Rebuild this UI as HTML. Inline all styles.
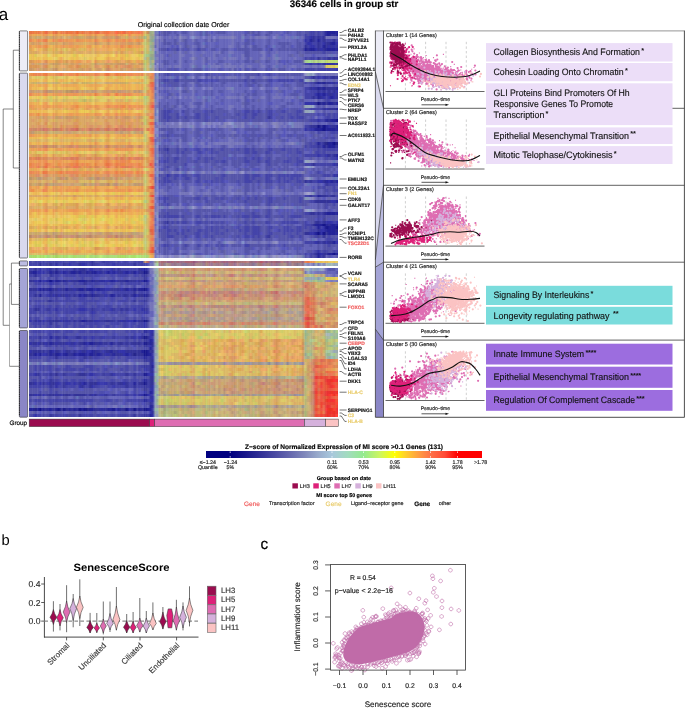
<!DOCTYPE html>
<html><head><meta charset="utf-8"><style>
html,body{margin:0;padding:0;background:#fff;}
body{width:685px;height:708px;overflow:hidden;position:relative;font-family:"Liberation Sans",sans-serif;}
.h{position:absolute;}
svg{position:absolute;left:0;top:0;will-change:transform;}
svg text{text-rendering:geometricPrecision;}
svg text{font-family:"Liberation Sans",sans-serif;}
.tx{background:linear-gradient(90deg,rgba(60,40,90,0.02) 0.0px 1.0px,rgba(60,40,90,0.02) 1.0px 2.0px,rgba(60,40,90,0.03) 2.0px 3.3px,rgba(255,255,255,0.04) 3.3px 4.1px,rgba(60,40,90,0.01) 4.1px 5.1px,rgba(255,255,255,0.01) 5.1px 6.4px,rgba(60,40,90,0.02) 6.4px 7.2px,rgba(60,40,90,0.03) 7.2px 8.2px,rgba(255,255,255,0.06) 8.2px 9.2px,rgba(60,40,90,0.01) 9.2px 10.0px,rgba(60,40,90,0.01) 10.0px 11.0px,rgba(60,40,90,0.01) 11.0px 12.3px,rgba(255,255,255,0.08) 12.3px 13.6px,rgba(60,40,90,0.01) 13.6px 14.6px,rgba(255,255,255,0.02) 14.6px 15.6px,rgba(255,255,255,0.02) 15.6px 16.6px,rgba(255,255,255,0.00) 16.6px 17.4px,rgba(60,40,90,0.02) 17.4px 18.4px,rgba(60,40,90,0.03) 18.4px 19.4px,rgba(255,255,255,0.04) 19.4px 20.4px,rgba(255,255,255,0.00) 20.4px 21.7px,rgba(255,255,255,0.02) 21.7px 22.7px,rgba(255,255,255,0.03) 22.7px 23.7px,rgba(60,40,90,0.03) 23.7px 24.7px,rgba(60,40,90,0.07) 24.7px 25.5px,rgba(255,255,255,0.06) 25.5px 26.5px,rgba(60,40,90,0.05) 26.5px 27.3px,rgba(60,40,90,0.08) 27.3px 28.1px,rgba(60,40,90,0.05) 28.1px 28.9px,rgba(255,255,255,0.01) 28.9px 30.2px,rgba(255,255,255,0.02) 30.2px 31.2px,rgba(255,255,255,0.01) 31.2px 32.0px,rgba(255,255,255,0.03) 32.0px 32.8px,rgba(255,255,255,0.07) 32.8px 33.8px,rgba(60,40,90,0.04) 33.8px 34.6px,rgba(255,255,255,0.04) 34.6px 35.9px,rgba(255,255,255,0.01) 35.9px 36.9px,rgba(60,40,90,0.04) 36.9px 37.7px,rgba(60,40,90,0.03) 37.7px 38.5px,rgba(60,40,90,0.04) 38.5px 39.5px,rgba(255,255,255,0.03) 39.5px 40.5px,rgba(255,255,255,0.01) 40.5px 41.3px,rgba(255,255,255,0.01) 41.3px 42.3px,rgba(60,40,90,0.00) 42.3px 43.3px,rgba(255,255,255,0.01) 43.3px 44.1px,rgba(60,40,90,0.03) 44.1px 45.1px,rgba(60,40,90,0.01) 45.1px 46.1px,rgba(60,40,90,0.01) 46.1px 46.9px,rgba(60,40,90,0.01) 46.9px 48.2px,rgba(60,40,90,0.00) 48.2px 49.0px,rgba(60,40,90,0.01) 49.0px 50.3px,rgba(60,40,90,0.01) 50.3px 51.1px,rgba(60,40,90,0.02) 51.1px 52.1px,rgba(255,255,255,0.01) 52.1px 53.1px,rgba(60,40,90,0.01) 53.1px 54.1px,rgba(255,255,255,0.00) 54.1px 55.1px,rgba(60,40,90,0.05) 55.1px 56.4px,rgba(255,255,255,0.03) 56.4px 57.4px,rgba(60,40,90,0.02) 57.4px 58.4px,rgba(255,255,255,0.02) 58.4px 59.2px,rgba(255,255,255,0.03) 59.2px 60.5px,rgba(60,40,90,0.02) 60.5px 61.3px,rgba(60,40,90,0.03) 61.3px 62.6px,rgba(60,40,90,0.01) 62.6px 63.6px,rgba(255,255,255,0.04) 63.6px 64.6px,rgba(255,255,255,0.00) 64.6px 65.9px,rgba(60,40,90,0.06) 65.9px 66.7px,rgba(60,40,90,0.03) 66.7px 67.7px,rgba(60,40,90,0.01) 67.7px 68.7px,rgba(255,255,255,0.01) 68.7px 69.7px,rgba(255,255,255,0.03) 69.7px 70.5px,rgba(255,255,255,0.02) 70.5px 71.5px,rgba(255,255,255,0.05) 71.5px 72.5px,rgba(255,255,255,0.05) 72.5px 73.8px,rgba(255,255,255,0.06) 73.8px 74.8px,rgba(255,255,255,0.02) 74.8px 76.1px,rgba(255,255,255,0.03) 76.1px 76.9px,rgba(60,40,90,0.02) 76.9px 77.9px,rgba(60,40,90,0.03) 77.9px 78.9px,rgba(60,40,90,0.03) 78.9px 79.9px,rgba(255,255,255,0.01) 79.9px 81.2px,rgba(255,255,255,0.02) 81.2px 82.5px,rgba(60,40,90,0.01) 82.5px 83.5px,rgba(255,255,255,0.01) 83.5px 84.5px,rgba(255,255,255,0.04) 84.5px 85.5px,rgba(255,255,255,0.01) 85.5px 86.3px,rgba(255,255,255,0.03) 86.3px 87.3px,rgba(255,255,255,0.03) 87.3px 88.3px,rgba(60,40,90,0.01) 88.3px 89.6px,rgba(255,255,255,0.02) 89.6px 90.9px,rgba(60,40,90,0.03) 90.9px 91.9px,rgba(255,255,255,0.01) 91.9px 92.7px,rgba(60,40,90,0.03) 92.7px 93.5px,rgba(60,40,90,0.02) 93.5px 94.5px,rgba(255,255,255,0.00) 94.5px 95.8px,rgba(60,40,90,0.05) 95.8px 97.1px,rgba(255,255,255,0.01) 97.1px 98.1px,rgba(60,40,90,0.03) 98.1px 98.9px,rgba(60,40,90,0.02) 98.9px 99.9px,rgba(255,255,255,0.02) 99.9px 101.2px,rgba(255,255,255,0.02) 101.2px 102.0px,rgba(255,255,255,0.00) 102.0px 103.0px,rgba(255,255,255,0.03) 103.0px 103.8px,rgba(255,255,255,0.01) 103.8px 105.1px,rgba(255,255,255,0.01) 105.1px 106.1px,rgba(255,255,255,0.00) 106.1px 106.9px,rgba(255,255,255,0.04) 106.9px 107.9px,rgba(255,255,255,0.05) 107.9px 108.9px,rgba(60,40,90,0.02) 108.9px 109.9px,rgba(60,40,90,0.04) 109.9px 110.9px,rgba(255,255,255,0.02) 110.9px 111.7px,rgba(60,40,90,0.04) 111.7px 112.7px,rgba(60,40,90,0.02) 112.7px 113.7px,rgba(255,255,255,0.04) 113.7px 115.0px,rgba(60,40,90,0.00) 115.0px 116.0px,rgba(255,255,255,0.08) 116.0px 117.3px,rgba(60,40,90,0.03) 117.3px 118.3px,rgba(60,40,90,0.02) 118.3px 119.3px,rgba(60,40,90,0.01) 119.3px 120.3px,rgba(255,255,255,0.01) 120.3px 121.6px,rgba(60,40,90,0.02) 121.6px 122.6px,rgba(60,40,90,0.02) 122.6px 123.6px,rgba(255,255,255,0.03) 123.6px 124.9px,rgba(255,255,255,0.05) 124.9px 125.7px,rgba(60,40,90,0.02) 125.7px 126.5px,rgba(60,40,90,0.02) 126.5px 127.8px,rgba(60,40,90,0.00) 127.8px 128.6px,rgba(255,255,255,0.04) 128.6px 129.9px,rgba(60,40,90,0.01) 129.9px 130.9px,rgba(255,255,255,0.09) 130.9px 131.9px,rgba(60,40,90,0.01) 131.9px 132.9px,rgba(255,255,255,0.01) 132.9px 133.9px,rgba(60,40,90,0.06) 133.9px 134.9px,rgba(60,40,90,0.05) 134.9px 135.9px,rgba(60,40,90,0.03) 135.9px 136.9px,rgba(255,255,255,0.07) 136.9px 137.9px,rgba(60,40,90,0.00) 137.9px 138.7px,rgba(60,40,90,0.02) 138.7px 139.7px,rgba(60,40,90,0.02) 139.7px 141.0px,rgba(255,255,255,0.01) 141.0px 141.8px,rgba(60,40,90,0.04) 141.8px 142.8px,rgba(255,255,255,0.00) 142.8px 143.6px,rgba(255,255,255,0.04) 143.6px 144.4px,rgba(255,255,255,0.01) 144.4px 145.4px,rgba(60,40,90,0.04) 145.4px 146.2px,rgba(60,40,90,0.01) 146.2px 147.5px,rgba(60,40,90,0.02) 147.5px 148.5px,rgba(60,40,90,0.01) 148.5px 149.8px,rgba(255,255,255,0.05) 149.8px 150.8px,rgba(255,255,255,0.05) 150.8px 151.8px,rgba(60,40,90,0.01) 151.8px 152.8px,rgba(255,255,255,0.00) 152.8px 153.8px,rgba(60,40,90,0.02) 153.8px 154.8px,rgba(255,255,255,0.01) 154.8px 155.6px,rgba(60,40,90,0.02) 155.6px 156.4px,rgba(60,40,90,0.03) 156.4px 157.4px,rgba(60,40,90,0.03) 157.4px 158.7px,rgba(60,40,90,0.02) 158.7px 160.0px,rgba(255,255,255,0.00) 160.0px 161.0px,rgba(255,255,255,0.00) 161.0px 161.8px,rgba(60,40,90,0.02) 161.8px 162.6px,rgba(255,255,255,0.01) 162.6px 163.4px,rgba(255,255,255,0.04) 163.4px 164.2px,rgba(255,255,255,0.00) 164.2px 165.2px,rgba(60,40,90,0.03) 165.2px 166.2px,rgba(255,255,255,0.02) 166.2px 167.5px,rgba(60,40,90,0.01) 167.5px 168.5px,rgba(60,40,90,0.00) 168.5px 169.3px,rgba(60,40,90,0.00) 169.3px 170.6px,rgba(60,40,90,0.00) 170.6px 171.9px,rgba(255,255,255,0.04) 171.9px 173.2px,rgba(255,255,255,0.02) 173.2px 174.2px,rgba(255,255,255,0.02) 174.2px 175.2px,rgba(60,40,90,0.00) 175.2px 176.0px,rgba(60,40,90,0.03) 176.0px 176.8px,rgba(255,255,255,0.04) 176.8px 177.8px,rgba(60,40,90,0.00) 177.8px 178.6px,rgba(255,255,255,0.04) 178.6px 179.9px,rgba(60,40,90,0.02) 179.9px 180.9px,rgba(255,255,255,0.07) 180.9px 181.9px,rgba(255,255,255,0.00) 181.9px 182.7px,rgba(60,40,90,0.00) 182.7px 183.7px,rgba(255,255,255,0.01) 183.7px 184.7px,rgba(60,40,90,0.02) 184.7px 185.7px,rgba(255,255,255,0.01) 185.7px 186.7px,rgba(255,255,255,0.03) 186.7px 187.7px,rgba(255,255,255,0.04) 187.7px 189.0px,rgba(60,40,90,0.02) 189.0px 190.3px,rgba(255,255,255,0.02) 190.3px 191.6px,rgba(60,40,90,0.04) 191.6px 192.4px,rgba(255,255,255,0.02) 192.4px 193.7px,rgba(60,40,90,0.01) 193.7px 194.7px,rgba(60,40,90,0.03) 194.7px 195.7px,rgba(255,255,255,0.03) 195.7px 196.7px,rgba(255,255,255,0.01) 196.7px 197.7px,rgba(255,255,255,0.00) 197.7px 198.7px,rgba(255,255,255,0.05) 198.7px 199.7px,rgba(60,40,90,0.01) 199.7px 200.5px,rgba(255,255,255,0.03) 200.5px 201.3px,rgba(255,255,255,0.03) 201.3px 202.1px,rgba(60,40,90,0.00) 202.1px 202.9px,rgba(60,40,90,0.01) 202.9px 203.9px,rgba(255,255,255,0.02) 203.9px 204.9px,rgba(60,40,90,0.05) 204.9px 205.7px,rgba(255,255,255,0.02) 205.7px 207.0px,rgba(255,255,255,0.01) 207.0px 207.8px,rgba(255,255,255,0.06) 207.8px 208.6px,rgba(255,255,255,0.01) 208.6px 209.4px,rgba(60,40,90,0.02) 209.4px 210.4px,rgba(255,255,255,0.00) 210.4px 211.4px,rgba(60,40,90,0.01) 211.4px 212.4px,rgba(255,255,255,0.03) 212.4px 213.2px,rgba(60,40,90,0.00) 213.2px 214.2px,rgba(255,255,255,0.02) 214.2px 215.2px,rgba(255,255,255,0.00) 215.2px 216.2px,rgba(60,40,90,0.04) 216.2px 217.5px,rgba(60,40,90,0.01) 217.5px 218.5px,rgba(60,40,90,0.01) 218.5px 219.8px,rgba(60,40,90,0.05) 219.8px 220.6px,rgba(255,255,255,0.02) 220.6px 221.6px,rgba(60,40,90,0.01) 221.6px 222.9px,rgba(60,40,90,0.04) 222.9px 223.9px,rgba(60,40,90,0.02) 223.9px 224.7px,rgba(60,40,90,0.01) 224.7px 226.0px,rgba(60,40,90,0.02) 226.0px 226.8px,rgba(60,40,90,0.00) 226.8px 227.6px,rgba(60,40,90,0.01) 227.6px 228.4px,rgba(255,255,255,0.01) 228.4px 229.4px,rgba(60,40,90,0.06) 229.4px 230.7px,rgba(60,40,90,0.04) 230.7px 231.7px,rgba(60,40,90,0.00) 231.7px 232.7px,rgba(255,255,255,0.02) 232.7px 233.7px,rgba(255,255,255,0.04) 233.7px 235.0px,rgba(255,255,255,0.06) 235.0px 235.8px,rgba(255,255,255,0.01) 235.8px 237.1px,rgba(60,40,90,0.05) 237.1px 237.9px,rgba(60,40,90,0.02) 237.9px 238.9px,rgba(255,255,255,0.02) 238.9px 240.2px,rgba(60,40,90,0.04) 240.2px 241.0px,rgba(255,255,255,0.02) 241.0px 242.0px,rgba(60,40,90,0.01) 242.0px 243.0px,rgba(255,255,255,0.03) 243.0px 244.0px,rgba(255,255,255,0.04) 244.0px 245.3px,rgba(60,40,90,0.00) 245.3px 246.6px,rgba(60,40,90,0.05) 246.6px 247.6px,rgba(60,40,90,0.01) 247.6px 248.4px,rgba(60,40,90,0.03) 248.4px 249.4px,rgba(60,40,90,0.02) 249.4px 250.7px,rgba(255,255,255,0.02) 250.7px 251.7px,rgba(255,255,255,0.03) 251.7px 252.7px,rgba(255,255,255,0.02) 252.7px 253.7px,rgba(255,255,255,0.02) 253.7px 254.7px,rgba(60,40,90,0.01) 254.7px 255.7px,rgba(255,255,255,0.05) 255.7px 256.7px,rgba(255,255,255,0.05) 256.7px 257.7px,rgba(60,40,90,0.01) 257.7px 258.7px,rgba(255,255,255,0.01) 258.7px 259.7px,rgba(255,255,255,0.07) 259.7px 260.7px,rgba(255,255,255,0.02) 260.7px 261.5px,rgba(255,255,255,0.04) 261.5px 262.5px,rgba(255,255,255,0.01) 262.5px 263.8px,rgba(255,255,255,0.01) 263.8px 264.8px,rgba(60,40,90,0.02) 264.8px 265.8px,rgba(255,255,255,0.01) 265.8px 266.6px,rgba(255,255,255,0.01) 266.6px 267.6px,rgba(255,255,255,0.03) 267.6px 268.4px,rgba(60,40,90,0.04) 268.4px 269.2px,rgba(255,255,255,0.03) 269.2px 270.2px,rgba(60,40,90,0.02) 270.2px 271.2px,rgba(255,255,255,0.00) 271.2px 272.5px,rgba(60,40,90,0.00) 272.5px 273.3px,rgba(60,40,90,0.07) 273.3px 274.6px,rgba(255,255,255,0.03) 274.6px 275.9px,rgba(60,40,90,0.04) 275.9px 276.9px,rgba(60,40,90,0.02) 276.9px 277.9px,rgba(60,40,90,0.03) 277.9px 278.9px,rgba(60,40,90,0.01) 278.9px 279.9px,rgba(60,40,90,0.01) 279.9px 281.2px,rgba(255,255,255,0.01) 281.2px 282.2px,rgba(60,40,90,0.05) 282.2px 283.2px,rgba(255,255,255,0.02) 283.2px 284.2px,rgba(60,40,90,0.03) 284.2px 285.0px,rgba(60,40,90,0.04) 285.0px 286.3px,rgba(60,40,90,0.01) 286.3px 287.3px,rgba(255,255,255,0.01) 287.3px 288.3px,rgba(60,40,90,0.03) 288.3px 289.6px,rgba(255,255,255,0.04) 289.6px 290.4px,rgba(255,255,255,0.01) 290.4px 291.4px,rgba(60,40,90,0.01) 291.4px 292.4px,rgba(60,40,90,0.00) 292.4px 293.7px,rgba(60,40,90,0.01) 293.7px 294.7px,rgba(60,40,90,0.04) 294.7px 295.7px,rgba(60,40,90,0.06) 295.7px 296.7px,rgba(255,255,255,0.04) 296.7px 297.7px,rgba(60,40,90,0.04) 297.7px 298.7px,rgba(255,255,255,0.03) 298.7px 299.5px,rgba(60,40,90,0.01) 299.5px 300.5px,rgba(60,40,90,0.02) 300.5px 301.8px,rgba(255,255,255,0.01) 301.8px 303.1px,rgba(255,255,255,0.00) 303.1px 304.4px,rgba(60,40,90,0.01) 304.4px 305.4px,rgba(60,40,90,0.01) 305.4px 306.4px,rgba(255,255,255,0.03) 306.4px 307.7px,rgba(60,40,90,0.01) 307.7px 308.7px,rgba(60,40,90,0.02) 308.7px 310.0px)}
</style></head><body>
<div class="h" style="left:29.2px;top:30.60px;width:309.1px;height:2.95px;background:linear-gradient(90deg,#e74 1.3px,#e74 3.9px,#e84 6.5px,#e74 9.1px,#e85 11.7px,#e84 14.3px,#e64 17.0px,#e85 19.6px,#e95 22.2px,#e74 24.8px,#e74 27.4px,#e95 30.0px,#e74 32.6px,#e85 35.2px,#e74 37.8px,#e74 40.4px,#e74 43.0px,#e85 45.7px,#e63 48.3px,#e85 50.9px,#e74 53.5px,#e85 56.1px,#e85 58.7px,#e74 61.3px,#e85 63.9px,#e74 66.5px,#e64 69.1px,#e85 71.8px,#e74 74.4px,#e74 77.0px,#f74 79.6px,#e85 82.2px,#e85 84.8px,#f64 87.4px,#e74 90.0px,#f74 92.6px,#e64 95.2px,#e85 97.8px,#f74 100.5px,#e74 103.1px,#e85 105.7px,#e74 108.3px,#f75 110.9px,#e85 113.5px,#db6 116.2px,#c85 119.0px,#9a8 121.6px,#ab8 124.1px,#77b 126.4px,#78b 128.3px,#55b 130.6px,#66a 133.2px,#55a 135.8px,#55a 138.4px,#55a 141.0px,#66b 143.6px,#55a 146.2px,#66b 148.8px,#66b 151.4px,#55a 154.1px,#55a 156.7px,#66b 159.3px,#77b 161.9px,#77b 164.5px,#66b 167.1px,#66b 169.7px,#55a 172.3px,#67b 174.9px,#55a 177.5px,#66b 180.1px,#55b 182.7px,#66b 185.3px,#55a 187.9px,#55a 190.5px,#55a 193.1px,#55a 195.7px,#66b 198.3px,#66b 200.9px,#77b 203.6px,#66b 206.2px,#66b 208.8px,#66b 211.4px,#66b 214.0px,#55b 216.6px,#55a 219.2px,#66a 221.8px,#55a 224.4px,#66b 227.0px,#55a 229.6px,#66b 232.2px,#66b 234.8px,#66b 237.4px,#55a 240.0px,#55a 242.6px,#66b 245.2px,#66b 247.8px,#66b 250.4px,#66b 253.1px,#55b 255.7px,#55a 258.3px,#55a 260.9px,#66b 263.5px,#66b 266.1px,#55a 268.7px,#55a 271.3px,#66b 273.9px,#55a 276.5px,#55a 279.2px,#44a 281.8px,#44a 284.5px,#55a 287.1px,#44a 289.7px,#55a 292.4px,#44a 295.0px,#229 297.6px,#229 300.1px,#229 302.7px,#229 305.3px,#229 307.8px)"></div>
<div class="h" style="left:29.2px;top:33.50px;width:309.1px;height:2.95px;background:linear-gradient(90deg,#e95 1.3px,#ea5 3.9px,#ea5 6.5px,#ea5 9.1px,#ea5 11.7px,#e95 14.3px,#e95 17.0px,#ea5 19.6px,#eb5 22.2px,#e95 24.8px,#ea5 27.4px,#ea5 30.0px,#ea5 32.6px,#ea5 35.2px,#ea5 37.8px,#ea5 40.4px,#e95 43.0px,#e95 45.7px,#e95 48.3px,#eb5 50.9px,#ea5 53.5px,#ea5 56.1px,#e95 58.7px,#e95 61.3px,#ea5 63.9px,#e95 66.5px,#ea5 69.1px,#ea5 71.8px,#ea5 74.4px,#e85 77.0px,#e95 79.6px,#e95 82.2px,#e95 84.8px,#e85 87.4px,#ea5 90.0px,#e95 92.6px,#ea5 95.2px,#eb5 97.8px,#e85 100.5px,#ea5 103.1px,#ea5 105.7px,#e95 108.3px,#ea5 110.9px,#e95 113.5px,#cc6 116.2px,#cb6 119.0px,#9a8 121.6px,#aa8 124.1px,#77b 126.4px,#77b 128.3px,#55a 130.6px,#66b 133.2px,#55a 135.8px,#55a 138.4px,#66b 141.0px,#66b 143.6px,#66b 146.2px,#55a 148.8px,#77b 151.4px,#66b 154.1px,#66b 156.7px,#66b 159.3px,#77b 161.9px,#77b 164.5px,#66b 167.1px,#66b 169.7px,#55a 172.3px,#67b 174.9px,#55a 177.5px,#66a 180.1px,#66b 182.7px,#66b 185.3px,#66b 187.9px,#66b 190.5px,#66b 193.1px,#66b 195.7px,#66b 198.3px,#66b 200.9px,#77b 203.6px,#66b 206.2px,#66b 208.8px,#66b 211.4px,#77b 214.0px,#55a 216.6px,#66b 219.2px,#66b 221.8px,#55b 224.4px,#55a 227.0px,#55a 229.6px,#66b 232.2px,#66b 234.8px,#55a 237.4px,#55a 240.0px,#66b 242.6px,#66b 245.2px,#77b 247.8px,#66b 250.4px,#55b 253.1px,#66b 255.7px,#66b 258.3px,#55b 260.9px,#66b 263.5px,#66b 266.1px,#55a 268.7px,#55a 271.3px,#66b 273.9px,#44a 276.5px,#55a 279.2px,#44a 281.8px,#44a 284.5px,#55a 287.1px,#44a 289.7px,#55a 292.4px,#44a 295.0px,#229 297.6px,#229 300.1px,#339 302.7px,#339 305.3px,#229 307.8px)"></div>
<div class="h" style="left:29.2px;top:36.40px;width:309.1px;height:2.95px;background:linear-gradient(90deg,#c96 1.3px,#da6 3.9px,#ca6 6.5px,#ca7 9.1px,#ca6 11.7px,#da6 14.3px,#c96 17.0px,#ca7 19.6px,#ca6 22.2px,#c96 24.8px,#da6 27.4px,#da6 30.0px,#c96 32.6px,#db7 35.2px,#da6 37.8px,#ca7 40.4px,#d96 43.0px,#ca6 45.7px,#c96 48.3px,#ca6 50.9px,#ca6 53.5px,#da6 56.1px,#c96 58.7px,#c96 61.3px,#ca6 63.9px,#c96 66.5px,#da6 69.1px,#da6 71.8px,#c96 74.4px,#c96 77.0px,#d96 79.6px,#c96 82.2px,#ca6 84.8px,#c86 87.4px,#c96 90.0px,#da6 92.6px,#da6 95.2px,#cb6 97.8px,#d96 100.5px,#da6 103.1px,#ca7 105.7px,#d96 108.3px,#ca6 110.9px,#ca6 113.5px,#9b8 116.2px,#db6 119.0px,#9a9 121.6px,#9a8 124.1px,#78b 126.4px,#99c 128.3px,#77b 130.6px,#77b 133.2px,#66b 135.8px,#66b 138.4px,#77b 141.0px,#66b 143.6px,#77b 146.2px,#66b 148.8px,#88b 151.4px,#77b 154.1px,#77b 156.7px,#66b 159.3px,#88c 161.9px,#89c 164.5px,#77b 167.1px,#77b 169.7px,#66b 172.3px,#88c 174.9px,#66b 177.5px,#77b 180.1px,#66b 182.7px,#88c 185.3px,#66b 187.9px,#77b 190.5px,#77b 193.1px,#77b 195.7px,#77b 198.3px,#77b 200.9px,#88b 203.6px,#77b 206.2px,#66b 208.8px,#66b 211.4px,#78b 214.0px,#66b 216.6px,#66b 219.2px,#77b 221.8px,#66b 224.4px,#77b 227.0px,#77b 229.6px,#77b 232.2px,#77b 234.8px,#77b 237.4px,#66b 240.0px,#66b 242.6px,#88c 245.2px,#77b 247.8px,#67b 250.4px,#66b 253.1px,#66b 255.7px,#77b 258.3px,#66b 260.9px,#67b 263.5px,#77b 266.1px,#67b 268.7px,#66b 271.3px,#77b 273.9px,#44a 276.5px,#44a 279.2px,#33a 281.8px,#339 284.5px,#44a 287.1px,#339 289.7px,#44a 292.4px,#339 295.0px,#77b 297.6px,#77b 300.1px,#77b 302.7px,#77b 305.3px,#66b 307.8px)"></div>
<div class="h" style="left:29.2px;top:39.30px;width:309.1px;height:2.95px;background:linear-gradient(90deg,#e85 1.3px,#e95 3.9px,#ea5 6.5px,#e85 9.1px,#e95 11.7px,#e85 14.3px,#e74 17.0px,#ea5 19.6px,#ea5 22.2px,#e85 24.8px,#ea5 27.4px,#e85 30.0px,#e85 32.6px,#e95 35.2px,#e95 37.8px,#e95 40.4px,#e95 43.0px,#ea5 45.7px,#e85 48.3px,#e95 50.9px,#e95 53.5px,#ea5 56.1px,#e95 58.7px,#e95 61.3px,#ea5 63.9px,#e85 66.5px,#e95 69.1px,#ea5 71.8px,#e95 74.4px,#e95 77.0px,#e85 79.6px,#e95 82.2px,#ea5 84.8px,#e85 87.4px,#e95 90.0px,#e95 92.6px,#e85 95.2px,#ea5 97.8px,#e85 100.5px,#e95 103.1px,#ea5 105.7px,#e84 108.3px,#e95 110.9px,#e95 113.5px,#cc7 116.2px,#ca6 119.0px,#9a8 121.6px,#8a9 124.1px,#77b 126.4px,#88b 128.3px,#66b 130.6px,#77b 133.2px,#55a 135.8px,#66b 138.4px,#66b 141.0px,#66b 143.6px,#55a 146.2px,#66b 148.8px,#77b 151.4px,#66a 154.1px,#55a 156.7px,#66b 159.3px,#66b 161.9px,#77b 164.5px,#55a 167.1px,#66b 169.7px,#66b 172.3px,#66b 174.9px,#55a 177.5px,#77b 180.1px,#55a 182.7px,#77b 185.3px,#55a 187.9px,#66b 190.5px,#66b 193.1px,#66b 195.7px,#66b 198.3px,#66b 200.9px,#77b 203.6px,#66b 206.2px,#66b 208.8px,#66b 211.4px,#77b 214.0px,#55b 216.6px,#55a 219.2px,#66b 221.8px,#55a 224.4px,#66b 227.0px,#66b 229.6px,#66b 232.2px,#66b 234.8px,#66b 237.4px,#55a 240.0px,#66b 242.6px,#66b 245.2px,#66b 247.8px,#66b 250.4px,#66b 253.1px,#66b 255.7px,#66b 258.3px,#66b 260.9px,#66b 263.5px,#66b 266.1px,#55a 268.7px,#66b 271.3px,#66b 273.9px,#33a 276.5px,#44a 279.2px,#229 281.8px,#339 284.5px,#44a 287.1px,#229 289.7px,#44a 292.4px,#339 295.0px,#44a 297.6px,#44a 300.1px,#44a 302.7px,#339 305.3px,#44a 307.8px)"></div>
<div class="h" style="left:29.2px;top:42.20px;width:309.1px;height:2.95px;background:linear-gradient(90deg,#da6 1.3px,#c96 3.9px,#da6 6.5px,#d96 9.1px,#ca6 11.7px,#da6 14.3px,#d96 17.0px,#da6 19.6px,#ca6 22.2px,#ca6 24.8px,#da6 27.4px,#da6 30.0px,#da6 32.6px,#c96 35.2px,#da6 37.8px,#d96 40.4px,#d96 43.0px,#da6 45.7px,#da6 48.3px,#da6 50.9px,#da6 53.5px,#db6 56.1px,#da6 58.7px,#da6 61.3px,#da6 63.9px,#c96 66.5px,#d96 69.1px,#ca6 71.8px,#da6 74.4px,#da6 77.0px,#c96 79.6px,#da6 82.2px,#da6 84.8px,#d96 87.4px,#da6 90.0px,#d96 92.6px,#d96 95.2px,#da6 97.8px,#c96 100.5px,#c96 103.1px,#da6 105.7px,#c96 108.3px,#c96 110.9px,#db6 113.5px,#bc7 116.2px,#cb6 119.0px,#9b8 121.6px,#aa8 124.1px,#77b 126.4px,#88b 128.3px,#66b 130.6px,#66b 133.2px,#55a 135.8px,#55a 138.4px,#55a 141.0px,#66b 143.6px,#55a 146.2px,#66a 148.8px,#66b 151.4px,#66b 154.1px,#55a 156.7px,#66b 159.3px,#66b 161.9px,#66b 164.5px,#55a 167.1px,#55a 169.7px,#66b 172.3px,#67b 174.9px,#55b 177.5px,#66b 180.1px,#66b 182.7px,#66b 185.3px,#55b 187.9px,#66b 190.5px,#66b 193.1px,#66b 195.7px,#66b 198.3px,#66b 200.9px,#77b 203.6px,#66b 206.2px,#55a 208.8px,#66b 211.4px,#66b 214.0px,#55a 216.6px,#55a 219.2px,#66b 221.8px,#55b 224.4px,#66b 227.0px,#66b 229.6px,#66b 232.2px,#66b 234.8px,#66b 237.4px,#55a 240.0px,#66b 242.6px,#66b 245.2px,#66b 247.8px,#55a 250.4px,#55a 253.1px,#55a 255.7px,#55a 258.3px,#55a 260.9px,#66b 263.5px,#66b 266.1px,#55a 268.7px,#55a 271.3px,#66b 273.9px,#44a 276.5px,#33a 279.2px,#33a 281.8px,#44a 284.5px,#44a 287.1px,#339 289.7px,#44a 292.4px,#33a 295.0px,#339 297.6px,#339 300.1px,#229 302.7px,#229 305.3px,#33a 307.8px)"></div>
<div class="h" style="left:29.2px;top:45.10px;width:309.1px;height:2.95px;background:linear-gradient(90deg,#e95 1.3px,#ea5 3.9px,#ea5 6.5px,#e95 9.1px,#e95 11.7px,#e95 14.3px,#e84 17.0px,#ea5 19.6px,#eb5 22.2px,#ea5 24.8px,#ea5 27.4px,#ea5 30.0px,#e95 32.6px,#e95 35.2px,#ea5 37.8px,#e95 40.4px,#e95 43.0px,#ea5 45.7px,#e95 48.3px,#ea5 50.9px,#ea5 53.5px,#eb5 56.1px,#e95 58.7px,#e95 61.3px,#eb5 63.9px,#ea5 66.5px,#ea5 69.1px,#eb5 71.8px,#e95 74.4px,#ea5 77.0px,#e95 79.6px,#ea5 82.2px,#ea5 84.8px,#e95 87.4px,#ea5 90.0px,#e85 92.6px,#e95 95.2px,#ea5 97.8px,#e84 100.5px,#e95 103.1px,#ea5 105.7px,#e95 108.3px,#ea5 110.9px,#ea5 113.5px,#cc7 116.2px,#db6 119.0px,#9a9 121.6px,#9a8 124.1px,#66b 126.4px,#88b 128.3px,#66b 130.6px,#66b 133.2px,#66b 135.8px,#66b 138.4px,#66b 141.0px,#55b 143.6px,#66b 146.2px,#55b 148.8px,#77b 151.4px,#66b 154.1px,#55a 156.7px,#66a 159.3px,#66b 161.9px,#77b 164.5px,#66b 167.1px,#55a 169.7px,#66b 172.3px,#77b 174.9px,#55a 177.5px,#66b 180.1px,#66b 182.7px,#66b 185.3px,#55a 187.9px,#66b 190.5px,#66b 193.1px,#66b 195.7px,#66b 198.3px,#77b 200.9px,#77b 203.6px,#66b 206.2px,#55a 208.8px,#66b 211.4px,#77b 214.0px,#55a 216.6px,#66b 219.2px,#77b 221.8px,#55a 224.4px,#55a 227.0px,#66b 229.6px,#66b 232.2px,#66b 234.8px,#55a 237.4px,#55b 240.0px,#66b 242.6px,#67b 245.2px,#66b 247.8px,#66b 250.4px,#55a 253.1px,#55a 255.7px,#66b 258.3px,#55a 260.9px,#55b 263.5px,#66b 266.1px,#55a 268.7px,#55a 271.3px,#66b 273.9px,#339 276.5px,#44a 279.2px,#33a 281.8px,#33a 284.5px,#44a 287.1px,#339 289.7px,#44a 292.4px,#229 295.0px,#339 297.6px,#33a 300.1px,#339 302.7px,#33a 305.3px,#339 307.8px)"></div>
<div class="h" style="left:29.2px;top:48.00px;width:309.1px;height:2.95px;background:linear-gradient(90deg,#da5 1.3px,#ea5 3.9px,#ec6 6.5px,#ea6 9.1px,#eb5 11.7px,#da5 14.3px,#d95 17.0px,#db5 19.6px,#db5 22.2px,#ea5 24.8px,#db5 27.4px,#eb6 30.0px,#da5 32.6px,#dc6 35.2px,#db5 37.8px,#eb6 40.4px,#da5 43.0px,#da5 45.7px,#ea6 48.3px,#db5 50.9px,#db6 53.5px,#db5 56.1px,#ea6 58.7px,#ea5 61.3px,#db6 63.9px,#ea6 66.5px,#ea5 69.1px,#ea6 71.8px,#ea5 74.4px,#ea6 77.0px,#ea5 79.6px,#ea5 82.2px,#eb6 84.8px,#ea5 87.4px,#da5 90.0px,#ea5 92.6px,#ea5 95.2px,#db5 97.8px,#da5 100.5px,#da5 103.1px,#db5 105.7px,#ea5 108.3px,#db5 110.9px,#eb5 113.5px,#bc7 116.2px,#db6 119.0px,#9ba 121.6px,#aa8 124.1px,#88c 126.4px,#88c 128.3px,#55a 130.6px,#55a 133.2px,#55a 135.8px,#44a 138.4px,#55b 141.0px,#55a 143.6px,#55a 146.2px,#44a 148.8px,#66b 151.4px,#55a 154.1px,#55b 156.7px,#55a 159.3px,#66b 161.9px,#66b 164.5px,#55a 167.1px,#44a 169.7px,#55a 172.3px,#55a 174.9px,#55b 177.5px,#66b 180.1px,#55a 182.7px,#55a 185.3px,#55b 187.9px,#66b 190.5px,#55a 193.1px,#55a 195.7px,#55a 198.3px,#66b 200.9px,#66b 203.6px,#55b 206.2px,#55a 208.8px,#55a 211.4px,#55a 214.0px,#55a 216.6px,#55a 219.2px,#66b 221.8px,#55a 224.4px,#55a 227.0px,#55a 229.6px,#55a 232.2px,#66b 234.8px,#55b 237.4px,#55a 240.0px,#44a 242.6px,#66b 245.2px,#66b 247.8px,#55a 250.4px,#55a 253.1px,#55a 255.7px,#55a 258.3px,#55a 260.9px,#55a 263.5px,#55a 266.1px,#55a 268.7px,#55a 271.3px,#55a 273.9px,#229 276.5px,#339 279.2px,#229 281.8px,#229 284.5px,#33a 287.1px,#339 289.7px,#33a 292.4px,#339 295.0px,#229 297.6px,#229 300.1px,#229 302.7px,#229 305.3px,#229 307.8px)"></div>
<div class="h" style="left:29.2px;top:50.90px;width:309.1px;height:2.95px;background:linear-gradient(90deg,#da6 1.3px,#da5 3.9px,#da6 6.5px,#da6 9.1px,#eb6 11.7px,#da6 14.3px,#da6 17.0px,#db6 19.6px,#db6 22.2px,#da5 24.8px,#db6 27.4px,#da6 30.0px,#d95 32.6px,#db6 35.2px,#db6 37.8px,#da6 40.4px,#da5 43.0px,#db6 45.7px,#da6 48.3px,#da6 50.9px,#da6 53.5px,#eb6 56.1px,#da6 58.7px,#da6 61.3px,#db6 63.9px,#da6 66.5px,#da5 69.1px,#da6 71.8px,#da5 74.4px,#da6 77.0px,#da6 79.6px,#da5 82.2px,#db6 84.8px,#d96 87.4px,#db6 90.0px,#d95 92.6px,#da6 95.2px,#db6 97.8px,#ea6 100.5px,#da6 103.1px,#db5 105.7px,#da5 108.3px,#da5 110.9px,#d96 113.5px,#bc7 116.2px,#cb6 119.0px,#9b8 121.6px,#ab8 124.1px,#67b 126.4px,#88b 128.3px,#66b 130.6px,#66b 133.2px,#66b 135.8px,#66b 138.4px,#66b 141.0px,#66b 143.6px,#66a 146.2px,#66b 148.8px,#77b 151.4px,#66b 154.1px,#66a 156.7px,#66b 159.3px,#77b 161.9px,#77b 164.5px,#66b 167.1px,#66b 169.7px,#66b 172.3px,#77b 174.9px,#66b 177.5px,#66b 180.1px,#66b 182.7px,#77b 185.3px,#66b 187.9px,#77b 190.5px,#55a 193.1px,#66b 195.7px,#66b 198.3px,#77b 200.9px,#77b 203.6px,#66b 206.2px,#66b 208.8px,#66b 211.4px,#66b 214.0px,#55a 216.6px,#55a 219.2px,#66b 221.8px,#66b 224.4px,#66b 227.0px,#66b 229.6px,#77b 232.2px,#77b 234.8px,#66b 237.4px,#55a 240.0px,#66b 242.6px,#66b 245.2px,#77b 247.8px,#66b 250.4px,#66b 253.1px,#66b 255.7px,#66b 258.3px,#66b 260.9px,#66b 263.5px,#66b 266.1px,#55a 268.7px,#66a 271.3px,#66b 273.9px,#55a 276.5px,#55a 279.2px,#55a 281.8px,#55a 284.5px,#55a 287.1px,#55a 289.7px,#55a 292.4px,#44a 295.0px,#55a 297.6px,#55a 300.1px,#55a 302.7px,#55b 305.3px,#55a 307.8px)"></div>
<div class="h" style="left:29.2px;top:53.80px;width:309.1px;height:2.95px;background:linear-gradient(90deg,#ec5 1.3px,#eb5 3.9px,#dc5 6.5px,#ec6 9.1px,#ec6 11.7px,#ec5 14.3px,#eb5 17.0px,#dd6 19.6px,#ec6 22.2px,#eb5 24.8px,#ec5 27.4px,#ec5 30.0px,#ec5 32.6px,#ec5 35.2px,#ec6 37.8px,#ec6 40.4px,#ec5 43.0px,#dc5 45.7px,#eb5 48.3px,#ed6 50.9px,#ec5 53.5px,#ec6 56.1px,#ec6 58.7px,#ec6 61.3px,#ec6 63.9px,#ec6 66.5px,#eb5 69.1px,#ec5 71.8px,#ec6 74.4px,#ec5 77.0px,#eb5 79.6px,#ec5 82.2px,#ed6 84.8px,#ea5 87.4px,#ec5 90.0px,#eb5 92.6px,#eb5 95.2px,#dc5 97.8px,#eb5 100.5px,#ec6 103.1px,#ec6 105.7px,#ec5 108.3px,#dc5 110.9px,#ec5 113.5px,#ac8 116.2px,#ac8 119.0px,#9a8 121.6px,#9a8 124.1px,#77b 126.4px,#77b 128.3px,#66b 130.6px,#77b 133.2px,#66b 135.8px,#55b 138.4px,#66a 141.0px,#66b 143.6px,#66b 146.2px,#66b 148.8px,#77b 151.4px,#77b 154.1px,#66b 156.7px,#66b 159.3px,#66b 161.9px,#77b 164.5px,#66b 167.1px,#66b 169.7px,#66a 172.3px,#66b 174.9px,#66b 177.5px,#66b 180.1px,#66b 182.7px,#77b 185.3px,#55a 187.9px,#66b 190.5px,#66b 193.1px,#66b 195.7px,#66b 198.3px,#67b 200.9px,#66b 203.6px,#66b 206.2px,#66b 208.8px,#66b 211.4px,#77b 214.0px,#55a 216.6px,#55a 219.2px,#66b 221.8px,#66b 224.4px,#66b 227.0px,#66b 229.6px,#66b 232.2px,#77b 234.8px,#66b 237.4px,#55b 240.0px,#66b 242.6px,#77b 245.2px,#67b 247.8px,#66b 250.4px,#66b 253.1px,#66b 255.7px,#66b 258.3px,#55a 260.9px,#66a 263.5px,#66b 266.1px,#66b 268.7px,#66a 271.3px,#66a 273.9px,#66b 276.5px,#66b 279.2px,#66b 281.8px,#55b 284.5px,#66b 287.1px,#66b 289.7px,#66b 292.4px,#66b 295.0px,#66b 297.6px,#77b 300.1px,#67b 302.7px,#77b 305.3px,#66b 307.8px)"></div>
<div class="h" style="left:29.2px;top:56.70px;width:309.1px;height:2.95px;background:linear-gradient(90deg,#ec5 1.3px,#eb5 3.9px,#ec5 6.5px,#eb5 9.1px,#ec5 11.7px,#eb5 14.3px,#eb5 17.0px,#ec5 19.6px,#ec5 22.2px,#ec6 24.8px,#ed6 27.4px,#eb5 30.0px,#ea5 32.6px,#ec6 35.2px,#ec6 37.8px,#ec5 40.4px,#eb5 43.0px,#ec5 45.7px,#eb5 48.3px,#ec6 50.9px,#ec6 53.5px,#dc6 56.1px,#ec6 58.7px,#ec5 61.3px,#ec6 63.9px,#eb5 66.5px,#ec5 69.1px,#ec5 71.8px,#ec5 74.4px,#eb5 77.0px,#ea5 79.6px,#eb5 82.2px,#eb5 84.8px,#eb5 87.4px,#ec5 90.0px,#ea5 92.6px,#eb5 95.2px,#ec5 97.8px,#eb5 100.5px,#ec5 103.1px,#ec6 105.7px,#eb5 108.3px,#ec5 110.9px,#ec6 113.5px,#ab9 116.2px,#cb6 119.0px,#8a9 121.6px,#9a8 124.1px,#78b 126.4px,#88b 128.3px,#66b 130.6px,#77b 133.2px,#66b 135.8px,#66b 138.4px,#66b 141.0px,#66b 143.6px,#66b 146.2px,#66b 148.8px,#77b 151.4px,#66b 154.1px,#66b 156.7px,#66b 159.3px,#77b 161.9px,#88b 164.5px,#66a 167.1px,#66b 169.7px,#66b 172.3px,#77b 174.9px,#55a 177.5px,#77b 180.1px,#66b 182.7px,#77b 185.3px,#66b 187.9px,#66b 190.5px,#66b 193.1px,#77b 195.7px,#66b 198.3px,#77b 200.9px,#77b 203.6px,#77b 206.2px,#66b 208.8px,#66b 211.4px,#77b 214.0px,#66b 216.6px,#55a 219.2px,#77b 221.8px,#66b 224.4px,#66b 227.0px,#66b 229.6px,#77b 232.2px,#77b 234.8px,#66b 237.4px,#66a 240.0px,#66b 242.6px,#77b 245.2px,#78b 247.8px,#77b 250.4px,#66b 253.1px,#66b 255.7px,#66b 258.3px,#66b 260.9px,#66b 263.5px,#77b 266.1px,#66b 268.7px,#66b 271.3px,#66b 273.9px,#44a 276.5px,#55a 279.2px,#44a 281.8px,#44a 284.5px,#55b 287.1px,#339 289.7px,#55a 292.4px,#44a 295.0px,#44a 297.6px,#339 300.1px,#44a 302.7px,#339 305.3px,#339 307.8px)"></div>
<div class="h" style="left:29.2px;top:59.60px;width:309.1px;height:2.95px;background:linear-gradient(90deg,#d95 1.3px,#d95 3.9px,#ea5 6.5px,#e95 9.1px,#ea5 11.7px,#ea6 14.3px,#d85 17.0px,#ea5 19.6px,#ea5 22.2px,#ea5 24.8px,#da5 27.4px,#d95 30.0px,#e95 32.6px,#da5 35.2px,#d95 37.8px,#ea6 40.4px,#d95 43.0px,#ea5 45.7px,#e95 48.3px,#e95 50.9px,#ea6 53.5px,#eb6 56.1px,#e95 58.7px,#ea6 61.3px,#ec6 63.9px,#e95 66.5px,#da5 69.1px,#ea5 71.8px,#da5 74.4px,#ea6 77.0px,#e96 79.6px,#ea6 82.2px,#ea5 84.8px,#d95 87.4px,#da5 90.0px,#ea6 92.6px,#ea6 95.2px,#da5 97.8px,#d95 100.5px,#ea5 103.1px,#db5 105.7px,#e95 108.3px,#ea5 110.9px,#da5 113.5px,#bc6 116.2px,#cb6 119.0px,#9a9 121.6px,#bb7 124.1px,#77b 126.4px,#77b 128.3px,#66b 130.6px,#66b 133.2px,#55a 135.8px,#55a 138.4px,#66b 141.0px,#66b 143.6px,#55a 146.2px,#66b 148.8px,#77b 151.4px,#66b 154.1px,#55a 156.7px,#66b 159.3px,#66b 161.9px,#77b 164.5px,#66b 167.1px,#66b 169.7px,#66b 172.3px,#77b 174.9px,#55a 177.5px,#66b 180.1px,#66b 182.7px,#66b 185.3px,#66b 187.9px,#55a 190.5px,#55a 193.1px,#66b 195.7px,#66b 198.3px,#66b 200.9px,#66b 203.6px,#66b 206.2px,#55a 208.8px,#66b 211.4px,#66b 214.0px,#55a 216.6px,#55a 219.2px,#66b 221.8px,#55a 224.4px,#66a 227.0px,#66a 229.6px,#66b 232.2px,#66b 234.8px,#55a 237.4px,#55a 240.0px,#66b 242.6px,#66b 245.2px,#77b 247.8px,#55a 250.4px,#55b 253.1px,#55b 255.7px,#55a 258.3px,#55b 260.9px,#66b 263.5px,#55a 266.1px,#55a 268.7px,#55a 271.3px,#66a 273.9px,#ac9 276.5px,#ad8 279.2px,#ad9 281.8px,#ac8 284.5px,#bd8 287.1px,#ac8 289.7px,#bd8 292.4px,#bd9 295.0px,#bd6 297.6px,#cd7 300.1px,#bd7 302.7px,#bd7 305.3px,#bd7 307.8px)"></div>
<div class="h" style="left:29.2px;top:62.50px;width:309.1px;height:2.95px;background:linear-gradient(90deg,#da6 1.3px,#c97 3.9px,#da6 6.5px,#ca6 9.1px,#ca7 11.7px,#c97 14.3px,#c97 17.0px,#da6 19.6px,#ca6 22.2px,#c96 24.8px,#ca6 27.4px,#c96 30.0px,#da6 32.6px,#ca6 35.2px,#ca6 37.8px,#da6 40.4px,#c96 43.0px,#da6 45.7px,#d96 48.3px,#ca7 50.9px,#da6 53.5px,#da6 56.1px,#da6 58.7px,#da6 61.3px,#cb6 63.9px,#c96 66.5px,#ca7 69.1px,#ca6 71.8px,#ca6 74.4px,#c96 77.0px,#ca6 79.6px,#c96 82.2px,#ca6 84.8px,#c96 87.4px,#c96 90.0px,#c96 92.6px,#c96 95.2px,#cb7 97.8px,#d96 100.5px,#c96 103.1px,#ca6 105.7px,#da6 108.3px,#c96 110.9px,#c96 113.5px,#ac7 116.2px,#db6 119.0px,#9a9 121.6px,#9b8 124.1px,#66b 126.4px,#99c 128.3px,#66b 130.6px,#77b 133.2px,#55a 135.8px,#55a 138.4px,#66b 141.0px,#66b 143.6px,#66b 146.2px,#66b 148.8px,#77b 151.4px,#66b 154.1px,#66b 156.7px,#66b 159.3px,#77b 161.9px,#77b 164.5px,#66b 167.1px,#66b 169.7px,#66b 172.3px,#77b 174.9px,#55b 177.5px,#77b 180.1px,#66b 182.7px,#77b 185.3px,#55a 187.9px,#66b 190.5px,#66b 193.1px,#77b 195.7px,#66a 198.3px,#77b 200.9px,#66b 203.6px,#66b 206.2px,#66b 208.8px,#66b 211.4px,#77b 214.0px,#66b 216.6px,#66b 219.2px,#66b 221.8px,#66b 224.4px,#66b 227.0px,#66b 229.6px,#77b 232.2px,#66b 234.8px,#66b 237.4px,#66b 240.0px,#66b 242.6px,#66b 245.2px,#77b 247.8px,#66b 250.4px,#66b 253.1px,#55b 255.7px,#66b 258.3px,#55a 260.9px,#66b 263.5px,#66b 266.1px,#66b 268.7px,#66b 271.3px,#66b 273.9px,#44a 276.5px,#44a 279.2px,#33a 281.8px,#44a 284.5px,#44a 287.1px,#33a 289.7px,#44a 292.4px,#339 295.0px,#33a 297.6px,#33a 300.1px,#339 302.7px,#33a 305.3px,#339 307.8px)"></div>
<div class="h" style="left:29.2px;top:65.40px;width:309.1px;height:2.95px;background:linear-gradient(90deg,#d95 1.3px,#d95 3.9px,#d95 6.5px,#d95 9.1px,#da6 11.7px,#d96 14.3px,#d85 17.0px,#da5 19.6px,#db6 22.2px,#da6 24.8px,#da5 27.4px,#da6 30.0px,#ea6 32.6px,#ea6 35.2px,#da6 37.8px,#d95 40.4px,#d95 43.0px,#ea6 45.7px,#d85 48.3px,#d95 50.9px,#da5 53.5px,#da5 56.1px,#d95 58.7px,#da6 61.3px,#db6 63.9px,#d96 66.5px,#d96 69.1px,#ea6 71.8px,#da5 74.4px,#d95 77.0px,#d85 79.6px,#da5 82.2px,#da6 84.8px,#d85 87.4px,#da6 90.0px,#e96 92.6px,#d96 95.2px,#d96 97.8px,#d85 100.5px,#d96 103.1px,#da5 105.7px,#d95 108.3px,#ea6 110.9px,#da6 113.5px,#bc7 116.2px,#db7 119.0px,#9ba 121.6px,#aa8 124.1px,#88c 126.4px,#88b 128.3px,#66b 130.6px,#77b 133.2px,#66b 135.8px,#66b 138.4px,#77b 141.0px,#66b 143.6px,#77b 146.2px,#77b 148.8px,#77b 151.4px,#66b 154.1px,#66b 156.7px,#66b 159.3px,#77b 161.9px,#78b 164.5px,#66a 167.1px,#66b 169.7px,#66b 172.3px,#78b 174.9px,#66b 177.5px,#67b 180.1px,#77b 182.7px,#77b 185.3px,#77b 187.9px,#77b 190.5px,#66b 193.1px,#77b 195.7px,#77b 198.3px,#77b 200.9px,#77b 203.6px,#77b 206.2px,#66b 208.8px,#77b 211.4px,#77b 214.0px,#66b 216.6px,#77b 219.2px,#77b 221.8px,#66b 224.4px,#66b 227.0px,#66b 229.6px,#77b 232.2px,#77b 234.8px,#66b 237.4px,#55a 240.0px,#66b 242.6px,#77b 245.2px,#67b 247.8px,#66b 250.4px,#66b 253.1px,#66a 255.7px,#66b 258.3px,#66b 260.9px,#77b 263.5px,#77b 266.1px,#66b 268.7px,#66b 271.3px,#77b 273.9px,#77b 276.5px,#77b 279.2px,#66b 281.8px,#77b 284.5px,#77b 287.1px,#66b 289.7px,#77b 292.4px,#77b 295.0px,#dc5 297.6px,#dc6 300.1px,#dc6 302.7px,#dc5 305.3px,#dd6 307.8px)"></div>
<div class="h" style="left:29.2px;top:68.30px;width:309.1px;height:2.95px;background:linear-gradient(90deg,#c96 1.3px,#c96 3.9px,#da6 6.5px,#d97 9.1px,#ca6 11.7px,#c96 14.3px,#c96 17.0px,#da6 19.6px,#ca7 22.2px,#c96 24.8px,#c96 27.4px,#da6 30.0px,#da6 32.6px,#ca7 35.2px,#da6 37.8px,#da6 40.4px,#d96 43.0px,#da6 45.7px,#d96 48.3px,#ca6 50.9px,#c96 53.5px,#da6 56.1px,#d96 58.7px,#c96 61.3px,#db6 63.9px,#da6 66.5px,#c96 69.1px,#c96 71.8px,#db6 74.4px,#c96 77.0px,#c86 79.6px,#d96 82.2px,#da6 84.8px,#d96 87.4px,#da6 90.0px,#c96 92.6px,#ca7 95.2px,#da6 97.8px,#d96 100.5px,#c96 103.1px,#ca6 105.7px,#c96 108.3px,#c96 110.9px,#c96 113.5px,#ac8 116.2px,#db6 119.0px,#9a8 121.6px,#aa8 124.1px,#77b 126.4px,#88b 128.3px,#55a 130.6px,#66b 133.2px,#66b 135.8px,#55a 138.4px,#55a 141.0px,#55b 143.6px,#55a 146.2px,#55b 148.8px,#66b 151.4px,#66b 154.1px,#55a 156.7px,#66b 159.3px,#66b 161.9px,#66a 164.5px,#55a 167.1px,#55a 169.7px,#55a 172.3px,#67b 174.9px,#55b 177.5px,#66b 180.1px,#66b 182.7px,#66b 185.3px,#66b 187.9px,#55a 190.5px,#55b 193.1px,#66b 195.7px,#66b 198.3px,#55a 200.9px,#77b 203.6px,#55a 206.2px,#66b 208.8px,#55b 211.4px,#77b 214.0px,#55a 216.6px,#55b 219.2px,#66b 221.8px,#55a 224.4px,#55a 227.0px,#66b 229.6px,#66b 232.2px,#66b 234.8px,#55a 237.4px,#55b 240.0px,#55a 242.6px,#66a 245.2px,#77b 247.8px,#55a 250.4px,#55a 253.1px,#55a 255.7px,#66b 258.3px,#66b 260.9px,#55b 263.5px,#66b 266.1px,#55a 268.7px,#55a 271.3px,#66b 273.9px,#44a 276.5px,#44a 279.2px,#44a 281.8px,#44a 284.5px,#55a 287.1px,#44a 289.7px,#44a 292.4px,#44a 295.0px,#44a 297.6px,#44a 300.1px,#44a 302.7px,#44a 305.3px,#33a 307.8px)"></div>
<div class="h" style="left:29.2px;top:72.80px;width:309.1px;height:2.95px;background:linear-gradient(90deg,#e95 1.3px,#e84 3.9px,#e85 6.5px,#e85 9.1px,#e85 11.7px,#e84 14.3px,#e74 17.0px,#e95 19.6px,#e95 22.2px,#e95 24.8px,#e95 27.4px,#e85 30.0px,#e74 32.6px,#e95 35.2px,#e95 37.8px,#e85 40.4px,#e85 43.0px,#e95 45.7px,#e74 48.3px,#e95 50.9px,#e85 53.5px,#e95 56.1px,#e85 58.7px,#e95 61.3px,#e95 63.9px,#e85 66.5px,#e85 69.1px,#e95 71.8px,#e95 74.4px,#e74 77.0px,#e74 79.6px,#e95 82.2px,#e95 84.8px,#e74 87.4px,#e84 90.0px,#e85 92.6px,#e84 95.2px,#e95 97.8px,#e85 100.5px,#e85 103.1px,#e95 105.7px,#e85 108.3px,#e95 110.9px,#e85 113.5px,#db6 116.2px,#d96 119.0px,#e95 121.6px,#e85 124.1px,#77b 126.4px,#89c 128.3px,#55a 130.6px,#66b 133.2px,#55a 135.8px,#44a 138.4px,#55a 141.0px,#55b 143.6px,#55a 146.2px,#55a 148.8px,#55a 151.4px,#55a 154.1px,#55a 156.7px,#55b 159.3px,#66b 161.9px,#66b 164.5px,#55a 167.1px,#55a 169.7px,#55a 172.3px,#66b 174.9px,#44a 177.5px,#55a 180.1px,#55a 182.7px,#55b 185.3px,#55a 187.9px,#55b 190.5px,#55a 193.1px,#55a 195.7px,#55b 198.3px,#55a 200.9px,#66b 203.6px,#55a 206.2px,#55b 208.8px,#55a 211.4px,#66b 214.0px,#55a 216.6px,#55a 219.2px,#55a 221.8px,#55a 224.4px,#55a 227.0px,#44a 229.6px,#66b 232.2px,#55a 234.8px,#55b 237.4px,#44a 240.0px,#55a 242.6px,#55b 245.2px,#66b 247.8px,#55a 250.4px,#55a 253.1px,#55a 255.7px,#55a 258.3px,#55a 260.9px,#55a 263.5px,#55a 266.1px,#55a 268.7px,#55a 271.3px,#66b 273.9px,#99c 276.5px,#9ab 279.2px,#89b 281.8px,#9ac 284.5px,#77b 287.1px,#66b 289.7px,#77b 292.4px,#77b 295.0px,#77b 297.6px,#77b 300.1px,#77b 302.7px,#77b 305.3px,#77b 307.8px)"></div>
<div class="h" style="left:29.2px;top:75.70px;width:309.1px;height:2.95px;background:linear-gradient(90deg,#db6 1.3px,#ec6 3.9px,#dc6 6.5px,#dc6 9.1px,#dc6 11.7px,#dc6 14.3px,#da5 17.0px,#ec6 19.6px,#dc5 22.2px,#db5 24.8px,#dc6 27.4px,#dc6 30.0px,#dc6 32.6px,#dc6 35.2px,#db5 37.8px,#ec6 40.4px,#ec6 43.0px,#ec6 45.7px,#eb6 48.3px,#dc6 50.9px,#dc6 53.5px,#dc6 56.1px,#db6 58.7px,#db5 61.3px,#dc6 63.9px,#eb6 66.5px,#db6 69.1px,#dc6 71.8px,#dc6 74.4px,#eb6 77.0px,#db6 79.6px,#db5 82.2px,#dc6 84.8px,#db6 87.4px,#db5 90.0px,#db5 92.6px,#eb6 95.2px,#dc6 97.8px,#db6 100.5px,#ec6 103.1px,#dc6 105.7px,#db6 108.3px,#dc6 110.9px,#ec6 113.5px,#bc7 116.2px,#db6 119.0px,#d85 121.6px,#e85 124.1px,#78b 126.4px,#89b 128.3px,#66b 130.6px,#66b 133.2px,#66b 135.8px,#66b 138.4px,#77b 141.0px,#67b 143.6px,#66b 146.2px,#55b 148.8px,#77b 151.4px,#66b 154.1px,#55a 156.7px,#67b 159.3px,#77b 161.9px,#88c 164.5px,#55a 167.1px,#66b 169.7px,#77b 172.3px,#88c 174.9px,#55a 177.5px,#77b 180.1px,#55a 182.7px,#77b 185.3px,#55a 187.9px,#77b 190.5px,#66b 193.1px,#66b 195.7px,#77b 198.3px,#77b 200.9px,#77b 203.6px,#77b 206.2px,#66b 208.8px,#66b 211.4px,#77b 214.0px,#66b 216.6px,#55a 219.2px,#77b 221.8px,#77b 224.4px,#66b 227.0px,#66b 229.6px,#66b 232.2px,#77b 234.8px,#77b 237.4px,#66b 240.0px,#66b 242.6px,#77b 245.2px,#77b 247.8px,#66b 250.4px,#66b 253.1px,#66b 255.7px,#66a 258.3px,#66b 260.9px,#77b 263.5px,#66b 266.1px,#66b 268.7px,#66b 271.3px,#77b 273.9px,#55a 276.5px,#55a 279.2px,#44a 281.8px,#339 284.5px,#44a 287.1px,#33a 289.7px,#44a 292.4px,#33a 295.0px,#339 297.6px,#44a 300.1px,#339 302.7px,#339 305.3px,#339 307.8px)"></div>
<div class="h" style="left:29.2px;top:78.60px;width:309.1px;height:2.95px;background:linear-gradient(90deg,#eb5 1.3px,#eb5 3.9px,#eb5 6.5px,#eb5 9.1px,#ec6 11.7px,#eb5 14.3px,#ea5 17.0px,#ec5 19.6px,#ec6 22.2px,#eb5 24.8px,#dc5 27.4px,#eb5 30.0px,#ea5 32.6px,#eb5 35.2px,#eb5 37.8px,#ec5 40.4px,#ea5 43.0px,#ec6 45.7px,#ea5 48.3px,#eb5 50.9px,#eb5 53.5px,#ec5 56.1px,#eb5 58.7px,#eb5 61.3px,#ec5 63.9px,#eb5 66.5px,#eb5 69.1px,#eb5 71.8px,#ec6 74.4px,#eb5 77.0px,#eb5 79.6px,#eb5 82.2px,#eb5 84.8px,#ea5 87.4px,#eb5 90.0px,#eb5 92.6px,#eb5 95.2px,#ec5 97.8px,#eb5 100.5px,#eb5 103.1px,#eb5 105.7px,#eb5 108.3px,#eb5 110.9px,#ea5 113.5px,#cc7 116.2px,#dc6 119.0px,#d95 121.6px,#d95 124.1px,#77b 126.4px,#88c 128.3px,#55a 130.6px,#55a 133.2px,#44a 135.8px,#44a 138.4px,#55a 141.0px,#55a 143.6px,#44a 146.2px,#44a 148.8px,#55a 151.4px,#55a 154.1px,#55a 156.7px,#55a 159.3px,#55a 161.9px,#55a 164.5px,#55a 167.1px,#44a 169.7px,#44a 172.3px,#55b 174.9px,#44a 177.5px,#55b 180.1px,#44a 182.7px,#55b 185.3px,#44a 187.9px,#55a 190.5px,#55a 193.1px,#55a 195.7px,#55a 198.3px,#55a 200.9px,#55a 203.6px,#55a 206.2px,#55a 208.8px,#55a 211.4px,#55a 214.0px,#44a 216.6px,#55a 219.2px,#55a 221.8px,#44a 224.4px,#55a 227.0px,#55a 229.6px,#55a 232.2px,#55a 234.8px,#55a 237.4px,#44a 240.0px,#44a 242.6px,#55b 245.2px,#55b 247.8px,#44a 250.4px,#44a 253.1px,#44a 255.7px,#44a 258.3px,#44a 260.9px,#44a 263.5px,#55a 266.1px,#55a 268.7px,#44a 271.3px,#44a 273.9px,#9ac 276.5px,#9ab 279.2px,#88b 281.8px,#89b 284.5px,#66a 287.1px,#66b 289.7px,#77b 292.4px,#66a 295.0px,#66b 297.6px,#66b 300.1px,#66b 302.7px,#66a 305.3px,#66b 307.8px)"></div>
<div class="h" style="left:29.2px;top:81.50px;width:309.1px;height:2.95px;background:linear-gradient(90deg,#db6 1.3px,#ca6 3.9px,#cb6 6.5px,#ca7 9.1px,#cb7 11.7px,#ca7 14.3px,#ca7 17.0px,#cb6 19.6px,#cb7 22.2px,#ca7 24.8px,#cb7 27.4px,#ca6 30.0px,#db6 32.6px,#cb6 35.2px,#cb6 37.8px,#cb7 40.4px,#ca7 43.0px,#ca6 45.7px,#ca6 48.3px,#dc7 50.9px,#ca6 53.5px,#cb6 56.1px,#ca6 58.7px,#cb6 61.3px,#cb7 63.9px,#da6 66.5px,#cb7 69.1px,#cb7 71.8px,#db7 74.4px,#ca7 77.0px,#ca7 79.6px,#ca7 82.2px,#ca6 84.8px,#ca6 87.4px,#ca7 90.0px,#ca6 92.6px,#ca6 95.2px,#cb6 97.8px,#da6 100.5px,#db7 103.1px,#cb7 105.7px,#ca6 108.3px,#cb7 110.9px,#db6 113.5px,#bc7 116.2px,#dc6 119.0px,#d74 121.6px,#e64 124.1px,#77b 126.4px,#89c 128.3px,#55a 130.6px,#67b 133.2px,#55a 135.8px,#55a 138.4px,#55a 141.0px,#55a 143.6px,#55a 146.2px,#55a 148.8px,#66b 151.4px,#66b 154.1px,#55a 156.7px,#66b 159.3px,#77b 161.9px,#77b 164.5px,#55a 167.1px,#55a 169.7px,#66b 172.3px,#66b 174.9px,#55b 177.5px,#66b 180.1px,#55a 182.7px,#66b 185.3px,#66b 187.9px,#66b 190.5px,#55a 193.1px,#55a 195.7px,#66b 198.3px,#66b 200.9px,#66b 203.6px,#66b 206.2px,#66b 208.8px,#66b 211.4px,#66b 214.0px,#55b 216.6px,#55a 219.2px,#66b 221.8px,#55a 224.4px,#55a 227.0px,#66b 229.6px,#66b 232.2px,#66b 234.8px,#66b 237.4px,#55a 240.0px,#55b 242.6px,#66b 245.2px,#66b 247.8px,#66b 250.4px,#66b 253.1px,#55a 255.7px,#66b 258.3px,#55b 260.9px,#66b 263.5px,#66b 266.1px,#55a 268.7px,#55a 271.3px,#55a 273.9px,#44a 276.5px,#55a 279.2px,#44a 281.8px,#44a 284.5px,#339 287.1px,#229 289.7px,#339 292.4px,#229 295.0px,#339 297.6px,#339 300.1px,#33a 302.7px,#339 305.3px,#33a 307.8px)"></div>
<div class="h" style="left:29.2px;top:84.39px;width:309.1px;height:2.95px;background:linear-gradient(90deg,#ea5 1.3px,#ea5 3.9px,#eb5 6.5px,#ea5 9.1px,#ea5 11.7px,#ea5 14.3px,#e95 17.0px,#eb5 19.6px,#ec5 22.2px,#ea5 24.8px,#eb5 27.4px,#eb5 30.0px,#ea5 32.6px,#ea5 35.2px,#ea5 37.8px,#ea5 40.4px,#ea5 43.0px,#ea5 45.7px,#ea5 48.3px,#eb5 50.9px,#eb5 53.5px,#eb5 56.1px,#ea5 58.7px,#ea5 61.3px,#ea5 63.9px,#ea5 66.5px,#ea5 69.1px,#ea5 71.8px,#eb5 74.4px,#eb5 77.0px,#ea5 79.6px,#ea5 82.2px,#eb5 84.8px,#ea5 87.4px,#eb5 90.0px,#ea5 92.6px,#ea5 95.2px,#eb5 97.8px,#ea5 100.5px,#eb5 103.1px,#eb5 105.7px,#ea5 108.3px,#eb5 110.9px,#ea5 113.5px,#dc6 116.2px,#da6 119.0px,#e75 121.6px,#e64 124.1px,#77b 126.4px,#99c 128.3px,#55a 130.6px,#66b 133.2px,#55b 135.8px,#55a 138.4px,#55b 141.0px,#55a 143.6px,#55a 146.2px,#55a 148.8px,#66b 151.4px,#55a 154.1px,#55a 156.7px,#66b 159.3px,#66b 161.9px,#77b 164.5px,#55b 167.1px,#55a 169.7px,#55a 172.3px,#66b 174.9px,#55a 177.5px,#66b 180.1px,#55a 182.7px,#66b 185.3px,#55a 187.9px,#66b 190.5px,#55a 193.1px,#66b 195.7px,#66b 198.3px,#66b 200.9px,#66b 203.6px,#66b 206.2px,#66b 208.8px,#55a 211.4px,#66b 214.0px,#55b 216.6px,#55a 219.2px,#55a 221.8px,#55b 224.4px,#66b 227.0px,#55a 229.6px,#66a 232.2px,#66b 234.8px,#55a 237.4px,#55a 240.0px,#55b 242.6px,#66b 245.2px,#66b 247.8px,#66b 250.4px,#55b 253.1px,#55a 255.7px,#55a 258.3px,#55a 260.9px,#66b 263.5px,#66b 266.1px,#55a 268.7px,#55a 271.3px,#55a 273.9px,#66b 276.5px,#66b 279.2px,#55b 281.8px,#55a 284.5px,#55b 287.1px,#55b 289.7px,#66b 292.4px,#55a 295.0px,#55a 297.6px,#66b 300.1px,#66b 302.7px,#55a 305.3px,#55a 307.8px)"></div>
<div class="h" style="left:29.2px;top:87.29px;width:309.1px;height:2.95px;background:linear-gradient(90deg,#ea5 1.3px,#eb5 3.9px,#eb5 6.5px,#eb5 9.1px,#ec5 11.7px,#eb5 14.3px,#e95 17.0px,#ec6 19.6px,#ec6 22.2px,#eb5 24.8px,#eb5 27.4px,#ec5 30.0px,#eb5 32.6px,#eb5 35.2px,#eb5 37.8px,#eb5 40.4px,#eb5 43.0px,#eb5 45.7px,#ea5 48.3px,#eb5 50.9px,#ec5 53.5px,#ec6 56.1px,#eb5 58.7px,#eb5 61.3px,#eb5 63.9px,#ea5 66.5px,#eb5 69.1px,#ec6 71.8px,#ec5 74.4px,#ea5 77.0px,#ea5 79.6px,#eb5 82.2px,#eb5 84.8px,#ea5 87.4px,#eb5 90.0px,#eb5 92.6px,#ea5 95.2px,#eb5 97.8px,#ea5 100.5px,#eb5 103.1px,#eb5 105.7px,#ea5 108.3px,#eb5 110.9px,#ea5 113.5px,#cc6 116.2px,#db6 119.0px,#e85 121.6px,#e75 124.1px,#66b 126.4px,#88b 128.3px,#66b 130.6px,#77b 133.2px,#66b 135.8px,#66b 138.4px,#77b 141.0px,#66b 143.6px,#77b 146.2px,#67b 148.8px,#88c 151.4px,#66b 154.1px,#66a 156.7px,#66b 159.3px,#88c 161.9px,#77b 164.5px,#66b 167.1px,#66b 169.7px,#66b 172.3px,#88c 174.9px,#66b 177.5px,#77b 180.1px,#77b 182.7px,#66b 185.3px,#66b 187.9px,#66b 190.5px,#66b 193.1px,#66b 195.7px,#77b 198.3px,#77b 200.9px,#78b 203.6px,#66b 206.2px,#66b 208.8px,#66b 211.4px,#66b 214.0px,#66b 216.6px,#66b 219.2px,#88c 221.8px,#66b 224.4px,#66b 227.0px,#66b 229.6px,#88c 232.2px,#77b 234.8px,#66b 237.4px,#66b 240.0px,#66b 242.6px,#77b 245.2px,#88b 247.8px,#66b 250.4px,#66b 253.1px,#66b 255.7px,#66b 258.3px,#55a 260.9px,#66b 263.5px,#77b 266.1px,#66b 268.7px,#66b 271.3px,#66b 273.9px,#44a 276.5px,#44a 279.2px,#339 281.8px,#33a 284.5px,#339 287.1px,#229 289.7px,#339 292.4px,#229 295.0px,#339 297.6px,#339 300.1px,#339 302.7px,#339 305.3px,#229 307.8px)"></div>
<div class="h" style="left:29.2px;top:90.19px;width:309.1px;height:2.95px;background:linear-gradient(90deg,#c97 1.3px,#c96 3.9px,#ca7 6.5px,#c97 9.1px,#ca7 11.7px,#c96 14.3px,#c86 17.0px,#b97 19.6px,#b97 22.2px,#c96 24.8px,#ca6 27.4px,#c97 30.0px,#c96 32.6px,#ca6 35.2px,#b96 37.8px,#b96 40.4px,#b86 43.0px,#c97 45.7px,#b87 48.3px,#ca7 50.9px,#c96 53.5px,#ca7 56.1px,#b97 58.7px,#ca7 61.3px,#b97 63.9px,#c97 66.5px,#ca7 69.1px,#ca6 71.8px,#c96 74.4px,#c96 77.0px,#c97 79.6px,#c96 82.2px,#b96 84.8px,#c96 87.4px,#b97 90.0px,#c97 92.6px,#c97 95.2px,#ca7 97.8px,#c96 100.5px,#da6 103.1px,#b97 105.7px,#c96 108.3px,#b97 110.9px,#ca7 113.5px,#cc7 116.2px,#d95 119.0px,#e95 121.6px,#d75 124.1px,#88b 126.4px,#88c 128.3px,#55a 130.6px,#66b 133.2px,#55b 135.8px,#55a 138.4px,#66b 141.0px,#66b 143.6px,#66b 146.2px,#66b 148.8px,#77b 151.4px,#55a 154.1px,#55a 156.7px,#66a 159.3px,#66b 161.9px,#77b 164.5px,#55a 167.1px,#66b 169.7px,#66b 172.3px,#66b 174.9px,#55a 177.5px,#66b 180.1px,#55a 182.7px,#66b 185.3px,#66b 187.9px,#55a 190.5px,#55a 193.1px,#66b 195.7px,#66b 198.3px,#66b 200.9px,#77b 203.6px,#66b 206.2px,#66b 208.8px,#66b 211.4px,#66b 214.0px,#55a 216.6px,#66b 219.2px,#66b 221.8px,#55b 224.4px,#55a 227.0px,#66b 229.6px,#66b 232.2px,#66b 234.8px,#55a 237.4px,#55a 240.0px,#55b 242.6px,#66b 245.2px,#66b 247.8px,#66a 250.4px,#55a 253.1px,#55b 255.7px,#66b 258.3px,#55b 260.9px,#66b 263.5px,#55a 266.1px,#55b 268.7px,#55a 271.3px,#66b 273.9px,#44a 276.5px,#55b 279.2px,#44a 281.8px,#44a 284.5px,#44a 287.1px,#339 289.7px,#44a 292.4px,#339 295.0px,#44a 297.6px,#339 300.1px,#44a 302.7px,#339 305.3px,#33a 307.8px)"></div>
<div class="h" style="left:29.2px;top:93.09px;width:309.1px;height:2.95px;background:linear-gradient(90deg,#e85 1.3px,#e95 3.9px,#ea5 6.5px,#e95 9.1px,#ea5 11.7px,#e95 14.3px,#e85 17.0px,#ea5 19.6px,#ea5 22.2px,#e95 24.8px,#ea5 27.4px,#e95 30.0px,#e95 32.6px,#ea5 35.2px,#e95 37.8px,#e95 40.4px,#e95 43.0px,#e95 45.7px,#e95 48.3px,#ea5 50.9px,#e95 53.5px,#ea5 56.1px,#e95 58.7px,#e95 61.3px,#ea5 63.9px,#e84 66.5px,#e95 69.1px,#ea5 71.8px,#e95 74.4px,#e95 77.0px,#e85 79.6px,#ea5 82.2px,#ea5 84.8px,#e74 87.4px,#e95 90.0px,#e95 92.6px,#e85 95.2px,#e95 97.8px,#e85 100.5px,#e95 103.1px,#ea5 105.7px,#e95 108.3px,#ea5 110.9px,#e95 113.5px,#eb6 116.2px,#d96 119.0px,#e95 121.6px,#e85 124.1px,#67b 126.4px,#88b 128.3px,#66b 130.6px,#66b 133.2px,#66b 135.8px,#55b 138.4px,#55a 141.0px,#66a 143.6px,#66b 146.2px,#55b 148.8px,#77b 151.4px,#66b 154.1px,#66b 156.7px,#66b 159.3px,#66b 161.9px,#77b 164.5px,#55b 167.1px,#66b 169.7px,#66b 172.3px,#66b 174.9px,#55a 177.5px,#66b 180.1px,#55a 182.7px,#66b 185.3px,#66b 187.9px,#66b 190.5px,#55b 193.1px,#66b 195.7px,#66b 198.3px,#66b 200.9px,#66b 203.6px,#66b 206.2px,#55a 208.8px,#66b 211.4px,#66a 214.0px,#66b 216.6px,#55a 219.2px,#66b 221.8px,#55a 224.4px,#55a 227.0px,#66b 229.6px,#66b 232.2px,#66b 234.8px,#66b 237.4px,#55a 240.0px,#66b 242.6px,#66b 245.2px,#77b 247.8px,#66b 250.4px,#66b 253.1px,#55b 255.7px,#66b 258.3px,#55a 260.9px,#55a 263.5px,#55a 266.1px,#55a 268.7px,#66b 271.3px,#66b 273.9px,#44a 276.5px,#44a 279.2px,#44a 281.8px,#44a 284.5px,#33a 287.1px,#229 289.7px,#33a 292.4px,#229 295.0px,#33a 297.6px,#339 300.1px,#339 302.7px,#33a 305.3px,#339 307.8px)"></div>
<div class="h" style="left:29.2px;top:95.99px;width:309.1px;height:2.95px;background:linear-gradient(90deg,#ec5 1.3px,#ec6 3.9px,#ec6 6.5px,#ec5 9.1px,#dc6 11.7px,#ec5 14.3px,#eb5 17.0px,#dc6 19.6px,#cc6 22.2px,#ec5 24.8px,#dc6 27.4px,#ec6 30.0px,#ec5 32.6px,#dc6 35.2px,#dc5 37.8px,#ec6 40.4px,#ec6 43.0px,#dd6 45.7px,#ec6 48.3px,#dc6 50.9px,#dc6 53.5px,#dd6 56.1px,#ec5 58.7px,#dc5 61.3px,#dd6 63.9px,#ec6 66.5px,#dc5 69.1px,#dc5 71.8px,#dc6 74.4px,#ec6 77.0px,#ec6 79.6px,#dc5 82.2px,#dc6 84.8px,#ec5 87.4px,#ec6 90.0px,#ec5 92.6px,#eb5 95.2px,#dd6 97.8px,#ec5 100.5px,#dc5 103.1px,#dd6 105.7px,#ec6 108.3px,#dc5 110.9px,#dc5 113.5px,#ac8 116.2px,#cc6 119.0px,#e95 121.6px,#d85 124.1px,#77b 126.4px,#88c 128.3px,#77b 130.6px,#77b 133.2px,#66b 135.8px,#55a 138.4px,#77b 141.0px,#66b 143.6px,#77b 146.2px,#66b 148.8px,#88c 151.4px,#66b 154.1px,#77b 156.7px,#66b 159.3px,#77b 161.9px,#77b 164.5px,#66b 167.1px,#67b 169.7px,#66b 172.3px,#78b 174.9px,#66b 177.5px,#67b 180.1px,#66b 182.7px,#77b 185.3px,#55b 187.9px,#66b 190.5px,#66b 193.1px,#66b 195.7px,#77b 198.3px,#77b 200.9px,#77b 203.6px,#77b 206.2px,#66b 208.8px,#77b 211.4px,#77b 214.0px,#55a 216.6px,#66b 219.2px,#77b 221.8px,#66b 224.4px,#66b 227.0px,#66b 229.6px,#77b 232.2px,#77b 234.8px,#66b 237.4px,#55a 240.0px,#66b 242.6px,#77b 245.2px,#77b 247.8px,#77b 250.4px,#66b 253.1px,#66b 255.7px,#77b 258.3px,#66b 260.9px,#77b 263.5px,#66b 266.1px,#66a 268.7px,#67b 271.3px,#77b 273.9px,#44a 276.5px,#44a 279.2px,#44a 281.8px,#339 284.5px,#44a 287.1px,#229 289.7px,#339 292.4px,#33a 295.0px,#44a 297.6px,#33a 300.1px,#229 302.7px,#33a 305.3px,#339 307.8px)"></div>
<div class="h" style="left:29.2px;top:98.89px;width:309.1px;height:2.95px;background:linear-gradient(90deg,#db6 1.3px,#db6 3.9px,#cc6 6.5px,#da6 9.1px,#dc6 11.7px,#db6 14.3px,#db6 17.0px,#db6 19.6px,#cc6 22.2px,#db6 24.8px,#db6 27.4px,#dc6 30.0px,#db6 32.6px,#cb6 35.2px,#db6 37.8px,#db6 40.4px,#db6 43.0px,#db6 45.7px,#db6 48.3px,#cc6 50.9px,#cb6 53.5px,#bb6 56.1px,#db6 58.7px,#cb6 61.3px,#dc6 63.9px,#db6 66.5px,#db6 69.1px,#dc6 71.8px,#dc6 74.4px,#dc6 77.0px,#da6 79.6px,#db6 82.2px,#dc6 84.8px,#da6 87.4px,#db6 90.0px,#da6 92.6px,#db6 95.2px,#cc6 97.8px,#da6 100.5px,#db6 103.1px,#cc7 105.7px,#db6 108.3px,#db6 110.9px,#db6 113.5px,#bc7 116.2px,#cc7 119.0px,#d95 121.6px,#e95 124.1px,#78b 126.4px,#88c 128.3px,#66b 130.6px,#66b 133.2px,#66b 135.8px,#66b 138.4px,#66b 141.0px,#66b 143.6px,#66b 146.2px,#55a 148.8px,#66b 151.4px,#66b 154.1px,#66b 156.7px,#66b 159.3px,#66b 161.9px,#77b 164.5px,#66b 167.1px,#66b 169.7px,#66b 172.3px,#77b 174.9px,#55a 177.5px,#67b 180.1px,#66b 182.7px,#66b 185.3px,#66b 187.9px,#66b 190.5px,#55a 193.1px,#66b 195.7px,#66b 198.3px,#66b 200.9px,#66b 203.6px,#66b 206.2px,#55a 208.8px,#66b 211.4px,#77b 214.0px,#55a 216.6px,#55b 219.2px,#66b 221.8px,#55a 224.4px,#66b 227.0px,#66a 229.6px,#66b 232.2px,#66b 234.8px,#66b 237.4px,#55a 240.0px,#66b 242.6px,#66b 245.2px,#66b 247.8px,#66b 250.4px,#55a 253.1px,#66b 255.7px,#66b 258.3px,#66b 260.9px,#55b 263.5px,#66b 266.1px,#66b 268.7px,#55a 271.3px,#55a 273.9px,#66b 276.5px,#66b 279.2px,#66b 281.8px,#66b 284.5px,#77b 287.1px,#55a 289.7px,#66b 292.4px,#55a 295.0px,#44a 297.6px,#44a 300.1px,#55a 302.7px,#55a 305.3px,#55a 307.8px)"></div>
<div class="h" style="left:29.2px;top:101.78px;width:309.1px;height:2.95px;background:linear-gradient(90deg,#ea5 1.3px,#ea5 3.9px,#eb5 6.5px,#ea5 9.1px,#ec5 11.7px,#ea5 14.3px,#e95 17.0px,#eb6 19.6px,#ec5 22.2px,#ea5 24.8px,#eb5 27.4px,#ea5 30.0px,#ea5 32.6px,#eb5 35.2px,#eb5 37.8px,#ea5 40.4px,#eb5 43.0px,#ea5 45.7px,#ea5 48.3px,#eb5 50.9px,#eb5 53.5px,#eb5 56.1px,#ea5 58.7px,#eb5 61.3px,#ec6 63.9px,#eb5 66.5px,#eb5 69.1px,#eb5 71.8px,#eb5 74.4px,#ea5 77.0px,#ea5 79.6px,#ea5 82.2px,#eb5 84.8px,#ea5 87.4px,#ea5 90.0px,#ea5 92.6px,#ea5 95.2px,#ea5 97.8px,#ea5 100.5px,#eb5 103.1px,#eb5 105.7px,#ea5 108.3px,#eb5 110.9px,#eb5 113.5px,#bc7 116.2px,#db6 119.0px,#d85 121.6px,#e75 124.1px,#88b 126.4px,#88b 128.3px,#55a 130.6px,#66b 133.2px,#66b 135.8px,#55a 138.4px,#66b 141.0px,#66b 143.6px,#66b 146.2px,#55a 148.8px,#66b 151.4px,#55a 154.1px,#66b 156.7px,#66b 159.3px,#77b 161.9px,#66b 164.5px,#55a 167.1px,#55a 169.7px,#55a 172.3px,#77b 174.9px,#55b 177.5px,#66b 180.1px,#66b 182.7px,#66b 185.3px,#55a 187.9px,#66b 190.5px,#55b 193.1px,#66b 195.7px,#66b 198.3px,#66b 200.9px,#66b 203.6px,#66b 206.2px,#66b 208.8px,#66b 211.4px,#66a 214.0px,#55a 216.6px,#55a 219.2px,#66b 221.8px,#66b 224.4px,#66b 227.0px,#66b 229.6px,#66b 232.2px,#66b 234.8px,#66b 237.4px,#55b 240.0px,#55b 242.6px,#66b 245.2px,#66b 247.8px,#66b 250.4px,#66b 253.1px,#66b 255.7px,#55a 258.3px,#55a 260.9px,#55a 263.5px,#66b 266.1px,#66b 268.7px,#55b 271.3px,#66b 273.9px,#33a 276.5px,#33a 279.2px,#33a 281.8px,#33a 284.5px,#339 287.1px,#118 289.7px,#339 292.4px,#229 295.0px,#339 297.6px,#229 300.1px,#229 302.7px,#339 305.3px,#229 307.8px)"></div>
<div class="h" style="left:29.2px;top:104.68px;width:309.1px;height:2.95px;background:linear-gradient(90deg,#e95 1.3px,#e95 3.9px,#ea5 6.5px,#ea5 9.1px,#ea5 11.7px,#e95 14.3px,#e95 17.0px,#e95 19.6px,#ea5 22.2px,#e95 24.8px,#ea5 27.4px,#e95 30.0px,#e95 32.6px,#ea5 35.2px,#ea5 37.8px,#ea5 40.4px,#e95 43.0px,#e95 45.7px,#e84 48.3px,#ea5 50.9px,#ea5 53.5px,#ea5 56.1px,#e95 58.7px,#e95 61.3px,#ea5 63.9px,#e95 66.5px,#e95 69.1px,#ea5 71.8px,#ea5 74.4px,#e95 77.0px,#e85 79.6px,#e95 82.2px,#e95 84.8px,#e85 87.4px,#e95 90.0px,#e85 92.6px,#e84 95.2px,#ea5 97.8px,#e85 100.5px,#e95 103.1px,#e95 105.7px,#e95 108.3px,#e95 110.9px,#e95 113.5px,#db6 116.2px,#da5 119.0px,#e75 121.6px,#e54 124.1px,#77b 126.4px,#77b 128.3px,#55a 130.6px,#66b 133.2px,#55a 135.8px,#55a 138.4px,#66b 141.0px,#66a 143.6px,#55a 146.2px,#66b 148.8px,#77b 151.4px,#66b 154.1px,#55a 156.7px,#66b 159.3px,#77b 161.9px,#77b 164.5px,#66b 167.1px,#55a 169.7px,#66b 172.3px,#77b 174.9px,#55b 177.5px,#66b 180.1px,#55a 182.7px,#66b 185.3px,#66b 187.9px,#66b 190.5px,#66b 193.1px,#66b 195.7px,#66b 198.3px,#77b 200.9px,#77b 203.6px,#66b 206.2px,#66b 208.8px,#66b 211.4px,#77b 214.0px,#55a 216.6px,#66b 219.2px,#66b 221.8px,#55a 224.4px,#66b 227.0px,#66b 229.6px,#66b 232.2px,#66b 234.8px,#66b 237.4px,#55a 240.0px,#66b 242.6px,#66b 245.2px,#77b 247.8px,#66b 250.4px,#55a 253.1px,#55a 255.7px,#66b 258.3px,#66b 260.9px,#66b 263.5px,#66b 266.1px,#66b 268.7px,#66b 271.3px,#66a 273.9px,#9ab 276.5px,#9ab 279.2px,#9ab 281.8px,#9ac 284.5px,#66b 287.1px,#55a 289.7px,#66b 292.4px,#55a 295.0px,#77b 297.6px,#66b 300.1px,#66b 302.7px,#66b 305.3px,#66b 307.8px)"></div>
<div class="h" style="left:29.2px;top:107.58px;width:309.1px;height:2.95px;background:linear-gradient(90deg,#da5 1.3px,#e95 3.9px,#da5 6.5px,#ea6 9.1px,#ea5 11.7px,#ea6 14.3px,#d95 17.0px,#eb6 19.6px,#eb6 22.2px,#da5 24.8px,#eb6 27.4px,#da5 30.0px,#ea6 32.6px,#db5 35.2px,#da5 37.8px,#ea6 40.4px,#d95 43.0px,#ea5 45.7px,#e95 48.3px,#eb6 50.9px,#db5 53.5px,#ea5 56.1px,#d95 58.7px,#ea6 61.3px,#eb6 63.9px,#ea5 66.5px,#d95 69.1px,#ea5 71.8px,#ea6 74.4px,#ea6 77.0px,#da5 79.6px,#da6 82.2px,#da5 84.8px,#d95 87.4px,#da5 90.0px,#e95 92.6px,#ea5 95.2px,#da5 97.8px,#e96 100.5px,#d95 103.1px,#eb6 105.7px,#e96 108.3px,#ea6 110.9px,#ea6 113.5px,#dc6 116.2px,#da5 119.0px,#e85 121.6px,#e85 124.1px,#77b 126.4px,#89c 128.3px,#55a 130.6px,#66a 133.2px,#55b 135.8px,#55a 138.4px,#55a 141.0px,#55a 143.6px,#66b 146.2px,#66b 148.8px,#66b 151.4px,#66b 154.1px,#66b 156.7px,#55a 159.3px,#66b 161.9px,#66b 164.5px,#55a 167.1px,#55a 169.7px,#66b 172.3px,#66b 174.9px,#55a 177.5px,#66b 180.1px,#55a 182.7px,#66b 185.3px,#55a 187.9px,#55a 190.5px,#55a 193.1px,#66b 195.7px,#66b 198.3px,#77b 200.9px,#66b 203.6px,#55a 206.2px,#66b 208.8px,#66b 211.4px,#66b 214.0px,#55a 216.6px,#55a 219.2px,#66b 221.8px,#55a 224.4px,#66b 227.0px,#55a 229.6px,#66b 232.2px,#66b 234.8px,#55a 237.4px,#55a 240.0px,#55a 242.6px,#66b 245.2px,#66b 247.8px,#55a 250.4px,#55a 253.1px,#55b 255.7px,#55b 258.3px,#55a 260.9px,#55a 263.5px,#55a 266.1px,#55a 268.7px,#55b 271.3px,#66b 273.9px,#55a 276.5px,#55a 279.2px,#44a 281.8px,#44a 284.5px,#44a 287.1px,#44a 289.7px,#44a 292.4px,#339 295.0px,#33a 297.6px,#339 300.1px,#339 302.7px,#339 305.3px,#229 307.8px)"></div>
<div class="h" style="left:29.2px;top:110.48px;width:309.1px;height:2.95px;background:linear-gradient(90deg,#eb5 1.3px,#eb5 3.9px,#eb5 6.5px,#eb5 9.1px,#eb5 11.7px,#eb5 14.3px,#eb5 17.0px,#ec6 19.6px,#ec6 22.2px,#eb5 24.8px,#eb5 27.4px,#eb5 30.0px,#eb5 32.6px,#ec5 35.2px,#ec5 37.8px,#eb5 40.4px,#eb5 43.0px,#eb5 45.7px,#ea5 48.3px,#ec5 50.9px,#ec5 53.5px,#ec5 56.1px,#ec5 58.7px,#eb5 61.3px,#dc5 63.9px,#eb5 66.5px,#eb5 69.1px,#ec6 71.8px,#ec5 74.4px,#eb5 77.0px,#ea5 79.6px,#ec6 82.2px,#eb5 84.8px,#ea5 87.4px,#ec5 90.0px,#ea5 92.6px,#eb5 95.2px,#ec5 97.8px,#ea5 100.5px,#eb5 103.1px,#ec6 105.7px,#ec6 108.3px,#ec5 110.9px,#eb5 113.5px,#cc7 116.2px,#db6 119.0px,#d95 121.6px,#e95 124.1px,#77b 126.4px,#9ac 128.3px,#55a 130.6px,#55a 133.2px,#44a 135.8px,#44a 138.4px,#44a 141.0px,#55b 143.6px,#55a 146.2px,#55a 148.8px,#66b 151.4px,#44a 154.1px,#55a 156.7px,#55a 159.3px,#66b 161.9px,#55a 164.5px,#55a 167.1px,#55a 169.7px,#55a 172.3px,#55b 174.9px,#44a 177.5px,#55a 180.1px,#44a 182.7px,#55a 185.3px,#55a 187.9px,#55a 190.5px,#55a 193.1px,#55a 195.7px,#55a 198.3px,#66b 200.9px,#66b 203.6px,#55a 206.2px,#55a 208.8px,#55a 211.4px,#55b 214.0px,#44a 216.6px,#44a 219.2px,#55a 221.8px,#44a 224.4px,#55b 227.0px,#44a 229.6px,#55a 232.2px,#55b 234.8px,#55a 237.4px,#44a 240.0px,#44a 242.6px,#55b 245.2px,#55a 247.8px,#55a 250.4px,#44a 253.1px,#44a 255.7px,#55a 258.3px,#55a 260.9px,#55a 263.5px,#55a 266.1px,#44a 268.7px,#44a 271.3px,#55a 273.9px,#9ab 276.5px,#9ab 279.2px,#9ac 281.8px,#9ab 284.5px,#66b 287.1px,#66b 289.7px,#77b 292.4px,#55a 295.0px,#66b 297.6px,#66b 300.1px,#66a 302.7px,#66b 305.3px,#55a 307.8px)"></div>
<div class="h" style="left:29.2px;top:113.38px;width:309.1px;height:2.95px;background:linear-gradient(90deg,#e95 1.3px,#e95 3.9px,#ea5 6.5px,#e84 9.1px,#ea5 11.7px,#e95 14.3px,#e95 17.0px,#ea5 19.6px,#eb5 22.2px,#e95 24.8px,#ea5 27.4px,#ea5 30.0px,#ea5 32.6px,#ea5 35.2px,#ea5 37.8px,#e95 40.4px,#e95 43.0px,#ea5 45.7px,#e95 48.3px,#ea5 50.9px,#ea5 53.5px,#ea5 56.1px,#e95 58.7px,#ea5 61.3px,#ea5 63.9px,#e95 66.5px,#e95 69.1px,#e95 71.8px,#eb5 74.4px,#e95 77.0px,#e95 79.6px,#ea5 82.2px,#ea5 84.8px,#e85 87.4px,#ea5 90.0px,#e95 92.6px,#e95 95.2px,#ea5 97.8px,#e95 100.5px,#ea5 103.1px,#ea5 105.7px,#e95 108.3px,#e95 110.9px,#ea5 113.5px,#db6 116.2px,#d96 119.0px,#e96 121.6px,#e85 124.1px,#67b 126.4px,#89c 128.3px,#55a 130.6px,#55a 133.2px,#44a 135.8px,#44a 138.4px,#55a 141.0px,#55a 143.6px,#55a 146.2px,#44a 148.8px,#66b 151.4px,#55b 154.1px,#55a 156.7px,#55a 159.3px,#66b 161.9px,#66b 164.5px,#44a 167.1px,#44a 169.7px,#55a 172.3px,#55a 174.9px,#44a 177.5px,#55a 180.1px,#55a 182.7px,#55a 185.3px,#55a 187.9px,#55a 190.5px,#55a 193.1px,#55b 195.7px,#55a 198.3px,#55a 200.9px,#66b 203.6px,#55a 206.2px,#44a 208.8px,#55a 211.4px,#55a 214.0px,#44a 216.6px,#55a 219.2px,#55a 221.8px,#44a 224.4px,#44a 227.0px,#55a 229.6px,#55a 232.2px,#55a 234.8px,#55a 237.4px,#44a 240.0px,#44a 242.6px,#55a 245.2px,#55b 247.8px,#55a 250.4px,#55a 253.1px,#55a 255.7px,#55a 258.3px,#44a 260.9px,#55a 263.5px,#55a 266.1px,#44a 268.7px,#55a 271.3px,#55a 273.9px,#55a 276.5px,#55a 279.2px,#55a 281.8px,#55a 284.5px,#55b 287.1px,#44a 289.7px,#55b 292.4px,#44a 295.0px,#55a 297.6px,#44a 300.1px,#55a 302.7px,#44a 305.3px,#44a 307.8px)"></div>
<div class="h" style="left:29.2px;top:116.28px;width:309.1px;height:2.95px;background:linear-gradient(90deg,#da6 1.3px,#da6 3.9px,#da6 6.5px,#d96 9.1px,#ca6 11.7px,#c96 14.3px,#d96 17.0px,#ca6 19.6px,#da7 22.2px,#d96 24.8px,#ca6 27.4px,#c96 30.0px,#c97 32.6px,#ca6 35.2px,#c96 37.8px,#c96 40.4px,#c96 43.0px,#ca6 45.7px,#c96 48.3px,#da6 50.9px,#da6 53.5px,#da6 56.1px,#d96 58.7px,#da6 61.3px,#ca6 63.9px,#da6 66.5px,#c96 69.1px,#da6 71.8px,#c96 74.4px,#da7 77.0px,#d96 79.6px,#c96 82.2px,#da6 84.8px,#c86 87.4px,#da7 90.0px,#d96 92.6px,#c96 95.2px,#c96 97.8px,#c96 100.5px,#da6 103.1px,#ca7 105.7px,#d96 108.3px,#c96 110.9px,#ca6 113.5px,#cc6 116.2px,#db6 119.0px,#e74 121.6px,#d74 124.1px,#88b 126.4px,#99c 128.3px,#55a 130.6px,#55a 133.2px,#44a 135.8px,#44a 138.4px,#44a 141.0px,#55a 143.6px,#55a 146.2px,#44a 148.8px,#55a 151.4px,#55a 154.1px,#44a 156.7px,#55a 159.3px,#55a 161.9px,#55a 164.5px,#44a 167.1px,#44a 169.7px,#55a 172.3px,#55a 174.9px,#44a 177.5px,#55b 180.1px,#55a 182.7px,#55a 185.3px,#44a 187.9px,#55a 190.5px,#55a 193.1px,#55a 195.7px,#55a 198.3px,#55a 200.9px,#55a 203.6px,#55a 206.2px,#55a 208.8px,#55a 211.4px,#55b 214.0px,#44a 216.6px,#55a 219.2px,#55a 221.8px,#44a 224.4px,#55a 227.0px,#55a 229.6px,#55a 232.2px,#55a 234.8px,#55a 237.4px,#339 240.0px,#44a 242.6px,#55b 245.2px,#55a 247.8px,#55a 250.4px,#44a 253.1px,#55a 255.7px,#55a 258.3px,#44a 260.9px,#44a 263.5px,#55a 266.1px,#44a 268.7px,#44a 271.3px,#44a 273.9px,#55a 276.5px,#66b 279.2px,#55a 281.8px,#55b 284.5px,#77b 287.1px,#55b 289.7px,#66b 292.4px,#55b 295.0px,#44a 297.6px,#44a 300.1px,#55a 302.7px,#44a 305.3px,#44a 307.8px)"></div>
<div class="h" style="left:29.2px;top:119.17px;width:309.1px;height:2.95px;background:linear-gradient(90deg,#da6 1.3px,#d96 3.9px,#da6 6.5px,#da6 9.1px,#da5 11.7px,#da6 14.3px,#d96 17.0px,#da6 19.6px,#db6 22.2px,#da5 24.8px,#db6 27.4px,#da6 30.0px,#da6 32.6px,#da6 35.2px,#da6 37.8px,#d96 40.4px,#da6 43.0px,#da5 45.7px,#d95 48.3px,#da6 50.9px,#da6 53.5px,#da6 56.1px,#da6 58.7px,#da6 61.3px,#db6 63.9px,#ea6 66.5px,#da6 69.1px,#da6 71.8px,#da6 74.4px,#d95 77.0px,#da6 79.6px,#da6 82.2px,#da6 84.8px,#d96 87.4px,#da5 90.0px,#d96 92.6px,#d96 95.2px,#da6 97.8px,#d96 100.5px,#ea6 103.1px,#da5 105.7px,#d96 108.3px,#da5 110.9px,#db6 113.5px,#bc6 116.2px,#da6 119.0px,#da5 121.6px,#e95 124.1px,#78b 126.4px,#89b 128.3px,#55a 130.6px,#55a 133.2px,#55a 135.8px,#44a 138.4px,#55a 141.0px,#55a 143.6px,#55a 146.2px,#55a 148.8px,#66b 151.4px,#55a 154.1px,#55a 156.7px,#55a 159.3px,#66b 161.9px,#66b 164.5px,#55a 167.1px,#55a 169.7px,#55a 172.3px,#55a 174.9px,#44a 177.5px,#55a 180.1px,#55a 182.7px,#55a 185.3px,#55b 187.9px,#55a 190.5px,#55a 193.1px,#55b 195.7px,#66b 198.3px,#66b 200.9px,#66b 203.6px,#55b 206.2px,#55a 208.8px,#55a 211.4px,#55a 214.0px,#55a 216.6px,#55a 219.2px,#55b 221.8px,#55a 224.4px,#55a 227.0px,#55a 229.6px,#55a 232.2px,#55a 234.8px,#55b 237.4px,#55a 240.0px,#55a 242.6px,#55b 245.2px,#66b 247.8px,#55a 250.4px,#55a 253.1px,#55a 255.7px,#55a 258.3px,#55a 260.9px,#55a 263.5px,#55b 266.1px,#55a 268.7px,#55a 271.3px,#55a 273.9px,#55a 276.5px,#55a 279.2px,#44a 281.8px,#44a 284.5px,#44a 287.1px,#33a 289.7px,#44a 292.4px,#44a 295.0px,#229 297.6px,#339 300.1px,#229 302.7px,#229 305.3px,#118 307.8px)"></div>
<div class="h" style="left:29.2px;top:122.07px;width:309.1px;height:2.95px;background:linear-gradient(90deg,#da6 1.3px,#da6 3.9px,#da6 6.5px,#d95 9.1px,#da6 11.7px,#da6 14.3px,#d85 17.0px,#db6 19.6px,#da6 22.2px,#d96 24.8px,#da6 27.4px,#da6 30.0px,#d96 32.6px,#da6 35.2px,#da6 37.8px,#da6 40.4px,#da6 43.0px,#d96 45.7px,#d96 48.3px,#da5 50.9px,#da6 53.5px,#da6 56.1px,#d96 58.7px,#da6 61.3px,#da6 63.9px,#da6 66.5px,#da6 69.1px,#da5 71.8px,#da6 74.4px,#d96 77.0px,#d96 79.6px,#da6 82.2px,#da6 84.8px,#d96 87.4px,#da6 90.0px,#d95 92.6px,#d96 95.2px,#da5 97.8px,#d95 100.5px,#d96 103.1px,#da6 105.7px,#d96 108.3px,#da6 110.9px,#d96 113.5px,#bc7 116.2px,#da5 119.0px,#e64 121.6px,#e64 124.1px,#66b 126.4px,#88c 128.3px,#67b 130.6px,#77b 133.2px,#66b 135.8px,#77b 138.4px,#77b 141.0px,#88c 143.6px,#77b 146.2px,#77b 148.8px,#99c 151.4px,#77b 154.1px,#77b 156.7px,#88c 159.3px,#77b 161.9px,#88c 164.5px,#66b 167.1px,#66b 169.7px,#77b 172.3px,#89c 174.9px,#77b 177.5px,#88b 180.1px,#77b 182.7px,#88c 185.3px,#77b 187.9px,#88c 190.5px,#66b 193.1px,#88b 195.7px,#88b 198.3px,#99c 200.9px,#89c 203.6px,#77b 206.2px,#77b 208.8px,#77b 211.4px,#88b 214.0px,#66b 216.6px,#77b 219.2px,#78c 221.8px,#77b 224.4px,#77b 227.0px,#77b 229.6px,#88c 232.2px,#77b 234.8px,#77b 237.4px,#66b 240.0px,#77b 242.6px,#88b 245.2px,#88b 247.8px,#77b 250.4px,#77b 253.1px,#66b 255.7px,#77b 258.3px,#78c 260.9px,#78b 263.5px,#77b 266.1px,#77b 268.7px,#77b 271.3px,#77b 273.9px,#66b 276.5px,#66b 279.2px,#66a 281.8px,#66b 284.5px,#66b 287.1px,#55a 289.7px,#66b 292.4px,#66b 295.0px,#66b 297.6px,#55a 300.1px,#55a 302.7px,#55b 305.3px,#66b 307.8px)"></div>
<div class="h" style="left:29.2px;top:124.97px;width:309.1px;height:2.95px;background:linear-gradient(90deg,#da6 1.3px,#d96 3.9px,#da6 6.5px,#d96 9.1px,#d96 11.7px,#d96 14.3px,#d96 17.0px,#da5 19.6px,#da5 22.2px,#d96 24.8px,#da6 27.4px,#da6 30.0px,#d85 32.6px,#da5 35.2px,#d96 37.8px,#d96 40.4px,#d96 43.0px,#d95 45.7px,#d85 48.3px,#da6 50.9px,#da6 53.5px,#da5 56.1px,#d96 58.7px,#d96 61.3px,#d96 63.9px,#da6 66.5px,#d96 69.1px,#d96 71.8px,#da6 74.4px,#d96 77.0px,#d85 79.6px,#d96 82.2px,#da6 84.8px,#e96 87.4px,#d96 90.0px,#d86 92.6px,#d96 95.2px,#da6 97.8px,#d85 100.5px,#d96 103.1px,#da5 105.7px,#d96 108.3px,#da5 110.9px,#da6 113.5px,#db6 116.2px,#db6 119.0px,#e85 121.6px,#e85 124.1px,#77b 126.4px,#77b 128.3px,#77b 130.6px,#77b 133.2px,#77b 135.8px,#66b 138.4px,#77b 141.0px,#77b 143.6px,#77b 146.2px,#77b 148.8px,#88b 151.4px,#77b 154.1px,#77b 156.7px,#88c 159.3px,#78b 161.9px,#88b 164.5px,#66b 167.1px,#66b 169.7px,#77b 172.3px,#88c 174.9px,#66b 177.5px,#88c 180.1px,#66b 182.7px,#88c 185.3px,#66b 187.9px,#77b 190.5px,#77b 193.1px,#88b 195.7px,#77b 198.3px,#77b 200.9px,#88c 203.6px,#78b 206.2px,#77b 208.8px,#77b 211.4px,#88b 214.0px,#66b 216.6px,#66b 219.2px,#77b 221.8px,#66b 224.4px,#67b 227.0px,#66b 229.6px,#77b 232.2px,#77b 234.8px,#77b 237.4px,#66b 240.0px,#66b 242.6px,#88c 245.2px,#88b 247.8px,#77b 250.4px,#66b 253.1px,#77b 255.7px,#66b 258.3px,#66b 260.9px,#78b 263.5px,#77b 266.1px,#77b 268.7px,#77b 271.3px,#77b 273.9px,#44a 276.5px,#44a 279.2px,#339 281.8px,#339 284.5px,#339 287.1px,#118 289.7px,#339 292.4px,#118 295.0px,#229 297.6px,#33a 300.1px,#339 302.7px,#339 305.3px,#229 307.8px)"></div>
<div class="h" style="left:29.2px;top:127.87px;width:309.1px;height:2.95px;background:linear-gradient(90deg,#d86 1.3px,#c86 3.9px,#c86 6.5px,#d86 9.1px,#c86 11.7px,#c76 14.3px,#d76 17.0px,#c86 19.6px,#d96 22.2px,#c76 24.8px,#c86 27.4px,#c86 30.0px,#d75 32.6px,#d96 35.2px,#c86 37.8px,#d86 40.4px,#c76 43.0px,#d76 45.7px,#c65 48.3px,#c96 50.9px,#d86 53.5px,#d96 56.1px,#d86 58.7px,#c76 61.3px,#c86 63.9px,#d86 66.5px,#d75 69.1px,#c86 71.8px,#c86 74.4px,#d75 77.0px,#c76 79.6px,#d86 82.2px,#d86 84.8px,#c65 87.4px,#d86 90.0px,#c86 92.6px,#c76 95.2px,#d86 97.8px,#d76 100.5px,#d86 103.1px,#c86 105.7px,#c76 108.3px,#d86 110.9px,#d86 113.5px,#db6 116.2px,#d75 119.0px,#e85 121.6px,#e64 124.1px,#88c 126.4px,#89c 128.3px,#55a 130.6px,#55a 133.2px,#55a 135.8px,#55a 138.4px,#55a 141.0px,#55a 143.6px,#66b 146.2px,#55a 148.8px,#66b 151.4px,#55b 154.1px,#55a 156.7px,#66b 159.3px,#66b 161.9px,#77b 164.5px,#55a 167.1px,#55a 169.7px,#55b 172.3px,#66b 174.9px,#55a 177.5px,#55a 180.1px,#55a 182.7px,#55a 185.3px,#55b 187.9px,#55a 190.5px,#55a 193.1px,#66b 195.7px,#66b 198.3px,#66a 200.9px,#66b 203.6px,#55a 206.2px,#55b 208.8px,#66b 211.4px,#66b 214.0px,#55a 216.6px,#55a 219.2px,#55a 221.8px,#55a 224.4px,#55a 227.0px,#55a 229.6px,#66b 232.2px,#66b 234.8px,#66b 237.4px,#55a 240.0px,#55a 242.6px,#55a 245.2px,#66a 247.8px,#66b 250.4px,#55a 253.1px,#55b 255.7px,#55a 258.3px,#55a 260.9px,#55a 263.5px,#55a 266.1px,#55a 268.7px,#55a 271.3px,#66b 273.9px,#33a 276.5px,#44a 279.2px,#33a 281.8px,#33a 284.5px,#229 287.1px,#229 289.7px,#229 292.4px,#118 295.0px,#229 297.6px,#229 300.1px,#229 302.7px,#229 305.3px,#229 307.8px)"></div>
<div class="h" style="left:29.2px;top:130.77px;width:309.1px;height:2.95px;background:linear-gradient(90deg,#c96 1.3px,#b97 3.9px,#ca6 6.5px,#ca6 9.1px,#ca6 11.7px,#ca6 14.3px,#c96 17.0px,#ca7 19.6px,#cb7 22.2px,#ca6 24.8px,#cb7 27.4px,#ca7 30.0px,#ca6 32.6px,#ca7 35.2px,#ca7 37.8px,#c97 40.4px,#ca7 43.0px,#ca6 45.7px,#ca7 48.3px,#db7 50.9px,#ca7 53.5px,#cb6 56.1px,#da7 58.7px,#ca7 61.3px,#ca6 63.9px,#ca7 66.5px,#ca7 69.1px,#ca6 71.8px,#ca7 74.4px,#ca6 77.0px,#ca6 79.6px,#ca6 82.2px,#ca6 84.8px,#c97 87.4px,#ca7 90.0px,#b97 92.6px,#ca7 95.2px,#ca7 97.8px,#c96 100.5px,#cb7 103.1px,#ba7 105.7px,#c96 108.3px,#ca7 110.9px,#b97 113.5px,#dc6 116.2px,#dc6 119.0px,#e85 121.6px,#e75 124.1px,#88c 126.4px,#88c 128.3px,#66b 130.6px,#77b 133.2px,#66b 135.8px,#55b 138.4px,#55a 141.0px,#55a 143.6px,#66b 146.2px,#66b 148.8px,#66b 151.4px,#66b 154.1px,#55a 156.7px,#66b 159.3px,#66a 161.9px,#66b 164.5px,#55a 167.1px,#55a 169.7px,#66a 172.3px,#66b 174.9px,#55a 177.5px,#66b 180.1px,#66b 182.7px,#66b 185.3px,#55a 187.9px,#66b 190.5px,#55a 193.1px,#66b 195.7px,#66b 198.3px,#66b 200.9px,#77b 203.6px,#77b 206.2px,#55b 208.8px,#66b 211.4px,#66b 214.0px,#55b 216.6px,#66b 219.2px,#66b 221.8px,#55a 224.4px,#66b 227.0px,#66b 229.6px,#66b 232.2px,#66b 234.8px,#66b 237.4px,#55a 240.0px,#55a 242.6px,#77b 245.2px,#66b 247.8px,#66b 250.4px,#66b 253.1px,#55b 255.7px,#66b 258.3px,#66b 260.9px,#66b 263.5px,#55a 266.1px,#66b 268.7px,#66b 271.3px,#66b 273.9px,#66b 276.5px,#66b 279.2px,#55a 281.8px,#55a 284.5px,#66b 287.1px,#44a 289.7px,#55a 292.4px,#55a 295.0px,#55b 297.6px,#55a 300.1px,#44a 302.7px,#44a 305.3px,#44a 307.8px)"></div>
<div class="h" style="left:29.2px;top:133.67px;width:309.1px;height:2.95px;background:linear-gradient(90deg,#e95 1.3px,#e95 3.9px,#ea5 6.5px,#ea5 9.1px,#ea5 11.7px,#ea5 14.3px,#e95 17.0px,#ea5 19.6px,#eb5 22.2px,#ea5 24.8px,#ea5 27.4px,#eb5 30.0px,#ea5 32.6px,#ea5 35.2px,#ea5 37.8px,#ea5 40.4px,#ea5 43.0px,#ea5 45.7px,#e95 48.3px,#ea5 50.9px,#ea5 53.5px,#ea5 56.1px,#ea5 58.7px,#e95 61.3px,#eb5 63.9px,#ea5 66.5px,#ea5 69.1px,#eb5 71.8px,#eb5 74.4px,#ea5 77.0px,#e95 79.6px,#eb5 82.2px,#eb5 84.8px,#ea5 87.4px,#ea5 90.0px,#ea5 92.6px,#e95 95.2px,#eb5 97.8px,#e95 100.5px,#ea5 103.1px,#eb5 105.7px,#ea5 108.3px,#ea5 110.9px,#ea5 113.5px,#bc7 116.2px,#eb6 119.0px,#ea5 121.6px,#e95 124.1px,#77b 126.4px,#89b 128.3px,#55b 130.6px,#55a 133.2px,#55a 135.8px,#44a 138.4px,#55a 141.0px,#55b 143.6px,#55a 146.2px,#55a 148.8px,#55a 151.4px,#55a 154.1px,#55a 156.7px,#66b 159.3px,#66b 161.9px,#66b 164.5px,#55a 167.1px,#55a 169.7px,#55b 172.3px,#66b 174.9px,#55a 177.5px,#66b 180.1px,#55b 182.7px,#66b 185.3px,#55a 187.9px,#55a 190.5px,#55a 193.1px,#55a 195.7px,#66b 198.3px,#55a 200.9px,#66a 203.6px,#55a 206.2px,#55a 208.8px,#66b 211.4px,#55a 214.0px,#55a 216.6px,#55b 219.2px,#55a 221.8px,#55a 224.4px,#55a 227.0px,#55b 229.6px,#55a 232.2px,#55a 234.8px,#55a 237.4px,#55a 240.0px,#55a 242.6px,#66b 245.2px,#66a 247.8px,#55a 250.4px,#55b 253.1px,#55b 255.7px,#55a 258.3px,#44a 260.9px,#55a 263.5px,#55b 266.1px,#55a 268.7px,#55a 271.3px,#55a 273.9px,#55b 276.5px,#66b 279.2px,#55b 281.8px,#55a 284.5px,#66a 287.1px,#55a 289.7px,#66b 292.4px,#55a 295.0px,#55b 297.6px,#55a 300.1px,#55b 302.7px,#55a 305.3px,#55a 307.8px)"></div>
<div class="h" style="left:29.2px;top:136.57px;width:309.1px;height:2.95px;background:linear-gradient(90deg,#eb5 1.3px,#eb5 3.9px,#eb5 6.5px,#eb5 9.1px,#ec5 11.7px,#eb5 14.3px,#ea5 17.0px,#ec5 19.6px,#ec6 22.2px,#eb5 24.8px,#ec5 27.4px,#eb5 30.0px,#ea5 32.6px,#eb5 35.2px,#eb5 37.8px,#eb5 40.4px,#eb5 43.0px,#eb5 45.7px,#eb5 48.3px,#eb5 50.9px,#ec5 53.5px,#ec5 56.1px,#eb5 58.7px,#eb5 61.3px,#ec6 63.9px,#eb5 66.5px,#eb5 69.1px,#ec5 71.8px,#ec5 74.4px,#eb5 77.0px,#ea5 79.6px,#ec5 82.2px,#ec6 84.8px,#ea5 87.4px,#eb5 90.0px,#eb5 92.6px,#eb5 95.2px,#eb5 97.8px,#eb5 100.5px,#ec5 103.1px,#ec6 105.7px,#eb5 108.3px,#eb5 110.9px,#ec5 113.5px,#cc7 116.2px,#db6 119.0px,#e64 121.6px,#e64 124.1px,#88c 126.4px,#77b 128.3px,#66b 130.6px,#66a 133.2px,#66a 135.8px,#55a 138.4px,#66b 141.0px,#66b 143.6px,#66b 146.2px,#66b 148.8px,#66b 151.4px,#55a 154.1px,#55a 156.7px,#66b 159.3px,#66b 161.9px,#77b 164.5px,#55a 167.1px,#66b 169.7px,#55b 172.3px,#67b 174.9px,#55a 177.5px,#77b 180.1px,#55a 182.7px,#66b 185.3px,#55a 187.9px,#66b 190.5px,#55a 193.1px,#66a 195.7px,#66b 198.3px,#77b 200.9px,#66b 203.6px,#66a 206.2px,#66b 208.8px,#66b 211.4px,#66b 214.0px,#55a 216.6px,#55a 219.2px,#66b 221.8px,#55a 224.4px,#66b 227.0px,#55a 229.6px,#66a 232.2px,#55a 234.8px,#66b 237.4px,#55a 240.0px,#55a 242.6px,#66b 245.2px,#66b 247.8px,#55a 250.4px,#66b 253.1px,#66b 255.7px,#66b 258.3px,#55a 260.9px,#66b 263.5px,#66b 266.1px,#55a 268.7px,#55a 271.3px,#66b 273.9px,#55a 276.5px,#66b 279.2px,#66b 281.8px,#55a 284.5px,#66b 287.1px,#55a 289.7px,#55a 292.4px,#55b 295.0px,#44a 297.6px,#55a 300.1px,#44a 302.7px,#44a 305.3px,#55a 307.8px)"></div>
<div class="h" style="left:29.2px;top:139.46px;width:309.1px;height:2.95px;background:linear-gradient(90deg,#db6 1.3px,#db6 3.9px,#db6 6.5px,#da6 9.1px,#db6 11.7px,#db6 14.3px,#da6 17.0px,#db6 19.6px,#dc6 22.2px,#db6 24.8px,#dc6 27.4px,#db6 30.0px,#da6 32.6px,#db6 35.2px,#db6 37.8px,#db6 40.4px,#da6 43.0px,#db6 45.7px,#da6 48.3px,#db6 50.9px,#db6 53.5px,#dc6 56.1px,#da6 58.7px,#da6 61.3px,#cb6 63.9px,#da6 66.5px,#db6 69.1px,#cb6 71.8px,#dc6 74.4px,#da5 77.0px,#da5 79.6px,#db6 82.2px,#db6 84.8px,#da6 87.4px,#db6 90.0px,#da6 92.6px,#da6 95.2px,#dc6 97.8px,#da6 100.5px,#db6 103.1px,#dc6 105.7px,#db6 108.3px,#db6 110.9px,#db6 113.5px,#bc7 116.2px,#db6 119.0px,#d74 121.6px,#e54 124.1px,#66b 126.4px,#77b 128.3px,#66a 130.6px,#66b 133.2px,#55b 135.8px,#55b 138.4px,#55a 141.0px,#66b 143.6px,#66b 146.2px,#55a 148.8px,#77b 151.4px,#55a 154.1px,#55a 156.7px,#66b 159.3px,#66b 161.9px,#77b 164.5px,#66b 167.1px,#55a 169.7px,#66b 172.3px,#66b 174.9px,#66b 177.5px,#66b 180.1px,#55a 182.7px,#66b 185.3px,#55b 187.9px,#66b 190.5px,#66b 193.1px,#66b 195.7px,#66b 198.3px,#77b 200.9px,#77b 203.6px,#66b 206.2px,#66b 208.8px,#66a 211.4px,#66b 214.0px,#55b 216.6px,#55a 219.2px,#55a 221.8px,#55a 224.4px,#66b 227.0px,#55a 229.6px,#66b 232.2px,#66b 234.8px,#66b 237.4px,#55a 240.0px,#66b 242.6px,#66b 245.2px,#77b 247.8px,#66a 250.4px,#55a 253.1px,#55a 255.7px,#55b 258.3px,#66b 260.9px,#66b 263.5px,#66b 266.1px,#66b 268.7px,#55a 271.3px,#66a 273.9px,#55a 276.5px,#66b 279.2px,#55a 281.8px,#55b 284.5px,#55a 287.1px,#55a 289.7px,#55a 292.4px,#55a 295.0px,#55a 297.6px,#66b 300.1px,#55a 302.7px,#55b 305.3px,#66b 307.8px)"></div>
<div class="h" style="left:29.2px;top:142.36px;width:309.1px;height:2.95px;background:linear-gradient(90deg,#ea5 1.3px,#eb5 3.9px,#eb5 6.5px,#ea5 9.1px,#eb5 11.7px,#ea5 14.3px,#ea5 17.0px,#eb5 19.6px,#ec6 22.2px,#ea5 24.8px,#eb5 27.4px,#eb5 30.0px,#ea5 32.6px,#eb5 35.2px,#eb5 37.8px,#eb5 40.4px,#e95 43.0px,#eb5 45.7px,#ea5 48.3px,#eb5 50.9px,#eb5 53.5px,#eb5 56.1px,#eb5 58.7px,#ea5 61.3px,#eb5 63.9px,#e95 66.5px,#ea5 69.1px,#eb5 71.8px,#eb5 74.4px,#ea5 77.0px,#ea5 79.6px,#eb5 82.2px,#eb5 84.8px,#ea5 87.4px,#ea5 90.0px,#ea5 92.6px,#ea5 95.2px,#eb5 97.8px,#e95 100.5px,#eb5 103.1px,#eb5 105.7px,#eb5 108.3px,#eb5 110.9px,#ea5 113.5px,#dc6 116.2px,#da5 119.0px,#e85 121.6px,#e75 124.1px,#77b 126.4px,#89c 128.3px,#67b 130.6px,#66b 133.2px,#66b 135.8px,#66b 138.4px,#66b 141.0px,#67b 143.6px,#77b 146.2px,#66b 148.8px,#77b 151.4px,#66b 154.1px,#66b 156.7px,#77b 159.3px,#78b 161.9px,#77b 164.5px,#66b 167.1px,#66b 169.7px,#77b 172.3px,#77b 174.9px,#55b 177.5px,#77b 180.1px,#66b 182.7px,#77b 185.3px,#77b 187.9px,#77b 190.5px,#77b 193.1px,#77b 195.7px,#77b 198.3px,#77b 200.9px,#77b 203.6px,#77b 206.2px,#77b 208.8px,#77b 211.4px,#77b 214.0px,#66b 216.6px,#66a 219.2px,#66b 221.8px,#66b 224.4px,#77b 227.0px,#66b 229.6px,#77b 232.2px,#77b 234.8px,#66b 237.4px,#66b 240.0px,#66b 242.6px,#77b 245.2px,#77b 247.8px,#77b 250.4px,#66b 253.1px,#66b 255.7px,#77b 258.3px,#77b 260.9px,#88b 263.5px,#77b 266.1px,#67b 268.7px,#66b 271.3px,#77b 273.9px,#55a 276.5px,#55a 279.2px,#44a 281.8px,#55a 284.5px,#44a 287.1px,#229 289.7px,#44a 292.4px,#339 295.0px,#228 297.6px,#229 300.1px,#229 302.7px,#118 305.3px,#228 307.8px)"></div>
<div class="h" style="left:29.2px;top:145.26px;width:309.1px;height:2.95px;background:linear-gradient(90deg,#c96 1.3px,#c86 3.9px,#c96 6.5px,#d96 9.1px,#c96 11.7px,#c86 14.3px,#c76 17.0px,#c96 19.6px,#c96 22.2px,#c86 24.8px,#c96 27.4px,#da7 30.0px,#c96 32.6px,#c96 35.2px,#d96 37.8px,#c86 40.4px,#c86 43.0px,#d97 45.7px,#d86 48.3px,#c96 50.9px,#c96 53.5px,#c96 56.1px,#c96 58.7px,#c86 61.3px,#c96 63.9px,#c96 66.5px,#d96 69.1px,#c96 71.8px,#da6 74.4px,#c87 77.0px,#c85 79.6px,#d96 82.2px,#c96 84.8px,#c86 87.4px,#d96 90.0px,#c96 92.6px,#c97 95.2px,#d96 97.8px,#c86 100.5px,#c86 103.1px,#da6 105.7px,#d96 108.3px,#c86 110.9px,#d96 113.5px,#db6 116.2px,#d96 119.0px,#e95 121.6px,#d85 124.1px,#78b 126.4px,#99c 128.3px,#55a 130.6px,#66b 133.2px,#55a 135.8px,#55a 138.4px,#66b 141.0px,#66b 143.6px,#66b 146.2px,#55a 148.8px,#77b 151.4px,#66b 154.1px,#66b 156.7px,#66b 159.3px,#67b 161.9px,#77b 164.5px,#55b 167.1px,#66b 169.7px,#66b 172.3px,#77b 174.9px,#66b 177.5px,#77b 180.1px,#66b 182.7px,#66b 185.3px,#66b 187.9px,#66b 190.5px,#55a 193.1px,#55a 195.7px,#66b 198.3px,#77b 200.9px,#77b 203.6px,#66b 206.2px,#66b 208.8px,#66b 211.4px,#66b 214.0px,#55a 216.6px,#66b 219.2px,#66b 221.8px,#55a 224.4px,#66b 227.0px,#66b 229.6px,#77b 232.2px,#66b 234.8px,#66b 237.4px,#55b 240.0px,#66b 242.6px,#66b 245.2px,#77b 247.8px,#66b 250.4px,#66b 253.1px,#55a 255.7px,#66b 258.3px,#55a 260.9px,#66b 263.5px,#66b 266.1px,#66b 268.7px,#66b 271.3px,#66a 273.9px,#44a 276.5px,#55a 279.2px,#44a 281.8px,#44a 284.5px,#44a 287.1px,#339 289.7px,#44a 292.4px,#229 295.0px,#339 297.6px,#229 300.1px,#229 302.7px,#229 305.3px,#339 307.8px)"></div>
<div class="h" style="left:29.2px;top:148.16px;width:309.1px;height:2.95px;background:linear-gradient(90deg,#ea5 1.3px,#e95 3.9px,#ea5 6.5px,#e95 9.1px,#e95 11.7px,#e95 14.3px,#e85 17.0px,#ea5 19.6px,#eb5 22.2px,#ea5 24.8px,#ea5 27.4px,#e95 30.0px,#e95 32.6px,#ea5 35.2px,#ea5 37.8px,#e95 40.4px,#ea5 43.0px,#ea5 45.7px,#e95 48.3px,#ea5 50.9px,#ea5 53.5px,#ea5 56.1px,#ea5 58.7px,#e95 61.3px,#ea5 63.9px,#e95 66.5px,#e95 69.1px,#ea5 71.8px,#ea5 74.4px,#e95 77.0px,#e95 79.6px,#ea5 82.2px,#ea5 84.8px,#e85 87.4px,#e95 90.0px,#e95 92.6px,#e95 95.2px,#e95 97.8px,#e95 100.5px,#e95 103.1px,#eb5 105.7px,#ea5 108.3px,#ea5 110.9px,#ea5 113.5px,#db6 116.2px,#da6 119.0px,#e74 121.6px,#e64 124.1px,#77b 126.4px,#88b 128.3px,#44a 130.6px,#55a 133.2px,#44a 135.8px,#339 138.4px,#55a 141.0px,#55a 143.6px,#55a 146.2px,#44a 148.8px,#55a 151.4px,#55a 154.1px,#44a 156.7px,#55a 159.3px,#55b 161.9px,#55b 164.5px,#44a 167.1px,#44a 169.7px,#55a 172.3px,#55b 174.9px,#44a 177.5px,#55a 180.1px,#44a 182.7px,#55a 185.3px,#55a 187.9px,#55a 190.5px,#44a 193.1px,#55a 195.7px,#55a 198.3px,#55a 200.9px,#55b 203.6px,#55a 206.2px,#44a 208.8px,#55a 211.4px,#55a 214.0px,#44a 216.6px,#44a 219.2px,#55a 221.8px,#44a 224.4px,#55a 227.0px,#55a 229.6px,#55a 232.2px,#55a 234.8px,#55a 237.4px,#44a 240.0px,#44a 242.6px,#55a 245.2px,#55a 247.8px,#55a 250.4px,#44a 253.1px,#44a 255.7px,#55a 258.3px,#44a 260.9px,#55a 263.5px,#55a 266.1px,#44a 268.7px,#55a 271.3px,#55a 273.9px,#55b 276.5px,#55a 279.2px,#55b 281.8px,#55a 284.5px,#55a 287.1px,#44a 289.7px,#55a 292.4px,#44a 295.0px,#44a 297.6px,#44a 300.1px,#44a 302.7px,#44a 305.3px,#44a 307.8px)"></div>
<div class="h" style="left:29.2px;top:151.06px;width:309.1px;height:2.95px;background:linear-gradient(90deg,#db5 1.3px,#eb6 3.9px,#db5 6.5px,#dc6 9.1px,#dc6 11.7px,#db5 14.3px,#eb6 17.0px,#dc6 19.6px,#dc6 22.2px,#db5 24.8px,#dc6 27.4px,#dc6 30.0px,#db5 32.6px,#dc6 35.2px,#db5 37.8px,#db6 40.4px,#eb6 43.0px,#db5 45.7px,#eb5 48.3px,#dc6 50.9px,#ec6 53.5px,#dc6 56.1px,#ec6 58.7px,#ec6 61.3px,#dc6 63.9px,#db6 66.5px,#db5 69.1px,#dc6 71.8px,#dc6 74.4px,#eb6 77.0px,#db5 79.6px,#db5 82.2px,#db6 84.8px,#db5 87.4px,#ec6 90.0px,#eb6 92.6px,#eb6 95.2px,#dc6 97.8px,#da5 100.5px,#db5 103.1px,#dc6 105.7px,#eb6 108.3px,#dc6 110.9px,#ec6 113.5px,#cc7 116.2px,#cb6 119.0px,#e85 121.6px,#e64 124.1px,#77b 126.4px,#88b 128.3px,#55a 130.6px,#55a 133.2px,#55a 135.8px,#44a 138.4px,#55a 141.0px,#55a 143.6px,#55a 146.2px,#44a 148.8px,#55a 151.4px,#44a 154.1px,#55a 156.7px,#55a 159.3px,#55a 161.9px,#66b 164.5px,#55a 167.1px,#44a 169.7px,#44a 172.3px,#55b 174.9px,#55a 177.5px,#55b 180.1px,#44a 182.7px,#55a 185.3px,#44a 187.9px,#55a 190.5px,#55a 193.1px,#55a 195.7px,#55a 198.3px,#55a 200.9px,#55a 203.6px,#55a 206.2px,#55a 208.8px,#55a 211.4px,#55a 214.0px,#44a 216.6px,#44a 219.2px,#55a 221.8px,#44a 224.4px,#44a 227.0px,#55a 229.6px,#55a 232.2px,#55a 234.8px,#44a 237.4px,#44a 240.0px,#55a 242.6px,#55b 245.2px,#55a 247.8px,#55a 250.4px,#55a 253.1px,#55a 255.7px,#55a 258.3px,#44a 260.9px,#55a 263.5px,#55a 266.1px,#44a 268.7px,#44a 271.3px,#55a 273.9px,#66b 276.5px,#66b 279.2px,#55b 281.8px,#66a 284.5px,#44a 287.1px,#44a 289.7px,#55a 292.4px,#44a 295.0px,#55a 297.6px,#55a 300.1px,#55a 302.7px,#55a 305.3px,#55a 307.8px)"></div>
<div class="h" style="left:29.2px;top:153.96px;width:309.1px;height:2.95px;background:linear-gradient(90deg,#ea6 1.3px,#da5 3.9px,#da5 6.5px,#d95 9.1px,#da5 11.7px,#ea5 14.3px,#e95 17.0px,#eb6 19.6px,#eb5 22.2px,#d95 24.8px,#eb6 27.4px,#da5 30.0px,#da5 32.6px,#eb6 35.2px,#eb5 37.8px,#da5 40.4px,#ea6 43.0px,#ea5 45.7px,#e95 48.3px,#d95 50.9px,#da5 53.5px,#da5 56.1px,#ea6 58.7px,#ea6 61.3px,#da5 63.9px,#d95 66.5px,#da5 69.1px,#da5 71.8px,#eb5 74.4px,#ea5 77.0px,#ea6 79.6px,#ea6 82.2px,#eb5 84.8px,#e96 87.4px,#da5 90.0px,#ea6 92.6px,#d95 95.2px,#db5 97.8px,#ea6 100.5px,#da5 103.1px,#eb6 105.7px,#ea6 108.3px,#ea5 110.9px,#da5 113.5px,#dc6 116.2px,#db6 119.0px,#e85 121.6px,#e75 124.1px,#77b 126.4px,#89b 128.3px,#66b 130.6px,#66b 133.2px,#55a 135.8px,#55a 138.4px,#55a 141.0px,#66b 143.6px,#66b 146.2px,#55a 148.8px,#66b 151.4px,#55a 154.1px,#55a 156.7px,#66b 159.3px,#66b 161.9px,#66b 164.5px,#55a 167.1px,#55b 169.7px,#55a 172.3px,#66b 174.9px,#55a 177.5px,#66b 180.1px,#55a 182.7px,#66b 185.3px,#55a 187.9px,#55a 190.5px,#55a 193.1px,#55a 195.7px,#55a 198.3px,#67b 200.9px,#66b 203.6px,#55a 206.2px,#66b 208.8px,#66b 211.4px,#66b 214.0px,#55a 216.6px,#55a 219.2px,#55a 221.8px,#55b 224.4px,#55a 227.0px,#55a 229.6px,#66b 232.2px,#66b 234.8px,#55a 237.4px,#55a 240.0px,#55a 242.6px,#66b 245.2px,#66b 247.8px,#66b 250.4px,#55a 253.1px,#55a 255.7px,#55b 258.3px,#55a 260.9px,#55a 263.5px,#55a 266.1px,#55a 268.7px,#55b 271.3px,#55a 273.9px,#44a 276.5px,#44a 279.2px,#44a 281.8px,#44a 284.5px,#44a 287.1px,#33a 289.7px,#44a 292.4px,#44a 295.0px,#33a 297.6px,#339 300.1px,#44a 302.7px,#339 305.3px,#229 307.8px)"></div>
<div class="h" style="left:29.2px;top:156.85px;width:309.1px;height:2.95px;background:linear-gradient(90deg,#d85 1.3px,#e85 3.9px,#d85 6.5px,#d75 9.1px,#d85 11.7px,#d85 14.3px,#d85 17.0px,#d96 19.6px,#d96 22.2px,#d85 24.8px,#e96 27.4px,#d96 30.0px,#d85 32.6px,#d85 35.2px,#d86 37.8px,#d86 40.4px,#d75 43.0px,#d86 45.7px,#d75 48.3px,#d96 50.9px,#d96 53.5px,#d96 56.1px,#d85 58.7px,#d85 61.3px,#d96 63.9px,#d85 66.5px,#d86 69.1px,#d85 71.8px,#d95 74.4px,#d85 77.0px,#d85 79.6px,#d96 82.2px,#d96 84.8px,#d75 87.4px,#d96 90.0px,#d75 92.6px,#d85 95.2px,#d96 97.8px,#d75 100.5px,#e85 103.1px,#d86 105.7px,#d75 108.3px,#d86 110.9px,#d85 113.5px,#da5 116.2px,#d95 119.0px,#e95 121.6px,#e85 124.1px,#77b 126.4px,#88b 128.3px,#55a 130.6px,#55b 133.2px,#55a 135.8px,#44a 138.4px,#55a 141.0px,#55a 143.6px,#44a 146.2px,#44a 148.8px,#55a 151.4px,#55a 154.1px,#55a 156.7px,#55b 159.3px,#55a 161.9px,#66b 164.5px,#55b 167.1px,#44a 169.7px,#55a 172.3px,#55a 174.9px,#44a 177.5px,#55a 180.1px,#44a 182.7px,#55a 185.3px,#55a 187.9px,#55a 190.5px,#55a 193.1px,#55b 195.7px,#55a 198.3px,#55b 200.9px,#55a 203.6px,#55b 206.2px,#55a 208.8px,#55a 211.4px,#55a 214.0px,#44a 216.6px,#55a 219.2px,#55b 221.8px,#44a 224.4px,#55a 227.0px,#44a 229.6px,#55b 232.2px,#55a 234.8px,#55a 237.4px,#44a 240.0px,#55a 242.6px,#66b 245.2px,#55a 247.8px,#55a 250.4px,#55a 253.1px,#55a 255.7px,#55a 258.3px,#44a 260.9px,#55a 263.5px,#55a 266.1px,#44a 268.7px,#55a 271.3px,#55a 273.9px,#66b 276.5px,#66b 279.2px,#55a 281.8px,#66a 284.5px,#66b 287.1px,#55a 289.7px,#66b 292.4px,#55a 295.0px,#44a 297.6px,#55a 300.1px,#44a 302.7px,#44a 305.3px,#33a 307.8px)"></div>
<div class="h" style="left:29.2px;top:159.75px;width:309.1px;height:2.95px;background:linear-gradient(90deg,#e95 1.3px,#e95 3.9px,#ea5 6.5px,#e95 9.1px,#e95 11.7px,#e95 14.3px,#e85 17.0px,#ea5 19.6px,#ea5 22.2px,#e95 24.8px,#ea5 27.4px,#e95 30.0px,#e95 32.6px,#ea5 35.2px,#ea5 37.8px,#ea5 40.4px,#e95 43.0px,#e95 45.7px,#e84 48.3px,#ea5 50.9px,#ea5 53.5px,#ea5 56.1px,#ea5 58.7px,#ea5 61.3px,#ea5 63.9px,#e95 66.5px,#e95 69.1px,#ea5 71.8px,#e95 74.4px,#e84 77.0px,#e85 79.6px,#e95 82.2px,#ea5 84.8px,#e84 87.4px,#e95 90.0px,#e85 92.6px,#e85 95.2px,#e95 97.8px,#e84 100.5px,#ea5 103.1px,#ea5 105.7px,#e95 108.3px,#ea5 110.9px,#e95 113.5px,#db6 116.2px,#d95 119.0px,#e85 121.6px,#e75 124.1px,#78b 126.4px,#99c 128.3px,#44a 130.6px,#55b 133.2px,#44a 135.8px,#44a 138.4px,#55a 141.0px,#55a 143.6px,#44a 146.2px,#55a 148.8px,#55a 151.4px,#55a 154.1px,#55a 156.7px,#55b 159.3px,#55a 161.9px,#55a 164.5px,#44a 167.1px,#55a 169.7px,#55a 172.3px,#55a 174.9px,#44a 177.5px,#55a 180.1px,#55a 182.7px,#55a 185.3px,#44a 187.9px,#55a 190.5px,#44a 193.1px,#44a 195.7px,#55a 198.3px,#66b 200.9px,#55a 203.6px,#55a 206.2px,#55a 208.8px,#55a 211.4px,#55a 214.0px,#44a 216.6px,#44a 219.2px,#55a 221.8px,#55a 224.4px,#55a 227.0px,#44a 229.6px,#55a 232.2px,#55a 234.8px,#44a 237.4px,#44a 240.0px,#55a 242.6px,#55a 245.2px,#55a 247.8px,#55a 250.4px,#55a 253.1px,#44a 255.7px,#44a 258.3px,#44a 260.9px,#55a 263.5px,#55a 266.1px,#44a 268.7px,#44a 271.3px,#44a 273.9px,#9ac 276.5px,#9ab 279.2px,#99c 281.8px,#99c 284.5px,#77b 287.1px,#66b 289.7px,#77b 292.4px,#66b 295.0px,#66b 297.6px,#77b 300.1px,#77b 302.7px,#67b 305.3px,#77b 307.8px)"></div>
<div class="h" style="left:29.2px;top:162.65px;width:309.1px;height:2.95px;background:linear-gradient(90deg,#e84 1.3px,#e85 3.9px,#e95 6.5px,#e85 9.1px,#e95 11.7px,#e95 14.3px,#e74 17.0px,#e85 19.6px,#e95 22.2px,#e95 24.8px,#ea5 27.4px,#e84 30.0px,#e95 32.6px,#e95 35.2px,#e95 37.8px,#e85 40.4px,#e84 43.0px,#e85 45.7px,#e74 48.3px,#e95 50.9px,#e85 53.5px,#e95 56.1px,#e84 58.7px,#e95 61.3px,#ea5 63.9px,#e84 66.5px,#e95 69.1px,#e95 71.8px,#e95 74.4px,#e74 77.0px,#e74 79.6px,#e85 82.2px,#e95 84.8px,#e74 87.4px,#e85 90.0px,#e84 92.6px,#e84 95.2px,#e95 97.8px,#e85 100.5px,#e85 103.1px,#e95 105.7px,#e85 108.3px,#e84 110.9px,#e95 113.5px,#db6 116.2px,#da6 119.0px,#e54 121.6px,#e75 124.1px,#66b 126.4px,#88b 128.3px,#55a 130.6px,#66b 133.2px,#55a 135.8px,#55a 138.4px,#55a 141.0px,#55a 143.6px,#55a 146.2px,#55a 148.8px,#55a 151.4px,#55a 154.1px,#44a 156.7px,#66b 159.3px,#66b 161.9px,#66b 164.5px,#55a 167.1px,#55a 169.7px,#66b 172.3px,#66b 174.9px,#55a 177.5px,#66b 180.1px,#55a 182.7px,#55a 185.3px,#55a 187.9px,#66b 190.5px,#55a 193.1px,#55a 195.7px,#55a 198.3px,#66b 200.9px,#55a 203.6px,#55a 206.2px,#55a 208.8px,#55a 211.4px,#66b 214.0px,#55a 216.6px,#55b 219.2px,#55a 221.8px,#55a 224.4px,#55a 227.0px,#55a 229.6px,#66b 232.2px,#66b 234.8px,#55a 237.4px,#44a 240.0px,#55a 242.6px,#55a 245.2px,#55a 247.8px,#66b 250.4px,#55a 253.1px,#55a 255.7px,#55a 258.3px,#55a 260.9px,#55a 263.5px,#55b 266.1px,#44a 268.7px,#55a 271.3px,#55a 273.9px,#44a 276.5px,#44a 279.2px,#44a 281.8px,#339 284.5px,#44a 287.1px,#44a 289.7px,#44a 292.4px,#44a 295.0px,#44a 297.6px,#44a 300.1px,#44a 302.7px,#33a 305.3px,#339 307.8px)"></div>
<div class="h" style="left:29.2px;top:165.55px;width:309.1px;height:2.95px;background:linear-gradient(90deg,#e85 1.3px,#e85 3.9px,#e95 6.5px,#e75 9.1px,#d95 11.7px,#d85 14.3px,#e64 17.0px,#e95 19.6px,#e95 22.2px,#e85 24.8px,#d95 27.4px,#d85 30.0px,#e85 32.6px,#e96 35.2px,#d85 37.8px,#d85 40.4px,#e85 43.0px,#e75 45.7px,#e75 48.3px,#d85 50.9px,#e95 53.5px,#d95 56.1px,#e85 58.7px,#d85 61.3px,#e95 63.9px,#d85 66.5px,#d85 69.1px,#e96 71.8px,#d95 74.4px,#e85 77.0px,#e75 79.6px,#e96 82.2px,#e96 84.8px,#d74 87.4px,#e95 90.0px,#e75 92.6px,#e75 95.2px,#d85 97.8px,#e75 100.5px,#d85 103.1px,#e96 105.7px,#e85 108.3px,#e85 110.9px,#e85 113.5px,#da5 116.2px,#e96 119.0px,#d85 121.6px,#e64 124.1px,#88c 126.4px,#88c 128.3px,#66b 130.6px,#66b 133.2px,#55a 135.8px,#44a 138.4px,#55a 141.0px,#66b 143.6px,#55a 146.2px,#55a 148.8px,#67b 151.4px,#55a 154.1px,#55b 156.7px,#66b 159.3px,#66b 161.9px,#67b 164.5px,#55a 167.1px,#55a 169.7px,#55b 172.3px,#66b 174.9px,#55a 177.5px,#66b 180.1px,#55b 182.7px,#66a 185.3px,#55a 187.9px,#55a 190.5px,#55a 193.1px,#66b 195.7px,#66b 198.3px,#66b 200.9px,#66b 203.6px,#55a 206.2px,#55a 208.8px,#66b 211.4px,#66b 214.0px,#55b 216.6px,#66b 219.2px,#55a 221.8px,#55a 224.4px,#66b 227.0px,#66b 229.6px,#66b 232.2px,#66b 234.8px,#55a 237.4px,#55a 240.0px,#55a 242.6px,#66b 245.2px,#66b 247.8px,#55a 250.4px,#66b 253.1px,#55a 255.7px,#55a 258.3px,#66b 260.9px,#66b 263.5px,#66b 266.1px,#55a 268.7px,#66b 271.3px,#66b 273.9px,#99c 276.5px,#9ac 279.2px,#89c 281.8px,#99c 284.5px,#66b 287.1px,#66b 289.7px,#66b 292.4px,#55a 295.0px,#66b 297.6px,#55a 300.1px,#55a 302.7px,#66b 305.3px,#55a 307.8px)"></div>
<div class="h" style="left:29.2px;top:168.45px;width:309.1px;height:2.95px;background:linear-gradient(90deg,#ea5 1.3px,#da5 3.9px,#ea5 6.5px,#ea5 9.1px,#eb6 11.7px,#da5 14.3px,#e95 17.0px,#eb6 19.6px,#da5 22.2px,#da5 24.8px,#eb5 27.4px,#da5 30.0px,#d95 32.6px,#eb6 35.2px,#da5 37.8px,#ea5 40.4px,#ea6 43.0px,#da5 45.7px,#e96 48.3px,#da5 50.9px,#da5 53.5px,#eb5 56.1px,#da6 58.7px,#da5 61.3px,#db5 63.9px,#ea6 66.5px,#da6 69.1px,#da5 71.8px,#eb6 74.4px,#da5 77.0px,#ea5 79.6px,#ea6 82.2px,#ea5 84.8px,#d95 87.4px,#ea5 90.0px,#ea5 92.6px,#da6 95.2px,#eb6 97.8px,#ea6 100.5px,#da5 103.1px,#db5 105.7px,#d95 108.3px,#ea5 110.9px,#ea6 113.5px,#cd7 116.2px,#dc6 119.0px,#e95 121.6px,#e95 124.1px,#77b 126.4px,#99c 128.3px,#55a 130.6px,#55b 133.2px,#55a 135.8px,#55a 138.4px,#66b 141.0px,#66b 143.6px,#55a 146.2px,#44a 148.8px,#66b 151.4px,#55a 154.1px,#55b 156.7px,#55a 159.3px,#66b 161.9px,#66b 164.5px,#55a 167.1px,#55a 169.7px,#55a 172.3px,#66b 174.9px,#55a 177.5px,#66b 180.1px,#55a 182.7px,#66b 185.3px,#55a 187.9px,#66b 190.5px,#55a 193.1px,#55b 195.7px,#66b 198.3px,#66b 200.9px,#66b 203.6px,#66b 206.2px,#55b 208.8px,#55a 211.4px,#66a 214.0px,#55a 216.6px,#55a 219.2px,#66b 221.8px,#55b 224.4px,#55b 227.0px,#55b 229.6px,#66b 232.2px,#66b 234.8px,#55a 237.4px,#55a 240.0px,#55b 242.6px,#55a 245.2px,#66b 247.8px,#55b 250.4px,#55a 253.1px,#55a 255.7px,#55a 258.3px,#55a 260.9px,#55a 263.5px,#66b 266.1px,#55b 268.7px,#55a 271.3px,#55b 273.9px,#66a 276.5px,#66b 279.2px,#66b 281.8px,#55a 284.5px,#66b 287.1px,#55a 289.7px,#66b 292.4px,#55a 295.0px,#55a 297.6px,#55a 300.1px,#66b 302.7px,#55a 305.3px,#66b 307.8px)"></div>
<div class="h" style="left:29.2px;top:171.35px;width:309.1px;height:2.95px;background:linear-gradient(90deg,#e85 1.3px,#e85 3.9px,#e95 6.5px,#e85 9.1px,#ea5 11.7px,#e74 14.3px,#e74 17.0px,#e95 19.6px,#e95 22.2px,#e95 24.8px,#e95 27.4px,#e84 30.0px,#e74 32.6px,#e95 35.2px,#e85 37.8px,#e85 40.4px,#e85 43.0px,#e85 45.7px,#e85 48.3px,#e95 50.9px,#e95 53.5px,#e95 56.1px,#e85 58.7px,#e95 61.3px,#e95 63.9px,#e95 66.5px,#e84 69.1px,#ea5 71.8px,#e95 74.4px,#e85 77.0px,#e85 79.6px,#e95 82.2px,#e95 84.8px,#e74 87.4px,#e95 90.0px,#e84 92.6px,#e85 95.2px,#e95 97.8px,#e85 100.5px,#e85 103.1px,#ea5 105.7px,#e74 108.3px,#e95 110.9px,#e85 113.5px,#eb6 116.2px,#d96 119.0px,#e95 121.6px,#e85 124.1px,#88c 126.4px,#89b 128.3px,#77b 130.6px,#88b 133.2px,#66b 135.8px,#66a 138.4px,#66b 141.0px,#88b 143.6px,#77b 146.2px,#77b 148.8px,#88b 151.4px,#67b 154.1px,#66b 156.7px,#88b 159.3px,#88c 161.9px,#89c 164.5px,#66b 167.1px,#66b 169.7px,#77b 172.3px,#88b 174.9px,#66b 177.5px,#77b 180.1px,#66b 182.7px,#78b 185.3px,#77b 187.9px,#77b 190.5px,#66b 193.1px,#77b 195.7px,#78b 198.3px,#88b 200.9px,#88b 203.6px,#88c 206.2px,#66b 208.8px,#88b 211.4px,#99c 214.0px,#66b 216.6px,#77b 219.2px,#77b 221.8px,#67b 224.4px,#77b 227.0px,#77b 229.6px,#77b 232.2px,#77b 234.8px,#77b 237.4px,#66b 240.0px,#77b 242.6px,#88b 245.2px,#77b 247.8px,#77b 250.4px,#77b 253.1px,#78b 255.7px,#77b 258.3px,#77b 260.9px,#88c 263.5px,#66b 266.1px,#77b 268.7px,#77b 271.3px,#88b 273.9px,#66a 276.5px,#66b 279.2px,#55b 281.8px,#66b 284.5px,#55a 287.1px,#44a 289.7px,#55b 292.4px,#55a 295.0px,#66b 297.6px,#66b 300.1px,#55a 302.7px,#66b 305.3px,#55b 307.8px)"></div>
<div class="h" style="left:29.2px;top:174.25px;width:309.1px;height:2.95px;background:linear-gradient(90deg,#d96 1.3px,#d95 3.9px,#d96 6.5px,#d86 9.1px,#da6 11.7px,#d96 14.3px,#d86 17.0px,#d96 19.6px,#da6 22.2px,#d96 24.8px,#da6 27.4px,#d95 30.0px,#d96 32.6px,#d95 35.2px,#da6 37.8px,#d96 40.4px,#d86 43.0px,#d96 45.7px,#d85 48.3px,#da6 50.9px,#d95 53.5px,#d95 56.1px,#d96 58.7px,#d95 61.3px,#da6 63.9px,#d96 66.5px,#d96 69.1px,#d95 71.8px,#d96 74.4px,#d96 77.0px,#d86 79.6px,#da6 82.2px,#d96 84.8px,#d85 87.4px,#d96 90.0px,#d95 92.6px,#d95 95.2px,#d96 97.8px,#d86 100.5px,#d96 103.1px,#da6 105.7px,#d85 108.3px,#d96 110.9px,#d95 113.5px,#cc6 116.2px,#da6 119.0px,#e64 121.6px,#e64 124.1px,#77b 126.4px,#89c 128.3px,#44a 130.6px,#55a 133.2px,#55a 135.8px,#33a 138.4px,#44a 141.0px,#55a 143.6px,#44a 146.2px,#44a 148.8px,#55b 151.4px,#44a 154.1px,#44a 156.7px,#55a 159.3px,#55a 161.9px,#55b 164.5px,#44a 167.1px,#44a 169.7px,#55a 172.3px,#55a 174.9px,#55a 177.5px,#55a 180.1px,#55a 182.7px,#55a 185.3px,#55a 187.9px,#55a 190.5px,#44a 193.1px,#44a 195.7px,#55a 198.3px,#55a 200.9px,#55a 203.6px,#55a 206.2px,#55a 208.8px,#55a 211.4px,#55a 214.0px,#44a 216.6px,#44a 219.2px,#55a 221.8px,#44a 224.4px,#44a 227.0px,#44a 229.6px,#55b 232.2px,#55a 234.8px,#44a 237.4px,#44a 240.0px,#44a 242.6px,#55a 245.2px,#55a 247.8px,#44a 250.4px,#44a 253.1px,#44a 255.7px,#44a 258.3px,#44a 260.9px,#44a 263.5px,#44a 266.1px,#44a 268.7px,#44a 271.3px,#55a 273.9px,#66b 276.5px,#66b 279.2px,#55a 281.8px,#55a 284.5px,#55a 287.1px,#55a 289.7px,#55a 292.4px,#44a 295.0px,#44a 297.6px,#44a 300.1px,#55a 302.7px,#33a 305.3px,#339 307.8px)"></div>
<div class="h" style="left:29.2px;top:177.14px;width:309.1px;height:2.95px;background:linear-gradient(90deg,#b96 1.3px,#c96 3.9px,#ca6 6.5px,#b97 9.1px,#b97 11.7px,#c96 14.3px,#c96 17.0px,#ca7 19.6px,#ca7 22.2px,#da6 24.8px,#ca7 27.4px,#b96 30.0px,#c86 32.6px,#c97 35.2px,#b96 37.8px,#da6 40.4px,#c96 43.0px,#c97 45.7px,#c97 48.3px,#ca6 50.9px,#ca6 53.5px,#da7 56.1px,#c96 58.7px,#b97 61.3px,#ba7 63.9px,#c96 66.5px,#b87 69.1px,#c96 71.8px,#b97 74.4px,#c96 77.0px,#c96 79.6px,#b96 82.2px,#ca7 84.8px,#c86 87.4px,#ca6 90.0px,#c97 92.6px,#da7 95.2px,#ca7 97.8px,#c96 100.5px,#ca7 103.1px,#ca6 105.7px,#c96 108.3px,#da7 110.9px,#ca6 113.5px,#cc7 116.2px,#db6 119.0px,#e96 121.6px,#e75 124.1px,#66b 126.4px,#88b 128.3px,#55a 130.6px,#55a 133.2px,#44a 135.8px,#44a 138.4px,#55a 141.0px,#55a 143.6px,#44a 146.2px,#55a 148.8px,#55b 151.4px,#55a 154.1px,#44a 156.7px,#44a 159.3px,#55a 161.9px,#66b 164.5px,#55a 167.1px,#44a 169.7px,#55a 172.3px,#55a 174.9px,#55a 177.5px,#55a 180.1px,#55a 182.7px,#55a 185.3px,#44a 187.9px,#55a 190.5px,#44a 193.1px,#55a 195.7px,#55a 198.3px,#55a 200.9px,#55a 203.6px,#55a 206.2px,#55a 208.8px,#55a 211.4px,#55a 214.0px,#44a 216.6px,#44a 219.2px,#55a 221.8px,#44a 224.4px,#55a 227.0px,#55a 229.6px,#55a 232.2px,#55a 234.8px,#44a 237.4px,#44a 240.0px,#55a 242.6px,#66b 245.2px,#55a 247.8px,#44a 250.4px,#55a 253.1px,#44a 255.7px,#55a 258.3px,#44a 260.9px,#44a 263.5px,#55a 266.1px,#44a 268.7px,#55a 271.3px,#55a 273.9px,#88b 276.5px,#99c 279.2px,#78b 281.8px,#77b 284.5px,#66b 287.1px,#55a 289.7px,#66b 292.4px,#66b 295.0px,#77b 297.6px,#77b 300.1px,#77b 302.7px,#67b 305.3px,#67b 307.8px)"></div>
<div class="h" style="left:29.2px;top:180.04px;width:309.1px;height:2.95px;background:linear-gradient(90deg,#da6 1.3px,#da6 3.9px,#db6 6.5px,#da6 9.1px,#da6 11.7px,#db6 14.3px,#da6 17.0px,#da6 19.6px,#db6 22.2px,#d96 24.8px,#da6 27.4px,#db6 30.0px,#da6 32.6px,#da5 35.2px,#da6 37.8px,#da6 40.4px,#da6 43.0px,#da6 45.7px,#d96 48.3px,#db6 50.9px,#db6 53.5px,#db6 56.1px,#db6 58.7px,#da5 61.3px,#dc6 63.9px,#da6 66.5px,#da6 69.1px,#db6 71.8px,#db6 74.4px,#db6 77.0px,#da5 79.6px,#da5 82.2px,#db6 84.8px,#d96 87.4px,#db6 90.0px,#db6 92.6px,#da6 95.2px,#db6 97.8px,#d95 100.5px,#da5 103.1px,#db6 105.7px,#da6 108.3px,#db6 110.9px,#da6 113.5px,#bc7 116.2px,#db6 119.0px,#e85 121.6px,#e95 124.1px,#66b 126.4px,#88c 128.3px,#44a 130.6px,#55a 133.2px,#44a 135.8px,#44a 138.4px,#44a 141.0px,#55a 143.6px,#55a 146.2px,#55a 148.8px,#66b 151.4px,#55a 154.1px,#55a 156.7px,#55a 159.3px,#55a 161.9px,#66b 164.5px,#44a 167.1px,#44a 169.7px,#55a 172.3px,#55b 174.9px,#44a 177.5px,#55b 180.1px,#44a 182.7px,#55a 185.3px,#44a 187.9px,#55a 190.5px,#44a 193.1px,#55b 195.7px,#55b 198.3px,#55a 200.9px,#55a 203.6px,#55a 206.2px,#44a 208.8px,#55a 211.4px,#55a 214.0px,#44a 216.6px,#44a 219.2px,#44a 221.8px,#55a 224.4px,#55a 227.0px,#44a 229.6px,#55a 232.2px,#55a 234.8px,#44a 237.4px,#44a 240.0px,#44a 242.6px,#55a 245.2px,#55b 247.8px,#44a 250.4px,#55a 253.1px,#44a 255.7px,#44a 258.3px,#44a 260.9px,#55a 263.5px,#55a 266.1px,#44a 268.7px,#44a 271.3px,#55a 273.9px,#339 276.5px,#44a 279.2px,#339 281.8px,#44a 284.5px,#44a 287.1px,#33a 289.7px,#33a 292.4px,#339 295.0px,#229 297.6px,#33a 300.1px,#229 302.7px,#339 305.3px,#229 307.8px)"></div>
<div class="h" style="left:29.2px;top:182.94px;width:309.1px;height:2.95px;background:linear-gradient(90deg,#c96 1.3px,#ca6 3.9px,#ca7 6.5px,#c96 9.1px,#b96 11.7px,#ca6 14.3px,#c86 17.0px,#c97 19.6px,#ba7 22.2px,#b97 24.8px,#ca7 27.4px,#c97 30.0px,#c97 32.6px,#ca7 35.2px,#ca7 37.8px,#ca7 40.4px,#c97 43.0px,#ca7 45.7px,#ca7 48.3px,#ca7 50.9px,#ba6 53.5px,#b97 56.1px,#ca7 58.7px,#c97 61.3px,#ba7 63.9px,#c97 66.5px,#d97 69.1px,#b96 71.8px,#b96 74.4px,#c97 77.0px,#b86 79.6px,#ca6 82.2px,#b97 84.8px,#b87 87.4px,#ca7 90.0px,#c96 92.6px,#ca7 95.2px,#cb7 97.8px,#c96 100.5px,#ca7 103.1px,#b97 105.7px,#b96 108.3px,#c97 110.9px,#c96 113.5px,#cc7 116.2px,#db6 119.0px,#ea6 121.6px,#e85 124.1px,#77b 126.4px,#88c 128.3px,#55b 130.6px,#55a 133.2px,#55b 135.8px,#55a 138.4px,#66b 141.0px,#55b 143.6px,#66b 146.2px,#55a 148.8px,#77b 151.4px,#55b 154.1px,#55a 156.7px,#66b 159.3px,#66b 161.9px,#66b 164.5px,#55b 167.1px,#55a 169.7px,#55b 172.3px,#66a 174.9px,#55a 177.5px,#55a 180.1px,#55b 182.7px,#66b 185.3px,#55b 187.9px,#66b 190.5px,#55a 193.1px,#55a 195.7px,#66b 198.3px,#66b 200.9px,#66b 203.6px,#66b 206.2px,#55b 208.8px,#55a 211.4px,#66b 214.0px,#55a 216.6px,#55a 219.2px,#66b 221.8px,#55a 224.4px,#66b 227.0px,#55b 229.6px,#66a 232.2px,#66b 234.8px,#55a 237.4px,#55a 240.0px,#55a 242.6px,#66b 245.2px,#66b 247.8px,#55a 250.4px,#55a 253.1px,#55a 255.7px,#66b 258.3px,#55a 260.9px,#55b 263.5px,#55a 266.1px,#55a 268.7px,#55a 271.3px,#55b 273.9px,#77b 276.5px,#67b 279.2px,#66b 281.8px,#66b 284.5px,#66b 287.1px,#55a 289.7px,#66b 292.4px,#55b 295.0px,#339 297.6px,#44a 300.1px,#44a 302.7px,#44a 305.3px,#44a 307.8px)"></div>
<div class="h" style="left:29.2px;top:185.84px;width:309.1px;height:2.95px;background:linear-gradient(90deg,#e95 1.3px,#ea5 3.9px,#ea5 6.5px,#e95 9.1px,#eb5 11.7px,#ea5 14.3px,#e85 17.0px,#ea5 19.6px,#eb5 22.2px,#e95 24.8px,#ea5 27.4px,#ea5 30.0px,#e95 32.6px,#ea5 35.2px,#ea5 37.8px,#e95 40.4px,#ea5 43.0px,#ea5 45.7px,#e95 48.3px,#ea5 50.9px,#eb5 53.5px,#eb5 56.1px,#ea5 58.7px,#ea5 61.3px,#eb5 63.9px,#e95 66.5px,#ea5 69.1px,#ea5 71.8px,#ea5 74.4px,#ea5 77.0px,#ea5 79.6px,#eb5 82.2px,#ea5 84.8px,#e85 87.4px,#ea5 90.0px,#ea5 92.6px,#ea5 95.2px,#ea5 97.8px,#e95 100.5px,#ea5 103.1px,#ea5 105.7px,#ea5 108.3px,#ea5 110.9px,#e95 113.5px,#dc6 116.2px,#d95 119.0px,#e64 121.6px,#e43 124.1px,#77b 126.4px,#89c 128.3px,#55b 130.6px,#66b 133.2px,#66b 135.8px,#55a 138.4px,#55a 141.0px,#66b 143.6px,#66b 146.2px,#66b 148.8px,#77b 151.4px,#66b 154.1px,#55a 156.7px,#66b 159.3px,#77b 161.9px,#77b 164.5px,#66b 167.1px,#66b 169.7px,#66b 172.3px,#77b 174.9px,#55b 177.5px,#66b 180.1px,#66b 182.7px,#66b 185.3px,#55a 187.9px,#66b 190.5px,#55a 193.1px,#66b 195.7px,#66b 198.3px,#77b 200.9px,#77b 203.6px,#66b 206.2px,#66b 208.8px,#66b 211.4px,#66a 214.0px,#55a 216.6px,#55a 219.2px,#66b 221.8px,#55a 224.4px,#66b 227.0px,#55a 229.6px,#66b 232.2px,#66a 234.8px,#55a 237.4px,#55a 240.0px,#55b 242.6px,#66b 245.2px,#77b 247.8px,#55a 250.4px,#55b 253.1px,#55a 255.7px,#66b 258.3px,#55a 260.9px,#55a 263.5px,#66b 266.1px,#55a 268.7px,#55b 271.3px,#66b 273.9px,#66b 276.5px,#66b 279.2px,#66b 281.8px,#55b 284.5px,#66b 287.1px,#44a 289.7px,#55a 292.4px,#44a 295.0px,#55a 297.6px,#55a 300.1px,#55a 302.7px,#44a 305.3px,#55a 307.8px)"></div>
<div class="h" style="left:29.2px;top:188.74px;width:309.1px;height:2.95px;background:linear-gradient(90deg,#e95 1.3px,#e84 3.9px,#ea5 6.5px,#ea5 9.1px,#ea5 11.7px,#e85 14.3px,#e85 17.0px,#ea5 19.6px,#ea5 22.2px,#e95 24.8px,#ea5 27.4px,#e95 30.0px,#e95 32.6px,#ea5 35.2px,#e95 37.8px,#e95 40.4px,#e95 43.0px,#e95 45.7px,#e85 48.3px,#ea5 50.9px,#ea5 53.5px,#ea5 56.1px,#e95 58.7px,#ea5 61.3px,#e95 63.9px,#e95 66.5px,#e95 69.1px,#ea5 71.8px,#ea5 74.4px,#e95 77.0px,#e95 79.6px,#e95 82.2px,#e95 84.8px,#e95 87.4px,#e95 90.0px,#e95 92.6px,#e95 95.2px,#ea5 97.8px,#e85 100.5px,#e95 103.1px,#ea5 105.7px,#e95 108.3px,#e95 110.9px,#e95 113.5px,#db6 116.2px,#d95 119.0px,#e95 121.6px,#e85 124.1px,#77b 126.4px,#88c 128.3px,#66b 130.6px,#77b 133.2px,#66b 135.8px,#55a 138.4px,#66b 141.0px,#66b 143.6px,#66b 146.2px,#66b 148.8px,#66b 151.4px,#66a 154.1px,#55a 156.7px,#66b 159.3px,#77b 161.9px,#77b 164.5px,#66b 167.1px,#66b 169.7px,#55a 172.3px,#66b 174.9px,#66b 177.5px,#77b 180.1px,#55a 182.7px,#66b 185.3px,#66b 187.9px,#66b 190.5px,#55a 193.1px,#66b 195.7px,#66b 198.3px,#77b 200.9px,#66b 203.6px,#66b 206.2px,#66a 208.8px,#66a 211.4px,#66b 214.0px,#55a 216.6px,#55a 219.2px,#66b 221.8px,#55a 224.4px,#66b 227.0px,#66b 229.6px,#66b 232.2px,#66b 234.8px,#66b 237.4px,#66b 240.0px,#66b 242.6px,#77b 245.2px,#77b 247.8px,#66a 250.4px,#66b 253.1px,#55a 255.7px,#66a 258.3px,#55a 260.9px,#55a 263.5px,#66b 266.1px,#66b 268.7px,#66b 271.3px,#66b 273.9px,#66b 276.5px,#66b 279.2px,#66b 281.8px,#55a 284.5px,#66b 287.1px,#55a 289.7px,#66b 292.4px,#55a 295.0px,#44a 297.6px,#55a 300.1px,#55a 302.7px,#44a 305.3px,#44a 307.8px)"></div>
<div class="h" style="left:29.2px;top:191.64px;width:309.1px;height:2.95px;background:linear-gradient(90deg,#ec6 1.3px,#eb5 3.9px,#eb5 6.5px,#eb5 9.1px,#ec6 11.7px,#eb5 14.3px,#eb5 17.0px,#eb5 19.6px,#ec5 22.2px,#ec5 24.8px,#ec6 27.4px,#ec6 30.0px,#ea5 32.6px,#ec6 35.2px,#ec6 37.8px,#ec5 40.4px,#eb5 43.0px,#ec5 45.7px,#eb5 48.3px,#ec5 50.9px,#ec5 53.5px,#ec6 56.1px,#eb5 58.7px,#ec5 61.3px,#ec5 63.9px,#eb5 66.5px,#ec5 69.1px,#ec5 71.8px,#ec6 74.4px,#ec5 77.0px,#eb5 79.6px,#ec5 82.2px,#dc5 84.8px,#eb5 87.4px,#ec5 90.0px,#eb5 92.6px,#eb5 95.2px,#dc5 97.8px,#eb5 100.5px,#ec6 103.1px,#ec5 105.7px,#ec5 108.3px,#ec6 110.9px,#ec6 113.5px,#bc7 116.2px,#dc6 119.0px,#d85 121.6px,#d85 124.1px,#88b 126.4px,#99c 128.3px,#66b 130.6px,#77b 133.2px,#77b 135.8px,#66b 138.4px,#66b 141.0px,#66b 143.6px,#66b 146.2px,#66b 148.8px,#77b 151.4px,#77b 154.1px,#77b 156.7px,#77b 159.3px,#88c 161.9px,#77b 164.5px,#66b 167.1px,#77b 169.7px,#66b 172.3px,#77b 174.9px,#77b 177.5px,#77b 180.1px,#66b 182.7px,#66b 185.3px,#77b 187.9px,#77b 190.5px,#66b 193.1px,#77b 195.7px,#66b 198.3px,#77b 200.9px,#88c 203.6px,#77b 206.2px,#77b 208.8px,#77b 211.4px,#77b 214.0px,#55a 216.6px,#77b 219.2px,#77b 221.8px,#66b 224.4px,#77b 227.0px,#66b 229.6px,#77b 232.2px,#88c 234.8px,#66b 237.4px,#66b 240.0px,#66b 242.6px,#77b 245.2px,#77b 247.8px,#77b 250.4px,#66b 253.1px,#66b 255.7px,#77b 258.3px,#66b 260.9px,#77b 263.5px,#66b 266.1px,#66b 268.7px,#77b 271.3px,#77b 273.9px,#99c 276.5px,#aac 279.2px,#99c 281.8px,#89b 284.5px,#66b 287.1px,#55a 289.7px,#66b 292.4px,#55a 295.0px,#55b 297.6px,#55a 300.1px,#66b 302.7px,#55a 305.3px,#55a 307.8px)"></div>
<div class="h" style="left:29.2px;top:194.53px;width:309.1px;height:2.95px;background:linear-gradient(90deg,#da6 1.3px,#da6 3.9px,#da6 6.5px,#da6 9.1px,#da6 11.7px,#da6 14.3px,#d96 17.0px,#da6 19.6px,#db6 22.2px,#da6 24.8px,#db6 27.4px,#da5 30.0px,#da6 32.6px,#da6 35.2px,#da6 37.8px,#da6 40.4px,#da6 43.0px,#c96 45.7px,#da6 48.3px,#da6 50.9px,#da5 53.5px,#db6 56.1px,#da5 58.7px,#da6 61.3px,#db6 63.9px,#da6 66.5px,#da5 69.1px,#db6 71.8px,#da6 74.4px,#da6 77.0px,#da6 79.6px,#da6 82.2px,#da6 84.8px,#d96 87.4px,#da6 90.0px,#d96 92.6px,#da6 95.2px,#db6 97.8px,#da6 100.5px,#d96 103.1px,#db6 105.7px,#da6 108.3px,#da6 110.9px,#da6 113.5px,#cb6 116.2px,#db6 119.0px,#e64 121.6px,#e43 124.1px,#88c 126.4px,#88c 128.3px,#55b 130.6px,#66b 133.2px,#55a 135.8px,#55a 138.4px,#55a 141.0px,#55a 143.6px,#55b 146.2px,#55b 148.8px,#66b 151.4px,#55a 154.1px,#66b 156.7px,#66b 159.3px,#66b 161.9px,#77b 164.5px,#55a 167.1px,#55a 169.7px,#55b 172.3px,#66a 174.9px,#55a 177.5px,#66a 180.1px,#55a 182.7px,#55a 185.3px,#55a 187.9px,#66b 190.5px,#55a 193.1px,#55a 195.7px,#66b 198.3px,#66b 200.9px,#66b 203.6px,#55a 206.2px,#55a 208.8px,#55a 211.4px,#66b 214.0px,#55a 216.6px,#55b 219.2px,#66b 221.8px,#55a 224.4px,#55b 227.0px,#55a 229.6px,#66b 232.2px,#55a 234.8px,#55b 237.4px,#55a 240.0px,#55a 242.6px,#66b 245.2px,#66b 247.8px,#66b 250.4px,#55a 253.1px,#55a 255.7px,#55b 258.3px,#55a 260.9px,#55a 263.5px,#55a 266.1px,#55a 268.7px,#55a 271.3px,#66b 273.9px,#44a 276.5px,#44a 279.2px,#339 281.8px,#44a 284.5px,#44a 287.1px,#229 289.7px,#339 292.4px,#339 295.0px,#339 297.6px,#44a 300.1px,#339 302.7px,#339 305.3px,#44a 307.8px)"></div>
<div class="h" style="left:29.2px;top:197.43px;width:309.1px;height:2.95px;background:linear-gradient(90deg,#eb5 1.3px,#eb5 3.9px,#ec6 6.5px,#eb5 9.1px,#eb5 11.7px,#eb5 14.3px,#eb5 17.0px,#eb5 19.6px,#ec5 22.2px,#eb5 24.8px,#ec5 27.4px,#eb5 30.0px,#eb5 32.6px,#eb5 35.2px,#eb5 37.8px,#ec5 40.4px,#eb5 43.0px,#ea5 45.7px,#eb5 48.3px,#ec6 50.9px,#eb5 53.5px,#ec5 56.1px,#eb5 58.7px,#eb5 61.3px,#ec6 63.9px,#eb5 66.5px,#eb5 69.1px,#eb5 71.8px,#ec5 74.4px,#ea5 77.0px,#ea5 79.6px,#eb5 82.2px,#eb5 84.8px,#ea5 87.4px,#eb5 90.0px,#ea5 92.6px,#eb5 95.2px,#ec5 97.8px,#ea5 100.5px,#eb5 103.1px,#eb5 105.7px,#eb5 108.3px,#eb5 110.9px,#eb5 113.5px,#cc6 116.2px,#db6 119.0px,#d95 121.6px,#e85 124.1px,#77b 126.4px,#77b 128.3px,#44a 130.6px,#55b 133.2px,#44a 135.8px,#44a 138.4px,#55a 141.0px,#55a 143.6px,#55a 146.2px,#55a 148.8px,#66b 151.4px,#55a 154.1px,#55a 156.7px,#55a 159.3px,#55a 161.9px,#55a 164.5px,#44a 167.1px,#44a 169.7px,#55a 172.3px,#55a 174.9px,#44a 177.5px,#66b 180.1px,#55a 182.7px,#55a 185.3px,#44a 187.9px,#55a 190.5px,#44a 193.1px,#55a 195.7px,#55a 198.3px,#55b 200.9px,#55a 203.6px,#55a 206.2px,#44a 208.8px,#55a 211.4px,#55b 214.0px,#55a 216.6px,#44a 219.2px,#55a 221.8px,#55a 224.4px,#44a 227.0px,#55a 229.6px,#55a 232.2px,#55a 234.8px,#55a 237.4px,#44a 240.0px,#44a 242.6px,#55b 245.2px,#55a 247.8px,#55a 250.4px,#55a 253.1px,#44a 255.7px,#55a 258.3px,#55a 260.9px,#55a 263.5px,#55a 266.1px,#55a 268.7px,#44a 271.3px,#55a 273.9px,#89b 276.5px,#89b 279.2px,#88c 281.8px,#88b 284.5px,#66b 287.1px,#55a 289.7px,#66b 292.4px,#55b 295.0px,#66b 297.6px,#66a 300.1px,#66b 302.7px,#66b 305.3px,#55a 307.8px)"></div>
<div class="h" style="left:29.2px;top:200.33px;width:309.1px;height:2.95px;background:linear-gradient(90deg,#ec5 1.3px,#ec6 3.9px,#dc6 6.5px,#ec5 9.1px,#dd6 11.7px,#ec5 14.3px,#eb5 17.0px,#dc5 19.6px,#ec6 22.2px,#ec5 24.8px,#dd6 27.4px,#ec6 30.0px,#ec5 32.6px,#dc5 35.2px,#ec6 37.8px,#ec5 40.4px,#ec5 43.0px,#ec6 45.7px,#ec5 48.3px,#ec6 50.9px,#ec5 53.5px,#dd6 56.1px,#ec6 58.7px,#dc5 61.3px,#dc5 63.9px,#ec5 66.5px,#ec6 69.1px,#dc6 71.8px,#dd6 74.4px,#ec6 77.0px,#eb5 79.6px,#ec5 82.2px,#dc5 84.8px,#eb5 87.4px,#dc5 90.0px,#ec5 92.6px,#ec5 95.2px,#dc6 97.8px,#eb5 100.5px,#ec5 103.1px,#dd6 105.7px,#ec5 108.3px,#ed6 110.9px,#dc5 113.5px,#ac8 116.2px,#cc6 119.0px,#e85 121.6px,#e64 124.1px,#88c 126.4px,#77b 128.3px,#55b 130.6px,#66b 133.2px,#44a 135.8px,#55a 138.4px,#55a 141.0px,#55a 143.6px,#55a 146.2px,#55a 148.8px,#66b 151.4px,#55a 154.1px,#55a 156.7px,#66b 159.3px,#55a 161.9px,#66b 164.5px,#55a 167.1px,#55a 169.7px,#55a 172.3px,#66b 174.9px,#44a 177.5px,#55a 180.1px,#55a 182.7px,#55a 185.3px,#55a 187.9px,#55a 190.5px,#55a 193.1px,#66b 195.7px,#55b 198.3px,#55a 200.9px,#55a 203.6px,#55b 206.2px,#55a 208.8px,#55a 211.4px,#55a 214.0px,#44a 216.6px,#55a 219.2px,#55a 221.8px,#55a 224.4px,#55a 227.0px,#55a 229.6px,#55a 232.2px,#55b 234.8px,#55a 237.4px,#44a 240.0px,#44a 242.6px,#55a 245.2px,#55a 247.8px,#55a 250.4px,#55a 253.1px,#55a 255.7px,#55a 258.3px,#55a 260.9px,#55a 263.5px,#55a 266.1px,#55a 268.7px,#44a 271.3px,#55a 273.9px,#55a 276.5px,#55a 279.2px,#44a 281.8px,#44a 284.5px,#339 287.1px,#339 289.7px,#339 292.4px,#339 295.0px,#339 297.6px,#339 300.1px,#33a 302.7px,#33a 305.3px,#229 307.8px)"></div>
<div class="h" style="left:29.2px;top:203.23px;width:309.1px;height:2.95px;background:linear-gradient(90deg,#eb6 1.3px,#ea6 3.9px,#eb6 6.5px,#da5 9.1px,#db5 11.7px,#ea5 14.3px,#d95 17.0px,#eb6 19.6px,#eb6 22.2px,#da5 24.8px,#db5 27.4px,#eb6 30.0px,#d95 32.6px,#db5 35.2px,#ea5 37.8px,#da5 40.4px,#da5 43.0px,#da5 45.7px,#d95 48.3px,#eb6 50.9px,#eb6 53.5px,#db6 56.1px,#da5 58.7px,#da5 61.3px,#db5 63.9px,#ea5 66.5px,#ea6 69.1px,#ea5 71.8px,#eb6 74.4px,#da5 77.0px,#d95 79.6px,#eb6 82.2px,#eb5 84.8px,#ea6 87.4px,#da5 90.0px,#ea6 92.6px,#ea6 95.2px,#eb6 97.8px,#d95 100.5px,#ea5 103.1px,#eb6 105.7px,#da5 108.3px,#ea5 110.9px,#da5 113.5px,#cc6 116.2px,#da6 119.0px,#e95 121.6px,#e85 124.1px,#77b 126.4px,#88c 128.3px,#55a 130.6px,#55a 133.2px,#55b 135.8px,#44a 138.4px,#55a 141.0px,#66b 143.6px,#66b 146.2px,#55a 148.8px,#77b 151.4px,#55b 154.1px,#55b 156.7px,#55a 159.3px,#66b 161.9px,#66b 164.5px,#55b 167.1px,#55b 169.7px,#55b 172.3px,#66b 174.9px,#55a 177.5px,#55a 180.1px,#55a 182.7px,#66b 185.3px,#55b 187.9px,#66b 190.5px,#55a 193.1px,#55a 195.7px,#66b 198.3px,#66b 200.9px,#66b 203.6px,#66b 206.2px,#55b 208.8px,#66b 211.4px,#66b 214.0px,#55a 216.6px,#55b 219.2px,#55a 221.8px,#55a 224.4px,#55a 227.0px,#55a 229.6px,#66b 232.2px,#66b 234.8px,#55a 237.4px,#44a 240.0px,#55a 242.6px,#55a 245.2px,#66b 247.8px,#55a 250.4px,#55a 253.1px,#55b 255.7px,#55a 258.3px,#55a 260.9px,#55b 263.5px,#55a 266.1px,#55a 268.7px,#55a 271.3px,#55a 273.9px,#55a 276.5px,#66a 279.2px,#66b 281.8px,#66b 284.5px,#66b 287.1px,#55a 289.7px,#66b 292.4px,#55a 295.0px,#44a 297.6px,#55a 300.1px,#55a 302.7px,#44a 305.3px,#55a 307.8px)"></div>
<div class="h" style="left:29.2px;top:206.13px;width:309.1px;height:2.95px;background:linear-gradient(90deg,#da6 1.3px,#da6 3.9px,#db6 6.5px,#da6 9.1px,#db6 11.7px,#da6 14.3px,#d95 17.0px,#da6 19.6px,#da6 22.2px,#da6 24.8px,#da6 27.4px,#da5 30.0px,#da5 32.6px,#db5 35.2px,#da6 37.8px,#da6 40.4px,#da6 43.0px,#da6 45.7px,#d95 48.3px,#db6 50.9px,#da6 53.5px,#db6 56.1px,#da6 58.7px,#da5 61.3px,#db6 63.9px,#da6 66.5px,#da6 69.1px,#da6 71.8px,#da6 74.4px,#da6 77.0px,#da5 79.6px,#da6 82.2px,#da6 84.8px,#d96 87.4px,#da6 90.0px,#da6 92.6px,#d96 95.2px,#da6 97.8px,#d95 100.5px,#da6 103.1px,#db6 105.7px,#da6 108.3px,#da6 110.9px,#da6 113.5px,#cc6 116.2px,#da6 119.0px,#e64 121.6px,#e53 124.1px,#77b 126.4px,#88b 128.3px,#77b 130.6px,#78b 133.2px,#77b 135.8px,#66b 138.4px,#88b 141.0px,#78b 143.6px,#77b 146.2px,#77b 148.8px,#77b 151.4px,#77b 154.1px,#66b 156.7px,#77b 159.3px,#78b 161.9px,#99c 164.5px,#77b 167.1px,#66b 169.7px,#66b 172.3px,#88b 174.9px,#77b 177.5px,#88c 180.1px,#77b 182.7px,#77b 185.3px,#66b 187.9px,#78b 190.5px,#77b 193.1px,#77b 195.7px,#77b 198.3px,#78b 200.9px,#77b 203.6px,#88b 206.2px,#77b 208.8px,#77b 211.4px,#88b 214.0px,#66b 216.6px,#66b 219.2px,#88c 221.8px,#77b 224.4px,#78b 227.0px,#77b 229.6px,#77b 232.2px,#77b 234.8px,#77b 237.4px,#66b 240.0px,#77b 242.6px,#88b 245.2px,#89b 247.8px,#77b 250.4px,#67b 253.1px,#77b 255.7px,#77b 258.3px,#77b 260.9px,#77b 263.5px,#67b 266.1px,#66b 268.7px,#67b 271.3px,#77b 273.9px,#66b 276.5px,#66b 279.2px,#66b 281.8px,#66b 284.5px,#66b 287.1px,#55a 289.7px,#66b 292.4px,#55a 295.0px,#44a 297.6px,#66b 300.1px,#55a 302.7px,#55a 305.3px,#55a 307.8px)"></div>
<div class="h" style="left:29.2px;top:209.03px;width:309.1px;height:2.95px;background:linear-gradient(90deg,#ea5 1.3px,#e95 3.9px,#ea5 6.5px,#e95 9.1px,#ea5 11.7px,#ea5 14.3px,#e85 17.0px,#ea5 19.6px,#eb5 22.2px,#e95 24.8px,#ea5 27.4px,#ea5 30.0px,#ea5 32.6px,#ea5 35.2px,#ea5 37.8px,#e95 40.4px,#e95 43.0px,#e95 45.7px,#e95 48.3px,#ea5 50.9px,#ea5 53.5px,#ea5 56.1px,#e95 58.7px,#ea5 61.3px,#eb5 63.9px,#e95 66.5px,#e95 69.1px,#ea5 71.8px,#ea5 74.4px,#e95 77.0px,#e85 79.6px,#ea5 82.2px,#e95 84.8px,#e84 87.4px,#ea5 90.0px,#e84 92.6px,#e95 95.2px,#ea5 97.8px,#e95 100.5px,#ea5 103.1px,#ea5 105.7px,#e95 108.3px,#ea5 110.9px,#ea5 113.5px,#da5 116.2px,#d96 119.0px,#d85 121.6px,#e85 124.1px,#77b 126.4px,#88b 128.3px,#66b 130.6px,#55a 133.2px,#55b 135.8px,#55a 138.4px,#55a 141.0px,#55a 143.6px,#55a 146.2px,#55a 148.8px,#55a 151.4px,#55a 154.1px,#55b 156.7px,#55a 159.3px,#66a 161.9px,#66b 164.5px,#55a 167.1px,#55a 169.7px,#55a 172.3px,#55a 174.9px,#55a 177.5px,#55a 180.1px,#55a 182.7px,#55b 185.3px,#55b 187.9px,#55a 190.5px,#55a 193.1px,#66b 195.7px,#55a 198.3px,#66b 200.9px,#66b 203.6px,#55b 206.2px,#55b 208.8px,#55a 211.4px,#66a 214.0px,#55a 216.6px,#55a 219.2px,#66b 221.8px,#55a 224.4px,#55b 227.0px,#55b 229.6px,#66b 232.2px,#55a 234.8px,#55a 237.4px,#44a 240.0px,#55a 242.6px,#66b 245.2px,#55a 247.8px,#55b 250.4px,#55b 253.1px,#55a 255.7px,#55b 258.3px,#55a 260.9px,#55b 263.5px,#66b 266.1px,#55a 268.7px,#55b 271.3px,#55a 273.9px,#99c 276.5px,#9ac 279.2px,#89c 281.8px,#99c 284.5px,#77b 287.1px,#66b 289.7px,#77b 292.4px,#66b 295.0px,#66b 297.6px,#55a 300.1px,#55b 302.7px,#66b 305.3px,#55a 307.8px)"></div>
<div class="h" style="left:29.2px;top:211.93px;width:309.1px;height:2.95px;background:linear-gradient(90deg,#ea5 1.3px,#eb5 3.9px,#ec5 6.5px,#ea5 9.1px,#eb5 11.7px,#eb5 14.3px,#ea5 17.0px,#eb5 19.6px,#eb5 22.2px,#ea5 24.8px,#ec6 27.4px,#eb5 30.0px,#ea5 32.6px,#eb5 35.2px,#eb5 37.8px,#eb5 40.4px,#eb5 43.0px,#ea5 45.7px,#ea5 48.3px,#eb5 50.9px,#eb5 53.5px,#ec6 56.1px,#ea5 58.7px,#ea5 61.3px,#eb5 63.9px,#ea5 66.5px,#ea5 69.1px,#eb5 71.8px,#eb5 74.4px,#ea5 77.0px,#ea5 79.6px,#eb5 82.2px,#eb5 84.8px,#ea5 87.4px,#eb5 90.0px,#ea5 92.6px,#eb5 95.2px,#eb5 97.8px,#ea5 100.5px,#ea5 103.1px,#eb5 105.7px,#ea5 108.3px,#eb5 110.9px,#ea5 113.5px,#dc6 116.2px,#db6 119.0px,#e75 121.6px,#e64 124.1px,#88c 126.4px,#89b 128.3px,#55a 130.6px,#55a 133.2px,#55a 135.8px,#44a 138.4px,#55a 141.0px,#55a 143.6px,#55a 146.2px,#55a 148.8px,#66b 151.4px,#55a 154.1px,#55a 156.7px,#55b 159.3px,#55a 161.9px,#66b 164.5px,#55a 167.1px,#55a 169.7px,#55a 172.3px,#66b 174.9px,#55a 177.5px,#66b 180.1px,#55a 182.7px,#55a 185.3px,#55a 187.9px,#55a 190.5px,#55a 193.1px,#55a 195.7px,#55a 198.3px,#55a 200.9px,#66b 203.6px,#55a 206.2px,#55a 208.8px,#55a 211.4px,#55b 214.0px,#55a 216.6px,#55a 219.2px,#55a 221.8px,#44a 224.4px,#55a 227.0px,#55a 229.6px,#66b 232.2px,#55a 234.8px,#55a 237.4px,#44a 240.0px,#55a 242.6px,#66b 245.2px,#66b 247.8px,#55b 250.4px,#55a 253.1px,#55a 255.7px,#55a 258.3px,#55a 260.9px,#55b 263.5px,#55a 266.1px,#55a 268.7px,#55a 271.3px,#55a 273.9px,#44a 276.5px,#44a 279.2px,#339 281.8px,#339 284.5px,#44a 287.1px,#339 289.7px,#44a 292.4px,#339 295.0px,#229 297.6px,#229 300.1px,#229 302.7px,#229 305.3px,#229 307.8px)"></div>
<div class="h" style="left:29.2px;top:214.82px;width:309.1px;height:2.95px;background:linear-gradient(90deg,#eb5 1.3px,#eb5 3.9px,#ec5 6.5px,#eb5 9.1px,#ec6 11.7px,#ec5 14.3px,#eb5 17.0px,#ec6 19.6px,#ec6 22.2px,#eb5 24.8px,#ec6 27.4px,#ec6 30.0px,#eb5 32.6px,#ec5 35.2px,#ec6 37.8px,#ec6 40.4px,#ec5 43.0px,#ec5 45.7px,#eb5 48.3px,#dc5 50.9px,#dc5 53.5px,#dc5 56.1px,#eb5 58.7px,#ec5 61.3px,#dc5 63.9px,#eb5 66.5px,#ec5 69.1px,#ec5 71.8px,#dc5 74.4px,#ec5 77.0px,#eb5 79.6px,#ec5 82.2px,#ec5 84.8px,#ea5 87.4px,#ec5 90.0px,#eb5 92.6px,#eb5 95.2px,#ec6 97.8px,#eb5 100.5px,#eb5 103.1px,#ec5 105.7px,#eb5 108.3px,#dc5 110.9px,#ec5 113.5px,#ac8 116.2px,#dc6 119.0px,#e85 121.6px,#d74 124.1px,#77b 126.4px,#99c 128.3px,#44a 130.6px,#55a 133.2px,#44a 135.8px,#44a 138.4px,#44a 141.0px,#44a 143.6px,#44a 146.2px,#44a 148.8px,#55a 151.4px,#44a 154.1px,#55a 156.7px,#55a 159.3px,#55a 161.9px,#66b 164.5px,#44a 167.1px,#44a 169.7px,#55a 172.3px,#55a 174.9px,#44a 177.5px,#55a 180.1px,#44a 182.7px,#44a 185.3px,#44a 187.9px,#44a 190.5px,#55a 193.1px,#44a 195.7px,#55a 198.3px,#55b 200.9px,#55a 203.6px,#55a 206.2px,#44a 208.8px,#55a 211.4px,#44a 214.0px,#44a 216.6px,#44a 219.2px,#55a 221.8px,#44a 224.4px,#44a 227.0px,#44a 229.6px,#55a 232.2px,#55a 234.8px,#44a 237.4px,#44a 240.0px,#55a 242.6px,#55a 245.2px,#55a 247.8px,#55a 250.4px,#44a 253.1px,#55a 255.7px,#55a 258.3px,#44a 260.9px,#44a 263.5px,#44a 266.1px,#44a 268.7px,#44a 271.3px,#55a 273.9px,#55a 276.5px,#55a 279.2px,#55a 281.8px,#55a 284.5px,#55a 287.1px,#44a 289.7px,#55a 292.4px,#44a 295.0px,#55a 297.6px,#55a 300.1px,#55a 302.7px,#55a 305.3px,#55a 307.8px)"></div>
<div class="h" style="left:29.2px;top:217.72px;width:309.1px;height:2.95px;background:linear-gradient(90deg,#ec6 1.3px,#ec6 3.9px,#dc6 6.5px,#ec6 9.1px,#ec6 11.7px,#eb5 14.3px,#eb5 17.0px,#ec6 19.6px,#dc5 22.2px,#ec6 24.8px,#dc5 27.4px,#ec5 30.0px,#ec5 32.6px,#dc5 35.2px,#ec5 37.8px,#ec5 40.4px,#ec6 43.0px,#ec5 45.7px,#ec5 48.3px,#dd6 50.9px,#dc6 53.5px,#dc6 56.1px,#ec6 58.7px,#ec5 61.3px,#dd6 63.9px,#ec5 66.5px,#ec5 69.1px,#dc5 71.8px,#dd6 74.4px,#ec5 77.0px,#ec5 79.6px,#dc5 82.2px,#ec5 84.8px,#eb5 87.4px,#ec5 90.0px,#ec5 92.6px,#ec5 95.2px,#dc6 97.8px,#eb5 100.5px,#dc5 103.1px,#ec5 105.7px,#ec5 108.3px,#dc5 110.9px,#dc6 113.5px,#bc8 116.2px,#db6 119.0px,#e95 121.6px,#e75 124.1px,#66b 126.4px,#89c 128.3px,#66b 130.6px,#66b 133.2px,#66b 135.8px,#55a 138.4px,#66b 141.0px,#66b 143.6px,#66a 146.2px,#66b 148.8px,#77b 151.4px,#55a 154.1px,#55a 156.7px,#66b 159.3px,#66b 161.9px,#77b 164.5px,#55a 167.1px,#66b 169.7px,#55a 172.3px,#77b 174.9px,#55a 177.5px,#66b 180.1px,#66b 182.7px,#66b 185.3px,#66b 187.9px,#66b 190.5px,#66b 193.1px,#66b 195.7px,#66b 198.3px,#66b 200.9px,#66b 203.6px,#66b 206.2px,#55a 208.8px,#66a 211.4px,#66b 214.0px,#55a 216.6px,#55a 219.2px,#66a 221.8px,#55b 224.4px,#66a 227.0px,#66b 229.6px,#66b 232.2px,#66b 234.8px,#66b 237.4px,#55a 240.0px,#55a 242.6px,#66b 245.2px,#77b 247.8px,#66b 250.4px,#66b 253.1px,#55a 255.7px,#55a 258.3px,#55a 260.9px,#55a 263.5px,#66b 266.1px,#66b 268.7px,#66a 271.3px,#66b 273.9px,#66b 276.5px,#55a 279.2px,#55a 281.8px,#55a 284.5px,#55b 287.1px,#44a 289.7px,#55b 292.4px,#449 295.0px,#55a 297.6px,#55b 300.1px,#55a 302.7px,#55a 305.3px,#55a 307.8px)"></div>
<div class="h" style="left:29.2px;top:220.62px;width:309.1px;height:2.95px;background:linear-gradient(90deg,#ec6 1.3px,#eb5 3.9px,#ec5 6.5px,#ec5 9.1px,#ec5 11.7px,#ec5 14.3px,#eb5 17.0px,#ec6 19.6px,#dc6 22.2px,#ec6 24.8px,#ec6 27.4px,#ec6 30.0px,#ec5 32.6px,#dc5 35.2px,#dc6 37.8px,#dd6 40.4px,#ec5 43.0px,#dc5 45.7px,#ec5 48.3px,#ec6 50.9px,#dc5 53.5px,#dd6 56.1px,#ec5 58.7px,#ec5 61.3px,#dd6 63.9px,#ec5 66.5px,#ec5 69.1px,#ec6 71.8px,#ec6 74.4px,#eb5 77.0px,#ec5 79.6px,#dc5 82.2px,#ec5 84.8px,#eb5 87.4px,#ec6 90.0px,#ec5 92.6px,#eb5 95.2px,#ec6 97.8px,#eb5 100.5px,#dc5 103.1px,#dc6 105.7px,#eb5 108.3px,#ec5 110.9px,#ec5 113.5px,#bc7 116.2px,#db6 119.0px,#e85 121.6px,#e85 124.1px,#77b 126.4px,#88c 128.3px,#55a 130.6px,#55a 133.2px,#44a 135.8px,#339 138.4px,#55a 141.0px,#44a 143.6px,#55a 146.2px,#44a 148.8px,#55a 151.4px,#44a 154.1px,#44a 156.7px,#55a 159.3px,#55b 161.9px,#66b 164.5px,#44a 167.1px,#44a 169.7px,#44a 172.3px,#55a 174.9px,#44a 177.5px,#55a 180.1px,#44a 182.7px,#55a 185.3px,#44a 187.9px,#55a 190.5px,#44a 193.1px,#55a 195.7px,#55b 198.3px,#55a 200.9px,#66b 203.6px,#55b 206.2px,#55a 208.8px,#55a 211.4px,#55a 214.0px,#44a 216.6px,#55a 219.2px,#55a 221.8px,#44a 224.4px,#55a 227.0px,#55a 229.6px,#55a 232.2px,#55a 234.8px,#44a 237.4px,#44a 240.0px,#55a 242.6px,#55a 245.2px,#55b 247.8px,#55a 250.4px,#44a 253.1px,#44a 255.7px,#44a 258.3px,#44a 260.9px,#44a 263.5px,#44a 266.1px,#44a 268.7px,#55a 271.3px,#55a 273.9px,#44a 276.5px,#55b 279.2px,#55a 281.8px,#55a 284.5px,#339 287.1px,#339 289.7px,#44a 292.4px,#339 295.0px,#33a 297.6px,#33a 300.1px,#33a 302.7px,#44a 305.3px,#33a 307.8px)"></div>
<div class="h" style="left:29.2px;top:223.52px;width:309.1px;height:2.95px;background:linear-gradient(90deg,#eb5 1.3px,#eb5 3.9px,#ec5 6.5px,#eb5 9.1px,#eb5 11.7px,#eb5 14.3px,#ea5 17.0px,#eb5 19.6px,#ec6 22.2px,#eb5 24.8px,#ec5 27.4px,#eb5 30.0px,#ea5 32.6px,#eb5 35.2px,#eb5 37.8px,#eb5 40.4px,#eb5 43.0px,#eb5 45.7px,#ea5 48.3px,#eb5 50.9px,#ec6 53.5px,#eb5 56.1px,#eb5 58.7px,#eb5 61.3px,#ec6 63.9px,#eb5 66.5px,#eb5 69.1px,#eb5 71.8px,#eb5 74.4px,#ea5 77.0px,#ea5 79.6px,#ec5 82.2px,#eb5 84.8px,#eb5 87.4px,#eb5 90.0px,#ea5 92.6px,#eb5 95.2px,#eb5 97.8px,#ea5 100.5px,#eb5 103.1px,#ec5 105.7px,#eb5 108.3px,#eb5 110.9px,#eb5 113.5px,#cc6 116.2px,#db6 119.0px,#e85 121.6px,#e75 124.1px,#66b 126.4px,#88c 128.3px,#66b 130.6px,#66b 133.2px,#55a 135.8px,#55b 138.4px,#55a 141.0px,#66b 143.6px,#66a 146.2px,#66b 148.8px,#66b 151.4px,#66b 154.1px,#66b 156.7px,#66b 159.3px,#66b 161.9px,#77b 164.5px,#55b 167.1px,#55a 169.7px,#66b 172.3px,#66b 174.9px,#55a 177.5px,#66b 180.1px,#66b 182.7px,#66b 185.3px,#55a 187.9px,#66b 190.5px,#55a 193.1px,#66b 195.7px,#55a 198.3px,#66b 200.9px,#67b 203.6px,#66b 206.2px,#55a 208.8px,#55b 211.4px,#66b 214.0px,#55a 216.6px,#55a 219.2px,#66b 221.8px,#55a 224.4px,#66b 227.0px,#66a 229.6px,#66b 232.2px,#55a 234.8px,#66b 237.4px,#55b 240.0px,#66b 242.6px,#66b 245.2px,#77b 247.8px,#55a 250.4px,#55b 253.1px,#66b 255.7px,#55a 258.3px,#55a 260.9px,#55a 263.5px,#66b 266.1px,#66b 268.7px,#66b 271.3px,#55a 273.9px,#44a 276.5px,#44a 279.2px,#44a 281.8px,#339 284.5px,#229 287.1px,#229 289.7px,#229 292.4px,#118 295.0px,#229 297.6px,#339 300.1px,#229 302.7px,#229 305.3px,#229 307.8px)"></div>
<div class="h" style="left:29.2px;top:226.42px;width:309.1px;height:2.95px;background:linear-gradient(90deg,#da5 1.3px,#da5 3.9px,#db6 6.5px,#ea5 9.1px,#db5 11.7px,#ea5 14.3px,#d95 17.0px,#db5 19.6px,#da5 22.2px,#ea6 24.8px,#da5 27.4px,#eb6 30.0px,#da5 32.6px,#da5 35.2px,#da5 37.8px,#ea5 40.4px,#eb6 43.0px,#da5 45.7px,#ea5 48.3px,#eb6 50.9px,#db6 53.5px,#db5 56.1px,#ea5 58.7px,#ea6 61.3px,#db6 63.9px,#da5 66.5px,#ea6 69.1px,#eb6 71.8px,#eb5 74.4px,#ea5 77.0px,#da6 79.6px,#eb6 82.2px,#eb6 84.8px,#d95 87.4px,#eb6 90.0px,#da5 92.6px,#ea6 95.2px,#eb5 97.8px,#d95 100.5px,#ea5 103.1px,#db5 105.7px,#da5 108.3px,#db5 110.9px,#ea5 113.5px,#cc7 116.2px,#db6 119.0px,#e75 121.6px,#e74 124.1px,#77b 126.4px,#89c 128.3px,#55a 130.6px,#55b 133.2px,#44a 135.8px,#44a 138.4px,#55a 141.0px,#55a 143.6px,#55a 146.2px,#55a 148.8px,#55b 151.4px,#55a 154.1px,#55a 156.7px,#55b 159.3px,#55a 161.9px,#55a 164.5px,#55a 167.1px,#55a 169.7px,#55a 172.3px,#66b 174.9px,#44a 177.5px,#55a 180.1px,#44a 182.7px,#55a 185.3px,#44a 187.9px,#55a 190.5px,#44a 193.1px,#55a 195.7px,#55a 198.3px,#55a 200.9px,#55a 203.6px,#55b 206.2px,#44a 208.8px,#55a 211.4px,#55a 214.0px,#44a 216.6px,#44a 219.2px,#55a 221.8px,#44a 224.4px,#44a 227.0px,#44a 229.6px,#55a 232.2px,#55a 234.8px,#55a 237.4px,#44a 240.0px,#44a 242.6px,#55a 245.2px,#55b 247.8px,#55a 250.4px,#55a 253.1px,#44a 255.7px,#44a 258.3px,#44a 260.9px,#55a 263.5px,#55a 266.1px,#44a 268.7px,#44a 271.3px,#55a 273.9px,#44a 276.5px,#55a 279.2px,#44a 281.8px,#55a 284.5px,#44a 287.1px,#229 289.7px,#44a 292.4px,#33a 295.0px,#118 297.6px,#229 300.1px,#229 302.7px,#229 305.3px,#118 307.8px)"></div>
<div class="h" style="left:29.2px;top:229.32px;width:309.1px;height:2.95px;background:linear-gradient(90deg,#eb5 1.3px,#eb5 3.9px,#dc5 6.5px,#eb5 9.1px,#eb5 11.7px,#ec6 14.3px,#ea5 17.0px,#ec6 19.6px,#ec5 22.2px,#eb5 24.8px,#dc5 27.4px,#ec5 30.0px,#ea5 32.6px,#ec6 35.2px,#ec5 37.8px,#ec5 40.4px,#eb5 43.0px,#ec6 45.7px,#eb5 48.3px,#ec5 50.9px,#ec5 53.5px,#ec6 56.1px,#eb5 58.7px,#ec5 61.3px,#ec6 63.9px,#ec5 66.5px,#eb5 69.1px,#ec5 71.8px,#ec5 74.4px,#eb5 77.0px,#eb5 79.6px,#ec5 82.2px,#eb5 84.8px,#eb5 87.4px,#ec5 90.0px,#eb5 92.6px,#eb5 95.2px,#ec5 97.8px,#eb5 100.5px,#ec5 103.1px,#dc6 105.7px,#eb5 108.3px,#eb5 110.9px,#eb5 113.5px,#bc7 116.2px,#cc6 119.0px,#d64 121.6px,#e64 124.1px,#77b 126.4px,#88b 128.3px,#44a 130.6px,#55a 133.2px,#55a 135.8px,#44a 138.4px,#44a 141.0px,#55a 143.6px,#44a 146.2px,#55a 148.8px,#55b 151.4px,#44a 154.1px,#55a 156.7px,#44a 159.3px,#55a 161.9px,#55a 164.5px,#55a 167.1px,#44a 169.7px,#44a 172.3px,#55a 174.9px,#44a 177.5px,#55a 180.1px,#44a 182.7px,#55a 185.3px,#44a 187.9px,#55a 190.5px,#55a 193.1px,#55a 195.7px,#44a 198.3px,#55a 200.9px,#55a 203.6px,#55a 206.2px,#55a 208.8px,#44a 211.4px,#55a 214.0px,#44a 216.6px,#44a 219.2px,#55a 221.8px,#44a 224.4px,#44a 227.0px,#44a 229.6px,#55a 232.2px,#55a 234.8px,#55a 237.4px,#44a 240.0px,#55a 242.6px,#55b 245.2px,#55b 247.8px,#44a 250.4px,#55a 253.1px,#44a 255.7px,#44a 258.3px,#44a 260.9px,#44a 263.5px,#55a 266.1px,#44a 268.7px,#44a 271.3px,#55a 273.9px,#55a 276.5px,#55a 279.2px,#44a 281.8px,#44a 284.5px,#44a 287.1px,#339 289.7px,#33a 292.4px,#33a 295.0px,#229 297.6px,#229 300.1px,#229 302.7px,#229 305.3px,#228 307.8px)"></div>
<div class="h" style="left:29.2px;top:232.21px;width:309.1px;height:2.95px;background:linear-gradient(90deg,#ca6 1.3px,#ca7 3.9px,#ca6 6.5px,#ca6 9.1px,#ca7 11.7px,#ca7 14.3px,#b96 17.0px,#ca7 19.6px,#ca6 22.2px,#b97 24.8px,#ca7 27.4px,#ca6 30.0px,#c97 32.6px,#ca6 35.2px,#ca6 37.8px,#ca6 40.4px,#ca6 43.0px,#ca6 45.7px,#c97 48.3px,#cb7 50.9px,#ca7 53.5px,#ca7 56.1px,#ca7 58.7px,#c97 61.3px,#ca7 63.9px,#ca7 66.5px,#c97 69.1px,#b97 71.8px,#ca6 74.4px,#c96 77.0px,#c96 79.6px,#b97 82.2px,#ca7 84.8px,#c97 87.4px,#ca7 90.0px,#b97 92.6px,#ca6 95.2px,#ca7 97.8px,#c96 100.5px,#b97 103.1px,#ba7 105.7px,#b97 108.3px,#ca7 110.9px,#ca7 113.5px,#bc7 116.2px,#dc6 119.0px,#d75 121.6px,#e64 124.1px,#88b 126.4px,#88b 128.3px,#55a 130.6px,#55a 133.2px,#55a 135.8px,#44a 138.4px,#55a 141.0px,#55a 143.6px,#55a 146.2px,#44a 148.8px,#55a 151.4px,#44a 154.1px,#55a 156.7px,#55a 159.3px,#55a 161.9px,#55a 164.5px,#44a 167.1px,#44a 169.7px,#55a 172.3px,#55a 174.9px,#44a 177.5px,#55a 180.1px,#55a 182.7px,#55a 185.3px,#44a 187.9px,#55a 190.5px,#44a 193.1px,#55a 195.7px,#55a 198.3px,#55a 200.9px,#66b 203.6px,#55a 206.2px,#55a 208.8px,#55a 211.4px,#55a 214.0px,#44a 216.6px,#55a 219.2px,#55a 221.8px,#44a 224.4px,#44a 227.0px,#44a 229.6px,#55b 232.2px,#55a 234.8px,#55a 237.4px,#44a 240.0px,#44a 242.6px,#55a 245.2px,#55a 247.8px,#55a 250.4px,#55a 253.1px,#44a 255.7px,#55a 258.3px,#44a 260.9px,#55a 263.5px,#55a 266.1px,#44a 268.7px,#55a 271.3px,#55a 273.9px,#339 276.5px,#339 279.2px,#33a 281.8px,#33a 284.5px,#229 287.1px,#118 289.7px,#33a 292.4px,#118 295.0px,#339 297.6px,#229 300.1px,#229 302.7px,#229 305.3px,#229 307.8px)"></div>
<div class="h" style="left:29.2px;top:235.11px;width:309.1px;height:2.95px;background:linear-gradient(90deg,#b86 1.3px,#c97 3.9px,#c96 6.5px,#c97 9.1px,#b97 11.7px,#c97 14.3px,#c86 17.0px,#b87 19.6px,#c96 22.2px,#c97 24.8px,#b96 27.4px,#c86 30.0px,#c86 32.6px,#c97 35.2px,#c97 37.8px,#c97 40.4px,#c87 43.0px,#c97 45.7px,#b86 48.3px,#b97 50.9px,#c97 53.5px,#c97 56.1px,#c86 58.7px,#b86 61.3px,#c97 63.9px,#c96 66.5px,#c96 69.1px,#c96 71.8px,#c97 74.4px,#c96 77.0px,#c87 79.6px,#c86 82.2px,#c96 84.8px,#b76 87.4px,#c97 90.0px,#b86 92.6px,#c97 95.2px,#c96 97.8px,#b87 100.5px,#c86 103.1px,#ca7 105.7px,#c97 108.3px,#c97 110.9px,#c97 113.5px,#cc6 116.2px,#da6 119.0px,#d95 121.6px,#e85 124.1px,#88c 126.4px,#88b 128.3px,#55a 130.6px,#55a 133.2px,#55a 135.8px,#44a 138.4px,#44a 141.0px,#44a 143.6px,#55a 146.2px,#55a 148.8px,#55a 151.4px,#55a 154.1px,#44a 156.7px,#55a 159.3px,#55b 161.9px,#66b 164.5px,#44a 167.1px,#44a 169.7px,#55a 172.3px,#55b 174.9px,#44a 177.5px,#55a 180.1px,#44a 182.7px,#55a 185.3px,#55a 187.9px,#55a 190.5px,#55a 193.1px,#55a 195.7px,#55a 198.3px,#55b 200.9px,#55a 203.6px,#55a 206.2px,#44a 208.8px,#55a 211.4px,#55b 214.0px,#44a 216.6px,#44a 219.2px,#55b 221.8px,#44a 224.4px,#55a 227.0px,#44a 229.6px,#55a 232.2px,#55a 234.8px,#44a 237.4px,#339 240.0px,#55a 242.6px,#55a 245.2px,#55b 247.8px,#55a 250.4px,#55a 253.1px,#55a 255.7px,#55a 258.3px,#44a 260.9px,#44a 263.5px,#55a 266.1px,#55a 268.7px,#44a 271.3px,#55a 273.9px,#66b 276.5px,#66b 279.2px,#55a 281.8px,#55a 284.5px,#44a 287.1px,#449 289.7px,#55a 292.4px,#339 295.0px,#55a 297.6px,#44a 300.1px,#55a 302.7px,#55a 305.3px,#55a 307.8px)"></div>
<div class="h" style="left:29.2px;top:238.01px;width:309.1px;height:2.95px;background:linear-gradient(90deg,#da5 1.3px,#eb6 3.9px,#db6 6.5px,#db6 9.1px,#db5 11.7px,#db5 14.3px,#ea5 17.0px,#dc5 19.6px,#db5 22.2px,#eb6 24.8px,#dc6 27.4px,#db5 30.0px,#eb5 32.6px,#dc6 35.2px,#db5 37.8px,#ec6 40.4px,#eb5 43.0px,#dc6 45.7px,#da5 48.3px,#ec6 50.9px,#db5 53.5px,#db6 56.1px,#eb6 58.7px,#eb6 61.3px,#db6 63.9px,#eb6 66.5px,#eb6 69.1px,#dc6 71.8px,#dc6 74.4px,#ea5 77.0px,#eb6 79.6px,#db5 82.2px,#db5 84.8px,#ea5 87.4px,#db6 90.0px,#da5 92.6px,#db6 95.2px,#db5 97.8px,#da5 100.5px,#db6 103.1px,#dc6 105.7px,#db6 108.3px,#eb6 110.9px,#db6 113.5px,#bc7 116.2px,#db6 119.0px,#e85 121.6px,#e75 124.1px,#77b 126.4px,#78b 128.3px,#66b 130.6px,#55a 133.2px,#55a 135.8px,#55a 138.4px,#66b 141.0px,#66b 143.6px,#55a 146.2px,#55a 148.8px,#66b 151.4px,#55a 154.1px,#55b 156.7px,#66b 159.3px,#66a 161.9px,#66b 164.5px,#55a 167.1px,#55b 169.7px,#55a 172.3px,#66a 174.9px,#55a 177.5px,#66b 180.1px,#55a 182.7px,#55a 185.3px,#66b 187.9px,#66b 190.5px,#55b 193.1px,#66b 195.7px,#66b 198.3px,#66b 200.9px,#66b 203.6px,#55a 206.2px,#66b 208.8px,#55a 211.4px,#66b 214.0px,#55a 216.6px,#55a 219.2px,#66b 221.8px,#55a 224.4px,#55a 227.0px,#55a 229.6px,#55a 232.2px,#66b 234.8px,#55a 237.4px,#55a 240.0px,#55a 242.6px,#66b 245.2px,#66b 247.8px,#55a 250.4px,#55a 253.1px,#55a 255.7px,#55a 258.3px,#55a 260.9px,#55a 263.5px,#66b 266.1px,#66b 268.7px,#55b 271.3px,#55a 273.9px,#66b 276.5px,#77b 279.2px,#66b 281.8px,#67b 284.5px,#77b 287.1px,#55b 289.7px,#66b 292.4px,#66b 295.0px,#44a 297.6px,#44a 300.1px,#44a 302.7px,#55a 305.3px,#44a 307.8px)"></div>
<div class="h" style="left:29.2px;top:240.91px;width:309.1px;height:2.95px;background:linear-gradient(90deg,#eb5 1.3px,#ec5 3.9px,#dc5 6.5px,#ec5 9.1px,#dc5 11.7px,#eb5 14.3px,#eb5 17.0px,#dc5 19.6px,#dc6 22.2px,#ec6 24.8px,#dc5 27.4px,#ec6 30.0px,#ec5 32.6px,#ed6 35.2px,#ec6 37.8px,#ec5 40.4px,#ec5 43.0px,#ec6 45.7px,#eb5 48.3px,#dc6 50.9px,#ec5 53.5px,#dc6 56.1px,#ec6 58.7px,#dc5 61.3px,#dc6 63.9px,#eb5 66.5px,#eb5 69.1px,#ec6 71.8px,#dc5 74.4px,#eb5 77.0px,#eb5 79.6px,#ec6 82.2px,#ec6 84.8px,#eb5 87.4px,#ec6 90.0px,#ec6 92.6px,#ec5 95.2px,#dc5 97.8px,#eb5 100.5px,#ec5 103.1px,#dc5 105.7px,#ec6 108.3px,#ec5 110.9px,#dc5 113.5px,#bc8 116.2px,#dc6 119.0px,#d95 121.6px,#e95 124.1px,#77b 126.4px,#78b 128.3px,#66b 130.6px,#77b 133.2px,#66b 135.8px,#55a 138.4px,#66b 141.0px,#77b 143.6px,#66b 146.2px,#66b 148.8px,#89c 151.4px,#66b 154.1px,#77b 156.7px,#77b 159.3px,#77b 161.9px,#88c 164.5px,#66b 167.1px,#66b 169.7px,#66b 172.3px,#77b 174.9px,#77b 177.5px,#66b 180.1px,#66b 182.7px,#77b 185.3px,#66b 187.9px,#55a 190.5px,#66b 193.1px,#78b 195.7px,#88c 198.3px,#88b 200.9px,#88b 203.6px,#77b 206.2px,#66b 208.8px,#66b 211.4px,#89c 214.0px,#66b 216.6px,#77b 219.2px,#77b 221.8px,#77b 224.4px,#77b 227.0px,#66b 229.6px,#77b 232.2px,#77b 234.8px,#77b 237.4px,#66b 240.0px,#77b 242.6px,#88b 245.2px,#99c 247.8px,#66b 250.4px,#66b 253.1px,#66b 255.7px,#66b 258.3px,#77b 260.9px,#66b 263.5px,#77b 266.1px,#66b 268.7px,#77b 271.3px,#66b 273.9px,#44a 276.5px,#44a 279.2px,#44a 281.8px,#44a 284.5px,#33a 287.1px,#339 289.7px,#44a 292.4px,#339 295.0px,#33a 297.6px,#339 300.1px,#339 302.7px,#229 305.3px,#33a 307.8px)"></div>
<div class="h" style="left:29.2px;top:243.81px;width:309.1px;height:2.95px;background:linear-gradient(90deg,#ec5 1.3px,#ec6 3.9px,#dc5 6.5px,#dc5 9.1px,#dc5 11.7px,#ec6 14.3px,#ea5 17.0px,#dc6 19.6px,#dc5 22.2px,#ec5 24.8px,#ec6 27.4px,#dc6 30.0px,#ec5 32.6px,#dd6 35.2px,#ec6 37.8px,#ec6 40.4px,#dc5 43.0px,#ec6 45.7px,#ec5 48.3px,#dc6 50.9px,#dc5 53.5px,#dc5 56.1px,#ec6 58.7px,#dc5 61.3px,#dc6 63.9px,#ec5 66.5px,#ec5 69.1px,#dd6 71.8px,#dc5 74.4px,#ec6 77.0px,#ec5 79.6px,#ec5 82.2px,#dc5 84.8px,#eb5 87.4px,#ec5 90.0px,#eb5 92.6px,#ec5 95.2px,#ec6 97.8px,#eb5 100.5px,#ec5 103.1px,#dd6 105.7px,#ec6 108.3px,#dc6 110.9px,#ec5 113.5px,#bc7 116.2px,#dc6 119.0px,#d85 121.6px,#e85 124.1px,#77b 126.4px,#88b 128.3px,#55a 130.6px,#55b 133.2px,#44a 135.8px,#44a 138.4px,#55a 141.0px,#55b 143.6px,#55a 146.2px,#55a 148.8px,#66b 151.4px,#55a 154.1px,#44a 156.7px,#55a 159.3px,#66b 161.9px,#66b 164.5px,#55a 167.1px,#44a 169.7px,#55a 172.3px,#66b 174.9px,#44a 177.5px,#55b 180.1px,#55a 182.7px,#66b 185.3px,#44a 187.9px,#55a 190.5px,#44a 193.1px,#55a 195.7px,#55b 198.3px,#66b 200.9px,#55a 203.6px,#55a 206.2px,#55a 208.8px,#55a 211.4px,#66b 214.0px,#44a 216.6px,#44a 219.2px,#55a 221.8px,#55a 224.4px,#55a 227.0px,#55a 229.6px,#55a 232.2px,#55a 234.8px,#55a 237.4px,#44a 240.0px,#55a 242.6px,#55a 245.2px,#66b 247.8px,#55b 250.4px,#55a 253.1px,#44a 255.7px,#55a 258.3px,#55a 260.9px,#55a 263.5px,#55a 266.1px,#55a 268.7px,#55a 271.3px,#55a 273.9px,#66b 276.5px,#66b 279.2px,#55a 281.8px,#66b 284.5px,#66b 287.1px,#55a 289.7px,#66b 292.4px,#55a 295.0px,#55a 297.6px,#44a 300.1px,#55a 302.7px,#55a 305.3px,#55a 307.8px)"></div>
<div class="h" style="left:29.2px;top:246.71px;width:309.1px;height:2.95px;background:linear-gradient(90deg,#da5 1.3px,#ea6 3.9px,#eb6 6.5px,#ea6 9.1px,#eb6 11.7px,#da5 14.3px,#e96 17.0px,#eb6 19.6px,#db5 22.2px,#ea6 24.8px,#eb5 27.4px,#da5 30.0px,#da5 32.6px,#db5 35.2px,#da5 37.8px,#eb6 40.4px,#ea6 43.0px,#eb6 45.7px,#ea5 48.3px,#db6 50.9px,#ea5 53.5px,#eb6 56.1px,#eb6 58.7px,#eb6 61.3px,#db5 63.9px,#d95 66.5px,#d95 69.1px,#da5 71.8px,#da5 74.4px,#ea6 77.0px,#ea5 79.6px,#eb6 82.2px,#eb6 84.8px,#e96 87.4px,#d95 90.0px,#ea6 92.6px,#da5 95.2px,#db6 97.8px,#ea6 100.5px,#da5 103.1px,#eb6 105.7px,#ea6 108.3px,#da5 110.9px,#da5 113.5px,#bc6 116.2px,#db6 119.0px,#e75 121.6px,#e53 124.1px,#88c 126.4px,#77b 128.3px,#55a 130.6px,#66b 133.2px,#55a 135.8px,#55a 138.4px,#55b 141.0px,#66b 143.6px,#55a 146.2px,#55b 148.8px,#66b 151.4px,#55a 154.1px,#55a 156.7px,#66b 159.3px,#66b 161.9px,#66b 164.5px,#55a 167.1px,#55a 169.7px,#66b 172.3px,#66b 174.9px,#55a 177.5px,#66b 180.1px,#55a 182.7px,#66a 185.3px,#66b 187.9px,#55a 190.5px,#55b 193.1px,#66b 195.7px,#66b 198.3px,#66b 200.9px,#66b 203.6px,#66b 206.2px,#66b 208.8px,#66b 211.4px,#66b 214.0px,#55a 216.6px,#55a 219.2px,#55a 221.8px,#55b 224.4px,#66b 227.0px,#66b 229.6px,#55a 232.2px,#66b 234.8px,#55a 237.4px,#55a 240.0px,#66b 242.6px,#66b 245.2px,#77b 247.8px,#66b 250.4px,#55b 253.1px,#55b 255.7px,#55b 258.3px,#55a 260.9px,#66b 263.5px,#55b 266.1px,#55a 268.7px,#55b 271.3px,#66b 273.9px,#66b 276.5px,#66b 279.2px,#66b 281.8px,#66b 284.5px,#66b 287.1px,#55a 289.7px,#66b 292.4px,#55a 295.0px,#55a 297.6px,#55a 300.1px,#55a 302.7px,#66b 305.3px,#55a 307.8px)"></div>
<div class="h" style="left:29.2px;top:249.60px;width:309.1px;height:2.95px;background:linear-gradient(90deg,#ea5 1.3px,#e95 3.9px,#ea5 6.5px,#ea5 9.1px,#ea5 11.7px,#eb5 14.3px,#e95 17.0px,#eb5 19.6px,#eb5 22.2px,#eb5 24.8px,#ea5 27.4px,#ea5 30.0px,#e95 32.6px,#eb5 35.2px,#ea5 37.8px,#ea5 40.4px,#ea5 43.0px,#ea5 45.7px,#e95 48.3px,#ea5 50.9px,#eb5 53.5px,#eb5 56.1px,#ea5 58.7px,#ea5 61.3px,#eb5 63.9px,#ea5 66.5px,#ea5 69.1px,#eb5 71.8px,#ea5 74.4px,#ea5 77.0px,#e95 79.6px,#eb5 82.2px,#eb5 84.8px,#e95 87.4px,#ea5 90.0px,#ea5 92.6px,#ea5 95.2px,#ea5 97.8px,#e95 100.5px,#ea5 103.1px,#eb5 105.7px,#ea5 108.3px,#ea5 110.9px,#ea5 113.5px,#db6 116.2px,#da5 119.0px,#e64 121.6px,#e53 124.1px,#66b 126.4px,#88c 128.3px,#55a 130.6px,#66b 133.2px,#55a 135.8px,#55a 138.4px,#66b 141.0px,#66b 143.6px,#55a 146.2px,#55a 148.8px,#77b 151.4px,#66b 154.1px,#66b 156.7px,#66b 159.3px,#77b 161.9px,#77b 164.5px,#66b 167.1px,#66b 169.7px,#66b 172.3px,#66b 174.9px,#55a 177.5px,#66b 180.1px,#66b 182.7px,#66b 185.3px,#66b 187.9px,#66a 190.5px,#55a 193.1px,#66a 195.7px,#66b 198.3px,#66b 200.9px,#77b 203.6px,#66a 206.2px,#66b 208.8px,#66b 211.4px,#66b 214.0px,#55a 216.6px,#55a 219.2px,#66b 221.8px,#66b 224.4px,#66b 227.0px,#55a 229.6px,#66b 232.2px,#66b 234.8px,#66b 237.4px,#66b 240.0px,#66b 242.6px,#66b 245.2px,#66b 247.8px,#66b 250.4px,#55a 253.1px,#55a 255.7px,#66b 258.3px,#66b 260.9px,#66b 263.5px,#66b 266.1px,#55a 268.7px,#66b 271.3px,#66b 273.9px,#66b 276.5px,#55a 279.2px,#55a 281.8px,#55b 284.5px,#44a 287.1px,#33a 289.7px,#55a 292.4px,#44a 295.0px,#44a 297.6px,#55a 300.1px,#55a 302.7px,#44a 305.3px,#44a 307.8px)"></div>
<div class="h" style="left:29.2px;top:252.50px;width:309.1px;height:2.95px;background:linear-gradient(90deg,#db6 1.3px,#db6 3.9px,#dc6 6.5px,#db6 9.1px,#db6 11.7px,#db6 14.3px,#da6 17.0px,#db6 19.6px,#cb6 22.2px,#ca6 24.8px,#cb6 27.4px,#db6 30.0px,#db6 32.6px,#db6 35.2px,#db6 37.8px,#db6 40.4px,#db6 43.0px,#da6 45.7px,#da6 48.3px,#db6 50.9px,#db6 53.5px,#db6 56.1px,#db6 58.7px,#dc6 61.3px,#cb6 63.9px,#da5 66.5px,#db6 69.1px,#db6 71.8px,#db6 74.4px,#da6 77.0px,#da6 79.6px,#db6 82.2px,#da6 84.8px,#da6 87.4px,#db6 90.0px,#da6 92.6px,#da6 95.2px,#db6 97.8px,#da6 100.5px,#db6 103.1px,#cb6 105.7px,#db6 108.3px,#cb6 110.9px,#db6 113.5px,#bc6 116.2px,#db6 119.0px,#e95 121.6px,#d95 124.1px,#77b 126.4px,#77b 128.3px,#66b 130.6px,#66b 133.2px,#55a 135.8px,#55a 138.4px,#66b 141.0px,#55a 143.6px,#55a 146.2px,#55a 148.8px,#66b 151.4px,#55a 154.1px,#55a 156.7px,#66b 159.3px,#77b 161.9px,#67b 164.5px,#55a 167.1px,#55a 169.7px,#55b 172.3px,#66b 174.9px,#55a 177.5px,#66b 180.1px,#55b 182.7px,#66b 185.3px,#66b 187.9px,#66b 190.5px,#66b 193.1px,#66a 195.7px,#66b 198.3px,#66b 200.9px,#67b 203.6px,#55a 206.2px,#55a 208.8px,#66b 211.4px,#66b 214.0px,#55b 216.6px,#55a 219.2px,#66b 221.8px,#55a 224.4px,#66b 227.0px,#55b 229.6px,#66b 232.2px,#66b 234.8px,#66b 237.4px,#55a 240.0px,#66b 242.6px,#66b 245.2px,#66b 247.8px,#55a 250.4px,#66b 253.1px,#55a 255.7px,#55b 258.3px,#55a 260.9px,#66b 263.5px,#66b 266.1px,#55a 268.7px,#55a 271.3px,#66b 273.9px,#44a 276.5px,#55b 279.2px,#44a 281.8px,#44a 284.5px,#339 287.1px,#229 289.7px,#33a 292.4px,#339 295.0px,#339 297.6px,#229 300.1px,#229 302.7px,#118 305.3px,#229 307.8px)"></div>
<div class="h" style="left:29.2px;top:255.40px;width:309.1px;height:2.95px;background:linear-gradient(90deg,#ad7 1.3px,#ad6 3.9px,#ad6 6.5px,#ae7 9.1px,#ad6 11.7px,#ad6 14.3px,#ae7 17.0px,#9d7 19.6px,#bd7 22.2px,#ad6 24.8px,#ad6 27.4px,#ad6 30.0px,#ad7 32.6px,#ad6 35.2px,#ad7 37.8px,#ae7 40.4px,#ad7 43.0px,#ad6 45.7px,#ad7 48.3px,#ad7 50.9px,#ad7 53.5px,#ad7 56.1px,#be6 58.7px,#ad7 61.3px,#ad7 63.9px,#ad7 66.5px,#ad7 69.1px,#be7 71.8px,#ad7 74.4px,#ad7 77.0px,#ad7 79.6px,#ad7 82.2px,#ad7 84.8px,#ad7 87.4px,#ad6 90.0px,#ad6 92.6px,#ad6 95.2px,#ad7 97.8px,#ae7 100.5px,#ad6 103.1px,#ad6 105.7px,#ae7 108.3px,#ae7 110.9px,#bd7 113.5px,#ad7 116.2px,#ad7 119.0px,#eb5 121.6px,#ea5 124.1px,#77c 126.4px,#89c 128.3px,#88c 130.6px,#99c 133.2px,#88c 135.8px,#77b 138.4px,#99c 141.0px,#88c 143.6px,#88b 146.2px,#88b 148.8px,#99c 151.4px,#89c 154.1px,#99c 156.7px,#88b 159.3px,#aac 161.9px,#9ab 164.5px,#88b 167.1px,#88b 169.7px,#88b 172.3px,#99c 174.9px,#89c 177.5px,#89c 180.1px,#88c 182.7px,#99c 185.3px,#78b 187.9px,#88b 190.5px,#88c 193.1px,#88b 195.7px,#89b 198.3px,#99c 200.9px,#aac 203.6px,#89b 206.2px,#89b 208.8px,#99c 211.4px,#89b 214.0px,#77b 216.6px,#88b 219.2px,#99c 221.8px,#78c 224.4px,#89b 227.0px,#88b 229.6px,#99c 232.2px,#99c 234.8px,#89b 237.4px,#77b 240.0px,#88b 242.6px,#99c 245.2px,#99b 247.8px,#99c 250.4px,#88c 253.1px,#99c 255.7px,#88c 258.3px,#89c 260.9px,#88c 263.5px,#89b 266.1px,#88b 268.7px,#88b 271.3px,#78b 273.9px,#55a 276.5px,#66b 279.2px,#44a 281.8px,#55a 284.5px,#44a 287.1px,#229 289.7px,#44a 292.4px,#339 295.0px,#66b 297.6px,#55a 300.1px,#55b 302.7px,#66b 305.3px,#55a 307.8px)"></div>
<div class="h" style="left:29.2px;top:260.60px;width:309.1px;height:2.85px;background:linear-gradient(90deg,#44a 1.3px,#55a 3.9px,#44a 6.5px,#44a 9.1px,#44a 11.7px,#44a 14.3px,#55a 17.0px,#44a 19.6px,#44a 22.2px,#44a 24.8px,#44a 27.4px,#44a 30.0px,#44a 32.6px,#44a 35.2px,#55a 37.8px,#44a 40.4px,#44a 43.0px,#44a 45.7px,#55a 48.3px,#44a 50.9px,#44a 53.5px,#44a 56.1px,#44a 58.7px,#44a 61.3px,#339 63.9px,#55a 66.5px,#55a 69.1px,#44a 71.8px,#339 74.4px,#44a 77.0px,#44a 79.6px,#44a 82.2px,#44a 84.8px,#55a 87.4px,#44a 90.0px,#55b 92.6px,#44a 95.2px,#44a 97.8px,#55b 100.5px,#55a 103.1px,#44a 105.7px,#44a 108.3px,#44a 110.9px,#44a 113.5px,#c96 116.2px,#b66 119.0px,#66b 121.6px,#77b 124.1px,#998 126.4px,#ab8 128.3px,#a77 130.6px,#a67 133.2px,#a77 135.8px,#968 138.4px,#968 141.0px,#a67 143.6px,#978 146.2px,#a67 148.8px,#968 151.4px,#978 154.1px,#a67 156.7px,#a67 159.3px,#a67 161.9px,#957 164.5px,#968 167.1px,#a78 169.7px,#978 172.3px,#968 174.9px,#a77 177.5px,#a67 180.1px,#a78 182.7px,#b66 185.3px,#a67 187.9px,#a77 190.5px,#968 193.1px,#a67 195.7px,#968 198.3px,#a67 200.9px,#a67 203.6px,#967 206.2px,#a77 208.8px,#a77 211.4px,#a77 214.0px,#b77 216.6px,#b88 219.2px,#967 221.8px,#978 224.4px,#a68 227.0px,#a77 229.6px,#b56 232.2px,#a67 234.8px,#968 237.4px,#a78 240.0px,#967 242.6px,#a67 245.2px,#967 247.8px,#968 250.4px,#b77 253.1px,#978 255.7px,#968 258.3px,#979 260.9px,#a77 263.5px,#a77 266.1px,#a77 268.7px,#a77 271.3px,#968 273.9px,#e85 276.5px,#e74 279.2px,#e95 281.8px,#e95 284.5px,#eb5 287.1px,#dc5 289.7px,#eb5 292.4px,#ec6 295.0px,#eb5 297.6px,#ec6 300.1px,#ec6 302.7px,#ec5 305.3px,#ec6 307.8px)"></div>
<div class="h" style="left:29.2px;top:263.40px;width:309.1px;height:2.85px;background:linear-gradient(90deg,#44a 1.3px,#44a 3.9px,#44a 6.5px,#44a 9.1px,#339 11.7px,#44a 14.3px,#44a 17.0px,#449 19.6px,#339 22.2px,#44a 24.8px,#33a 27.4px,#44a 30.0px,#44a 32.6px,#339 35.2px,#44a 37.8px,#33a 40.4px,#44a 43.0px,#44a 45.7px,#44a 48.3px,#339 50.9px,#33a 53.5px,#33a 56.1px,#44a 58.7px,#44a 61.3px,#339 63.9px,#44a 66.5px,#44a 69.1px,#44a 71.8px,#44a 74.4px,#44a 77.0px,#44a 79.6px,#44a 82.2px,#33a 84.8px,#44a 87.4px,#44a 90.0px,#44a 92.6px,#44a 95.2px,#44a 97.8px,#44a 100.5px,#44a 103.1px,#339 105.7px,#44a 108.3px,#44a 110.9px,#44a 113.5px,#44a 116.2px,#55b 119.0px,#77b 121.6px,#77b 124.1px,#abb 126.4px,#ad9 128.3px,#979 130.6px,#a77 133.2px,#989 135.8px,#a98 138.4px,#a88 141.0px,#979 143.6px,#978 146.2px,#989 148.8px,#978 151.4px,#879 154.1px,#879 156.7px,#978 159.3px,#978 161.9px,#968 164.5px,#a88 167.1px,#a88 169.7px,#988 172.3px,#979 174.9px,#a87 177.5px,#a78 180.1px,#979 182.7px,#a88 185.3px,#978 187.9px,#a78 190.5px,#988 193.1px,#979 195.7px,#879 198.3px,#a77 200.9px,#a78 203.6px,#979 206.2px,#b88 208.8px,#989 211.4px,#979 214.0px,#988 216.6px,#989 219.2px,#978 221.8px,#879 224.4px,#989 227.0px,#a87 229.6px,#a77 232.2px,#979 234.8px,#a88 237.4px,#a87 240.0px,#979 242.6px,#a78 245.2px,#979 247.8px,#988 250.4px,#a88 253.1px,#a98 255.7px,#978 258.3px,#879 260.9px,#a88 263.5px,#978 266.1px,#878 268.7px,#989 271.3px,#978 273.9px,#9ac 276.5px,#88b 279.2px,#99c 281.8px,#77b 284.5px,#9ab 287.1px,#77b 289.7px,#9ac 292.4px,#88b 295.0px,#abb 297.6px,#9bb 300.1px,#abb 302.7px,#9ab 305.3px,#9ab 307.8px)"></div>
<div class="h" style="left:29.2px;top:268.20px;width:309.1px;height:2.91px;background:linear-gradient(90deg,#44a 1.3px,#44a 3.9px,#339 6.5px,#44a 9.1px,#33a 11.7px,#44a 14.3px,#44a 17.0px,#33a 19.6px,#339 22.2px,#44a 24.8px,#339 27.4px,#44a 30.0px,#44a 32.6px,#44a 35.2px,#44a 37.8px,#44a 40.4px,#44a 43.0px,#339 45.7px,#44a 48.3px,#339 50.9px,#339 53.5px,#339 56.1px,#44a 58.7px,#33a 61.3px,#33a 63.9px,#44a 66.5px,#44a 69.1px,#339 71.8px,#44a 74.4px,#44a 77.0px,#44a 79.6px,#33a 82.2px,#339 84.8px,#44a 87.4px,#339 90.0px,#44a 92.6px,#44a 95.2px,#44a 97.8px,#44a 100.5px,#44a 103.1px,#44a 105.7px,#44a 108.3px,#339 110.9px,#33a 113.5px,#229 116.2px,#44a 119.0px,#77b 121.6px,#88b 124.1px,#9ab 126.4px,#9ba 128.3px,#c97 130.6px,#d97 133.2px,#ca7 135.8px,#ca7 138.4px,#da7 141.0px,#c96 143.6px,#c87 146.2px,#c97 148.8px,#d87 151.4px,#ca7 154.1px,#c96 156.7px,#c97 159.3px,#c97 161.9px,#c86 164.5px,#c97 167.1px,#ca7 169.7px,#c97 172.3px,#c97 174.9px,#c96 177.5px,#c86 180.1px,#ca7 182.7px,#c97 185.3px,#d96 187.9px,#c97 190.5px,#ca7 193.1px,#c97 195.7px,#c97 198.3px,#c86 200.9px,#c96 203.6px,#c97 206.2px,#c97 208.8px,#c97 211.4px,#c86 214.0px,#c97 216.6px,#da7 219.2px,#d97 221.8px,#c98 224.4px,#c97 227.0px,#c97 229.6px,#c87 232.2px,#c87 234.8px,#c97 237.4px,#cb7 240.0px,#da7 242.6px,#c96 245.2px,#c87 247.8px,#c97 250.4px,#ca7 253.1px,#da7 255.7px,#c97 258.3px,#c97 260.9px,#c97 263.5px,#c96 266.1px,#ca6 268.7px,#b97 271.3px,#c87 273.9px,#9ab 276.5px,#aba 279.2px,#89c 281.8px,#9ab 284.5px,#89b 287.1px,#89c 289.7px,#9ab 292.4px,#99c 295.0px,#66b 297.6px,#55a 300.1px,#55a 302.7px,#55a 305.3px,#66b 307.8px)"></div>
<div class="h" style="left:29.2px;top:271.06px;width:309.1px;height:2.91px;background:linear-gradient(90deg,#339 1.3px,#229 3.9px,#229 6.5px,#33a 9.1px,#33a 11.7px,#33a 14.3px,#44a 17.0px,#339 19.6px,#229 22.2px,#339 24.8px,#229 27.4px,#339 30.0px,#33a 32.6px,#229 35.2px,#33a 37.8px,#339 40.4px,#229 43.0px,#229 45.7px,#339 48.3px,#229 50.9px,#339 53.5px,#339 56.1px,#229 58.7px,#339 61.3px,#229 63.9px,#229 66.5px,#33a 69.1px,#229 71.8px,#339 74.4px,#33a 77.0px,#229 79.6px,#33a 82.2px,#229 84.8px,#33a 87.4px,#339 90.0px,#339 92.6px,#33a 95.2px,#229 97.8px,#33a 100.5px,#339 103.1px,#229 105.7px,#33a 108.3px,#339 110.9px,#339 113.5px,#118 116.2px,#339 119.0px,#77b 121.6px,#77b 124.1px,#9aa 126.4px,#9aa 128.3px,#ba7 130.6px,#ca7 133.2px,#ca7 135.8px,#cc7 138.4px,#ca7 141.0px,#bb7 143.6px,#ca6 146.2px,#cb8 148.8px,#c96 151.4px,#cb6 154.1px,#ca7 156.7px,#ca7 159.3px,#ca7 161.9px,#c97 164.5px,#db7 167.1px,#bb8 169.7px,#cb7 172.3px,#ca7 174.9px,#cb7 177.5px,#ca8 180.1px,#cb8 182.7px,#ca7 185.3px,#cb6 187.9px,#ca7 190.5px,#ba7 193.1px,#ca7 195.7px,#db7 198.3px,#ca7 200.9px,#da7 203.6px,#db7 206.2px,#cb7 208.8px,#cb7 211.4px,#c97 214.0px,#cb7 216.6px,#cb7 219.2px,#cb7 221.8px,#cb7 224.4px,#ca6 227.0px,#cb8 229.6px,#ca7 232.2px,#ca6 234.8px,#cb7 237.4px,#cb7 240.0px,#cb7 242.6px,#ca7 245.2px,#ca7 247.8px,#cb7 250.4px,#db7 253.1px,#ca7 255.7px,#ba7 258.3px,#cb7 260.9px,#cb7 263.5px,#ca7 266.1px,#cb7 268.7px,#cb7 271.3px,#ca6 273.9px,#77b 276.5px,#9ac 279.2px,#78b 281.8px,#88c 284.5px,#77b 287.1px,#77b 289.7px,#77b 292.4px,#77b 295.0px,#66b 297.6px,#66b 300.1px,#66b 302.7px,#66b 305.3px,#55a 307.8px)"></div>
<div class="h" style="left:29.2px;top:273.91px;width:309.1px;height:2.91px;background:linear-gradient(90deg,#44a 1.3px,#44a 3.9px,#339 6.5px,#44a 9.1px,#44a 11.7px,#55a 14.3px,#55a 17.0px,#55a 19.6px,#339 22.2px,#44a 24.8px,#44a 27.4px,#44a 30.0px,#55a 32.6px,#44a 35.2px,#44a 37.8px,#44a 40.4px,#44a 43.0px,#44a 45.7px,#55a 48.3px,#44a 50.9px,#44a 53.5px,#44a 56.1px,#44a 58.7px,#44a 61.3px,#44a 63.9px,#44a 66.5px,#44a 69.1px,#44a 71.8px,#44a 74.4px,#55a 77.0px,#55a 79.6px,#44a 82.2px,#44a 84.8px,#55a 87.4px,#44a 90.0px,#44a 92.6px,#44a 95.2px,#44a 97.8px,#55a 100.5px,#55a 103.1px,#44a 105.7px,#44a 108.3px,#55a 110.9px,#44a 113.5px,#339 116.2px,#55a 119.0px,#66b 121.6px,#88c 124.1px,#89b 126.4px,#9ba 128.3px,#b98 130.6px,#b87 133.2px,#b98 135.8px,#b98 138.4px,#b98 141.0px,#b98 143.6px,#b98 146.2px,#b97 148.8px,#b87 151.4px,#b88 154.1px,#c98 156.7px,#b88 159.3px,#c97 161.9px,#c76 164.5px,#b98 167.1px,#c97 169.7px,#b98 172.3px,#c87 174.9px,#ba8 177.5px,#b98 180.1px,#b99 182.7px,#b87 185.3px,#c97 187.9px,#ca7 190.5px,#b98 193.1px,#c97 195.7px,#c97 198.3px,#b77 200.9px,#c77 203.6px,#b98 206.2px,#ca8 208.8px,#c97 211.4px,#b88 214.0px,#ba8 216.6px,#c98 219.2px,#b88 221.8px,#b97 224.4px,#b97 227.0px,#c98 229.6px,#c87 232.2px,#c98 234.8px,#b87 237.4px,#ca8 240.0px,#c98 242.6px,#b98 245.2px,#b87 247.8px,#c98 250.4px,#ca8 253.1px,#b98 255.7px,#b99 258.3px,#b98 260.9px,#c97 263.5px,#b98 266.1px,#b97 268.7px,#b98 271.3px,#c98 273.9px,#cb7 276.5px,#bb7 279.2px,#bc8 281.8px,#ab8 284.5px,#da7 287.1px,#bb8 289.7px,#b97 292.4px,#cb7 295.0px,#77b 297.6px,#88c 300.1px,#77b 302.7px,#66b 305.3px,#77b 307.8px)"></div>
<div class="h" style="left:29.2px;top:276.77px;width:309.1px;height:2.91px;background:linear-gradient(90deg,#55a 1.3px,#55a 3.9px,#55a 6.5px,#66b 9.1px,#44a 11.7px,#55a 14.3px,#66b 17.0px,#44a 19.6px,#55a 22.2px,#55a 24.8px,#44a 27.4px,#55a 30.0px,#55b 32.6px,#55a 35.2px,#55a 37.8px,#55a 40.4px,#55a 43.0px,#55b 45.7px,#55a 48.3px,#55a 50.9px,#44a 53.5px,#55a 56.1px,#55a 58.7px,#55a 61.3px,#44a 63.9px,#55b 66.5px,#55b 69.1px,#55a 71.8px,#55a 74.4px,#66b 77.0px,#55a 79.6px,#55a 82.2px,#44a 84.8px,#66b 87.4px,#55a 90.0px,#55b 92.6px,#55a 95.2px,#55a 97.8px,#66b 100.5px,#55a 103.1px,#55a 105.7px,#55a 108.3px,#55a 110.9px,#55a 113.5px,#339 116.2px,#55b 119.0px,#77b 121.6px,#66b 124.1px,#9bb 126.4px,#9aa 128.3px,#cb7 130.6px,#ca6 133.2px,#db7 135.8px,#cc7 138.4px,#db7 141.0px,#db7 143.6px,#cb7 146.2px,#cb7 148.8px,#db7 151.4px,#db7 154.1px,#cb7 156.7px,#cb7 159.3px,#ca6 161.9px,#c97 164.5px,#cb6 167.1px,#cb7 169.7px,#cb7 172.3px,#da7 174.9px,#cb7 177.5px,#db7 180.1px,#cb6 182.7px,#da7 185.3px,#cb6 187.9px,#da6 190.5px,#cb7 193.1px,#ca6 195.7px,#ca7 198.3px,#da6 200.9px,#ca7 203.6px,#db7 206.2px,#db7 208.8px,#da7 211.4px,#ca6 214.0px,#cb7 216.6px,#cb7 219.2px,#da6 221.8px,#cb7 224.4px,#db7 227.0px,#db6 229.6px,#ca7 232.2px,#ca6 234.8px,#cb7 237.4px,#cb7 240.0px,#dc7 242.6px,#c96 245.2px,#ca7 247.8px,#cb7 250.4px,#cb7 253.1px,#cb7 255.7px,#db7 258.3px,#cb7 260.9px,#db7 263.5px,#ca6 266.1px,#cb7 268.7px,#cb6 271.3px,#cb7 273.9px,#9ab 276.5px,#9aa 279.2px,#9ab 281.8px,#9ab 284.5px,#9b9 287.1px,#89b 289.7px,#9ba 292.4px,#9b9 295.0px,#ec5 297.6px,#dc5 300.1px,#dc5 302.7px,#dc5 305.3px,#ec5 307.8px)"></div>
<div class="h" style="left:29.2px;top:279.63px;width:309.1px;height:2.91px;background:linear-gradient(90deg,#339 1.3px,#339 3.9px,#33a 6.5px,#33a 9.1px,#229 11.7px,#33a 14.3px,#33a 17.0px,#229 19.6px,#118 22.2px,#33a 24.8px,#229 27.4px,#229 30.0px,#339 32.6px,#229 35.2px,#339 37.8px,#33a 40.4px,#339 43.0px,#339 45.7px,#339 48.3px,#229 50.9px,#229 53.5px,#229 56.1px,#339 58.7px,#339 61.3px,#229 63.9px,#339 66.5px,#339 69.1px,#229 71.8px,#229 74.4px,#33a 77.0px,#33a 79.6px,#229 82.2px,#229 84.8px,#33a 87.4px,#339 90.0px,#339 92.6px,#339 95.2px,#229 97.8px,#339 100.5px,#339 103.1px,#339 105.7px,#33a 108.3px,#339 110.9px,#33a 113.5px,#118 116.2px,#33a 119.0px,#66b 121.6px,#77b 124.1px,#89b 126.4px,#9a9 128.3px,#c97 130.6px,#c97 133.2px,#b97 135.8px,#ba7 138.4px,#b97 141.0px,#ba8 143.6px,#c97 146.2px,#c97 148.8px,#c97 151.4px,#b98 154.1px,#b98 156.7px,#c97 159.3px,#b87 161.9px,#b88 164.5px,#c98 167.1px,#c97 169.7px,#b98 172.3px,#b88 174.9px,#ba8 177.5px,#c97 180.1px,#ca7 182.7px,#c97 185.3px,#b98 187.9px,#b98 190.5px,#b98 193.1px,#ca7 195.7px,#b97 198.3px,#c87 200.9px,#c97 203.6px,#b97 206.2px,#b97 208.8px,#b97 211.4px,#c98 214.0px,#ca8 216.6px,#ba7 219.2px,#b98 221.8px,#b98 224.4px,#b98 227.0px,#ca8 229.6px,#c97 232.2px,#b98 234.8px,#b97 237.4px,#ca7 240.0px,#ca7 242.6px,#b87 245.2px,#c97 247.8px,#c97 250.4px,#c98 253.1px,#b97 255.7px,#b97 258.3px,#b98 260.9px,#c97 263.5px,#c97 266.1px,#ba8 268.7px,#ba7 271.3px,#c98 273.9px,#9ba 276.5px,#bb7 279.2px,#9ba 281.8px,#ab8 284.5px,#ac8 287.1px,#9b9 289.7px,#9b8 292.4px,#ab9 295.0px,#88c 297.6px,#88c 300.1px,#77b 302.7px,#88b 305.3px,#77b 307.8px)"></div>
<div class="h" style="left:29.2px;top:282.49px;width:309.1px;height:2.91px;background:linear-gradient(90deg,#55a 1.3px,#55a 3.9px,#44a 6.5px,#44a 9.1px,#44a 11.7px,#44a 14.3px,#55a 17.0px,#44a 19.6px,#33a 22.2px,#44a 24.8px,#44a 27.4px,#44a 30.0px,#55a 32.6px,#44a 35.2px,#44a 37.8px,#55a 40.4px,#55a 43.0px,#44a 45.7px,#55a 48.3px,#44a 50.9px,#44a 53.5px,#339 56.1px,#44a 58.7px,#44a 61.3px,#44a 63.9px,#44a 66.5px,#44a 69.1px,#44a 71.8px,#44a 74.4px,#44a 77.0px,#55a 79.6px,#44a 82.2px,#44a 84.8px,#55a 87.4px,#55a 90.0px,#44a 92.6px,#55a 95.2px,#44a 97.8px,#44a 100.5px,#44a 103.1px,#44a 105.7px,#44a 108.3px,#44a 110.9px,#55a 113.5px,#44a 116.2px,#44a 119.0px,#77b 121.6px,#77b 124.1px,#89b 126.4px,#89b 128.3px,#ca7 130.6px,#ca7 133.2px,#da7 135.8px,#ca7 138.4px,#da7 141.0px,#ca7 143.6px,#ca7 146.2px,#db7 148.8px,#d97 151.4px,#da7 154.1px,#db7 156.7px,#ca7 159.3px,#c97 161.9px,#c86 164.5px,#ca7 167.1px,#db7 169.7px,#da7 172.3px,#c97 174.9px,#ca7 177.5px,#c96 180.1px,#ca7 182.7px,#d97 185.3px,#ca7 187.9px,#ca7 190.5px,#da7 193.1px,#c97 195.7px,#da7 198.3px,#c97 200.9px,#c97 203.6px,#c97 206.2px,#da7 208.8px,#ca7 211.4px,#c96 214.0px,#cb6 216.6px,#ca7 219.2px,#ca7 221.8px,#ca7 224.4px,#ca7 227.0px,#ca8 229.6px,#ca7 232.2px,#c97 234.8px,#ca7 237.4px,#db7 240.0px,#ca6 242.6px,#c97 245.2px,#d96 247.8px,#da7 250.4px,#cb7 253.1px,#ca7 255.7px,#da7 258.3px,#db7 260.9px,#db7 263.5px,#ca7 266.1px,#da7 268.7px,#ca7 271.3px,#c97 273.9px,#d86 276.5px,#c86 279.2px,#c97 281.8px,#c96 284.5px,#da6 287.1px,#cb7 289.7px,#ca7 292.4px,#cb7 295.0px,#da7 297.6px,#db7 300.1px,#c96 302.7px,#ca6 305.3px,#cb7 307.8px)"></div>
<div class="h" style="left:29.2px;top:285.34px;width:309.1px;height:2.91px;background:linear-gradient(90deg,#66b 1.3px,#55a 3.9px,#55a 6.5px,#55b 9.1px,#55b 11.7px,#55a 14.3px,#66b 17.0px,#55a 19.6px,#44a 22.2px,#66b 24.8px,#55a 27.4px,#55a 30.0px,#55a 32.6px,#55a 35.2px,#55b 37.8px,#55a 40.4px,#55b 43.0px,#55a 45.7px,#55a 48.3px,#55a 50.9px,#55a 53.5px,#55a 56.1px,#55b 58.7px,#55b 61.3px,#44a 63.9px,#55a 66.5px,#55a 69.1px,#55a 71.8px,#55a 74.4px,#55b 77.0px,#55b 79.6px,#55b 82.2px,#55a 84.8px,#66a 87.4px,#55a 90.0px,#55b 92.6px,#66b 95.2px,#55a 97.8px,#66b 100.5px,#55a 103.1px,#44a 105.7px,#66b 108.3px,#66b 110.9px,#55b 113.5px,#44a 116.2px,#55a 119.0px,#66b 121.6px,#67b 124.1px,#89b 126.4px,#9aa 128.3px,#d96 130.6px,#d96 133.2px,#da7 135.8px,#da6 138.4px,#d97 141.0px,#da6 143.6px,#da7 146.2px,#da7 148.8px,#d96 151.4px,#da6 154.1px,#da7 156.7px,#c96 159.3px,#d96 161.9px,#d86 164.5px,#ca6 167.1px,#ca7 169.7px,#c97 172.3px,#d96 174.9px,#d96 177.5px,#da6 180.1px,#da6 182.7px,#d97 185.3px,#da6 187.9px,#da6 190.5px,#da7 193.1px,#d97 195.7px,#d96 198.3px,#d96 200.9px,#d86 203.6px,#d96 206.2px,#d96 208.8px,#da7 211.4px,#d96 214.0px,#c96 216.6px,#ca6 219.2px,#d96 221.8px,#da6 224.4px,#d96 227.0px,#da6 229.6px,#da7 232.2px,#c96 234.8px,#d97 237.4px,#da6 240.0px,#da6 242.6px,#c86 245.2px,#c86 247.8px,#d97 250.4px,#c96 253.1px,#ca6 255.7px,#da7 258.3px,#da6 260.9px,#d96 263.5px,#c96 266.1px,#ca6 268.7px,#da7 271.3px,#d97 273.9px,#c76 276.5px,#d86 279.2px,#c96 281.8px,#c86 284.5px,#db7 287.1px,#cb6 289.7px,#ca6 292.4px,#ca6 295.0px,#c97 297.6px,#da7 300.1px,#ca7 302.7px,#db7 305.3px,#db7 307.8px)"></div>
<div class="h" style="left:29.2px;top:288.20px;width:309.1px;height:2.91px;background:linear-gradient(90deg,#339 1.3px,#339 3.9px,#339 6.5px,#33a 9.1px,#229 11.7px,#229 14.3px,#339 17.0px,#229 19.6px,#229 22.2px,#339 24.8px,#339 27.4px,#33a 30.0px,#339 32.6px,#339 35.2px,#229 37.8px,#339 40.4px,#339 43.0px,#33a 45.7px,#339 48.3px,#229 50.9px,#229 53.5px,#339 56.1px,#229 58.7px,#229 61.3px,#229 63.9px,#33a 66.5px,#229 69.1px,#229 71.8px,#229 74.4px,#33a 77.0px,#33a 79.6px,#339 82.2px,#339 84.8px,#339 87.4px,#339 90.0px,#33a 92.6px,#339 95.2px,#229 97.8px,#33a 100.5px,#339 103.1px,#229 105.7px,#339 108.3px,#229 110.9px,#229 113.5px,#118 116.2px,#33a 119.0px,#66b 121.6px,#77b 124.1px,#89c 126.4px,#9aa 128.3px,#ca7 130.6px,#ca7 133.2px,#cb8 135.8px,#ba8 138.4px,#ca7 141.0px,#ca7 143.6px,#b97 146.2px,#cb7 148.8px,#c97 151.4px,#ba8 154.1px,#ca7 156.7px,#ca7 159.3px,#c97 161.9px,#b97 164.5px,#b97 167.1px,#ca7 169.7px,#c97 172.3px,#c97 174.9px,#cb7 177.5px,#c97 180.1px,#ca7 182.7px,#ca7 185.3px,#ba7 187.9px,#c97 190.5px,#ba7 193.1px,#b98 195.7px,#b97 198.3px,#b97 200.9px,#b97 203.6px,#ca7 206.2px,#ba8 208.8px,#b97 211.4px,#c97 214.0px,#bb8 216.6px,#ca7 219.2px,#c97 221.8px,#ca7 224.4px,#ca8 227.0px,#ca7 229.6px,#b98 232.2px,#b97 234.8px,#ca7 237.4px,#cb7 240.0px,#cb7 242.6px,#ca7 245.2px,#ca7 247.8px,#ca7 250.4px,#ba7 253.1px,#ca7 255.7px,#ca7 258.3px,#cb8 260.9px,#ca7 263.5px,#c97 266.1px,#ca7 268.7px,#ba8 271.3px,#ba7 273.9px,#d97 276.5px,#c86 279.2px,#c96 281.8px,#d97 284.5px,#c97 287.1px,#ca6 289.7px,#da7 292.4px,#da7 295.0px,#da7 297.6px,#ca7 300.1px,#cb7 302.7px,#ca7 305.3px,#cb7 307.8px)"></div>
<div class="h" style="left:29.2px;top:291.06px;width:309.1px;height:2.91px;background:linear-gradient(90deg,#44a 1.3px,#44a 3.9px,#44a 6.5px,#55a 9.1px,#44a 11.7px,#44a 14.3px,#55b 17.0px,#44a 19.6px,#339 22.2px,#44a 24.8px,#44a 27.4px,#44a 30.0px,#44a 32.6px,#44a 35.2px,#44a 37.8px,#44a 40.4px,#44a 43.0px,#44a 45.7px,#55a 48.3px,#44a 50.9px,#44a 53.5px,#44a 56.1px,#55a 58.7px,#44a 61.3px,#33a 63.9px,#55a 66.5px,#44a 69.1px,#44a 71.8px,#33a 74.4px,#44a 77.0px,#55a 79.6px,#55a 82.2px,#44a 84.8px,#44a 87.4px,#44a 90.0px,#44a 92.6px,#44a 95.2px,#44a 97.8px,#44a 100.5px,#44a 103.1px,#339 105.7px,#55a 108.3px,#44a 110.9px,#44a 113.5px,#44a 116.2px,#44a 119.0px,#66b 121.6px,#88b 124.1px,#89b 126.4px,#9ba 128.3px,#b98 130.6px,#c87 133.2px,#c87 135.8px,#b98 138.4px,#c97 141.0px,#c87 143.6px,#c97 146.2px,#b98 148.8px,#b77 151.4px,#c87 154.1px,#b88 156.7px,#b88 159.3px,#c87 161.9px,#b77 164.5px,#b88 167.1px,#b88 169.7px,#c86 172.3px,#c77 174.9px,#c97 177.5px,#b77 180.1px,#c97 182.7px,#b78 185.3px,#b88 187.9px,#b87 190.5px,#b87 193.1px,#c87 195.7px,#c87 198.3px,#b77 200.9px,#b78 203.6px,#b88 206.2px,#b88 208.8px,#b87 211.4px,#c87 214.0px,#b97 216.6px,#b88 219.2px,#c87 221.8px,#b98 224.4px,#b88 227.0px,#c98 229.6px,#c77 232.2px,#c87 234.8px,#b87 237.4px,#b97 240.0px,#c76 242.6px,#b77 245.2px,#c66 247.8px,#c98 250.4px,#b88 253.1px,#b98 255.7px,#c87 258.3px,#b87 260.9px,#c87 263.5px,#b88 266.1px,#c87 268.7px,#c87 271.3px,#b87 273.9px,#d96 276.5px,#d86 279.2px,#d96 281.8px,#c96 284.5px,#c96 287.1px,#cb7 289.7px,#c97 292.4px,#cb7 295.0px,#db6 297.6px,#ca7 300.1px,#cb7 302.7px,#db7 305.3px,#cb7 307.8px)"></div>
<div class="h" style="left:29.2px;top:293.91px;width:309.1px;height:2.91px;background:linear-gradient(90deg,#44a 1.3px,#44a 3.9px,#339 6.5px,#44a 9.1px,#229 11.7px,#44a 14.3px,#44a 17.0px,#33a 19.6px,#339 22.2px,#33a 24.8px,#339 27.4px,#33a 30.0px,#339 32.6px,#339 35.2px,#33a 37.8px,#339 40.4px,#44a 43.0px,#339 45.7px,#44a 48.3px,#229 50.9px,#33a 53.5px,#229 56.1px,#339 58.7px,#339 61.3px,#229 63.9px,#339 66.5px,#339 69.1px,#339 71.8px,#339 74.4px,#33a 77.0px,#44a 79.6px,#229 82.2px,#229 84.8px,#44a 87.4px,#339 90.0px,#44a 92.6px,#339 95.2px,#339 97.8px,#44a 100.5px,#339 103.1px,#229 105.7px,#33a 108.3px,#339 110.9px,#339 113.5px,#229 116.2px,#339 119.0px,#55a 121.6px,#66b 124.1px,#9aa 126.4px,#99b 128.3px,#c97 130.6px,#b87 133.2px,#c97 135.8px,#c97 138.4px,#c86 141.0px,#c97 143.6px,#b87 146.2px,#c87 148.8px,#b66 151.4px,#b88 154.1px,#b87 156.7px,#c87 159.3px,#c87 161.9px,#c86 164.5px,#c97 167.1px,#c87 169.7px,#c97 172.3px,#c87 174.9px,#c87 177.5px,#b87 180.1px,#b87 182.7px,#c88 185.3px,#b87 187.9px,#c97 190.5px,#c97 193.1px,#c76 195.7px,#b87 198.3px,#c86 200.9px,#c77 203.6px,#b77 206.2px,#c87 208.8px,#c96 211.4px,#c87 214.0px,#ca7 216.6px,#c97 219.2px,#c87 221.8px,#c97 224.4px,#b87 227.0px,#c97 229.6px,#c87 232.2px,#c88 234.8px,#c96 237.4px,#c97 240.0px,#c97 242.6px,#b87 245.2px,#c87 247.8px,#c87 250.4px,#c98 253.1px,#c97 255.7px,#c97 258.3px,#c98 260.9px,#c87 263.5px,#c86 266.1px,#ca7 268.7px,#c87 271.3px,#c97 273.9px,#d86 276.5px,#d86 279.2px,#da6 281.8px,#c86 284.5px,#ca7 287.1px,#db7 289.7px,#da6 292.4px,#cb7 295.0px,#cb7 297.6px,#ca7 300.1px,#cb7 302.7px,#ca7 305.3px,#cb7 307.8px)"></div>
<div class="h" style="left:29.2px;top:296.77px;width:309.1px;height:2.91px;background:linear-gradient(90deg,#55b 1.3px,#55a 3.9px,#55a 6.5px,#55a 9.1px,#55a 11.7px,#55a 14.3px,#55a 17.0px,#55a 19.6px,#44a 22.2px,#55a 24.8px,#44a 27.4px,#55a 30.0px,#55b 32.6px,#55a 35.2px,#44a 37.8px,#44a 40.4px,#55a 43.0px,#55a 45.7px,#55a 48.3px,#44a 50.9px,#44a 53.5px,#44a 56.1px,#55a 58.7px,#55a 61.3px,#44a 63.9px,#55a 66.5px,#55a 69.1px,#44a 71.8px,#44a 74.4px,#55b 77.0px,#55a 79.6px,#44a 82.2px,#44a 84.8px,#55a 87.4px,#55a 90.0px,#55a 92.6px,#55b 95.2px,#44a 97.8px,#55a 100.5px,#55b 103.1px,#44a 105.7px,#55a 108.3px,#55a 110.9px,#55a 113.5px,#44a 116.2px,#55a 119.0px,#66b 121.6px,#77b 124.1px,#99b 126.4px,#9aa 128.3px,#c97 130.6px,#c87 133.2px,#ca7 135.8px,#da7 138.4px,#c97 141.0px,#c86 143.6px,#b97 146.2px,#b97 148.8px,#c76 151.4px,#da7 154.1px,#ca7 156.7px,#ca7 159.3px,#c87 161.9px,#c76 164.5px,#c97 167.1px,#c96 169.7px,#ca7 172.3px,#c87 174.9px,#ca7 177.5px,#c97 180.1px,#c97 182.7px,#c87 185.3px,#c97 187.9px,#c87 190.5px,#c97 193.1px,#d97 195.7px,#d97 198.3px,#d86 200.9px,#c86 203.6px,#c97 206.2px,#c97 208.8px,#c97 211.4px,#b87 214.0px,#c96 216.6px,#c97 219.2px,#c97 221.8px,#c97 224.4px,#c97 227.0px,#c96 229.6px,#c87 232.2px,#c97 234.8px,#da7 237.4px,#ca7 240.0px,#da7 242.6px,#c87 245.2px,#c87 247.8px,#c97 250.4px,#d97 253.1px,#c96 255.7px,#c96 258.3px,#c97 260.9px,#c97 263.5px,#c96 266.1px,#c97 268.7px,#ca7 271.3px,#c97 273.9px,#e75 276.5px,#d64 279.2px,#d86 281.8px,#d75 284.5px,#d97 287.1px,#ca7 289.7px,#c97 292.4px,#cb7 295.0px,#d86 297.6px,#d97 300.1px,#d97 302.7px,#da6 305.3px,#d97 307.8px)"></div>
<div class="h" style="left:29.2px;top:299.63px;width:309.1px;height:2.91px;background:linear-gradient(90deg,#44a 1.3px,#55a 3.9px,#44a 6.5px,#44a 9.1px,#44a 11.7px,#44a 14.3px,#55a 17.0px,#339 19.6px,#339 22.2px,#44a 24.8px,#44a 27.4px,#44a 30.0px,#44a 32.6px,#44a 35.2px,#44a 37.8px,#44a 40.4px,#44a 43.0px,#44a 45.7px,#55a 48.3px,#44a 50.9px,#44a 53.5px,#44a 56.1px,#44a 58.7px,#44a 61.3px,#44a 63.9px,#44a 66.5px,#44a 69.1px,#44a 71.8px,#44a 74.4px,#55a 77.0px,#55a 79.6px,#44a 82.2px,#44a 84.8px,#55a 87.4px,#44a 90.0px,#44a 92.6px,#44a 95.2px,#44a 97.8px,#55a 100.5px,#44a 103.1px,#339 105.7px,#55a 108.3px,#44a 110.9px,#44a 113.5px,#339 116.2px,#55a 119.0px,#66b 121.6px,#66b 124.1px,#9aa 126.4px,#9ab 128.3px,#ca7 130.6px,#ca7 133.2px,#da7 135.8px,#cb7 138.4px,#ca7 141.0px,#ca7 143.6px,#ca6 146.2px,#ca7 148.8px,#c96 151.4px,#ca7 154.1px,#ca7 156.7px,#c96 159.3px,#c97 161.9px,#c97 164.5px,#cb6 167.1px,#ca6 169.7px,#ca6 172.3px,#c97 174.9px,#ca7 177.5px,#c96 180.1px,#ca7 182.7px,#ca7 185.3px,#ca7 187.9px,#b97 190.5px,#ca7 193.1px,#db7 195.7px,#c97 198.3px,#c96 200.9px,#d97 203.6px,#ca7 206.2px,#ca7 208.8px,#da7 211.4px,#ca7 214.0px,#ca7 216.6px,#ca7 219.2px,#ca7 221.8px,#ca7 224.4px,#ca6 227.0px,#ca7 229.6px,#ca7 232.2px,#c97 234.8px,#db7 237.4px,#ca7 240.0px,#c97 242.6px,#c97 245.2px,#ca7 247.8px,#da7 250.4px,#c97 253.1px,#ca6 255.7px,#c97 258.3px,#ca7 260.9px,#ca7 263.5px,#ca6 266.1px,#ca7 268.7px,#ca7 271.3px,#c97 273.9px,#d75 276.5px,#e65 279.2px,#d85 281.8px,#d85 284.5px,#d96 287.1px,#da7 289.7px,#c97 292.4px,#ca6 295.0px,#da7 297.6px,#c96 300.1px,#c97 302.7px,#da6 305.3px,#c96 307.8px)"></div>
<div class="h" style="left:29.2px;top:302.49px;width:309.1px;height:2.91px;background:linear-gradient(90deg,#55a 1.3px,#66b 3.9px,#55a 6.5px,#55b 9.1px,#55a 11.7px,#55a 14.3px,#66a 17.0px,#55a 19.6px,#55a 22.2px,#55a 24.8px,#55a 27.4px,#55a 30.0px,#66b 32.6px,#55b 35.2px,#55a 37.8px,#55a 40.4px,#55a 43.0px,#55a 45.7px,#66b 48.3px,#55b 50.9px,#55a 53.5px,#44a 56.1px,#55a 58.7px,#55a 61.3px,#55a 63.9px,#55a 66.5px,#55b 69.1px,#55a 71.8px,#55b 74.4px,#66b 77.0px,#55a 79.6px,#55b 82.2px,#55a 84.8px,#66b 87.4px,#55b 90.0px,#66b 92.6px,#55a 95.2px,#55a 97.8px,#66b 100.5px,#55a 103.1px,#55a 105.7px,#66b 108.3px,#55a 110.9px,#55a 113.5px,#44a 116.2px,#66b 119.0px,#77b 121.6px,#77b 124.1px,#88b 126.4px,#9a9 128.3px,#cb7 130.6px,#b97 133.2px,#bb8 135.8px,#cb8 138.4px,#ba7 141.0px,#cb8 143.6px,#cb7 146.2px,#ca8 148.8px,#c97 151.4px,#bb7 154.1px,#bb8 156.7px,#ca7 159.3px,#ca7 161.9px,#ca7 164.5px,#bb8 167.1px,#cb7 169.7px,#ca8 172.3px,#da7 174.9px,#cc7 177.5px,#ca8 180.1px,#ba7 182.7px,#da7 185.3px,#cb7 187.9px,#cb7 190.5px,#bb7 193.1px,#cb8 195.7px,#cb7 198.3px,#ca7 200.9px,#ca7 203.6px,#ba7 206.2px,#cb7 208.8px,#cb7 211.4px,#ba7 214.0px,#bb8 216.6px,#bb7 219.2px,#ba7 221.8px,#cb8 224.4px,#cb7 227.0px,#ca7 229.6px,#cb7 232.2px,#ba7 234.8px,#cb7 237.4px,#cb7 240.0px,#cb7 242.6px,#ca6 245.2px,#ca7 247.8px,#ca7 250.4px,#cb7 253.1px,#cb7 255.7px,#ca7 258.3px,#cb8 260.9px,#bb7 263.5px,#cb8 266.1px,#cb7 268.7px,#cb8 271.3px,#ba7 273.9px,#d75 276.5px,#e65 279.2px,#e75 281.8px,#d75 284.5px,#d86 287.1px,#c97 289.7px,#c76 292.4px,#c86 295.0px,#d96 297.6px,#d96 300.1px,#db6 302.7px,#db6 305.3px,#da6 307.8px)"></div>
<div class="h" style="left:29.2px;top:305.34px;width:309.1px;height:2.91px;background:linear-gradient(90deg,#55b 1.3px,#55a 3.9px,#44a 6.5px,#44a 9.1px,#44a 11.7px,#44a 14.3px,#55a 17.0px,#44a 19.6px,#44a 22.2px,#55a 24.8px,#44a 27.4px,#44a 30.0px,#55a 32.6px,#44a 35.2px,#55a 37.8px,#44a 40.4px,#55a 43.0px,#44a 45.7px,#55a 48.3px,#44a 50.9px,#44a 53.5px,#44a 56.1px,#55a 58.7px,#55a 61.3px,#44a 63.9px,#55a 66.5px,#44a 69.1px,#44a 71.8px,#44a 74.4px,#44a 77.0px,#44a 79.6px,#44a 82.2px,#55a 84.8px,#55a 87.4px,#44a 90.0px,#55a 92.6px,#55a 95.2px,#44a 97.8px,#55a 100.5px,#44a 103.1px,#44a 105.7px,#44a 108.3px,#44a 110.9px,#44a 113.5px,#44a 116.2px,#55a 119.0px,#77b 121.6px,#77b 124.1px,#9ab 126.4px,#9aa 128.3px,#b97 130.6px,#b88 133.2px,#b88 135.8px,#ca7 138.4px,#c98 141.0px,#b97 143.6px,#b88 146.2px,#b97 148.8px,#a78 151.4px,#b98 154.1px,#c98 156.7px,#b88 159.3px,#b77 161.9px,#b88 164.5px,#c97 167.1px,#c97 169.7px,#b98 172.3px,#b88 174.9px,#c97 177.5px,#b88 180.1px,#b87 182.7px,#b87 185.3px,#a88 187.9px,#b87 190.5px,#a88 193.1px,#c87 195.7px,#a88 198.3px,#b87 200.9px,#c87 203.6px,#b87 206.2px,#b98 208.8px,#b88 211.4px,#b88 214.0px,#c97 216.6px,#c97 219.2px,#b88 221.8px,#b98 224.4px,#b98 227.0px,#b88 229.6px,#b77 232.2px,#b88 234.8px,#c97 237.4px,#b98 240.0px,#b98 242.6px,#c87 245.2px,#c77 247.8px,#b98 250.4px,#b98 253.1px,#b97 255.7px,#b88 258.3px,#c97 260.9px,#b87 263.5px,#b98 266.1px,#b98 268.7px,#b97 271.3px,#b87 273.9px,#e75 276.5px,#d64 279.2px,#d86 281.8px,#d85 284.5px,#d96 287.1px,#db7 289.7px,#c86 292.4px,#d97 295.0px,#da7 297.6px,#da6 300.1px,#ca7 302.7px,#da6 305.3px,#cb7 307.8px)"></div>
<div class="h" style="left:29.2px;top:308.20px;width:309.1px;height:2.91px;background:linear-gradient(90deg,#44a 1.3px,#44a 3.9px,#339 6.5px,#339 9.1px,#44a 11.7px,#44a 14.3px,#44a 17.0px,#339 19.6px,#44a 22.2px,#44a 24.8px,#33a 27.4px,#44a 30.0px,#44a 32.6px,#44a 35.2px,#44a 37.8px,#44a 40.4px,#44a 43.0px,#44a 45.7px,#44a 48.3px,#33a 50.9px,#33a 53.5px,#33a 56.1px,#44a 58.7px,#44a 61.3px,#339 63.9px,#44a 66.5px,#44a 69.1px,#44a 71.8px,#339 74.4px,#44a 77.0px,#44a 79.6px,#33a 82.2px,#339 84.8px,#44a 87.4px,#44a 90.0px,#339 92.6px,#44a 95.2px,#339 97.8px,#44a 100.5px,#44a 103.1px,#33a 105.7px,#44a 108.3px,#44a 110.9px,#33a 113.5px,#339 116.2px,#44a 119.0px,#77b 121.6px,#77b 124.1px,#89b 126.4px,#9aa 128.3px,#ba8 130.6px,#c97 133.2px,#ba7 135.8px,#ba8 138.4px,#ca8 141.0px,#a98 143.6px,#ba8 146.2px,#ba8 148.8px,#c97 151.4px,#ca8 154.1px,#aa8 156.7px,#ca8 159.3px,#b99 161.9px,#b87 164.5px,#ba9 167.1px,#ba8 169.7px,#ca7 172.3px,#b98 174.9px,#ba9 177.5px,#b99 180.1px,#ba7 182.7px,#ca8 185.3px,#ca8 187.9px,#b98 190.5px,#ca8 193.1px,#b98 195.7px,#c97 198.3px,#b98 200.9px,#b88 203.6px,#b97 206.2px,#ca8 208.8px,#ca8 211.4px,#b97 214.0px,#ba8 216.6px,#ba8 219.2px,#b98 221.8px,#ca8 224.4px,#ba9 227.0px,#ca8 229.6px,#a88 232.2px,#a98 234.8px,#ca8 237.4px,#ba8 240.0px,#a99 242.6px,#a88 245.2px,#b99 247.8px,#b98 250.4px,#ba8 253.1px,#ba7 255.7px,#ca7 258.3px,#a99 260.9px,#ba7 263.5px,#ba9 266.1px,#ba8 268.7px,#ca8 271.3px,#b98 273.9px,#e75 276.5px,#e75 279.2px,#d75 281.8px,#d75 284.5px,#c96 287.1px,#db7 289.7px,#db7 292.4px,#da6 295.0px,#d96 297.6px,#c86 300.1px,#d76 302.7px,#c97 305.3px,#d86 307.8px)"></div>
<div class="h" style="left:29.2px;top:311.06px;width:309.1px;height:2.91px;background:linear-gradient(90deg,#44a 1.3px,#44a 3.9px,#44a 6.5px,#55a 9.1px,#44a 11.7px,#44a 14.3px,#55a 17.0px,#44a 19.6px,#44a 22.2px,#55a 24.8px,#44a 27.4px,#44a 30.0px,#55a 32.6px,#44a 35.2px,#44a 37.8px,#44a 40.4px,#44a 43.0px,#44a 45.7px,#55b 48.3px,#44a 50.9px,#44a 53.5px,#44a 56.1px,#55a 58.7px,#44a 61.3px,#33a 63.9px,#44a 66.5px,#55a 69.1px,#44a 71.8px,#44a 74.4px,#55a 77.0px,#55a 79.6px,#44a 82.2px,#44a 84.8px,#44a 87.4px,#55a 90.0px,#44a 92.6px,#55a 95.2px,#44a 97.8px,#55b 100.5px,#55a 103.1px,#44a 105.7px,#44a 108.3px,#44a 110.9px,#44a 113.5px,#33a 116.2px,#44a 119.0px,#66b 121.6px,#66b 124.1px,#99c 126.4px,#9a9 128.3px,#ba9 130.6px,#c98 133.2px,#a98 135.8px,#a99 138.4px,#a99 141.0px,#b98 143.6px,#b97 146.2px,#ba8 148.8px,#a88 151.4px,#b99 154.1px,#a99 156.7px,#a99 159.3px,#b98 161.9px,#a89 164.5px,#ba8 167.1px,#a98 169.7px,#a98 172.3px,#a88 174.9px,#a98 177.5px,#b98 180.1px,#ba8 182.7px,#a89 185.3px,#ba8 187.9px,#a99 190.5px,#a99 193.1px,#b98 195.7px,#ba8 198.3px,#ba8 200.9px,#b99 203.6px,#b97 206.2px,#ba8 208.8px,#b98 211.4px,#a88 214.0px,#a98 216.6px,#ba9 219.2px,#b98 221.8px,#a99 224.4px,#b98 227.0px,#b98 229.6px,#b98 232.2px,#a99 234.8px,#a99 237.4px,#aa9 240.0px,#ba7 242.6px,#b98 245.2px,#a88 247.8px,#ba8 250.4px,#ba8 253.1px,#ba8 255.7px,#a98 258.3px,#a99 260.9px,#a99 263.5px,#ca8 266.1px,#aa9 268.7px,#a99 271.3px,#a98 273.9px,#d86 276.5px,#e65 279.2px,#e86 281.8px,#d75 284.5px,#d86 287.1px,#db6 289.7px,#c97 292.4px,#da7 295.0px,#d96 297.6px,#d86 300.1px,#d96 302.7px,#d96 305.3px,#d96 307.8px)"></div>
<div class="h" style="left:29.2px;top:313.91px;width:309.1px;height:2.91px;background:linear-gradient(90deg,#55a 1.3px,#66b 3.9px,#55a 6.5px,#66b 9.1px,#55a 11.7px,#55a 14.3px,#66b 17.0px,#55a 19.6px,#55a 22.2px,#55a 24.8px,#55a 27.4px,#55b 30.0px,#66b 32.6px,#55b 35.2px,#55a 37.8px,#55a 40.4px,#66b 43.0px,#55a 45.7px,#66a 48.3px,#55a 50.9px,#55a 53.5px,#55a 56.1px,#66b 58.7px,#55a 61.3px,#44a 63.9px,#55a 66.5px,#55a 69.1px,#55a 71.8px,#55b 74.4px,#55a 77.0px,#66b 79.6px,#55a 82.2px,#55a 84.8px,#66b 87.4px,#55a 90.0px,#55a 92.6px,#55a 95.2px,#55a 97.8px,#66b 100.5px,#66b 103.1px,#55a 105.7px,#66b 108.3px,#55a 110.9px,#55b 113.5px,#55a 116.2px,#66b 119.0px,#66b 121.6px,#66b 124.1px,#89b 126.4px,#89b 128.3px,#c97 130.6px,#b98 133.2px,#b98 135.8px,#ca7 138.4px,#ca7 141.0px,#b98 143.6px,#c97 146.2px,#ca7 148.8px,#c97 151.4px,#ba7 154.1px,#ca7 156.7px,#b98 159.3px,#b88 161.9px,#c87 164.5px,#ba8 167.1px,#b97 169.7px,#b98 172.3px,#b98 174.9px,#b98 177.5px,#c97 180.1px,#ca7 182.7px,#c97 185.3px,#b98 187.9px,#b97 190.5px,#ba7 193.1px,#b98 195.7px,#b98 198.3px,#b98 200.9px,#b98 203.6px,#c98 206.2px,#b98 208.8px,#b98 211.4px,#b97 214.0px,#ca8 216.6px,#ba8 219.2px,#b98 221.8px,#ca8 224.4px,#b97 227.0px,#ba7 229.6px,#b98 232.2px,#b97 234.8px,#b97 237.4px,#ba8 240.0px,#b97 242.6px,#b97 245.2px,#b87 247.8px,#b97 250.4px,#b97 253.1px,#ca7 255.7px,#ca7 258.3px,#b98 260.9px,#ca7 263.5px,#b98 266.1px,#ba8 268.7px,#a98 271.3px,#b98 273.9px,#e75 276.5px,#d64 279.2px,#d96 281.8px,#e75 284.5px,#cb7 287.1px,#ca6 289.7px,#ca7 292.4px,#da7 295.0px,#db7 297.6px,#cb7 300.1px,#c96 302.7px,#da6 305.3px,#ca6 307.8px)"></div>
<div class="h" style="left:29.2px;top:316.77px;width:309.1px;height:2.91px;background:linear-gradient(90deg,#44a 1.3px,#55a 3.9px,#44a 6.5px,#44a 9.1px,#55a 11.7px,#55a 14.3px,#55b 17.0px,#44a 19.6px,#44a 22.2px,#55a 24.8px,#44a 27.4px,#55a 30.0px,#44a 32.6px,#44a 35.2px,#44a 37.8px,#55a 40.4px,#44a 43.0px,#55a 45.7px,#55a 48.3px,#44a 50.9px,#55a 53.5px,#44a 56.1px,#55a 58.7px,#55a 61.3px,#44a 63.9px,#55a 66.5px,#55a 69.1px,#44a 71.8px,#44a 74.4px,#55a 77.0px,#55a 79.6px,#55a 82.2px,#44a 84.8px,#55a 87.4px,#55a 90.0px,#55a 92.6px,#55a 95.2px,#44a 97.8px,#55a 100.5px,#55a 103.1px,#44a 105.7px,#55a 108.3px,#55a 110.9px,#44a 113.5px,#44a 116.2px,#55a 119.0px,#77b 121.6px,#88c 124.1px,#9ab 126.4px,#89b 128.3px,#ba8 130.6px,#b98 133.2px,#ba9 135.8px,#ba9 138.4px,#a98 141.0px,#b98 143.6px,#a99 146.2px,#ba8 148.8px,#a89 151.4px,#ba8 154.1px,#a98 156.7px,#a98 159.3px,#b98 161.9px,#b98 164.5px,#a99 167.1px,#ba8 169.7px,#a98 172.3px,#c98 174.9px,#aa8 177.5px,#a98 180.1px,#a99 182.7px,#a98 185.3px,#ba9 187.9px,#b98 190.5px,#a99 193.1px,#b98 195.7px,#ca8 198.3px,#b98 200.9px,#b97 203.6px,#b99 206.2px,#a98 208.8px,#ba9 211.4px,#a98 214.0px,#ba8 216.6px,#ba9 219.2px,#b99 221.8px,#a99 224.4px,#a99 227.0px,#aa8 229.6px,#b97 232.2px,#a99 234.8px,#a98 237.4px,#aa8 240.0px,#a99 242.6px,#a99 245.2px,#b98 247.8px,#a99 250.4px,#b99 253.1px,#ba8 255.7px,#ba8 258.3px,#a98 260.9px,#a99 263.5px,#ba8 266.1px,#ba8 268.7px,#ba9 271.3px,#b99 273.9px,#e55 276.5px,#d44 279.2px,#d64 281.8px,#d64 284.5px,#ca6 287.1px,#cb7 289.7px,#da6 292.4px,#db6 295.0px,#c96 297.6px,#d96 300.1px,#d96 302.7px,#c96 305.3px,#da7 307.8px)"></div>
<div class="h" style="left:29.2px;top:319.63px;width:309.1px;height:2.91px;background:linear-gradient(90deg,#33a 1.3px,#44a 3.9px,#339 6.5px,#33a 9.1px,#339 11.7px,#33a 14.3px,#44a 17.0px,#339 19.6px,#339 22.2px,#339 24.8px,#339 27.4px,#339 30.0px,#33a 32.6px,#339 35.2px,#33a 37.8px,#339 40.4px,#44a 43.0px,#339 45.7px,#44a 48.3px,#339 50.9px,#229 53.5px,#229 56.1px,#339 58.7px,#339 61.3px,#339 63.9px,#33a 66.5px,#33a 69.1px,#339 71.8px,#339 74.4px,#339 77.0px,#339 79.6px,#339 82.2px,#339 84.8px,#44a 87.4px,#339 90.0px,#33a 92.6px,#339 95.2px,#33a 97.8px,#33a 100.5px,#33a 103.1px,#229 105.7px,#33a 108.3px,#339 110.9px,#339 113.5px,#118 116.2px,#339 119.0px,#66b 121.6px,#77b 124.1px,#9ab 126.4px,#89a 128.3px,#a98 130.6px,#c98 133.2px,#ba9 135.8px,#ba9 138.4px,#b98 141.0px,#ba7 143.6px,#ba8 146.2px,#b98 148.8px,#b98 151.4px,#b97 154.1px,#ba7 156.7px,#a98 159.3px,#a88 161.9px,#a89 164.5px,#b97 167.1px,#a98 169.7px,#ca8 172.3px,#b98 174.9px,#ba8 177.5px,#b87 180.1px,#ba8 182.7px,#b98 185.3px,#a98 187.9px,#a99 190.5px,#ba8 193.1px,#a98 195.7px,#b98 198.3px,#c97 200.9px,#b98 203.6px,#a98 206.2px,#ba7 208.8px,#b98 211.4px,#a98 214.0px,#ca8 216.6px,#ba8 219.2px,#b98 221.8px,#b98 224.4px,#ca8 227.0px,#b98 229.6px,#b87 232.2px,#b98 234.8px,#b98 237.4px,#ba8 240.0px,#ba7 242.6px,#b98 245.2px,#b99 247.8px,#ca7 250.4px,#b98 253.1px,#b98 255.7px,#b97 258.3px,#a98 260.9px,#c98 263.5px,#b98 266.1px,#a99 268.7px,#ca7 271.3px,#b99 273.9px,#d75 276.5px,#d64 279.2px,#d86 281.8px,#d75 284.5px,#da7 287.1px,#cb7 289.7px,#ca6 292.4px,#cb7 295.0px,#db7 297.6px,#da6 300.1px,#da7 302.7px,#da6 305.3px,#db7 307.8px)"></div>
<div class="h" style="left:29.2px;top:322.49px;width:309.1px;height:2.91px;background:linear-gradient(90deg,#55a 1.3px,#44a 3.9px,#44a 6.5px,#44a 9.1px,#44a 11.7px,#44a 14.3px,#55a 17.0px,#44a 19.6px,#339 22.2px,#55a 24.8px,#44a 27.4px,#55a 30.0px,#55a 32.6px,#44a 35.2px,#44a 37.8px,#44a 40.4px,#55a 43.0px,#44a 45.7px,#55a 48.3px,#44a 50.9px,#55a 53.5px,#44a 56.1px,#44a 58.7px,#44a 61.3px,#44a 63.9px,#44a 66.5px,#44a 69.1px,#44a 71.8px,#44a 74.4px,#55a 77.0px,#55a 79.6px,#44a 82.2px,#44a 84.8px,#44a 87.4px,#44a 90.0px,#55a 92.6px,#44a 95.2px,#44a 97.8px,#55b 100.5px,#44a 103.1px,#44a 105.7px,#55a 108.3px,#44a 110.9px,#44a 113.5px,#33a 116.2px,#55a 119.0px,#77b 121.6px,#77b 124.1px,#9ba 126.4px,#9aa 128.3px,#c86 130.6px,#c76 133.2px,#c97 135.8px,#ca7 138.4px,#b87 141.0px,#c87 143.6px,#c97 146.2px,#c86 148.8px,#c76 151.4px,#d97 154.1px,#c87 156.7px,#c87 159.3px,#c76 161.9px,#c87 164.5px,#c97 167.1px,#c87 169.7px,#c96 172.3px,#d76 174.9px,#c86 177.5px,#c77 180.1px,#c97 182.7px,#c97 185.3px,#c97 187.9px,#c97 190.5px,#c86 193.1px,#d87 195.7px,#c97 198.3px,#c76 200.9px,#c76 203.6px,#c87 206.2px,#c97 208.8px,#c96 211.4px,#d76 214.0px,#c97 216.6px,#c86 219.2px,#c87 221.8px,#c96 224.4px,#c86 227.0px,#c97 229.6px,#c76 232.2px,#c86 234.8px,#c97 237.4px,#c97 240.0px,#c96 242.6px,#d76 245.2px,#c87 247.8px,#c97 250.4px,#c97 253.1px,#c96 255.7px,#c97 258.3px,#c97 260.9px,#c87 263.5px,#c97 266.1px,#c97 268.7px,#c97 271.3px,#d97 273.9px,#e64 276.5px,#e44 279.2px,#d75 281.8px,#d65 284.5px,#d96 287.1px,#c96 289.7px,#c97 292.4px,#c96 295.0px,#d86 297.6px,#d86 300.1px,#da6 302.7px,#c96 305.3px,#c86 307.8px)"></div>
<div class="h" style="left:29.2px;top:325.34px;width:309.1px;height:2.91px;background:linear-gradient(90deg,#55a 1.3px,#55a 3.9px,#44a 6.5px,#55a 9.1px,#44a 11.7px,#55a 14.3px,#55a 17.0px,#44a 19.6px,#44a 22.2px,#55a 24.8px,#44a 27.4px,#44a 30.0px,#55a 32.6px,#44a 35.2px,#44a 37.8px,#55a 40.4px,#55a 43.0px,#44a 45.7px,#55a 48.3px,#44a 50.9px,#44a 53.5px,#44a 56.1px,#55a 58.7px,#44a 61.3px,#44a 63.9px,#55a 66.5px,#44a 69.1px,#44a 71.8px,#55a 74.4px,#44a 77.0px,#44a 79.6px,#55a 82.2px,#44a 84.8px,#55b 87.4px,#55a 90.0px,#55a 92.6px,#44a 95.2px,#44a 97.8px,#55b 100.5px,#44a 103.1px,#55a 105.7px,#44a 108.3px,#44a 110.9px,#44a 113.5px,#33a 116.2px,#55a 119.0px,#77b 121.6px,#77b 124.1px,#89b 126.4px,#89b 128.3px,#cb7 130.6px,#ca7 133.2px,#bb8 135.8px,#aa8 138.4px,#cb8 141.0px,#ca8 143.6px,#cb7 146.2px,#ba8 148.8px,#b98 151.4px,#ba8 154.1px,#ba7 156.7px,#ca8 159.3px,#b98 161.9px,#b98 164.5px,#ba9 167.1px,#bb8 169.7px,#aa8 172.3px,#ca8 174.9px,#ba8 177.5px,#ba7 180.1px,#ba8 182.7px,#ba9 185.3px,#cb8 187.9px,#ba8 190.5px,#ba8 193.1px,#c97 195.7px,#ca7 198.3px,#b98 200.9px,#b98 203.6px,#ba7 206.2px,#ba8 208.8px,#ca7 211.4px,#ba8 214.0px,#aa8 216.6px,#ba7 219.2px,#ba7 221.8px,#ba8 224.4px,#ca7 227.0px,#bb7 229.6px,#ba7 232.2px,#ca8 234.8px,#ba8 237.4px,#aa9 240.0px,#ba8 242.6px,#ba8 245.2px,#b98 247.8px,#cb7 250.4px,#ba8 253.1px,#aa8 255.7px,#ca8 258.3px,#bb7 260.9px,#ca7 263.5px,#ba8 266.1px,#bb7 268.7px,#ba8 271.3px,#ca8 273.9px,#d75 276.5px,#d54 279.2px,#d86 281.8px,#e85 284.5px,#d65 287.1px,#d96 289.7px,#c65 292.4px,#c97 295.0px,#da6 297.6px,#d96 300.1px,#c96 302.7px,#c86 305.3px,#c96 307.8px)"></div>
<div class="h" style="left:29.2px;top:330.20px;width:309.1px;height:2.93px;background:linear-gradient(90deg,#55a 1.3px,#44a 3.9px,#44a 6.5px,#44a 9.1px,#44a 11.7px,#44a 14.3px,#55b 17.0px,#44a 19.6px,#44a 22.2px,#44a 24.8px,#44a 27.4px,#44a 30.0px,#55a 32.6px,#44a 35.2px,#44a 37.8px,#44a 40.4px,#44a 43.0px,#55a 45.7px,#55a 48.3px,#44a 50.9px,#44a 53.5px,#44a 56.1px,#55a 58.7px,#44a 61.3px,#44a 63.9px,#44a 66.5px,#44a 69.1px,#44a 71.8px,#44a 74.4px,#44a 77.0px,#55a 79.6px,#55a 82.2px,#44a 84.8px,#55a 87.4px,#55a 90.0px,#55a 92.6px,#55a 95.2px,#44a 97.8px,#55a 100.5px,#44a 103.1px,#44a 105.7px,#55a 108.3px,#44a 110.9px,#55a 113.5px,#229 116.2px,#44a 119.0px,#33a 121.6px,#33a 124.1px,#9ab 126.4px,#aba 128.3px,#dc6 130.6px,#dc6 133.2px,#cc6 135.8px,#cd7 138.4px,#bc6 141.0px,#cc6 143.6px,#dc6 146.2px,#cc6 148.8px,#dc6 151.4px,#cc6 154.1px,#cc6 156.7px,#dc6 159.3px,#dc6 161.9px,#db6 164.5px,#cc6 167.1px,#cc6 169.7px,#cc6 172.3px,#db6 174.9px,#cc6 177.5px,#dc6 180.1px,#dc6 182.7px,#db6 185.3px,#cc6 187.9px,#dc6 190.5px,#cc7 193.1px,#db6 195.7px,#cc6 198.3px,#da6 200.9px,#ec6 203.6px,#db6 206.2px,#dc6 208.8px,#db6 211.4px,#dc6 214.0px,#cd7 216.6px,#cc6 219.2px,#dc6 221.8px,#dc6 224.4px,#dc6 227.0px,#dc6 229.6px,#da5 232.2px,#dc6 234.8px,#dc6 237.4px,#dc6 240.0px,#dc6 242.6px,#dc6 245.2px,#db6 247.8px,#dc6 250.4px,#cc6 253.1px,#dc6 255.7px,#dc6 258.3px,#dc6 260.9px,#dc6 263.5px,#db6 266.1px,#dc6 268.7px,#dc6 271.3px,#dc6 273.9px,#9b9 276.5px,#bb7 279.2px,#ab7 281.8px,#bb8 284.5px,#da6 287.1px,#cb7 289.7px,#db6 292.4px,#ca6 295.0px,#9b9 297.6px,#9b8 300.1px,#bc8 302.7px,#9b9 305.3px,#ac8 307.8px)"></div>
<div class="h" style="left:29.2px;top:333.08px;width:309.1px;height:2.93px;background:linear-gradient(90deg,#66b 1.3px,#55a 3.9px,#55b 6.5px,#55a 9.1px,#55a 11.7px,#55a 14.3px,#66b 17.0px,#44a 19.6px,#44a 22.2px,#55a 24.8px,#55a 27.4px,#55a 30.0px,#55a 32.6px,#44a 35.2px,#55a 37.8px,#55a 40.4px,#55a 43.0px,#55a 45.7px,#55b 48.3px,#55a 50.9px,#55a 53.5px,#55a 56.1px,#55a 58.7px,#55a 61.3px,#55a 63.9px,#55a 66.5px,#55a 69.1px,#55a 71.8px,#55a 74.4px,#55b 77.0px,#55a 79.6px,#55a 82.2px,#44a 84.8px,#55b 87.4px,#55a 90.0px,#55a 92.6px,#55a 95.2px,#55a 97.8px,#55b 100.5px,#55a 103.1px,#44a 105.7px,#55b 108.3px,#55b 110.9px,#44a 113.5px,#44a 116.2px,#55a 119.0px,#33a 121.6px,#339 124.1px,#9ab 126.4px,#9aa 128.3px,#dc6 130.6px,#ec6 133.2px,#cc7 135.8px,#cd7 138.4px,#cc6 141.0px,#cc6 143.6px,#dc6 146.2px,#cc6 148.8px,#db6 151.4px,#bc6 154.1px,#dc6 156.7px,#cc6 159.3px,#db6 161.9px,#db5 164.5px,#cc6 167.1px,#cc6 169.7px,#db6 172.3px,#cc6 174.9px,#bc6 177.5px,#db6 180.1px,#dc6 182.7px,#dc6 185.3px,#ec6 187.9px,#dc6 190.5px,#cc6 193.1px,#dc6 195.7px,#dc6 198.3px,#db6 200.9px,#dc6 203.6px,#cc6 206.2px,#dc6 208.8px,#dc6 211.4px,#ec6 214.0px,#cc6 216.6px,#dc6 219.2px,#db6 221.8px,#dc6 224.4px,#cc6 227.0px,#dc6 229.6px,#eb6 232.2px,#db6 234.8px,#dc6 237.4px,#cc6 240.0px,#dc6 242.6px,#db6 245.2px,#eb6 247.8px,#ec6 250.4px,#dc6 253.1px,#dc6 255.7px,#dc6 258.3px,#db6 260.9px,#dc6 263.5px,#db6 266.1px,#cc6 268.7px,#dc6 271.3px,#db6 273.9px,#9b8 276.5px,#ab8 279.2px,#bb8 281.8px,#cb7 284.5px,#db7 287.1px,#db7 289.7px,#ca7 292.4px,#cb7 295.0px,#abb 297.6px,#abb 300.1px,#9ba 302.7px,#ab9 305.3px,#9b9 307.8px)"></div>
<div class="h" style="left:29.2px;top:335.96px;width:309.1px;height:2.93px;background:linear-gradient(90deg,#44a 1.3px,#44a 3.9px,#44a 6.5px,#44a 9.1px,#339 11.7px,#44a 14.3px,#44a 17.0px,#44a 19.6px,#229 22.2px,#44a 24.8px,#33a 27.4px,#339 30.0px,#44a 32.6px,#339 35.2px,#33a 37.8px,#44a 40.4px,#44a 43.0px,#44a 45.7px,#339 48.3px,#339 50.9px,#44a 53.5px,#33a 56.1px,#44a 58.7px,#44a 61.3px,#33a 63.9px,#44a 66.5px,#44a 69.1px,#339 71.8px,#33a 74.4px,#44a 77.0px,#44a 79.6px,#44a 82.2px,#339 84.8px,#44a 87.4px,#44a 90.0px,#44a 92.6px,#44a 95.2px,#339 97.8px,#44a 100.5px,#339 103.1px,#33a 105.7px,#44a 108.3px,#33a 110.9px,#339 113.5px,#118 116.2px,#339 119.0px,#33a 121.6px,#44a 124.1px,#9aa 126.4px,#9ab 128.3px,#db6 130.6px,#dc6 133.2px,#cc6 135.8px,#cc7 138.4px,#dc6 141.0px,#dc6 143.6px,#dd6 146.2px,#cc6 148.8px,#db6 151.4px,#cc6 154.1px,#cc6 156.7px,#dc6 159.3px,#eb6 161.9px,#eb6 164.5px,#dc6 167.1px,#bc6 169.7px,#bc7 172.3px,#dc6 174.9px,#dc6 177.5px,#cc6 180.1px,#dc6 182.7px,#dc6 185.3px,#dc6 187.9px,#db6 190.5px,#bc6 193.1px,#dc6 195.7px,#dc6 198.3px,#db5 200.9px,#eb6 203.6px,#dc6 206.2px,#cc6 208.8px,#dc6 211.4px,#db6 214.0px,#dc6 216.6px,#cc6 219.2px,#db6 221.8px,#cc6 224.4px,#dc6 227.0px,#dc6 229.6px,#db6 232.2px,#dc6 234.8px,#db6 237.4px,#dc6 240.0px,#dc6 242.6px,#dc6 245.2px,#eb6 247.8px,#dc6 250.4px,#dc6 253.1px,#cc6 255.7px,#cc6 258.3px,#cc6 260.9px,#dc6 263.5px,#dc6 266.1px,#db6 268.7px,#db6 271.3px,#db6 273.9px,#9b9 276.5px,#bb7 279.2px,#bb8 281.8px,#ba7 284.5px,#cb6 287.1px,#cb7 289.7px,#cb7 292.4px,#bc7 295.0px,#ab9 297.6px,#aba 300.1px,#ac8 302.7px,#9b9 305.3px,#9b9 307.8px)"></div>
<div class="h" style="left:29.2px;top:338.84px;width:309.1px;height:2.93px;background:linear-gradient(90deg,#55a 1.3px,#44a 3.9px,#55a 6.5px,#55a 9.1px,#44a 11.7px,#55b 14.3px,#66b 17.0px,#44a 19.6px,#44a 22.2px,#55a 24.8px,#44a 27.4px,#44a 30.0px,#55a 32.6px,#55a 35.2px,#55a 37.8px,#44a 40.4px,#55a 43.0px,#55a 45.7px,#55b 48.3px,#55a 50.9px,#55a 53.5px,#44a 56.1px,#55a 58.7px,#55a 61.3px,#44a 63.9px,#55a 66.5px,#55a 69.1px,#44a 71.8px,#55a 74.4px,#55a 77.0px,#55a 79.6px,#55a 82.2px,#55a 84.8px,#55b 87.4px,#55a 90.0px,#55a 92.6px,#55a 95.2px,#44a 97.8px,#55a 100.5px,#55a 103.1px,#44a 105.7px,#55a 108.3px,#44a 110.9px,#55a 113.5px,#339 116.2px,#44a 119.0px,#229 121.6px,#33a 124.1px,#9ab 126.4px,#9a9 128.3px,#db6 130.6px,#db6 133.2px,#db6 135.8px,#dc6 138.4px,#ec6 141.0px,#db6 143.6px,#db6 146.2px,#db6 148.8px,#da5 151.4px,#da5 154.1px,#db6 156.7px,#eb6 159.3px,#ea6 161.9px,#eb6 164.5px,#db6 167.1px,#db6 169.7px,#db6 172.3px,#da6 174.9px,#db6 177.5px,#da6 180.1px,#db6 182.7px,#da5 185.3px,#ea5 187.9px,#db5 190.5px,#da5 193.1px,#eb6 195.7px,#da5 198.3px,#d95 200.9px,#d96 203.6px,#ea6 206.2px,#db6 208.8px,#ea6 211.4px,#ea6 214.0px,#dc6 216.6px,#db6 219.2px,#d95 221.8px,#eb6 224.4px,#eb6 227.0px,#eb6 229.6px,#d95 232.2px,#d96 234.8px,#ea6 237.4px,#db6 240.0px,#da5 242.6px,#d96 245.2px,#d95 247.8px,#d95 250.4px,#da6 253.1px,#ea6 255.7px,#ea6 258.3px,#da5 260.9px,#d96 263.5px,#d96 266.1px,#ea6 268.7px,#ea6 271.3px,#da5 273.9px,#ab8 276.5px,#bb7 279.2px,#ac9 281.8px,#bc8 284.5px,#cc7 287.1px,#cb7 289.7px,#ca6 292.4px,#db6 295.0px,#9b8 297.6px,#bc8 300.1px,#bc7 302.7px,#bb7 305.3px,#cc7 307.8px)"></div>
<div class="h" style="left:29.2px;top:341.72px;width:309.1px;height:2.93px;background:linear-gradient(90deg,#33a 1.3px,#339 3.9px,#339 6.5px,#33a 9.1px,#339 11.7px,#339 14.3px,#33a 17.0px,#339 19.6px,#229 22.2px,#339 24.8px,#33a 27.4px,#339 30.0px,#339 32.6px,#339 35.2px,#33a 37.8px,#33a 40.4px,#339 43.0px,#33a 45.7px,#44a 48.3px,#339 50.9px,#339 53.5px,#229 56.1px,#33a 58.7px,#229 61.3px,#229 63.9px,#339 66.5px,#339 69.1px,#229 71.8px,#339 74.4px,#339 77.0px,#44a 79.6px,#229 82.2px,#339 84.8px,#44a 87.4px,#339 90.0px,#339 92.6px,#44a 95.2px,#339 97.8px,#44a 100.5px,#339 103.1px,#339 105.7px,#339 108.3px,#339 110.9px,#44a 113.5px,#118 116.2px,#339 119.0px,#229 121.6px,#339 124.1px,#99b 126.4px,#9a9 128.3px,#dc6 130.6px,#db6 133.2px,#db6 135.8px,#cb6 138.4px,#db6 141.0px,#eb6 143.6px,#db6 146.2px,#db6 148.8px,#da5 151.4px,#db5 154.1px,#dc6 156.7px,#eb6 159.3px,#da6 161.9px,#da5 164.5px,#dc6 167.1px,#db6 169.7px,#ec6 172.3px,#da5 174.9px,#db6 177.5px,#ea6 180.1px,#eb6 182.7px,#da5 185.3px,#db5 187.9px,#db6 190.5px,#eb6 193.1px,#da6 195.7px,#eb6 198.3px,#ea6 200.9px,#da5 203.6px,#da5 206.2px,#eb6 208.8px,#da5 211.4px,#d96 214.0px,#db5 216.6px,#db6 219.2px,#db6 221.8px,#db6 224.4px,#da5 227.0px,#da5 229.6px,#d96 232.2px,#da5 234.8px,#db5 237.4px,#db6 240.0px,#eb6 242.6px,#d96 245.2px,#d95 247.8px,#ea6 250.4px,#da5 253.1px,#eb6 255.7px,#da5 258.3px,#ea6 260.9px,#d96 263.5px,#ea6 266.1px,#ea6 268.7px,#eb6 271.3px,#d95 273.9px,#9b9 276.5px,#bb8 279.2px,#ab8 281.8px,#cb7 284.5px,#ca6 287.1px,#bc7 289.7px,#cb7 292.4px,#ca6 295.0px,#ab7 297.6px,#cb7 300.1px,#bc7 302.7px,#ab8 305.3px,#ac9 307.8px)"></div>
<div class="h" style="left:29.2px;top:344.60px;width:309.1px;height:2.93px;background:linear-gradient(90deg,#55a 1.3px,#44a 3.9px,#44a 6.5px,#44a 9.1px,#55a 11.7px,#55a 14.3px,#44a 17.0px,#44a 19.6px,#44a 22.2px,#55a 24.8px,#44a 27.4px,#55a 30.0px,#44a 32.6px,#44a 35.2px,#55a 37.8px,#44a 40.4px,#44a 43.0px,#44a 45.7px,#55a 48.3px,#44a 50.9px,#55a 53.5px,#44a 56.1px,#44a 58.7px,#55a 61.3px,#44a 63.9px,#55a 66.5px,#44a 69.1px,#44a 71.8px,#44a 74.4px,#55b 77.0px,#55a 79.6px,#44a 82.2px,#55a 84.8px,#55a 87.4px,#44a 90.0px,#55a 92.6px,#55a 95.2px,#44a 97.8px,#55a 100.5px,#55b 103.1px,#44a 105.7px,#55a 108.3px,#44a 110.9px,#55a 113.5px,#339 116.2px,#44a 119.0px,#33a 121.6px,#339 124.1px,#89b 126.4px,#9b9 128.3px,#db6 130.6px,#db6 133.2px,#dc6 135.8px,#cc6 138.4px,#db6 141.0px,#db6 143.6px,#ec6 146.2px,#dc6 148.8px,#da6 151.4px,#db5 154.1px,#db5 156.7px,#eb6 159.3px,#d96 161.9px,#d96 164.5px,#db6 167.1px,#dc6 169.7px,#ea6 172.3px,#eb6 174.9px,#dc6 177.5px,#da5 180.1px,#db5 182.7px,#da5 185.3px,#da5 187.9px,#db6 190.5px,#da5 193.1px,#da6 195.7px,#da5 198.3px,#ea6 200.9px,#d95 203.6px,#d96 206.2px,#da6 208.8px,#da5 211.4px,#d95 214.0px,#ec6 216.6px,#db6 219.2px,#da6 221.8px,#eb6 224.4px,#da6 227.0px,#db6 229.6px,#d95 232.2px,#da5 234.8px,#db6 237.4px,#db6 240.0px,#ea6 242.6px,#e96 245.2px,#d95 247.8px,#da6 250.4px,#da5 253.1px,#da6 255.7px,#ea6 258.3px,#ea6 260.9px,#da5 263.5px,#da5 266.1px,#da5 268.7px,#d95 271.3px,#e96 273.9px,#ab8 276.5px,#ba8 279.2px,#bb8 281.8px,#ba8 284.5px,#db6 287.1px,#cc7 289.7px,#ca6 292.4px,#db6 295.0px,#ab7 297.6px,#ab8 300.1px,#9b8 302.7px,#aba 305.3px,#9b9 307.8px)"></div>
<div class="h" style="left:29.2px;top:347.48px;width:309.1px;height:2.93px;background:linear-gradient(90deg,#55a 1.3px,#55a 3.9px,#55a 6.5px,#66b 9.1px,#55a 11.7px,#66b 14.3px,#66b 17.0px,#55a 19.6px,#55a 22.2px,#55b 24.8px,#55a 27.4px,#55a 30.0px,#55a 32.6px,#44a 35.2px,#55a 37.8px,#55a 40.4px,#55a 43.0px,#55b 45.7px,#66b 48.3px,#55a 50.9px,#55a 53.5px,#44a 56.1px,#55a 58.7px,#66b 61.3px,#55a 63.9px,#66b 66.5px,#55b 69.1px,#55a 71.8px,#55a 74.4px,#55a 77.0px,#66b 79.6px,#55a 82.2px,#55a 84.8px,#66b 87.4px,#55a 90.0px,#66b 92.6px,#66b 95.2px,#55a 97.8px,#55a 100.5px,#55a 103.1px,#55b 105.7px,#55a 108.3px,#55a 110.9px,#55a 113.5px,#44a 116.2px,#55a 119.0px,#229 121.6px,#44a 124.1px,#99b 126.4px,#9aa 128.3px,#db6 130.6px,#da5 133.2px,#dc6 135.8px,#cc6 138.4px,#ec6 141.0px,#dc6 143.6px,#db6 146.2px,#ec6 148.8px,#da5 151.4px,#db6 154.1px,#db6 156.7px,#eb6 159.3px,#da6 161.9px,#ea6 164.5px,#ec6 167.1px,#dc6 169.7px,#ec6 172.3px,#ea6 174.9px,#db5 177.5px,#da6 180.1px,#db5 182.7px,#da5 185.3px,#db6 187.9px,#da5 190.5px,#db5 193.1px,#e96 195.7px,#da5 198.3px,#d96 200.9px,#d95 203.6px,#da6 206.2px,#db6 208.8px,#da5 211.4px,#da5 214.0px,#eb6 216.6px,#db5 219.2px,#ea6 221.8px,#eb6 224.4px,#eb6 227.0px,#da5 229.6px,#ea6 232.2px,#ea6 234.8px,#da6 237.4px,#db6 240.0px,#db6 242.6px,#da5 245.2px,#d95 247.8px,#ea6 250.4px,#da6 253.1px,#da6 255.7px,#ea6 258.3px,#da5 260.9px,#ea6 263.5px,#ea6 266.1px,#eb6 268.7px,#da5 271.3px,#d95 273.9px,#ab9 276.5px,#cb7 279.2px,#bb8 281.8px,#ca7 284.5px,#d86 287.1px,#da6 289.7px,#d96 292.4px,#ca6 295.0px,#bb7 297.6px,#bc7 300.1px,#bc7 302.7px,#ab8 305.3px,#bb7 307.8px)"></div>
<div class="h" style="left:29.2px;top:350.36px;width:309.1px;height:2.93px;background:linear-gradient(90deg,#33a 1.3px,#339 3.9px,#339 6.5px,#339 9.1px,#339 11.7px,#339 14.3px,#44a 17.0px,#339 19.6px,#229 22.2px,#33a 24.8px,#339 27.4px,#339 30.0px,#44a 32.6px,#33a 35.2px,#339 37.8px,#339 40.4px,#44a 43.0px,#339 45.7px,#44a 48.3px,#33a 50.9px,#339 53.5px,#339 56.1px,#33a 58.7px,#33a 61.3px,#229 63.9px,#339 66.5px,#339 69.1px,#339 71.8px,#33a 74.4px,#339 77.0px,#339 79.6px,#229 82.2px,#339 84.8px,#339 87.4px,#33a 90.0px,#33a 92.6px,#33a 95.2px,#339 97.8px,#339 100.5px,#339 103.1px,#339 105.7px,#339 108.3px,#339 110.9px,#229 113.5px,#118 116.2px,#229 119.0px,#339 121.6px,#339 124.1px,#9ab 126.4px,#9b9 128.3px,#dc6 130.6px,#db5 133.2px,#dc6 135.8px,#dc6 138.4px,#dc6 141.0px,#dc6 143.6px,#dc6 146.2px,#dc6 148.8px,#ea6 151.4px,#dc6 154.1px,#dc6 156.7px,#eb6 159.3px,#da5 161.9px,#d95 164.5px,#dc6 167.1px,#db6 169.7px,#db6 172.3px,#e96 174.9px,#db6 177.5px,#db6 180.1px,#db5 182.7px,#da6 185.3px,#db6 187.9px,#da6 190.5px,#eb6 193.1px,#ea6 195.7px,#d96 198.3px,#ea6 200.9px,#d96 203.6px,#da6 206.2px,#eb6 208.8px,#da5 211.4px,#d95 214.0px,#db5 216.6px,#db6 219.2px,#db6 221.8px,#da5 224.4px,#db6 227.0px,#ea6 229.6px,#da6 232.2px,#da5 234.8px,#da6 237.4px,#da5 240.0px,#eb6 242.6px,#d85 245.2px,#e96 247.8px,#d95 250.4px,#da6 253.1px,#db6 255.7px,#da5 258.3px,#da5 260.9px,#eb6 263.5px,#da5 266.1px,#ea6 268.7px,#eb6 271.3px,#ea6 273.9px,#ab8 276.5px,#bb7 279.2px,#ab8 281.8px,#cb7 284.5px,#db6 287.1px,#cb6 289.7px,#d96 292.4px,#cb6 295.0px,#ac9 297.6px,#aca 300.1px,#aba 302.7px,#9ab 305.3px,#9aa 307.8px)"></div>
<div class="h" style="left:29.2px;top:353.24px;width:309.1px;height:2.93px;background:linear-gradient(90deg,#339 1.3px,#339 3.9px,#229 6.5px,#33a 9.1px,#229 11.7px,#33a 14.3px,#33a 17.0px,#339 19.6px,#229 22.2px,#339 24.8px,#229 27.4px,#229 30.0px,#33a 32.6px,#229 35.2px,#229 37.8px,#339 40.4px,#339 43.0px,#229 45.7px,#33a 48.3px,#229 50.9px,#229 53.5px,#229 56.1px,#33a 58.7px,#229 61.3px,#229 63.9px,#339 66.5px,#229 69.1px,#229 71.8px,#339 74.4px,#33a 77.0px,#33a 79.6px,#339 82.2px,#229 84.8px,#339 87.4px,#339 90.0px,#339 92.6px,#33a 95.2px,#229 97.8px,#33a 100.5px,#339 103.1px,#228 105.7px,#339 108.3px,#339 110.9px,#339 113.5px,#118 116.2px,#229 119.0px,#229 121.6px,#44a 124.1px,#89b 126.4px,#9aa 128.3px,#dc6 130.6px,#db6 133.2px,#dc6 135.8px,#dc6 138.4px,#dc6 141.0px,#db6 143.6px,#db6 146.2px,#db6 148.8px,#ea6 151.4px,#db6 154.1px,#da5 156.7px,#da5 159.3px,#da6 161.9px,#ea6 164.5px,#db6 167.1px,#db6 169.7px,#db6 172.3px,#da6 174.9px,#db6 177.5px,#da5 180.1px,#db6 182.7px,#da5 185.3px,#db5 187.9px,#ec6 190.5px,#eb6 193.1px,#eb6 195.7px,#da6 198.3px,#ea6 200.9px,#da6 203.6px,#ea5 206.2px,#eb6 208.8px,#da5 211.4px,#ea6 214.0px,#dc6 216.6px,#db6 219.2px,#ea6 221.8px,#db6 224.4px,#da5 227.0px,#ea6 229.6px,#ea6 232.2px,#da6 234.8px,#db6 237.4px,#da5 240.0px,#eb6 242.6px,#ea6 245.2px,#d95 247.8px,#da5 250.4px,#ea6 253.1px,#eb6 255.7px,#d95 258.3px,#db6 260.9px,#da6 263.5px,#ea6 266.1px,#eb6 268.7px,#da6 271.3px,#da5 273.9px,#9a9 276.5px,#ac8 279.2px,#9b9 281.8px,#ca7 284.5px,#ca6 287.1px,#db7 289.7px,#c96 292.4px,#db7 295.0px,#9b9 297.6px,#9b8 300.1px,#aca 302.7px,#ac8 305.3px,#aba 307.8px)"></div>
<div class="h" style="left:29.2px;top:356.12px;width:309.1px;height:2.93px;background:linear-gradient(90deg,#44a 1.3px,#44a 3.9px,#44a 6.5px,#44a 9.1px,#44a 11.7px,#55a 14.3px,#55a 17.0px,#44a 19.6px,#44a 22.2px,#44a 24.8px,#339 27.4px,#44a 30.0px,#44a 32.6px,#44a 35.2px,#44a 37.8px,#44a 40.4px,#44a 43.0px,#44a 45.7px,#55b 48.3px,#44a 50.9px,#44a 53.5px,#339 56.1px,#44a 58.7px,#449 61.3px,#44a 63.9px,#44a 66.5px,#44a 69.1px,#44a 71.8px,#44a 74.4px,#55a 77.0px,#55a 79.6px,#44a 82.2px,#44a 84.8px,#55a 87.4px,#44a 90.0px,#55a 92.6px,#55a 95.2px,#44a 97.8px,#44a 100.5px,#44a 103.1px,#44a 105.7px,#44a 108.3px,#44a 110.9px,#44a 113.5px,#229 116.2px,#44a 119.0px,#339 121.6px,#33a 124.1px,#9ab 126.4px,#9ab 128.3px,#db6 130.6px,#da5 133.2px,#dc6 135.8px,#dc6 138.4px,#eb6 141.0px,#ec6 143.6px,#db6 146.2px,#db6 148.8px,#da5 151.4px,#da5 154.1px,#db6 156.7px,#ec6 159.3px,#ea6 161.9px,#da5 164.5px,#db6 167.1px,#eb6 169.7px,#da5 172.3px,#eb6 174.9px,#db5 177.5px,#eb6 180.1px,#da6 182.7px,#da6 185.3px,#db6 187.9px,#da6 190.5px,#db6 193.1px,#d95 195.7px,#db6 198.3px,#d95 200.9px,#d96 203.6px,#d96 206.2px,#ea6 208.8px,#db6 211.4px,#eb6 214.0px,#ec6 216.6px,#db6 219.2px,#d95 221.8px,#db6 224.4px,#da6 227.0px,#da6 229.6px,#ea5 232.2px,#ea6 234.8px,#ea6 237.4px,#dc6 240.0px,#da5 242.6px,#da5 245.2px,#d95 247.8px,#ea6 250.4px,#db5 253.1px,#ea6 255.7px,#d95 258.3px,#ea6 260.9px,#d96 263.5px,#ea6 266.1px,#ea6 268.7px,#ea6 271.3px,#e96 273.9px,#ab9 276.5px,#aa8 279.2px,#bb8 281.8px,#bb7 284.5px,#c86 287.1px,#da6 289.7px,#d96 292.4px,#d96 295.0px,#ab9 297.6px,#9aa 300.1px,#9bb 302.7px,#9b9 305.3px,#aba 307.8px)"></div>
<div class="h" style="left:29.2px;top:359.00px;width:309.1px;height:2.93px;background:linear-gradient(90deg,#55a 1.3px,#55a 3.9px,#55a 6.5px,#55a 9.1px,#55a 11.7px,#55a 14.3px,#55a 17.0px,#44a 19.6px,#55a 22.2px,#55b 24.8px,#55a 27.4px,#55a 30.0px,#55a 32.6px,#55a 35.2px,#55a 37.8px,#55a 40.4px,#55a 43.0px,#55a 45.7px,#66b 48.3px,#44a 50.9px,#44a 53.5px,#55a 56.1px,#55b 58.7px,#55a 61.3px,#55a 63.9px,#55b 66.5px,#55a 69.1px,#55a 71.8px,#55a 74.4px,#55a 77.0px,#66b 79.6px,#44a 82.2px,#55a 84.8px,#55a 87.4px,#55a 90.0px,#55a 92.6px,#55a 95.2px,#44a 97.8px,#66b 100.5px,#55b 103.1px,#55a 105.7px,#55a 108.3px,#55a 110.9px,#55a 113.5px,#339 116.2px,#44a 119.0px,#339 121.6px,#339 124.1px,#9ab 126.4px,#aba 128.3px,#db6 130.6px,#db6 133.2px,#db6 135.8px,#dc6 138.4px,#db6 141.0px,#dc6 143.6px,#db6 146.2px,#dc6 148.8px,#da6 151.4px,#db5 154.1px,#db6 156.7px,#db6 159.3px,#da5 161.9px,#d95 164.5px,#db6 167.1px,#db5 169.7px,#db6 172.3px,#da5 174.9px,#db5 177.5px,#eb6 180.1px,#eb6 182.7px,#da5 185.3px,#dc6 187.9px,#ea5 190.5px,#eb6 193.1px,#ea6 195.7px,#da6 198.3px,#da5 200.9px,#d96 203.6px,#da6 206.2px,#db5 208.8px,#eb6 211.4px,#ea6 214.0px,#db6 216.6px,#db5 219.2px,#ea6 221.8px,#eb6 224.4px,#da5 227.0px,#da5 229.6px,#e95 232.2px,#e96 234.8px,#d95 237.4px,#db5 240.0px,#eb6 242.6px,#d96 245.2px,#e95 247.8px,#ea5 250.4px,#db6 253.1px,#da6 255.7px,#d95 258.3px,#da6 260.9px,#ea5 263.5px,#ea6 266.1px,#da5 268.7px,#ea6 271.3px,#d96 273.9px,#cb6 276.5px,#da6 279.2px,#ca7 281.8px,#d86 284.5px,#d75 287.1px,#e85 289.7px,#d65 292.4px,#d75 295.0px,#e85 297.6px,#d74 300.1px,#e75 302.7px,#d85 305.3px,#e85 307.8px)"></div>
<div class="h" style="left:29.2px;top:361.88px;width:309.1px;height:2.93px;background:linear-gradient(90deg,#78b 1.3px,#77b 3.9px,#77b 6.5px,#78b 9.1px,#66b 11.7px,#88b 14.3px,#89c 17.0px,#77b 19.6px,#77b 22.2px,#78b 24.8px,#77b 27.4px,#78b 30.0px,#88b 32.6px,#77b 35.2px,#77b 37.8px,#77b 40.4px,#77b 43.0px,#77b 45.7px,#88b 48.3px,#77b 50.9px,#77b 53.5px,#77b 56.1px,#88c 58.7px,#77b 61.3px,#77b 63.9px,#78b 66.5px,#77b 69.1px,#77b 71.8px,#77b 74.4px,#78b 77.0px,#88b 79.6px,#67b 82.2px,#77b 84.8px,#89c 87.4px,#78b 90.0px,#77b 92.6px,#88c 95.2px,#77b 97.8px,#88b 100.5px,#77b 103.1px,#66b 105.7px,#78b 108.3px,#77b 110.9px,#77b 113.5px,#55a 116.2px,#77b 119.0px,#339 121.6px,#33a 124.1px,#89b 126.4px,#9aa 128.3px,#999 130.6px,#a99 133.2px,#aa9 135.8px,#99a 138.4px,#98a 141.0px,#999 143.6px,#989 146.2px,#999 148.8px,#989 151.4px,#989 154.1px,#999 156.7px,#989 159.3px,#99a 161.9px,#b98 164.5px,#999 167.1px,#98a 169.7px,#999 172.3px,#999 174.9px,#999 177.5px,#a98 180.1px,#a98 182.7px,#a99 185.3px,#a98 187.9px,#a98 190.5px,#a98 193.1px,#98a 195.7px,#b99 198.3px,#a98 200.9px,#a98 203.6px,#999 206.2px,#989 208.8px,#99a 211.4px,#a99 214.0px,#999 216.6px,#99a 219.2px,#99a 221.8px,#a98 224.4px,#a99 227.0px,#a98 229.6px,#999 232.2px,#a99 234.8px,#aa9 237.4px,#889 240.0px,#aa9 242.6px,#a98 245.2px,#989 247.8px,#a99 250.4px,#99a 253.1px,#ba8 255.7px,#889 258.3px,#a99 260.9px,#ba8 263.5px,#999 266.1px,#aa9 268.7px,#99a 271.3px,#98a 273.9px,#db7 276.5px,#ca6 279.2px,#d97 281.8px,#c86 284.5px,#d74 287.1px,#d95 289.7px,#d75 292.4px,#e85 295.0px,#e85 297.6px,#d75 300.1px,#d85 302.7px,#e96 305.3px,#d95 307.8px)"></div>
<div class="h" style="left:29.2px;top:364.76px;width:309.1px;height:2.93px;background:linear-gradient(90deg,#55a 1.3px,#55a 3.9px,#44a 6.5px,#55a 9.1px,#44a 11.7px,#44a 14.3px,#55a 17.0px,#44a 19.6px,#44a 22.2px,#55a 24.8px,#55a 27.4px,#55b 30.0px,#55a 32.6px,#55a 35.2px,#44a 37.8px,#44a 40.4px,#55a 43.0px,#55a 45.7px,#55a 48.3px,#55a 50.9px,#55a 53.5px,#44a 56.1px,#44a 58.7px,#44a 61.3px,#44a 63.9px,#55a 66.5px,#55a 69.1px,#55a 71.8px,#44a 74.4px,#55b 77.0px,#55a 79.6px,#44a 82.2px,#55a 84.8px,#55b 87.4px,#55a 90.0px,#55a 92.6px,#55a 95.2px,#44a 97.8px,#55a 100.5px,#55a 103.1px,#44a 105.7px,#55a 108.3px,#44a 110.9px,#44a 113.5px,#339 116.2px,#44a 119.0px,#339 121.6px,#229 124.1px,#99b 126.4px,#9ba 128.3px,#dc6 130.6px,#ec6 133.2px,#dc6 135.8px,#cc6 138.4px,#dc6 141.0px,#dc6 143.6px,#dc6 146.2px,#dc6 148.8px,#ea6 151.4px,#cc6 154.1px,#ec6 156.7px,#dc6 159.3px,#da6 161.9px,#db6 164.5px,#cc6 167.1px,#dc6 169.7px,#ec6 172.3px,#db6 174.9px,#dc6 177.5px,#db6 180.1px,#db6 182.7px,#db6 185.3px,#ec6 187.9px,#da6 190.5px,#dc6 193.1px,#db6 195.7px,#eb6 198.3px,#ea6 200.9px,#da6 203.6px,#da6 206.2px,#db6 208.8px,#db6 211.4px,#da6 214.0px,#dc7 216.6px,#db6 219.2px,#ea6 221.8px,#db6 224.4px,#da5 227.0px,#eb6 229.6px,#da5 232.2px,#da6 234.8px,#db6 237.4px,#db6 240.0px,#db6 242.6px,#ea6 245.2px,#d95 247.8px,#db6 250.4px,#db6 253.1px,#dc6 255.7px,#db6 258.3px,#db5 260.9px,#eb6 263.5px,#da6 266.1px,#dc6 268.7px,#db6 271.3px,#da6 273.9px,#dc7 276.5px,#c96 279.2px,#d96 281.8px,#d86 284.5px,#d54 287.1px,#e64 289.7px,#e64 292.4px,#e75 295.0px,#e75 297.6px,#e85 300.1px,#e85 302.7px,#d85 305.3px,#d85 307.8px)"></div>
<div class="h" style="left:29.2px;top:367.64px;width:309.1px;height:2.93px;background:linear-gradient(90deg,#55a 1.3px,#55a 3.9px,#44a 6.5px,#55a 9.1px,#44a 11.7px,#44a 14.3px,#55a 17.0px,#44a 19.6px,#44a 22.2px,#55a 24.8px,#44a 27.4px,#44a 30.0px,#55a 32.6px,#44a 35.2px,#44a 37.8px,#44a 40.4px,#44a 43.0px,#44a 45.7px,#55a 48.3px,#44a 50.9px,#44a 53.5px,#44a 56.1px,#55a 58.7px,#44a 61.3px,#44a 63.9px,#55a 66.5px,#44a 69.1px,#55a 71.8px,#44a 74.4px,#44a 77.0px,#55a 79.6px,#55a 82.2px,#55a 84.8px,#55a 87.4px,#55a 90.0px,#44a 92.6px,#55a 95.2px,#44a 97.8px,#55a 100.5px,#55a 103.1px,#44a 105.7px,#55a 108.3px,#44a 110.9px,#55a 113.5px,#33a 116.2px,#44a 119.0px,#339 121.6px,#33a 124.1px,#9ab 126.4px,#9aa 128.3px,#cb6 130.6px,#db5 133.2px,#cc6 135.8px,#cc6 138.4px,#eb6 141.0px,#dc6 143.6px,#db6 146.2px,#dc6 148.8px,#db6 151.4px,#dc6 154.1px,#dc6 156.7px,#dc6 159.3px,#db6 161.9px,#da6 164.5px,#dc6 167.1px,#dc6 169.7px,#dc6 172.3px,#da5 174.9px,#cb6 177.5px,#eb6 180.1px,#db6 182.7px,#db6 185.3px,#db6 187.9px,#dc6 190.5px,#db6 193.1px,#db6 195.7px,#db6 198.3px,#da5 200.9px,#da6 203.6px,#db6 206.2px,#da5 208.8px,#da5 211.4px,#da6 214.0px,#dc6 216.6px,#db6 219.2px,#eb6 221.8px,#db6 224.4px,#db6 227.0px,#db6 229.6px,#ea6 232.2px,#ea6 234.8px,#ea6 237.4px,#dc6 240.0px,#da6 242.6px,#ea6 245.2px,#ea6 247.8px,#eb6 250.4px,#da5 253.1px,#dc6 255.7px,#da5 258.3px,#db6 260.9px,#da5 263.5px,#ea6 266.1px,#db6 268.7px,#da5 271.3px,#da5 273.9px,#cc7 276.5px,#c96 279.2px,#da6 281.8px,#d76 284.5px,#e75 287.1px,#e85 289.7px,#d75 292.4px,#d85 295.0px,#e95 297.6px,#e95 300.1px,#e95 302.7px,#da5 305.3px,#ea6 307.8px)"></div>
<div class="h" style="left:29.2px;top:370.52px;width:309.1px;height:2.93px;background:linear-gradient(90deg,#55a 1.3px,#55a 3.9px,#55b 6.5px,#55a 9.1px,#55b 11.7px,#55a 14.3px,#66b 17.0px,#55b 19.6px,#44a 22.2px,#66b 24.8px,#55a 27.4px,#55a 30.0px,#66b 32.6px,#55a 35.2px,#55a 37.8px,#55a 40.4px,#55a 43.0px,#66b 45.7px,#66b 48.3px,#55a 50.9px,#55b 53.5px,#55a 56.1px,#55a 58.7px,#55b 61.3px,#55a 63.9px,#66b 66.5px,#55a 69.1px,#55a 71.8px,#44a 74.4px,#55a 77.0px,#55a 79.6px,#55b 82.2px,#55a 84.8px,#66b 87.4px,#55a 90.0px,#66b 92.6px,#55a 95.2px,#55a 97.8px,#66b 100.5px,#55a 103.1px,#55a 105.7px,#66b 108.3px,#55b 110.9px,#55a 113.5px,#44a 116.2px,#55b 119.0px,#339 121.6px,#339 124.1px,#99b 126.4px,#9aa 128.3px,#dc6 130.6px,#ec6 133.2px,#dc6 135.8px,#cc6 138.4px,#cc6 141.0px,#dc6 143.6px,#db6 146.2px,#dc6 148.8px,#db6 151.4px,#db6 154.1px,#db6 156.7px,#dc6 159.3px,#da5 161.9px,#da6 164.5px,#dc6 167.1px,#cc6 169.7px,#db6 172.3px,#da5 174.9px,#dc6 177.5px,#da5 180.1px,#dc6 182.7px,#db6 185.3px,#db6 187.9px,#dc6 190.5px,#dc6 193.1px,#db6 195.7px,#db6 198.3px,#db6 200.9px,#da5 203.6px,#db6 206.2px,#db6 208.8px,#db6 211.4px,#db6 214.0px,#db6 216.6px,#db6 219.2px,#d96 221.8px,#cc6 224.4px,#db6 227.0px,#dc6 229.6px,#da6 232.2px,#eb6 234.8px,#db6 237.4px,#dc6 240.0px,#db6 242.6px,#d95 245.2px,#da5 247.8px,#da6 250.4px,#db6 253.1px,#db6 255.7px,#da6 258.3px,#db5 260.9px,#da5 263.5px,#da6 266.1px,#da6 268.7px,#da5 271.3px,#da6 273.9px,#cb6 276.5px,#ca6 279.2px,#c96 281.8px,#c86 284.5px,#e65 287.1px,#d85 289.7px,#d74 292.4px,#d95 295.0px,#e64 297.6px,#e74 300.1px,#e74 302.7px,#e75 305.3px,#e85 307.8px)"></div>
<div class="h" style="left:29.2px;top:373.40px;width:309.1px;height:2.93px;background:linear-gradient(90deg,#44a 1.3px,#44a 3.9px,#33a 6.5px,#339 9.1px,#44a 11.7px,#44a 14.3px,#44a 17.0px,#44a 19.6px,#339 22.2px,#44a 24.8px,#339 27.4px,#44a 30.0px,#44a 32.6px,#339 35.2px,#44a 37.8px,#44a 40.4px,#44a 43.0px,#44a 45.7px,#449 48.3px,#339 50.9px,#339 53.5px,#339 56.1px,#44a 58.7px,#33a 61.3px,#33a 63.9px,#44a 66.5px,#44a 69.1px,#44a 71.8px,#339 74.4px,#44a 77.0px,#44a 79.6px,#339 82.2px,#33a 84.8px,#44a 87.4px,#44a 90.0px,#44a 92.6px,#44a 95.2px,#339 97.8px,#44a 100.5px,#44a 103.1px,#339 105.7px,#44a 108.3px,#44a 110.9px,#44a 113.5px,#118 116.2px,#33a 119.0px,#33a 121.6px,#33a 124.1px,#9bb 126.4px,#9b9 128.3px,#cc6 130.6px,#ec6 133.2px,#cc6 135.8px,#cc6 138.4px,#dc6 141.0px,#db6 143.6px,#dc6 146.2px,#db6 148.8px,#da6 151.4px,#cc6 154.1px,#db6 156.7px,#cc6 159.3px,#db6 161.9px,#db6 164.5px,#dc6 167.1px,#dc6 169.7px,#cc6 172.3px,#da5 174.9px,#cc6 177.5px,#da5 180.1px,#dc6 182.7px,#db6 185.3px,#dc6 187.9px,#db6 190.5px,#dc6 193.1px,#db6 195.7px,#db6 198.3px,#d96 200.9px,#da5 203.6px,#dc6 206.2px,#dc6 208.8px,#db6 211.4px,#db6 214.0px,#db6 216.6px,#dc6 219.2px,#db6 221.8px,#db6 224.4px,#db6 227.0px,#db5 229.6px,#da6 232.2px,#eb6 234.8px,#da6 237.4px,#dc6 240.0px,#da6 242.6px,#da6 245.2px,#da6 247.8px,#da6 250.4px,#db6 253.1px,#eb6 255.7px,#da6 258.3px,#db6 260.9px,#da5 263.5px,#ea6 266.1px,#db6 268.7px,#da6 271.3px,#da6 273.9px,#cb7 276.5px,#c96 279.2px,#da7 281.8px,#c97 284.5px,#e64 287.1px,#e75 289.7px,#d64 292.4px,#d85 295.0px,#d85 297.6px,#e75 300.1px,#e75 302.7px,#d85 305.3px,#e95 307.8px)"></div>
<div class="h" style="left:29.2px;top:376.28px;width:309.1px;height:2.93px;background:linear-gradient(90deg,#55a 1.3px,#55a 3.9px,#55a 6.5px,#55a 9.1px,#44a 11.7px,#66b 14.3px,#55a 17.0px,#55b 19.6px,#44a 22.2px,#55a 24.8px,#55a 27.4px,#55a 30.0px,#55b 32.6px,#55a 35.2px,#55a 37.8px,#55a 40.4px,#55a 43.0px,#55a 45.7px,#55a 48.3px,#55a 50.9px,#55a 53.5px,#55a 56.1px,#55b 58.7px,#55b 61.3px,#55a 63.9px,#55b 66.5px,#55a 69.1px,#55a 71.8px,#55a 74.4px,#55a 77.0px,#55a 79.6px,#55a 82.2px,#55a 84.8px,#66b 87.4px,#55b 90.0px,#55a 92.6px,#66b 95.2px,#55a 97.8px,#66b 100.5px,#55a 103.1px,#44a 105.7px,#55a 108.3px,#55a 110.9px,#55a 113.5px,#44a 116.2px,#55a 119.0px,#339 121.6px,#339 124.1px,#9aa 126.4px,#9ba 128.3px,#aa9 130.6px,#ba7 133.2px,#a99 135.8px,#aa8 138.4px,#bb8 141.0px,#bb8 143.6px,#ba8 146.2px,#aa8 148.8px,#b98 151.4px,#aa9 154.1px,#a99 156.7px,#ba8 159.3px,#ba9 161.9px,#c98 164.5px,#bb8 167.1px,#aa9 169.7px,#aa9 172.3px,#a98 174.9px,#aa8 177.5px,#a99 180.1px,#aa8 182.7px,#ba7 185.3px,#a99 187.9px,#ba7 190.5px,#998 193.1px,#ba8 195.7px,#ba7 198.3px,#ba7 200.9px,#b97 203.6px,#a98 206.2px,#ba8 208.8px,#ba8 211.4px,#a98 214.0px,#bb8 216.6px,#aa8 219.2px,#ba8 221.8px,#aa8 224.4px,#a98 227.0px,#aa9 229.6px,#ba8 232.2px,#a98 234.8px,#a99 237.4px,#aa8 240.0px,#aa8 242.6px,#ba8 245.2px,#b98 247.8px,#aa8 250.4px,#aa8 253.1px,#aa8 255.7px,#bb8 258.3px,#ab8 260.9px,#ca8 263.5px,#bb8 266.1px,#aa8 268.7px,#aa9 271.3px,#a99 273.9px,#bb7 276.5px,#ca6 279.2px,#c97 281.8px,#c87 284.5px,#e33 287.1px,#e54 289.7px,#e43 292.4px,#e54 295.0px,#e43 297.6px,#e64 300.1px,#e43 302.7px,#e43 305.3px,#e53 307.8px)"></div>
<div class="h" style="left:29.2px;top:379.16px;width:309.1px;height:2.93px;background:linear-gradient(90deg,#55a 1.3px,#44a 3.9px,#44a 6.5px,#55a 9.1px,#44a 11.7px,#44a 14.3px,#55b 17.0px,#44a 19.6px,#339 22.2px,#44a 24.8px,#44a 27.4px,#44a 30.0px,#55a 32.6px,#44a 35.2px,#44a 37.8px,#55a 40.4px,#44a 43.0px,#44a 45.7px,#55a 48.3px,#44a 50.9px,#44a 53.5px,#44a 56.1px,#55a 58.7px,#44a 61.3px,#44a 63.9px,#55a 66.5px,#44a 69.1px,#44a 71.8px,#44a 74.4px,#55a 77.0px,#55a 79.6px,#44a 82.2px,#44a 84.8px,#55a 87.4px,#55a 90.0px,#55b 92.6px,#44a 95.2px,#44a 97.8px,#55a 100.5px,#44a 103.1px,#44a 105.7px,#44a 108.3px,#55a 110.9px,#44a 113.5px,#229 116.2px,#44a 119.0px,#339 121.6px,#339 124.1px,#9b9 126.4px,#9ab 128.3px,#ca7 130.6px,#ca7 133.2px,#ca7 135.8px,#ca8 138.4px,#ca7 141.0px,#b97 143.6px,#ca8 146.2px,#cb7 148.8px,#c97 151.4px,#ca7 154.1px,#ca7 156.7px,#c96 159.3px,#c96 161.9px,#c97 164.5px,#ba7 167.1px,#ca7 169.7px,#b97 172.3px,#b97 174.9px,#ba7 177.5px,#c97 180.1px,#cb7 182.7px,#c97 185.3px,#ca7 187.9px,#c97 190.5px,#ca7 193.1px,#ca7 195.7px,#ca7 198.3px,#c97 200.9px,#b97 203.6px,#c97 206.2px,#ca6 208.8px,#b97 211.4px,#b87 214.0px,#ca7 216.6px,#ca7 219.2px,#c97 221.8px,#c97 224.4px,#c97 227.0px,#b97 229.6px,#c97 232.2px,#ca7 234.8px,#b97 237.4px,#ca7 240.0px,#c96 242.6px,#c97 245.2px,#b87 247.8px,#c96 250.4px,#b97 253.1px,#c96 255.7px,#c86 258.3px,#c97 260.9px,#c86 263.5px,#c97 266.1px,#b97 268.7px,#b87 271.3px,#b87 273.9px,#ab8 276.5px,#ca7 279.2px,#ca6 281.8px,#d86 284.5px,#e54 287.1px,#e75 289.7px,#e64 292.4px,#e64 295.0px,#e33 297.6px,#e33 300.1px,#e32 302.7px,#f33 305.3px,#e33 307.8px)"></div>
<div class="h" style="left:29.2px;top:382.04px;width:309.1px;height:2.93px;background:linear-gradient(90deg,#339 1.3px,#339 3.9px,#33a 6.5px,#44a 9.1px,#33a 11.7px,#339 14.3px,#44a 17.0px,#33a 19.6px,#339 22.2px,#339 24.8px,#33a 27.4px,#33a 30.0px,#44a 32.6px,#339 35.2px,#33a 37.8px,#33a 40.4px,#44a 43.0px,#33a 45.7px,#44a 48.3px,#339 50.9px,#33a 53.5px,#229 56.1px,#44a 58.7px,#339 61.3px,#339 63.9px,#339 66.5px,#33a 69.1px,#33a 71.8px,#33a 74.4px,#33a 77.0px,#44a 79.6px,#339 82.2px,#339 84.8px,#44a 87.4px,#339 90.0px,#339 92.6px,#33a 95.2px,#339 97.8px,#44a 100.5px,#44a 103.1px,#229 105.7px,#44a 108.3px,#339 110.9px,#339 113.5px,#118 116.2px,#44a 119.0px,#339 121.6px,#339 124.1px,#99b 126.4px,#9b9 128.3px,#ca6 130.6px,#ca7 133.2px,#ba7 135.8px,#ba8 138.4px,#ba7 141.0px,#ca7 143.6px,#ba7 146.2px,#ca7 148.8px,#c96 151.4px,#ca7 154.1px,#ba7 156.7px,#ca7 159.3px,#d97 161.9px,#b87 164.5px,#cb7 167.1px,#cb6 169.7px,#ba7 172.3px,#c97 174.9px,#ca7 177.5px,#c97 180.1px,#c97 182.7px,#c97 185.3px,#ca7 187.9px,#c97 190.5px,#ca6 193.1px,#ca7 195.7px,#c97 198.3px,#c97 200.9px,#c97 203.6px,#c96 206.2px,#ca7 208.8px,#c96 211.4px,#c97 214.0px,#ca7 216.6px,#ca7 219.2px,#b97 221.8px,#ba7 224.4px,#ca7 227.0px,#c97 229.6px,#c87 232.2px,#b77 234.8px,#c97 237.4px,#b97 240.0px,#c96 242.6px,#c86 245.2px,#c86 247.8px,#b87 250.4px,#ca7 253.1px,#ca7 255.7px,#b97 258.3px,#c97 260.9px,#ca7 263.5px,#c96 266.1px,#c97 268.7px,#c97 271.3px,#c96 273.9px,#ab7 276.5px,#ca7 279.2px,#ca7 281.8px,#c76 284.5px,#e44 287.1px,#e74 289.7px,#e43 292.4px,#e64 295.0px,#e43 297.6px,#e33 300.1px,#e43 302.7px,#e54 305.3px,#e53 307.8px)"></div>
<div class="h" style="left:29.2px;top:384.92px;width:309.1px;height:2.93px;background:linear-gradient(90deg,#44a 1.3px,#44a 3.9px,#44a 6.5px,#44a 9.1px,#44a 11.7px,#44a 14.3px,#55a 17.0px,#44a 19.6px,#339 22.2px,#44a 24.8px,#33a 27.4px,#44a 30.0px,#44a 32.6px,#339 35.2px,#44a 37.8px,#44a 40.4px,#44a 43.0px,#44a 45.7px,#55a 48.3px,#33a 50.9px,#339 53.5px,#44a 56.1px,#44a 58.7px,#339 61.3px,#33a 63.9px,#44a 66.5px,#44a 69.1px,#44a 71.8px,#44a 74.4px,#55a 77.0px,#44a 79.6px,#44a 82.2px,#33a 84.8px,#44a 87.4px,#44a 90.0px,#44a 92.6px,#44a 95.2px,#339 97.8px,#44a 100.5px,#44a 103.1px,#339 105.7px,#44a 108.3px,#44a 110.9px,#44a 113.5px,#339 116.2px,#44a 119.0px,#339 121.6px,#33a 124.1px,#89b 126.4px,#8aa 128.3px,#cb7 130.6px,#b97 133.2px,#ca7 135.8px,#cb7 138.4px,#ba7 141.0px,#ca6 143.6px,#ca7 146.2px,#cb7 148.8px,#b97 151.4px,#cb7 154.1px,#ca6 156.7px,#ca7 159.3px,#c97 161.9px,#c86 164.5px,#ca7 167.1px,#b97 169.7px,#ca7 172.3px,#ca6 174.9px,#ba7 177.5px,#c96 180.1px,#ba8 182.7px,#c97 185.3px,#cb7 187.9px,#c96 190.5px,#ca7 193.1px,#c96 195.7px,#c96 198.3px,#c97 200.9px,#c96 203.6px,#b97 206.2px,#ca6 208.8px,#c97 211.4px,#c97 214.0px,#ca7 216.6px,#ca6 219.2px,#c97 221.8px,#ba7 224.4px,#c97 227.0px,#c96 229.6px,#c96 232.2px,#c97 234.8px,#c96 237.4px,#da7 240.0px,#c97 242.6px,#c96 245.2px,#b87 247.8px,#c98 250.4px,#c97 253.1px,#c97 255.7px,#b87 258.3px,#c97 260.9px,#c97 263.5px,#c98 266.1px,#c96 268.7px,#ca7 271.3px,#b87 273.9px,#bc8 276.5px,#da7 279.2px,#ca6 281.8px,#d87 284.5px,#e54 287.1px,#e64 289.7px,#e44 292.4px,#e64 295.0px,#e53 297.6px,#e43 300.1px,#e33 302.7px,#f43 305.3px,#e54 307.8px)"></div>
<div class="h" style="left:29.2px;top:387.80px;width:309.1px;height:2.93px;background:linear-gradient(90deg,#55a 1.3px,#55a 3.9px,#55a 6.5px,#55a 9.1px,#55b 11.7px,#55a 14.3px,#66a 17.0px,#55a 19.6px,#44a 22.2px,#55a 24.8px,#55a 27.4px,#55a 30.0px,#55b 32.6px,#55a 35.2px,#55b 37.8px,#55a 40.4px,#66b 43.0px,#55a 45.7px,#55a 48.3px,#55b 50.9px,#55b 53.5px,#55a 56.1px,#55a 58.7px,#55a 61.3px,#55a 63.9px,#66b 66.5px,#55a 69.1px,#55a 71.8px,#55a 74.4px,#55a 77.0px,#66b 79.6px,#55b 82.2px,#55a 84.8px,#66b 87.4px,#55a 90.0px,#66b 92.6px,#66b 95.2px,#55b 97.8px,#66b 100.5px,#66b 103.1px,#44a 105.7px,#55a 108.3px,#55b 110.9px,#55a 113.5px,#339 116.2px,#55a 119.0px,#33a 121.6px,#33a 124.1px,#9ab 126.4px,#9ab 128.3px,#b97 130.6px,#ca7 133.2px,#cb7 135.8px,#ba8 138.4px,#ca7 141.0px,#ca7 143.6px,#ca7 146.2px,#cb7 148.8px,#c97 151.4px,#ca7 154.1px,#c96 156.7px,#ca7 159.3px,#ca7 161.9px,#c97 164.5px,#ca7 167.1px,#ca7 169.7px,#c97 172.3px,#c97 174.9px,#ba7 177.5px,#b97 180.1px,#ca7 182.7px,#b97 185.3px,#ca7 187.9px,#b97 190.5px,#ca7 193.1px,#b87 195.7px,#c97 198.3px,#c86 200.9px,#c97 203.6px,#c98 206.2px,#ca7 208.8px,#c96 211.4px,#c87 214.0px,#b97 216.6px,#ca7 219.2px,#c87 221.8px,#ca7 224.4px,#c97 227.0px,#ca7 229.6px,#c87 232.2px,#c96 234.8px,#c96 237.4px,#b97 240.0px,#c97 242.6px,#c87 245.2px,#c97 247.8px,#b87 250.4px,#c97 253.1px,#ca6 255.7px,#c96 258.3px,#ca7 260.9px,#c97 263.5px,#c97 266.1px,#b87 268.7px,#c97 271.3px,#c96 273.9px,#bb7 276.5px,#cb7 279.2px,#ca7 281.8px,#d87 284.5px,#e43 287.1px,#d75 289.7px,#e54 292.4px,#e64 295.0px,#e53 297.6px,#e54 300.1px,#e54 302.7px,#e64 305.3px,#e64 307.8px)"></div>
<div class="h" style="left:29.2px;top:390.68px;width:309.1px;height:2.93px;background:linear-gradient(90deg,#55a 1.3px,#55a 3.9px,#55a 6.5px,#55a 9.1px,#44a 11.7px,#55a 14.3px,#55a 17.0px,#55a 19.6px,#44a 22.2px,#55a 24.8px,#44a 27.4px,#55a 30.0px,#55a 32.6px,#55a 35.2px,#55a 37.8px,#55a 40.4px,#55a 43.0px,#55a 45.7px,#55a 48.3px,#55a 50.9px,#55a 53.5px,#55a 56.1px,#55a 58.7px,#55a 61.3px,#55a 63.9px,#55b 66.5px,#55a 69.1px,#44a 71.8px,#44a 74.4px,#55b 77.0px,#55b 79.6px,#55a 82.2px,#55a 84.8px,#66b 87.4px,#55b 90.0px,#55a 92.6px,#55a 95.2px,#44a 97.8px,#66b 100.5px,#55b 103.1px,#44a 105.7px,#55a 108.3px,#55b 110.9px,#55b 113.5px,#33a 116.2px,#55a 119.0px,#229 121.6px,#33a 124.1px,#9aa 126.4px,#9ba 128.3px,#ba7 130.6px,#b97 133.2px,#ba8 135.8px,#ba7 138.4px,#ca6 141.0px,#ca7 143.6px,#ba7 146.2px,#cb6 148.8px,#b97 151.4px,#b97 154.1px,#ca6 156.7px,#c96 159.3px,#b97 161.9px,#c87 164.5px,#cb8 167.1px,#ca7 169.7px,#ca7 172.3px,#c97 174.9px,#ca6 177.5px,#c97 180.1px,#ca7 182.7px,#ca7 185.3px,#ca7 187.9px,#b97 190.5px,#ca7 193.1px,#b97 195.7px,#da7 198.3px,#c97 200.9px,#b87 203.6px,#c97 206.2px,#b97 208.8px,#c97 211.4px,#c97 214.0px,#ba7 216.6px,#ca7 219.2px,#c97 221.8px,#ca7 224.4px,#c97 227.0px,#c97 229.6px,#c96 232.2px,#c97 234.8px,#c96 237.4px,#c97 240.0px,#ca7 242.6px,#c86 245.2px,#c97 247.8px,#c97 250.4px,#c97 253.1px,#b87 255.7px,#b97 258.3px,#c97 260.9px,#c87 263.5px,#c97 266.1px,#c97 268.7px,#c96 271.3px,#c97 273.9px,#bb7 276.5px,#db7 279.2px,#c96 281.8px,#c76 284.5px,#e33 287.1px,#e64 289.7px,#e43 292.4px,#e54 295.0px,#e33 297.6px,#e33 300.1px,#e32 302.7px,#e33 305.3px,#e32 307.8px)"></div>
<div class="h" style="left:29.2px;top:393.56px;width:309.1px;height:2.93px;background:linear-gradient(90deg,#339 1.3px,#339 3.9px,#33a 6.5px,#33a 9.1px,#339 11.7px,#33a 14.3px,#44a 17.0px,#339 19.6px,#339 22.2px,#339 24.8px,#33a 27.4px,#339 30.0px,#33a 32.6px,#339 35.2px,#339 37.8px,#339 40.4px,#44a 43.0px,#339 45.7px,#339 48.3px,#339 50.9px,#339 53.5px,#339 56.1px,#44a 58.7px,#339 61.3px,#33a 63.9px,#339 66.5px,#44a 69.1px,#33a 71.8px,#33a 74.4px,#339 77.0px,#44a 79.6px,#44a 82.2px,#339 84.8px,#44a 87.4px,#44a 90.0px,#44a 92.6px,#44a 95.2px,#33a 97.8px,#44a 100.5px,#44a 103.1px,#33a 105.7px,#44a 108.3px,#33a 110.9px,#33a 113.5px,#118 116.2px,#33a 119.0px,#33a 121.6px,#44a 124.1px,#9ba 126.4px,#89b 128.3px,#a98 130.6px,#ba8 133.2px,#999 135.8px,#aa8 138.4px,#a98 141.0px,#a98 143.6px,#999 146.2px,#999 148.8px,#ba8 151.4px,#998 154.1px,#aa8 156.7px,#999 159.3px,#a99 161.9px,#989 164.5px,#999 167.1px,#999 169.7px,#a99 172.3px,#a98 174.9px,#999 177.5px,#a99 180.1px,#aa8 182.7px,#999 185.3px,#aa8 187.9px,#aa8 190.5px,#99a 193.1px,#a98 195.7px,#989 198.3px,#b98 200.9px,#a98 203.6px,#aa8 206.2px,#a98 208.8px,#999 211.4px,#ba8 214.0px,#a98 216.6px,#a98 219.2px,#b98 221.8px,#999 224.4px,#a99 227.0px,#aa8 229.6px,#999 232.2px,#a99 234.8px,#a99 237.4px,#aa8 240.0px,#aa8 242.6px,#a99 245.2px,#a98 247.8px,#a99 250.4px,#aa8 253.1px,#aa8 255.7px,#a99 258.3px,#999 260.9px,#a98 263.5px,#989 266.1px,#99a 268.7px,#999 271.3px,#a99 273.9px,#bb7 276.5px,#db6 279.2px,#c96 281.8px,#c86 284.5px,#e43 287.1px,#e74 289.7px,#e54 292.4px,#e54 295.0px,#e33 297.6px,#f33 300.1px,#f43 302.7px,#e32 305.3px,#f43 307.8px)"></div>
<div class="h" style="left:29.2px;top:396.44px;width:309.1px;height:2.93px;background:linear-gradient(90deg,#55a 1.3px,#66b 3.9px,#66b 6.5px,#66a 9.1px,#55a 11.7px,#66b 14.3px,#77b 17.0px,#55a 19.6px,#55a 22.2px,#66b 24.8px,#55a 27.4px,#55a 30.0px,#66b 32.6px,#55a 35.2px,#55a 37.8px,#66b 40.4px,#66b 43.0px,#55a 45.7px,#67b 48.3px,#55a 50.9px,#55a 53.5px,#66b 56.1px,#55a 58.7px,#66b 61.3px,#55a 63.9px,#66b 66.5px,#66b 69.1px,#55a 71.8px,#55a 74.4px,#55a 77.0px,#66b 79.6px,#66b 82.2px,#66b 84.8px,#66b 87.4px,#66b 90.0px,#66b 92.6px,#66b 95.2px,#55a 97.8px,#66b 100.5px,#66b 103.1px,#55b 105.7px,#66b 108.3px,#66b 110.9px,#66a 113.5px,#44a 116.2px,#66b 119.0px,#339 121.6px,#33a 124.1px,#9ab 126.4px,#9ba 128.3px,#cc7 130.6px,#dc7 133.2px,#cc7 135.8px,#cc7 138.4px,#cc6 141.0px,#db6 143.6px,#dc6 146.2px,#cc6 148.8px,#db6 151.4px,#ec6 154.1px,#db6 156.7px,#dc6 159.3px,#db6 161.9px,#da6 164.5px,#cc6 167.1px,#cb6 169.7px,#cc6 172.3px,#db6 174.9px,#cc7 177.5px,#dc6 180.1px,#dc6 182.7px,#db6 185.3px,#db6 187.9px,#db6 190.5px,#cc7 193.1px,#dc6 195.7px,#db6 198.3px,#db6 200.9px,#db6 203.6px,#db6 206.2px,#db6 208.8px,#dc6 211.4px,#da6 214.0px,#cc7 216.6px,#dc6 219.2px,#db6 221.8px,#cb6 224.4px,#dc6 227.0px,#cb6 229.6px,#db6 232.2px,#db6 234.8px,#dc6 237.4px,#cc7 240.0px,#cc6 242.6px,#db6 245.2px,#da6 247.8px,#db6 250.4px,#db6 253.1px,#dc6 255.7px,#da6 258.3px,#cc6 260.9px,#dc6 263.5px,#db6 266.1px,#da6 268.7px,#dc6 271.3px,#db6 273.9px,#bc7 276.5px,#ca7 279.2px,#c96 281.8px,#c86 284.5px,#e43 287.1px,#e75 289.7px,#e54 292.4px,#d64 295.0px,#e53 297.6px,#e43 300.1px,#e54 302.7px,#e64 305.3px,#e64 307.8px)"></div>
<div class="h" style="left:29.2px;top:399.32px;width:309.1px;height:2.93px;background:linear-gradient(90deg,#44a 1.3px,#55a 3.9px,#44a 6.5px,#44a 9.1px,#44a 11.7px,#44a 14.3px,#55a 17.0px,#44a 19.6px,#44a 22.2px,#44a 24.8px,#44a 27.4px,#44a 30.0px,#44a 32.6px,#44a 35.2px,#44a 37.8px,#44a 40.4px,#44a 43.0px,#44a 45.7px,#55a 48.3px,#44a 50.9px,#44a 53.5px,#44a 56.1px,#44a 58.7px,#44a 61.3px,#44a 63.9px,#55a 66.5px,#55a 69.1px,#44a 71.8px,#44a 74.4px,#44a 77.0px,#44a 79.6px,#44a 82.2px,#55a 84.8px,#44a 87.4px,#55a 90.0px,#55a 92.6px,#55b 95.2px,#44a 97.8px,#44a 100.5px,#44a 103.1px,#44a 105.7px,#44a 108.3px,#44a 110.9px,#44a 113.5px,#229 116.2px,#44a 119.0px,#33a 121.6px,#33a 124.1px,#9ab 126.4px,#9a9 128.3px,#cc6 130.6px,#db6 133.2px,#cc7 135.8px,#bc6 138.4px,#cc6 141.0px,#cc6 143.6px,#dc6 146.2px,#cc6 148.8px,#db6 151.4px,#cc7 154.1px,#dc6 156.7px,#cc6 159.3px,#db6 161.9px,#db6 164.5px,#dc6 167.1px,#dc6 169.7px,#cc6 172.3px,#db6 174.9px,#cc6 177.5px,#db6 180.1px,#dc6 182.7px,#db6 185.3px,#db6 187.9px,#dc6 190.5px,#bc6 193.1px,#dc7 195.7px,#db6 198.3px,#da6 200.9px,#db6 203.6px,#da6 206.2px,#db6 208.8px,#dc6 211.4px,#db6 214.0px,#cb6 216.6px,#dc6 219.2px,#db6 221.8px,#cc6 224.4px,#db6 227.0px,#db6 229.6px,#db6 232.2px,#db6 234.8px,#dc7 237.4px,#cb6 240.0px,#db6 242.6px,#da6 245.2px,#da6 247.8px,#db6 250.4px,#dc6 253.1px,#dc6 255.7px,#db6 258.3px,#db6 260.9px,#da6 263.5px,#db6 266.1px,#db6 268.7px,#db6 271.3px,#db6 273.9px,#bb7 276.5px,#ca7 279.2px,#c96 281.8px,#c87 284.5px,#e43 287.1px,#e64 289.7px,#e54 292.4px,#e64 295.0px,#e32 297.6px,#f33 300.1px,#e33 302.7px,#f33 305.3px,#e53 307.8px)"></div>
<div class="h" style="left:29.2px;top:402.20px;width:309.1px;height:2.93px;background:linear-gradient(90deg,#55a 1.3px,#66b 3.9px,#55b 6.5px,#55a 9.1px,#55a 11.7px,#55b 14.3px,#66b 17.0px,#55a 19.6px,#44a 22.2px,#55a 24.8px,#55a 27.4px,#55a 30.0px,#55a 32.6px,#55a 35.2px,#55a 37.8px,#55a 40.4px,#66b 43.0px,#55b 45.7px,#66b 48.3px,#55a 50.9px,#55a 53.5px,#44a 56.1px,#66b 58.7px,#55b 61.3px,#55a 63.9px,#66b 66.5px,#55a 69.1px,#55a 71.8px,#55a 74.4px,#55b 77.0px,#66b 79.6px,#55a 82.2px,#55a 84.8px,#55a 87.4px,#66b 90.0px,#66b 92.6px,#55b 95.2px,#55a 97.8px,#66b 100.5px,#55a 103.1px,#55b 105.7px,#55b 108.3px,#55a 110.9px,#55b 113.5px,#44a 116.2px,#55a 119.0px,#339 121.6px,#44a 124.1px,#9ab 126.4px,#9b9 128.3px,#cc6 130.6px,#db6 133.2px,#cc6 135.8px,#bc7 138.4px,#cb6 141.0px,#cc6 143.6px,#cb6 146.2px,#cc6 148.8px,#db6 151.4px,#cc6 154.1px,#cc6 156.7px,#db6 159.3px,#db6 161.9px,#da6 164.5px,#cc6 167.1px,#dc6 169.7px,#cb6 172.3px,#db6 174.9px,#cc6 177.5px,#db6 180.1px,#cc6 182.7px,#db6 185.3px,#cb6 187.9px,#db6 190.5px,#cc6 193.1px,#db6 195.7px,#db6 198.3px,#da6 200.9px,#da6 203.6px,#ec6 206.2px,#dc7 208.8px,#cc6 211.4px,#db6 214.0px,#dc7 216.6px,#cc6 219.2px,#db6 221.8px,#dc6 224.4px,#cc6 227.0px,#db6 229.6px,#db6 232.2px,#da6 234.8px,#cb6 237.4px,#cb6 240.0px,#db6 242.6px,#da6 245.2px,#da5 247.8px,#db6 250.4px,#db6 253.1px,#db6 255.7px,#db6 258.3px,#dc6 260.9px,#db6 263.5px,#da6 266.1px,#db6 268.7px,#da6 271.3px,#eb6 273.9px,#bb7 276.5px,#db7 279.2px,#c97 281.8px,#c87 284.5px,#e43 287.1px,#e64 289.7px,#e43 292.4px,#e54 295.0px,#e43 297.6px,#e43 300.1px,#e43 302.7px,#e43 305.3px,#f43 307.8px)"></div>
<div class="h" style="left:29.2px;top:405.08px;width:309.1px;height:2.93px;background:linear-gradient(90deg,#66b 1.3px,#67b 3.9px,#66a 6.5px,#66b 9.1px,#66b 11.7px,#66b 14.3px,#77b 17.0px,#66b 19.6px,#66b 22.2px,#66b 24.8px,#66b 27.4px,#66b 30.0px,#66b 32.6px,#66b 35.2px,#66b 37.8px,#66b 40.4px,#77b 43.0px,#66b 45.7px,#66b 48.3px,#66b 50.9px,#66b 53.5px,#66b 56.1px,#77b 58.7px,#66a 61.3px,#55a 63.9px,#77b 66.5px,#66b 69.1px,#66b 71.8px,#66b 74.4px,#66b 77.0px,#77b 79.6px,#66b 82.2px,#77b 84.8px,#77b 87.4px,#66b 90.0px,#67b 92.6px,#77b 95.2px,#66b 97.8px,#77b 100.5px,#66b 103.1px,#66b 105.7px,#66b 108.3px,#55a 110.9px,#66b 113.5px,#44a 116.2px,#66b 119.0px,#229 121.6px,#339 124.1px,#9ab 126.4px,#99b 128.3px,#a98 130.6px,#989 133.2px,#a98 135.8px,#aa8 138.4px,#a98 141.0px,#a99 143.6px,#998 146.2px,#a99 148.8px,#b98 151.4px,#999 154.1px,#ba8 156.7px,#a99 159.3px,#988 161.9px,#a89 164.5px,#a98 167.1px,#aa9 169.7px,#ba7 172.3px,#a98 174.9px,#ab8 177.5px,#aa8 180.1px,#aa8 182.7px,#a99 185.3px,#aa9 187.9px,#ba8 190.5px,#a99 193.1px,#aa8 195.7px,#a99 198.3px,#ba8 200.9px,#b98 203.6px,#a99 206.2px,#aa8 208.8px,#aa8 211.4px,#a99 214.0px,#aa8 216.6px,#a98 219.2px,#ba8 221.8px,#ba8 224.4px,#999 227.0px,#ba8 229.6px,#b98 232.2px,#ba8 234.8px,#aa8 237.4px,#aa8 240.0px,#ba8 242.6px,#a99 245.2px,#a88 247.8px,#ba7 250.4px,#a98 253.1px,#ba8 255.7px,#a99 258.3px,#aa9 260.9px,#a98 263.5px,#ba8 266.1px,#ba8 268.7px,#bb8 271.3px,#999 273.9px,#bb8 276.5px,#cb7 279.2px,#ca7 281.8px,#c86 284.5px,#e53 287.1px,#e85 289.7px,#e43 292.4px,#e75 295.0px,#e33 297.6px,#e33 300.1px,#e54 302.7px,#e53 305.3px,#e43 307.8px)"></div>
<div class="h" style="left:29.2px;top:407.96px;width:309.1px;height:2.93px;background:linear-gradient(90deg,#229 1.3px,#229 3.9px,#228 6.5px,#229 9.1px,#118 11.7px,#229 14.3px,#339 17.0px,#229 19.6px,#229 22.2px,#339 24.8px,#229 27.4px,#118 30.0px,#339 32.6px,#118 35.2px,#339 37.8px,#229 40.4px,#339 43.0px,#229 45.7px,#339 48.3px,#118 50.9px,#229 53.5px,#118 56.1px,#228 58.7px,#229 61.3px,#229 63.9px,#339 66.5px,#339 69.1px,#229 71.8px,#229 74.4px,#339 77.0px,#229 79.6px,#229 82.2px,#118 84.8px,#33a 87.4px,#229 90.0px,#339 92.6px,#339 95.2px,#118 97.8px,#33a 100.5px,#339 103.1px,#118 105.7px,#339 108.3px,#229 110.9px,#339 113.5px,#118 116.2px,#229 119.0px,#229 121.6px,#44a 124.1px,#9ba 126.4px,#9ba 128.3px,#bb7 130.6px,#bb8 133.2px,#aa7 135.8px,#ab8 138.4px,#bb7 141.0px,#bb8 143.6px,#bb7 146.2px,#bb7 148.8px,#ca6 151.4px,#ba7 154.1px,#bb7 156.7px,#ba7 159.3px,#ca7 161.9px,#ca7 164.5px,#bb8 167.1px,#bb8 169.7px,#bb7 172.3px,#ca7 174.9px,#bb7 177.5px,#ba7 180.1px,#bb7 182.7px,#ba7 185.3px,#bb7 187.9px,#ba8 190.5px,#cb8 193.1px,#cb7 195.7px,#ca8 198.3px,#b97 200.9px,#ca7 203.6px,#ca7 206.2px,#cb7 208.8px,#ba7 211.4px,#ca7 214.0px,#ab8 216.6px,#aa7 219.2px,#ca7 221.8px,#bb8 224.4px,#ba7 227.0px,#ca7 229.6px,#ca7 232.2px,#ca7 234.8px,#cb7 237.4px,#bb7 240.0px,#cb7 242.6px,#c97 245.2px,#ca7 247.8px,#ca7 250.4px,#ba7 253.1px,#cb8 255.7px,#ca6 258.3px,#ca7 260.9px,#ca7 263.5px,#ca7 266.1px,#cb7 268.7px,#cb7 271.3px,#ca7 273.9px,#bb7 276.5px,#cb7 279.2px,#ca7 281.8px,#c86 284.5px,#e43 287.1px,#e64 289.7px,#e54 292.4px,#e75 295.0px,#f33 297.6px,#e32 300.1px,#e32 302.7px,#f43 305.3px,#e33 307.8px)"></div>
<div class="h" style="left:29.2px;top:410.84px;width:309.1px;height:2.93px;background:linear-gradient(90deg,#66b 1.3px,#66a 3.9px,#55a 6.5px,#66b 9.1px,#55b 11.7px,#55a 14.3px,#66b 17.0px,#55a 19.6px,#55b 22.2px,#66b 24.8px,#55a 27.4px,#55a 30.0px,#55a 32.6px,#55b 35.2px,#66b 37.8px,#55a 40.4px,#55a 43.0px,#55a 45.7px,#66b 48.3px,#55a 50.9px,#55a 53.5px,#55b 56.1px,#55a 58.7px,#55b 61.3px,#55a 63.9px,#55a 66.5px,#66b 69.1px,#55a 71.8px,#55b 74.4px,#66b 77.0px,#66b 79.6px,#55a 82.2px,#55a 84.8px,#66b 87.4px,#55b 90.0px,#55a 92.6px,#55a 95.2px,#55a 97.8px,#66b 100.5px,#55a 103.1px,#55a 105.7px,#66b 108.3px,#55a 110.9px,#66b 113.5px,#44a 116.2px,#66b 119.0px,#33a 121.6px,#339 124.1px,#9aa 126.4px,#9ab 128.3px,#bb7 130.6px,#ba7 133.2px,#ab7 135.8px,#bb8 138.4px,#bb7 141.0px,#bb7 143.6px,#aa7 146.2px,#bb7 148.8px,#cb7 151.4px,#ba7 154.1px,#cb7 156.7px,#ca7 159.3px,#ba7 161.9px,#da7 164.5px,#bb7 167.1px,#bb7 169.7px,#cb7 172.3px,#ca7 174.9px,#ab7 177.5px,#cb7 180.1px,#bb8 182.7px,#ca7 185.3px,#cc7 187.9px,#ca7 190.5px,#cb7 193.1px,#ca7 195.7px,#cb7 198.3px,#ca7 200.9px,#b97 203.6px,#ca8 206.2px,#ba7 208.8px,#bb7 211.4px,#ca7 214.0px,#ca7 216.6px,#ba8 219.2px,#ca7 221.8px,#bb7 224.4px,#ca8 227.0px,#cb7 229.6px,#c97 232.2px,#b97 234.8px,#cb7 237.4px,#ba7 240.0px,#cb7 242.6px,#b97 245.2px,#c97 247.8px,#cb7 250.4px,#ca7 253.1px,#ba7 255.7px,#ca7 258.3px,#ca7 260.9px,#b97 263.5px,#ca8 266.1px,#b97 268.7px,#ca6 271.3px,#b97 273.9px,#ab7 276.5px,#ca7 279.2px,#da7 281.8px,#c87 284.5px,#e54 287.1px,#e74 289.7px,#e53 292.4px,#e85 295.0px,#e33 297.6px,#e32 300.1px,#e33 302.7px,#e32 305.3px,#e33 307.8px)"></div>
<div class="h" style="left:29.2px;top:413.72px;width:309.1px;height:2.93px;background:linear-gradient(90deg,#55a 1.3px,#44a 3.9px,#33a 6.5px,#44a 9.1px,#44a 11.7px,#44a 14.3px,#55a 17.0px,#44a 19.6px,#339 22.2px,#44a 24.8px,#44a 27.4px,#44a 30.0px,#44a 32.6px,#44a 35.2px,#44a 37.8px,#449 40.4px,#44a 43.0px,#44a 45.7px,#55a 48.3px,#339 50.9px,#44a 53.5px,#44a 56.1px,#44a 58.7px,#44a 61.3px,#44a 63.9px,#55a 66.5px,#44a 69.1px,#44a 71.8px,#44a 74.4px,#44a 77.0px,#55a 79.6px,#44a 82.2px,#44a 84.8px,#55a 87.4px,#44a 90.0px,#44a 92.6px,#44a 95.2px,#44a 97.8px,#55a 100.5px,#44a 103.1px,#339 105.7px,#55a 108.3px,#44a 110.9px,#44a 113.5px,#339 116.2px,#44a 119.0px,#229 121.6px,#33a 124.1px,#9ab 126.4px,#99b 128.3px,#bb8 130.6px,#bb7 133.2px,#ab8 135.8px,#bc8 138.4px,#bb8 141.0px,#bb7 143.6px,#bc7 146.2px,#bb7 148.8px,#ca7 151.4px,#cb7 154.1px,#ab7 156.7px,#cb7 159.3px,#ba7 161.9px,#ca7 164.5px,#bb7 167.1px,#bb7 169.7px,#bb7 172.3px,#ca8 174.9px,#bb7 177.5px,#cb7 180.1px,#bb7 182.7px,#ca6 185.3px,#cb7 187.9px,#ba7 190.5px,#cb7 193.1px,#cb7 195.7px,#bb7 198.3px,#ca7 200.9px,#ca7 203.6px,#ba8 206.2px,#cb7 208.8px,#ba7 211.4px,#cb7 214.0px,#bb7 216.6px,#bb8 219.2px,#ba7 221.8px,#bb7 224.4px,#ba7 227.0px,#cb6 229.6px,#b97 232.2px,#b97 234.8px,#ba7 237.4px,#ba7 240.0px,#ca6 242.6px,#ca7 245.2px,#ca7 247.8px,#b97 250.4px,#ba7 253.1px,#cb7 255.7px,#cb7 258.3px,#ca7 260.9px,#ba7 263.5px,#ca7 266.1px,#ba7 268.7px,#cb8 271.3px,#ca7 273.9px,#ab7 276.5px,#ca7 279.2px,#c97 281.8px,#c86 284.5px,#e43 287.1px,#e54 289.7px,#e43 292.4px,#e54 295.0px,#e32 297.6px,#e33 300.1px,#e43 302.7px,#e33 305.3px,#f43 307.8px)"></div>
<div class="h tx" style="left:29.2px;top:30.60px;width:309.1px;height:40.65px"></div>
<div class="h tx" style="left:29.2px;top:72.80px;width:309.1px;height:185.55px"></div>
<div class="h tx" style="left:29.2px;top:260.60px;width:309.1px;height:5.65px"></div>
<div class="h tx" style="left:29.2px;top:268.20px;width:309.1px;height:60.05px"></div>
<div class="h tx" style="left:29.2px;top:330.20px;width:309.1px;height:86.45px"></div>
<div class="h" style="left:206.1px;top:451.4px;width:275.6px;height:6.3px;background:linear-gradient(90deg,#000080 0px,#000080 24.1px,#000080 24.1px,#17168a 38.9px,#302f96 53.9px,#4a4aa2 68.9px,#6567ae 83.9px,#8088bb 98.9px,#98aacb 111.9px,#a8c8dc 125.9px,#a2dcbe 141.9px,#94ea8e 157.4px,#cdf660 173.9px,#ffff00 188.7px,#ffd22a 198.9px,#ffa040 211.9px,#ff7248 224.4px,#ff4a36 238.9px,#ff0000 251.4px,#ff0000 275.6px)"></div>
<svg width="685" height="708" viewBox="0 0 685 708">
<text x="289.8" y="7.0" font-size="9.60" fill="#000" font-weight="bold" stroke="#000" stroke-width="0.16" textLength="108.6" lengthAdjust="spacingAndGlyphs">36346 cells in group str</text>
<text x="-1.3" y="19.9" font-size="17.00" fill="#000">a</text>
<text x="137.7" y="26.7" font-size="7.08" fill="#000" stroke="#000" stroke-width="0.16">Original collection date Order</text>
<rect x="29.2" y="419.1" width="120.4" height="7.5" fill="#9b0c4f" stroke="#333" stroke-width="0.50"/>
<rect x="149.6" y="419.1" width="5.0" height="7.5" fill="#de2079" stroke="#333" stroke-width="0.50"/>
<rect x="154.6" y="419.1" width="149.8" height="7.5" fill="#de6db2" stroke="#333" stroke-width="0.50"/>
<rect x="304.4" y="419.1" width="21.1" height="7.5" fill="#d5b1dc" stroke="#333" stroke-width="0.50"/>
<rect x="325.5" y="419.1" width="12.8" height="7.5" fill="#fbc3c3" stroke="#333" stroke-width="0.50"/>
<text x="27.1" y="425.4" font-size="6.30" fill="#000" text-anchor="end" stroke="#000" stroke-width="0.16">Group</text>
<rect x="19.4" y="30.9" width="8.2" height="40.0" rx="0.8" fill="#ececf6" stroke="#333" stroke-width="0.6"/>
<line x1="19.4" y1="31.4" x2="19.4" y2="70.4" stroke="#111" stroke-width="0.80" stroke-dasharray="1.2,0.6"/>
<rect x="19.4" y="73.1" width="8.2" height="184.9" rx="0.8" fill="#d9d9ee" stroke="#333" stroke-width="0.6"/>
<line x1="19.4" y1="73.6" x2="19.4" y2="257.5" stroke="#111" stroke-width="0.80" stroke-dasharray="1.2,0.6"/>
<rect x="19.4" y="260.9" width="8.2" height="5.0" rx="0.8" fill="#bcbce2" stroke="#333" stroke-width="0.6"/>
<line x1="19.4" y1="261.4" x2="19.4" y2="265.4" stroke="#111" stroke-width="0.80" stroke-dasharray="1.2,0.6"/>
<rect x="19.4" y="268.5" width="8.2" height="59.4" rx="0.8" fill="#a4a4d6" stroke="#333" stroke-width="0.6"/>
<line x1="19.4" y1="269.0" x2="19.4" y2="327.4" stroke="#111" stroke-width="0.80" stroke-dasharray="1.2,0.6"/>
<rect x="19.4" y="330.5" width="8.2" height="86.7" rx="0.8" fill="#8a86c6" stroke="#333" stroke-width="0.6"/>
<line x1="19.4" y1="331.0" x2="19.4" y2="415.8" stroke="#111" stroke-width="0.80" stroke-dasharray="1.2,0.6"/>
<line x1="3.2" y1="109.0" x2="3.2" y2="325.3" stroke="#333" stroke-width="0.60"/>
<line x1="3.2" y1="109.0" x2="13.3" y2="109.0" stroke="#333" stroke-width="0.60"/>
<line x1="13.3" y1="50.2" x2="13.3" y2="168.0" stroke="#333" stroke-width="0.60"/>
<line x1="13.3" y1="50.2" x2="19.1" y2="50.2" stroke="#333" stroke-width="0.60"/>
<line x1="13.3" y1="168.0" x2="19.1" y2="168.0" stroke="#333" stroke-width="0.60"/>
<line x1="3.2" y1="325.3" x2="9.5" y2="325.3" stroke="#333" stroke-width="0.60"/>
<line x1="9.5" y1="284.0" x2="9.5" y2="366.3" stroke="#777" stroke-width="0.60"/>
<line x1="9.5" y1="284.0" x2="11.4" y2="284.0" stroke="#333" stroke-width="0.60"/>
<line x1="11.4" y1="263.1" x2="11.4" y2="304.4" stroke="#333" stroke-width="0.60"/>
<line x1="11.4" y1="263.1" x2="19.1" y2="263.1" stroke="#333" stroke-width="0.60"/>
<line x1="11.4" y1="304.4" x2="19.1" y2="304.4" stroke="#333" stroke-width="0.60"/>
<line x1="9.5" y1="366.3" x2="19.1" y2="366.3" stroke="#333" stroke-width="0.60"/>
<text x="347.7" y="32.1" font-size="4.90" fill="#111" font-weight="bold" stroke="#111" stroke-width="0.16">CALB2</text>
<text x="347.7" y="37.0" font-size="4.90" fill="#111" font-weight="bold" stroke="#111" stroke-width="0.16">P4HA2</text>
<text x="347.7" y="42.0" font-size="4.90" fill="#111" font-weight="bold" stroke="#111" stroke-width="0.16">ZFYVE21</text>
<text x="347.7" y="49.0" font-size="4.90" fill="#111" font-weight="bold" stroke="#111" stroke-width="0.16">PRXL2A</text>
<text x="347.7" y="56.5" font-size="4.90" fill="#111" font-weight="bold" stroke="#111" stroke-width="0.16">PHLDA1</text>
<text x="347.7" y="61.0" font-size="4.90" fill="#111" font-weight="bold" stroke="#111" stroke-width="0.16">NAP1L1</text>
<text x="347.7" y="71.2" font-size="4.90" fill="#111" font-weight="bold" stroke="#111" stroke-width="0.16">AC093844.1</text>
<text x="347.7" y="76.2" font-size="4.90" fill="#111" font-weight="bold" stroke="#111" stroke-width="0.16">LINC00882</text>
<text x="347.7" y="81.2" font-size="4.90" fill="#111" font-weight="bold" stroke="#111" stroke-width="0.16">COL14A1</text>
<text x="347.7" y="86.5" font-size="4.90" fill="#e9cc6c" font-weight="bold" stroke="#e9cc6c" stroke-width="0.16">EDN3</text>
<text x="347.7" y="91.8" font-size="4.90" fill="#111" font-weight="bold" stroke="#111" stroke-width="0.16">SFRP4</text>
<text x="347.7" y="96.8" font-size="4.90" fill="#111" font-weight="bold" stroke="#111" stroke-width="0.16">WLS</text>
<text x="347.7" y="101.7" font-size="4.90" fill="#111" font-weight="bold" stroke="#111" stroke-width="0.16">PTK7</text>
<text x="347.7" y="106.8" font-size="4.90" fill="#111" font-weight="bold" stroke="#111" stroke-width="0.16">CERS6</text>
<text x="347.7" y="111.5" font-size="4.90" fill="#111" font-weight="bold" stroke="#111" stroke-width="0.16">NREP</text>
<text x="347.7" y="119.8" font-size="4.90" fill="#111" font-weight="bold" stroke="#111" stroke-width="0.16">TOX</text>
<text x="347.7" y="125.2" font-size="4.90" fill="#111" font-weight="bold" stroke="#111" stroke-width="0.16">RASSF2</text>
<text x="347.7" y="137.2" font-size="4.90" fill="#111" font-weight="bold" stroke="#111" stroke-width="0.16">AC011933.1</text>
<text x="347.7" y="156.3" font-size="4.90" fill="#111" font-weight="bold" stroke="#111" stroke-width="0.16">OLFM1</text>
<text x="347.7" y="161.8" font-size="4.90" fill="#111" font-weight="bold" stroke="#111" stroke-width="0.16">MATN2</text>
<text x="347.7" y="180.8" font-size="4.90" fill="#111" font-weight="bold" stroke="#111" stroke-width="0.16">EMILIN3</text>
<text x="347.7" y="189.8" font-size="4.90" fill="#111" font-weight="bold" stroke="#111" stroke-width="0.16">COL23A1</text>
<text x="347.7" y="195.4" font-size="4.90" fill="#e9cc6c" font-weight="bold" stroke="#e9cc6c" stroke-width="0.16">FN1</text>
<text x="347.7" y="201.2" font-size="4.90" fill="#111" font-weight="bold" stroke="#111" stroke-width="0.16">CDK6</text>
<text x="347.7" y="207.1" font-size="4.90" fill="#111" font-weight="bold" stroke="#111" stroke-width="0.16">GALNT17</text>
<text x="347.7" y="221.7" font-size="4.90" fill="#111" font-weight="bold" stroke="#111" stroke-width="0.16">AFF3</text>
<text x="347.7" y="229.8" font-size="4.90" fill="#111" font-weight="bold" stroke="#111" stroke-width="0.16">F3</text>
<text x="347.7" y="234.8" font-size="4.90" fill="#111" font-weight="bold" stroke="#111" stroke-width="0.16">KCNIP1</text>
<text x="347.7" y="239.7" font-size="4.90" fill="#111" font-weight="bold" stroke="#111" stroke-width="0.16">TMEM132C</text>
<text x="347.7" y="244.9" font-size="4.90" fill="#f05a5a" font-weight="bold" stroke="#f05a5a" stroke-width="0.16">TSC22D1</text>
<text x="347.7" y="259.1" font-size="4.90" fill="#111" font-weight="bold" stroke="#111" stroke-width="0.16">RORB</text>
<text x="347.7" y="275.4" font-size="4.90" fill="#111" font-weight="bold" stroke="#111" stroke-width="0.16">VCAN</text>
<text x="347.7" y="280.6" font-size="4.90" fill="#e9cc6c" font-weight="bold" stroke="#e9cc6c" stroke-width="0.16">TLR4</text>
<text x="347.7" y="285.6" font-size="4.90" fill="#111" font-weight="bold" stroke="#111" stroke-width="0.16">SCARA5</text>
<text x="347.7" y="293.4" font-size="4.90" fill="#111" font-weight="bold" stroke="#111" stroke-width="0.16">INPP4B</text>
<text x="347.7" y="298.2" font-size="4.90" fill="#111" font-weight="bold" stroke="#111" stroke-width="0.16">LMOD1</text>
<text x="347.7" y="308.9" font-size="4.90" fill="#f05a5a" font-weight="bold" stroke="#f05a5a" stroke-width="0.16">FOXO1</text>
<text x="347.7" y="324.4" font-size="4.90" fill="#111" font-weight="bold" stroke="#111" stroke-width="0.16">TRPC4</text>
<text x="347.7" y="329.6" font-size="4.90" fill="#111" font-weight="bold" stroke="#111" stroke-width="0.16">CFD</text>
<text x="347.7" y="334.6" font-size="4.90" fill="#111" font-weight="bold" stroke="#111" stroke-width="0.16">FBLN1</text>
<text x="347.7" y="339.8" font-size="4.90" fill="#111" font-weight="bold" stroke="#111" stroke-width="0.16">S100A6</text>
<text x="347.7" y="344.9" font-size="4.90" fill="#f05a5a" font-weight="bold" stroke="#f05a5a" stroke-width="0.16">CEBPD</text>
<text x="347.7" y="350.2" font-size="4.90" fill="#111" font-weight="bold" stroke="#111" stroke-width="0.16">APOD</text>
<text x="347.7" y="355.4" font-size="4.90" fill="#111" font-weight="bold" stroke="#111" stroke-width="0.16">YBX3</text>
<text x="347.7" y="360.4" font-size="4.90" fill="#111" font-weight="bold" stroke="#111" stroke-width="0.16">LGALS3</text>
<text x="347.7" y="365.4" font-size="4.90" fill="#111" font-weight="bold" stroke="#111" stroke-width="0.16">ID4</text>
<text x="347.7" y="370.6" font-size="4.90" fill="#111" font-weight="bold" stroke="#111" stroke-width="0.16">LDHA</text>
<text x="347.7" y="375.8" font-size="4.90" fill="#111" font-weight="bold" stroke="#111" stroke-width="0.16">ACTB</text>
<text x="347.7" y="382.9" font-size="4.90" fill="#111" font-weight="bold" stroke="#111" stroke-width="0.16">DKK1</text>
<text x="347.7" y="393.9" font-size="4.90" fill="#e9cc6c" font-weight="bold" stroke="#e9cc6c" stroke-width="0.16">HLA-C</text>
<text x="347.7" y="411.8" font-size="4.90" fill="#111" font-weight="bold" stroke="#111" stroke-width="0.16">SERPING1</text>
<text x="347.7" y="417.1" font-size="4.90" fill="#e9cc6c" font-weight="bold" stroke="#e9cc6c" stroke-width="0.16">C3</text>
<text x="347.7" y="423.1" font-size="4.90" fill="#e9cc6c" font-weight="bold" stroke="#e9cc6c" stroke-width="0.16">HLA-B</text>
<path d="M339.6 32.5H341.3L344.8 30.4H346.6M339.6 35.2H346.6M339.6 38.2H341.3L344.8 40.3H346.6M339.6 47.2H346.6M339.6 56.5H341.3L344.8 54.7H346.6M339.6 57.8H341.3L344.8 59.3H346.6M339.6 73.0H341.3L344.8 69.5H346.6M339.6 76.5H341.3L344.8 74.4H346.6M339.6 80.5H341.3L344.8 79.4H346.6M339.6 83.0H341.3L344.8 84.7H346.6M339.6 92.5H341.3L344.8 90.0H346.6M339.6 95.0H346.6M339.6 97.5H341.3L344.8 99.9H346.6M339.6 101.5H341.3L344.8 105.0H346.6M339.6 109.2H341.3L344.8 109.7H346.6M339.6 118.0H346.6M339.6 123.4H346.6M339.6 135.5H346.6M339.6 156.5H341.3L344.8 154.6H346.6M339.6 158.0H341.3L344.8 160.0H346.6M339.6 179.0H346.6M339.6 188.0H346.6M339.6 193.7H346.6M339.6 199.5H346.6M339.6 205.3H346.6M339.6 219.9H346.6M339.6 231.0H341.3L344.8 228.1H346.6M339.6 234.5H341.3L344.8 233.1H346.6M339.6 236.5H341.3L344.8 237.9H346.6M339.6 239.5H341.3L344.8 243.2H346.6M339.6 257.4H346.6M339.6 275.5H341.3L344.8 273.6H346.6M339.6 276.5H341.3L344.8 278.8H346.6M339.6 283.9H346.6M339.6 293.5H341.3L344.8 291.7H346.6M339.6 295.0H341.3L344.8 296.5H346.6M339.6 307.2H346.6M339.6 324.5H341.3L344.8 322.7H346.6M339.6 331.0H341.3L344.8 327.8H346.6M339.6 334.5H341.3L344.8 332.9H346.6M339.6 336.5H341.3L344.8 338.0H346.6M339.6 343.2H346.6M339.6 350.0H341.3L344.8 348.5H346.6M339.6 351.5H341.3L344.8 353.6H346.6M339.6 354.5H341.3L344.8 358.6H346.6M339.6 357.5H341.3L344.8 363.7H346.6M339.6 360.5H341.3L344.8 368.8H346.6M339.6 371.5H341.3L344.8 374.0H346.6M339.6 381.2H346.6M339.6 392.2H346.6M339.6 410.0H346.6M339.6 413.0H341.3L344.8 415.4H346.6M339.6 416.0H341.3L344.8 421.4H346.6" fill="none" stroke="#151515" stroke-width="0.60"/>
<path d="M375.4 30.6L383.5 30.6L383.5 108.3L375.4 72.0Z" fill="#ececf6" stroke="none" stroke-width="0.60"/>
<path d="M375.4 72.0L383.5 108.3L383.5 185.3L375.4 259.5Z" fill="#d9d9ee" stroke="none" stroke-width="0.60"/>
<path d="M375.4 259.5L383.5 185.3L383.5 262.2L375.4 267.2Z" fill="#bcbce2" stroke="none" stroke-width="0.60"/>
<path d="M375.4 267.2L383.5 262.2L383.5 340.1L375.4 329.2Z" fill="#a4a4d6" stroke="none" stroke-width="0.60"/>
<path d="M375.4 329.2L383.5 340.1L383.5 417.1L375.4 417.1Z" fill="#8a86c6" stroke="none" stroke-width="0.60"/>
<line x1="375.4" y1="72.0" x2="383.5" y2="108.3" stroke="#333" stroke-width="0.70"/>
<line x1="375.4" y1="259.5" x2="383.5" y2="185.3" stroke="#333" stroke-width="0.70"/>
<line x1="375.4" y1="267.2" x2="383.5" y2="262.2" stroke="#333" stroke-width="0.70"/>
<line x1="375.4" y1="329.2" x2="383.5" y2="340.1" stroke="#333" stroke-width="0.70"/>
<line x1="375.4" y1="30.9" x2="684.4" y2="30.9" stroke="#8a8a8a" stroke-width="0.90"/>
<line x1="684.4" y1="30.6" x2="684.4" y2="417.4" stroke="#3a3a3a" stroke-width="0.90"/>
<line x1="375.4" y1="417.3" x2="684.4" y2="417.3" stroke="#3a3a3a" stroke-width="0.90"/>
<line x1="375.4" y1="30.6" x2="375.4" y2="417.3" stroke="#3a3a3a" stroke-width="0.80"/>
<line x1="383.5" y1="30.6" x2="383.5" y2="417.1" stroke="#3a3a3a" stroke-width="0.80"/>
<line x1="383.5" y1="108.3" x2="684.4" y2="108.3" stroke="#3a3a3a" stroke-width="0.80"/>
<line x1="383.5" y1="185.3" x2="684.4" y2="185.3" stroke="#3a3a3a" stroke-width="0.80"/>
<line x1="383.5" y1="262.2" x2="684.4" y2="262.2" stroke="#3a3a3a" stroke-width="0.80"/>
<line x1="383.5" y1="340.1" x2="684.4" y2="340.1" stroke="#3a3a3a" stroke-width="0.80"/>
<text x="385.9" y="36.7" font-size="5.50" fill="#222" stroke="#222" stroke-width="0.16">Cluster 1 (14 Genes)</text>
<line x1="405.4" y1="41.8" x2="405.4" y2="91.5" stroke="#a0a0a0" stroke-width="0.50" stroke-dasharray="2.4,2.2"/>
<line x1="425.6" y1="41.8" x2="425.6" y2="91.5" stroke="#a0a0a0" stroke-width="0.50" stroke-dasharray="2.4,2.2"/>
<line x1="446.0" y1="41.8" x2="446.0" y2="91.5" stroke="#a0a0a0" stroke-width="0.50" stroke-dasharray="2.4,2.2"/>
<line x1="466.3" y1="41.8" x2="466.3" y2="91.5" stroke="#a0a0a0" stroke-width="0.50" stroke-dasharray="2.4,2.2"/>
<line x1="385.5" y1="91.5" x2="484.5" y2="91.5" stroke="#555" stroke-width="0.90"/>
<text x="435.4" y="101.2" font-size="5.00" fill="#222" text-anchor="middle" stroke="#222" stroke-width="0.16">Pseudo&#8722;time</text>
<line x1="421.5" y1="104.8" x2="446.5" y2="104.8" stroke="#111" stroke-width="0.70"/>
<path d="M449 104.8L445.5 103.7L445.5 105.9Z" fill="#111" stroke="none" stroke-width="0.60"/>
<text x="385.9" y="114.4" font-size="5.50" fill="#222" stroke="#222" stroke-width="0.16">Cluster 2 (64 Genes)</text>
<line x1="405.4" y1="119.5" x2="405.4" y2="169.0" stroke="#a0a0a0" stroke-width="0.50" stroke-dasharray="2.4,2.2"/>
<line x1="425.6" y1="119.5" x2="425.6" y2="169.0" stroke="#a0a0a0" stroke-width="0.50" stroke-dasharray="2.4,2.2"/>
<line x1="446.0" y1="119.5" x2="446.0" y2="169.0" stroke="#a0a0a0" stroke-width="0.50" stroke-dasharray="2.4,2.2"/>
<line x1="466.3" y1="119.5" x2="466.3" y2="169.0" stroke="#a0a0a0" stroke-width="0.50" stroke-dasharray="2.4,2.2"/>
<line x1="385.5" y1="169.0" x2="484.5" y2="169.0" stroke="#555" stroke-width="0.90"/>
<text x="435.4" y="178.7" font-size="5.00" fill="#222" text-anchor="middle" stroke="#222" stroke-width="0.16">Pseudo&#8722;time</text>
<line x1="421.5" y1="182.3" x2="446.5" y2="182.3" stroke="#111" stroke-width="0.70"/>
<path d="M449 182.3L445.5 181.2L445.5 183.4Z" fill="#111" stroke="none" stroke-width="0.60"/>
<text x="385.9" y="191.4" font-size="5.50" fill="#222" stroke="#222" stroke-width="0.16">Cluster 3 (2 Genes)</text>
<line x1="405.4" y1="196.5" x2="405.4" y2="246.1" stroke="#a0a0a0" stroke-width="0.50" stroke-dasharray="2.4,2.2"/>
<line x1="425.6" y1="196.5" x2="425.6" y2="246.1" stroke="#a0a0a0" stroke-width="0.50" stroke-dasharray="2.4,2.2"/>
<line x1="446.0" y1="196.5" x2="446.0" y2="246.1" stroke="#a0a0a0" stroke-width="0.50" stroke-dasharray="2.4,2.2"/>
<line x1="466.3" y1="196.5" x2="466.3" y2="246.1" stroke="#a0a0a0" stroke-width="0.50" stroke-dasharray="2.4,2.2"/>
<line x1="385.5" y1="246.1" x2="484.5" y2="246.1" stroke="#555" stroke-width="0.90"/>
<text x="435.4" y="255.8" font-size="5.00" fill="#222" text-anchor="middle" stroke="#222" stroke-width="0.16">Pseudo&#8722;time</text>
<line x1="421.5" y1="259.4" x2="446.5" y2="259.4" stroke="#111" stroke-width="0.70"/>
<path d="M449 259.4L445.5 258.3L445.5 260.5Z" fill="#111" stroke="none" stroke-width="0.60"/>
<text x="385.9" y="268.3" font-size="5.50" fill="#222" stroke="#222" stroke-width="0.16">Cluster 4 (21 Genes)</text>
<line x1="405.4" y1="273.4" x2="405.4" y2="323.3" stroke="#a0a0a0" stroke-width="0.50" stroke-dasharray="2.4,2.2"/>
<line x1="425.6" y1="273.4" x2="425.6" y2="323.3" stroke="#a0a0a0" stroke-width="0.50" stroke-dasharray="2.4,2.2"/>
<line x1="446.0" y1="273.4" x2="446.0" y2="323.3" stroke="#a0a0a0" stroke-width="0.50" stroke-dasharray="2.4,2.2"/>
<line x1="466.3" y1="273.4" x2="466.3" y2="323.3" stroke="#a0a0a0" stroke-width="0.50" stroke-dasharray="2.4,2.2"/>
<line x1="385.5" y1="323.3" x2="484.5" y2="323.3" stroke="#555" stroke-width="0.90"/>
<text x="435.4" y="333.0" font-size="5.00" fill="#222" text-anchor="middle" stroke="#222" stroke-width="0.16">Pseudo&#8722;time</text>
<line x1="421.5" y1="336.6" x2="446.5" y2="336.6" stroke="#111" stroke-width="0.70"/>
<path d="M449 336.6L445.5 335.5L445.5 337.7Z" fill="#111" stroke="none" stroke-width="0.60"/>
<text x="385.9" y="346.2" font-size="5.50" fill="#222" stroke="#222" stroke-width="0.16">Cluster 5 (30 Genes)</text>
<line x1="405.4" y1="351.3" x2="405.4" y2="400.5" stroke="#a0a0a0" stroke-width="0.50" stroke-dasharray="2.4,2.2"/>
<line x1="425.6" y1="351.3" x2="425.6" y2="400.5" stroke="#a0a0a0" stroke-width="0.50" stroke-dasharray="2.4,2.2"/>
<line x1="446.0" y1="351.3" x2="446.0" y2="400.5" stroke="#a0a0a0" stroke-width="0.50" stroke-dasharray="2.4,2.2"/>
<line x1="466.3" y1="351.3" x2="466.3" y2="400.5" stroke="#a0a0a0" stroke-width="0.50" stroke-dasharray="2.4,2.2"/>
<line x1="385.5" y1="400.5" x2="484.5" y2="400.5" stroke="#555" stroke-width="0.90"/>
<text x="435.4" y="410.2" font-size="5.00" fill="#222" text-anchor="middle" stroke="#222" stroke-width="0.16">Pseudo&#8722;time</text>
<line x1="421.5" y1="413.8" x2="446.5" y2="413.8" stroke="#111" stroke-width="0.70"/>
<path d="M449 413.8L445.5 412.7L445.5 414.9Z" fill="#111" stroke="none" stroke-width="0.60"/>
<path d="M438.1 78.9h0M432.4 74.9h0M432.1 66.4h0M471.8 73.5h0M417.0 57.0h0M437.8 83.9h0M432.4 69.3h0M422.1 69.8h0M423.5 74.4h0M419.6 73.0h0M416.4 75.7h0M438.2 68.6h0M429.1 71.0h0M436.7 69.6h0M442.8 75.6h0M434.1 72.9h0M436.4 72.2h0M442.9 70.3h0M391.9 44.2h0M437.1 67.2h0M431.3 73.0h0M413.9 64.5h0M436.5 77.6h0M396.7 56.2h0M418.9 73.5h0M419.6 67.1h0M418.3 76.6h0M437.7 80.3h0M445.9 72.8h0M428.7 72.5h0M445.4 75.9h0M433.3 75.6h0M436.3 85.4h0M469.4 77.2h0M433.2 71.9h0M412.5 62.9h0M417.5 76.9h0M443.2 75.4h0M437.8 80.1h0M396.8 57.3h0M422.3 61.5h0M435.1 75.4h0M437.5 77.5h0M424.1 70.4h0M431.3 80.1h0M423.1 70.5h0M426.5 66.4h0M441.7 73.1h0M421.2 59.9h0M415.3 70.6h0M399.1 57.0h0M420.1 68.2h0M426.9 83.4h0M437.9 81.8h0M428.6 69.6h0M423.8 67.6h0M432.4 76.1h0M429.7 68.8h0M420.8 68.3h0M425.9 77.3h0M417.5 78.7h0M416.6 70.0h0M426.3 76.1h0M426.2 73.3h0M427.0 62.1h0M444.2 73.2h0M415.0 75.5h0M446.8 69.3h0M422.5 73.0h0M433.3 70.9h0M458.8 82.2h0M411.1 58.5h0M431.8 73.7h0M422.7 71.6h0M423.4 70.3h0M421.4 60.5h0M436.9 76.9h0M442.5 72.4h0M435.1 72.0h0M434.5 82.8h0M428.8 70.9h0M418.7 71.1h0M431.2 76.2h0M392.1 59.3h0M429.3 73.0h0M447.8 79.0h0M440.1 80.1h0M435.7 61.0h0M454.7 77.4h0M405.7 70.2h0M434.3 75.9h0M447.9 67.6h0M435.1 64.3h0M446.0 68.3h0M429.1 80.5h0M408.3 70.6h0M444.3 76.0h0M439.1 70.3h0M429.0 66.1h0M404.9 70.2h0M452.5 74.8h0M427.6 79.3h0M438.9 73.6h0M465.2 83.4h0M413.7 56.9h0M420.0 69.2h0M428.5 79.3h0M426.3 77.4h0M423.3 70.6h0M442.8 78.7h0M416.5 62.7h0M413.1 65.1h0M428.7 72.1h0M443.3 73.8h0M394.3 66.3h0M401.4 55.0h0M430.4 79.9h0M413.7 70.8h0M411.9 69.0h0M427.3 69.2h0M408.8 52.2h0M445.2 72.2h0M412.2 66.0h0M407.5 62.3h0M438.0 78.6h0M408.7 64.9h0M440.9 77.1h0M460.4 76.6h0M413.2 66.3h0M428.2 74.2h0M459.8 74.1h0M416.5 69.1h0M411.3 65.1h0M403.8 70.0h0M405.8 64.0h0M437.5 79.9h0M437.4 72.0h0M443.4 87.4h0M426.8 77.7h0M439.5 76.7h0M451.2 84.1h0M412.8 65.8h0M417.4 72.5h0M417.7 71.9h0M462.1 74.9h0M456.1 78.4h0M409.2 63.7h0M395.5 58.9h0M418.2 80.9h0M423.5 62.5h0M445.6 78.1h0M405.2 58.7h0M453.1 88.0h0M415.5 79.0h0M456.1 81.3h0M425.3 77.5h0M404.1 64.2h0M411.8 65.6h0M419.9 68.4h0M412.7 72.4h0M461.6 81.5h0M452.9 84.8h0M411.7 60.6h0M442.3 77.1h0M437.9 78.4h0M413.9 65.1h0M460.3 79.9h0M394.3 45.9h0M417.6 70.1h0M455.3 78.4h0M430.8 65.8h0M405.5 56.6h0M408.0 66.5h0M416.1 64.1h0M466.4 70.8h0M435.9 66.9h0M432.5 71.4h0M414.6 74.0h0M430.6 78.4h0M408.4 58.6h0M436.3 77.0h0M431.8 80.4h0M420.8 82.2h0M442.0 79.1h0M399.9 56.9h0M435.9 66.3h0M406.1 59.6h0M399.6 49.1h0M416.2 56.6h0M435.5 73.9h0M434.0 76.9h0M393.8 64.2h0M402.1 54.4h0M451.4 78.1h0M408.7 58.6h0M446.3 82.4h0M411.4 65.3h0M404.1 67.8h0M412.4 51.3h0M411.3 65.1h0M425.5 68.8h0M414.6 69.4h0M440.4 76.4h0M460.3 76.3h0M421.6 67.8h0M417.9 67.9h0M410.1 63.2h0M417.9 71.1h0M460.6 77.6h0M425.2 65.5h0M422.3 69.8h0M461.0 83.0h0M452.9 72.9h0M425.6 73.1h0M442.0 84.4h0M447.0 73.2h0M437.9 73.3h0M426.9 71.6h0M416.8 61.9h0M440.2 84.8h0M441.2 81.9h0M410.3 66.9h0M413.8 61.8h0M443.2 79.0h0M439.2 79.8h0M420.5 69.7h0M448.6 80.2h0M433.9 73.9h0M432.9 74.4h0M401.6 56.0h0M390.2 53.5h0M414.3 69.3h0M426.4 65.3h0M450.0 79.5h0M450.7 80.6h0M415.8 64.5h0M406.4 69.1h0M436.7 70.1h0M451.5 78.2h0M431.8 71.2h0M429.3 67.8h0M432.2 79.8h0M425.7 74.7h0M421.7 58.4h0M435.7 75.3h0M441.0 76.1h0M431.4 81.0h0M409.9 73.8h0M427.1 74.0h0M413.0 66.6h0M393.2 61.9h0M432.9 75.6h0M446.8 79.9h0M427.6 73.3h0M424.5 70.2h0M430.8 62.3h0M407.8 66.7h0M432.5 74.6h0M414.3 73.4h0M428.3 65.1h0M431.8 68.1h0M445.9 78.2h0M414.1 66.5h0M427.9 81.1h0M418.6 79.4h0M428.4 75.0h0M406.3 62.0h0M415.2 68.2h0M442.4 82.4h0M435.2 79.2h0M441.2 75.8h0M416.8 76.5h0M420.1 69.5h0M415.0 67.3h0M443.3 73.2h0M426.1 74.6h0M435.5 81.4h0M442.1 70.6h0M403.6 67.9h0M456.2 74.0h0M425.0 67.1h0M433.7 71.0h0M431.2 66.3h0M438.7 78.2h0M454.4 82.9h0M394.1 56.4h0M400.7 63.5h0M417.2 69.0h0M420.4 73.9h0M435.2 73.8h0M418.7 86.4h0M417.8 56.9h0M434.4 73.8h0M448.0 74.6h0M423.9 67.1h0M436.5 77.6h0M419.9 70.5h0M425.3 62.3h0M449.1 72.0h0M428.5 75.8h0M416.9 68.7h0M447.7 75.9h0M461.3 76.2h0M418.3 59.6h0M405.9 55.1h0M398.8 63.1h0M467.0 79.2h0M439.9 74.3h0M423.3 77.0h0M449.3 73.4h0M439.5 78.1h0M455.1 74.6h0M438.2 81.0h0M418.4 75.3h0M437.0 67.3h0M414.3 57.7h0M427.5 62.5h0M445.0 76.8h0M434.8 77.0h0M419.2 67.4h0M431.8 71.8h0M416.4 61.5h0M444.1 75.2h0M427.1 74.5h0M427.5 64.0h0M443.4 79.2h0M417.7 69.5h0M424.8 70.5h0M441.0 74.6h0M438.7 75.6h0M406.2 57.3h0M409.7 74.7h0M408.0 64.5h0M410.6 63.3h0M413.9 67.9h0M407.0 63.5h0M440.3 82.9h0M424.9 69.0h0M423.1 71.5h0M417.5 68.9h0M450.5 76.9h0M434.6 69.5h0M432.9 68.8h0M432.3 83.0h0M424.6 75.0h0M425.9 70.3h0M441.3 82.6h0M413.0 57.9h0M441.8 82.3h0M446.7 69.9h0M447.3 80.7h0M437.2 64.4h0M412.0 61.8h0M416.9 70.0h0M411.7 49.7h0M432.0 80.8h0M444.1 77.7h0M439.1 74.7h0M394.0 50.9h0M416.2 72.6h0M438.2 79.2h0M423.6 64.8h0M454.4 78.9h0M399.9 55.5h0M424.0 70.4h0M471.4 78.7h0M420.3 57.3h0M410.5 62.0h0M426.6 68.4h0M440.5 71.4h0M415.4 69.3h0M425.6 75.1h0M434.9 80.7h0M440.9 76.5h0M409.3 75.5h0M449.5 72.1h0M406.0 52.1h0M418.8 83.2h0M403.9 61.4h0M410.1 59.3h0M426.0 73.9h0M440.5 78.4h0M412.7 59.3h0M434.7 76.2h0M417.5 66.2h0M456.7 75.2h0M434.5 76.0h0M455.4 78.6h0M444.0 78.9h0M464.2 75.6h0M414.2 53.6h0M426.1 66.2h0M417.3 72.2h0M433.6 69.6h0M429.6 78.3h0M414.1 78.0h0M435.2 60.4h0M424.4 62.3h0M405.1 57.3h0M421.3 72.6h0M420.3 80.4h0M426.3 71.2h0M410.6 65.0h0M418.4 70.8h0M434.9 74.3h0M431.6 71.3h0M461.2 67.0h0M416.1 72.4h0M423.4 72.9h0M431.9 72.1h0M428.1 80.2h0M441.9 84.7h0M430.5 64.7h0M450.2 71.7h0M436.9 79.8h0M443.5 72.8h0M426.1 65.6h0M413.3 69.7h0M440.2 72.6h0M440.4 78.2h0M452.8 80.5h0M433.5 82.0h0M444.7 83.6h0M453.4 75.8h0M420.8 75.0h0M429.4 74.8h0M415.4 71.2h0M408.3 63.4h0M462.1 77.0h0M419.4 76.3h0M454.6 83.8h0M425.4 70.2h0M450.9 74.4h0M419.6 61.4h0M408.8 66.4h0M398.2 48.3h0M435.7 77.8h0M422.8 67.0h0M429.5 62.1h0M408.2 67.6h0M425.5 66.7h0M448.8 70.4h0M433.5 71.1h0M437.9 83.4h0M417.3 62.7h0M403.2 54.3h0M435.8 69.0h0M428.2 69.5h0M417.5 60.3h0M431.5 73.7h0M420.5 72.2h0M429.1 75.6h0M447.8 79.1h0M435.9 80.2h0M439.2 81.4h0M424.8 77.0h0M405.4 61.2h0M422.7 70.7h0M436.5 73.7h0M440.5 75.4h0M457.6 68.1h0M426.0 67.7h0M436.9 78.0h0M415.8 64.7h0M430.7 76.5h0M459.1 80.1h0M456.6 84.4h0M412.8 65.4h0M421.6 74.5h0M451.0 69.3h0M431.5 73.1h0M408.8 62.5h0M403.7 64.2h0M442.0 80.6h0M449.7 82.7h0M403.3 54.3h0M409.0 51.8h0M437.2 78.9h0M418.1 70.2h0M406.5 56.8h0M415.0 70.4h0M442.9 73.1h0M431.0 82.0h0M438.1 79.5h0M426.4 69.4h0M410.6 77.6h0M401.6 61.7h0M411.9 67.8h0M429.9 78.7h0M449.5 73.5h0M419.5 69.0h0M426.7 83.8h0M411.7 67.4h0M420.2 68.8h0M448.7 74.7h0M414.1 67.6h0M416.4 60.0h0M430.7 76.6h0M446.1 74.0h0M468.9 72.1h0M405.4 58.5h0M392.6 56.1h0M395.5 65.1h0M439.3 78.6h0M413.3 70.2h0M437.2 75.2h0M414.1 65.1h0M440.7 76.3h0M444.8 74.6h0M428.6 72.8h0M413.6 61.5h0M401.0 61.4h0M409.5 68.5h0M407.4 56.5h0M408.5 62.1h0M403.0 61.2h0M409.5 71.3h0M465.8 73.5h0M427.4 68.3h0M429.5 64.6h0M458.9 82.1h0M421.6 77.2h0M431.3 84.1h0M429.0 60.1h0M430.8 72.5h0M446.2 76.3h0M449.1 78.1h0M449.7 77.2h0M428.2 79.1h0M451.4 73.1h0M407.6 48.6h0M415.1 69.2h0M422.1 75.3h0M449.7 71.2h0M432.7 76.6h0M426.6 80.7h0M440.4 65.5h0M420.1 77.9h0M421.6 77.8h0M425.6 67.4h0M395.1 58.3h0M449.7 82.8h0M434.8 73.3h0M433.9 68.3h0M408.0 70.2h0M412.2 67.0h0M440.4 79.6h0M421.6 66.5h0M414.4 62.6h0M421.9 69.0h0M445.6 75.3h0M444.2 84.3h0M417.6 66.1h0M441.1 80.8h0M444.8 83.2h0M469.4 77.0h0M466.5 74.4h0M438.4 73.1h0M426.6 71.9h0M423.0 77.8h0M402.3 56.8h0M443.8 80.9h0M411.8 57.9h0M435.8 75.7h0M428.0 74.1h0M452.4 78.2h0M439.2 78.9h0M403.0 60.8h0M426.6 65.7h0M440.2 76.5h0M426.3 81.5h0M456.9 71.8h0M428.5 67.7h0M430.6 66.3h0M447.3 74.0h0M411.6 60.7h0M475.5 74.5h0M430.6 69.0h0M432.4 74.6h0M439.5 79.7h0M423.4 70.4h0M427.4 66.6h0M418.3 66.0h0M422.6 78.8h0M407.9 61.7h0M448.7 79.5h0M411.6 60.4h0M398.2 42.3h0M434.2 78.3h0M434.5 71.6h0M454.2 76.9h0M459.6 81.2h0M437.6 82.0h0M432.9 85.1h0M425.1 72.2h0M432.7 78.6h0M436.6 89.4h0M454.0 70.0h0M475.4 70.5h0M436.3 82.8h0M425.0 69.6h0M410.1 60.1h0M408.1 64.0h0M452.7 70.6h0M416.1 67.5h0M438.7 79.3h0M447.2 74.3h0M431.9 70.3h0M428.7 70.8h0M442.5 76.3h0M457.6 71.6h0M432.4 66.6h0M426.8 73.5h0M439.4 80.9h0M462.5 77.8h0M417.3 74.6h0M438.8 76.6h0M421.9 71.1h0M423.9 76.6h0M426.4 73.7h0M444.6 75.8h0M451.0 70.9h0M414.5 76.6h0M443.6 79.6h0M423.2 67.8h0M426.8 74.1h0M417.4 69.5h0M438.0 66.7h0M418.0 74.1h0M438.5 80.1h0M422.4 82.5h0M390.5 56.5h0M452.2 62.0h0M390.2 49.3h0M407.4 55.9h0M468.2 76.1h0M419.9 76.8h0M432.4 77.9h0M425.5 59.8h0M424.2 79.3h0M410.3 66.3h0M452.2 82.8h0M396.1 44.4h0M445.7 77.7h0M437.5 71.9h0M449.6 74.1h0M454.2 76.3h0M436.0 69.2h0M453.4 79.3h0M436.1 65.0h0M396.6 58.4h0M429.0 70.3h0M435.2 72.6h0M437.9 81.8h0M411.6 66.7h0M403.2 61.3h0M425.8 76.6h0M435.2 83.3h0M404.1 61.7h0M419.8 71.6h0M417.7 70.5h0M425.3 73.4h0M417.3 76.0h0M424.0 76.8h0M391.1 57.9h0M424.8 76.8h0M431.8 78.8h0M418.2 65.9h0M439.6 70.5h0M414.1 63.3h0M406.4 60.5h0M432.3 72.2h0M408.2 59.5h0M414.0 77.7h0M410.8 61.5h0M423.7 67.7h0M428.7 81.6h0M443.3 79.9h0M436.7 75.1h0M413.0 77.8h0M447.5 71.5h0M450.8 79.0h0M425.6 72.4h0M422.0 67.7h0M433.1 65.9h0M455.4 79.0h0M424.2 64.5h0M401.5 52.6h0M438.3 70.6h0M407.6 57.4h0M415.9 73.8h0M441.5 76.4h0M456.9 81.2h0M403.3 65.5h0M439.4 67.4h0M417.4 63.1h0M430.0 65.7h0M437.5 80.2h0M458.5 77.4h0M426.4 71.5h0M432.1 77.3h0M416.4 69.8h0M434.6 72.4h0M424.0 68.7h0M442.0 64.0h0M436.1 75.9h0M425.0 68.9h0M432.9 77.2h0M413.2 56.6h0M430.3 75.7h0M411.5 80.6h0M430.8 80.4h0M421.8 70.8h0M421.7 73.3h0M435.0 81.1h0M411.7 45.4h0M421.7 63.0h0M426.1 68.9h0M423.5 66.9h0M470.5 71.2h0M428.3 71.1h0M415.3 67.1h0M422.2 74.1h0M444.6 74.3h0M444.2 80.7h0M407.6 59.4h0M439.2 63.4h0M413.1 60.2h0M451.9 78.4h0M406.3 65.8h0M420.1 63.5h0M436.9 70.1h0M419.1 65.1h0M409.7 62.8h0M444.7 87.8h0M419.6 72.2h0M440.3 69.2h0M431.7 83.5h0M427.6 83.7h0M422.5 70.8h0M424.7 73.5h0M420.8 73.6h0M431.3 76.9h0M411.0 58.9h0M431.9 80.6h0M421.5 74.2h0M408.2 62.2h0M435.2 75.8h0M416.3 74.2h0M414.6 62.1h0M455.7 72.5h0M405.5 60.5h0M435.5 77.9h0M440.3 79.0h0M430.7 74.6h0M433.7 63.1h0M422.0 70.7h0M433.4 81.0h0M412.7 59.7h0M417.6 79.1h0M418.7 66.8h0M437.4 85.1h0M402.4 59.5h0M425.1 69.0h0M422.5 70.7h0M419.5 72.2h0M412.1 61.7h0M444.6 82.7h0M421.1 74.1h0M438.1 73.4h0M434.7 75.2h0M462.9 79.3h0M403.2 56.8h0M431.2 78.4h0M399.3 50.9h0M399.1 54.2h0M416.8 63.8h0M452.9 73.5h0M437.6 81.2h0M433.9 75.2h0M431.3 74.8h0M429.0 72.6h0M444.8 66.3h0M446.0 79.2h0M439.4 75.6h0M415.5 71.9h0M435.7 70.6h0M425.6 68.4h0M426.2 60.4h0M425.8 78.5h0M416.5 65.1h0M395.7 48.0h0M434.4 74.3h0M416.5 68.4h0M425.6 77.0h0M432.9 71.2h0M456.6 72.3h0M449.0 73.5h0M427.4 67.6h0M425.8 76.2h0M433.3 77.5h0M434.8 63.5h0M445.0 84.9h0M423.9 71.4h0M432.4 71.1h0M426.6 67.8h0M418.0 73.3h0M416.2 65.4h0M430.2 78.3h0M444.3 81.0h0M431.3 73.3h0M418.8 79.5h0M437.7 76.0h0M449.0 72.9h0M393.2 60.9h0M421.0 57.0h0M434.4 75.3h0M427.7 66.8h0M439.0 74.8h0M413.7 64.7h0M433.2 86.5h0M428.0 61.8h0M444.3 72.0h0M422.9 64.1h0M427.9 74.6h0M419.9 72.0h0M425.6 75.0h0M416.9 63.2h0M435.9 70.8h0M434.8 76.8h0M409.5 65.2h0M416.8 69.7h0M456.1 83.1h0M417.4 75.6h0M448.3 71.0h0M454.5 78.8h0M419.4 63.8h0M433.1 81.7h0M426.6 71.4h0M458.1 76.3h0M413.1 61.9h0M404.7 57.1h0M428.2 71.1h0M449.6 74.5h0M441.7 85.5h0M445.0 69.8h0M421.2 77.7h0M415.0 60.3h0M404.3 56.2h0M439.8 69.9h0M466.1 72.3h0M439.9 79.7h0M406.1 68.6h0M420.2 72.9h0M417.9 70.3h0M434.8 69.0h0M438.4 75.4h0M423.0 62.5h0M417.9 59.9h0M418.6 66.5h0M443.0 82.0h0M424.7 74.3h0M451.1 78.8h0M448.7 82.7h0M440.4 81.5h0M474.9 65.7h0M425.6 81.2h0M406.3 68.5h0M410.9 71.1h0M436.9 55.3h0M419.5 73.2h0M391.6 66.3h0M447.0 77.7h0M425.3 77.1h0M418.7 67.2h0M421.7 67.7h0M419.5 68.5h0M434.5 78.9h0M426.1 72.7h0M458.4 80.8h0M413.0 71.1h0M429.5 77.1h0M432.9 81.7h0M438.8 74.3h0M415.5 58.3h0M432.3 70.6h0M422.9 74.4h0M451.5 75.6h0M425.7 72.2h0M429.1 75.7h0M431.1 74.5h0M421.0 69.9h0M458.4 70.3h0M415.2 62.6h0M452.8 83.5h0M441.6 70.5h0M410.2 63.0h0M445.8 72.0h0M415.4 65.4h0M448.5 72.7h0M444.1 76.5h0M434.7 71.9h0M392.5 44.6h0M409.9 67.2h0M423.9 68.3h0M421.5 67.2h0M430.2 75.1h0M428.7 75.2h0M421.8 82.6h0M437.3 59.5h0M426.3 77.9h0M421.5 74.3h0M414.5 70.0h0M411.1 62.0h0M455.5 77.3h0M440.9 72.2h0M428.8 81.5h0M450.2 79.1h0M445.1 81.1h0M443.5 76.0h0M407.4 60.1h0M437.9 77.1h0M410.2 64.5h0M429.7 68.9h0M417.0 70.4h0M451.3 77.9h0M429.6 75.6h0M436.9 79.6h0M451.9 78.8h0M429.2 61.0h0M425.2 79.6h0M403.2 53.4h0M430.2 75.8h0M427.8 82.5h0M401.4 57.9h0M411.7 59.4h0M458.0 78.2h0M420.6 77.6h0M451.6 75.6h0M427.1 67.1h0M426.1 75.7h0M433.3 76.7h0M395.9 61.0h0M428.2 70.7h0M427.6 76.0h0M434.1 76.9h0M430.6 78.1h0M429.6 72.7h0M416.6 63.9h0M410.8 69.6h0M411.5 79.0h0M447.6 82.0h0M430.2 77.5h0M440.2 71.5h0M411.1 68.2h0M420.1 70.4h0M461.7 81.9h0M448.0 84.7h0M415.9 67.6h0M429.5 81.5h0M403.1 62.3h0M446.0 74.9h0M427.5 78.1h0M405.1 63.4h0M426.5 67.3h0M436.1 81.1h0M426.2 67.7h0M417.1 55.0h0M433.2 67.5h0M418.5 66.9h0M440.2 76.9h0M440.3 75.5h0M433.2 78.3h0M432.1 69.8h0M426.5 76.6h0" stroke="#de6db2" stroke-width="2.2" stroke-linecap="round"/>
<path d="M424.4 64.7h0M425.4 65.4h0M441.1 74.0h0M392.2 45.5h0M471.0 80.6h0M460.7 80.6h0M426.1 66.9h0M452.1 73.1h0M425.5 71.1h0M427.3 75.8h0M409.3 68.3h0M434.0 74.0h0M406.1 64.6h0M460.8 70.0h0M443.8 81.8h0M420.5 64.9h0M425.0 78.9h0M430.9 80.2h0M431.4 79.5h0M458.2 82.4h0M419.6 66.8h0M442.2 81.5h0M425.9 68.9h0M469.3 78.1h0M408.2 75.0h0M455.7 81.4h0M443.8 77.9h0M462.2 72.3h0M447.2 75.3h0M464.8 74.8h0M417.7 64.1h0M395.0 56.8h0M431.8 67.3h0M431.0 71.0h0M435.4 79.2h0M426.1 55.5h0M419.6 80.2h0M402.2 55.3h0M422.7 70.8h0M434.9 77.3h0M445.8 80.8h0M428.5 75.3h0M407.8 54.7h0M446.5 73.7h0M423.8 65.6h0M425.1 69.2h0M458.3 82.9h0M435.7 70.6h0M403.2 55.0h0M432.1 66.0h0M432.5 84.3h0M440.0 79.9h0M448.2 70.1h0M423.4 57.5h0M430.6 66.7h0M418.8 68.8h0M440.0 78.3h0M423.6 70.8h0M445.6 67.9h0M442.3 79.8h0M432.6 65.9h0M455.4 70.8h0M401.4 55.5h0M425.2 69.0h0M421.7 70.9h0M460.5 75.9h0M451.6 75.8h0M445.1 77.8h0M420.0 72.1h0M447.7 84.3h0M453.6 76.6h0M440.6 73.4h0M437.5 78.0h0M407.7 73.4h0M417.3 68.7h0M416.0 71.4h0M410.4 79.1h0M438.9 68.8h0M436.7 85.8h0M440.9 76.3h0M450.7 66.6h0M434.2 81.8h0M424.0 74.6h0M431.7 66.8h0M420.8 77.5h0M436.1 70.9h0M440.1 72.3h0M415.6 57.5h0M431.0 73.3h0M422.8 61.8h0M410.5 68.9h0M426.6 61.7h0M409.5 61.3h0M452.6 73.3h0M450.2 75.3h0M429.0 69.3h0M438.6 79.0h0M433.8 83.1h0M436.2 81.7h0M394.1 55.4h0M455.7 74.9h0M430.5 75.4h0M426.5 59.1h0M403.1 78.0h0M399.6 59.7h0M408.2 67.2h0M418.9 81.4h0M418.3 64.0h0M425.0 66.6h0M454.3 64.4h0M426.2 55.5h0M420.3 58.8h0M467.0 74.9h0M414.2 66.8h0M429.2 71.1h0M423.1 61.3h0M449.9 83.9h0M408.5 56.4h0M420.9 73.3h0M436.4 79.5h0M414.4 68.1h0M438.6 70.4h0M429.7 71.8h0M414.0 48.9h0M446.0 76.8h0M460.8 72.6h0M438.5 69.7h0M428.9 68.3h0M454.3 70.1h0M452.3 79.1h0M428.0 80.0h0M445.1 69.9h0M417.2 66.7h0M398.0 57.5h0M440.2 78.9h0M409.5 76.3h0M432.4 67.2h0M452.4 75.1h0M409.4 63.7h0M407.8 67.1h0M467.8 80.7h0M400.0 54.6h0M424.0 74.6h0M440.9 79.8h0M443.6 84.1h0M434.2 78.4h0M412.3 73.7h0M416.5 79.0h0M457.6 80.9h0M418.7 65.8h0M409.4 60.9h0M432.9 69.5h0M445.6 76.3h0M459.2 70.6h0M462.3 73.1h0M403.0 63.3h0M449.1 77.4h0M446.1 73.3h0M456.5 73.3h0M426.7 62.7h0M413.5 58.4h0M432.2 66.6h0M421.0 75.9h0M443.3 71.3h0M436.1 69.6h0M405.9 50.8h0M433.2 74.2h0M465.0 71.2h0M409.8 61.6h0M444.2 81.3h0M417.3 60.2h0M452.1 81.8h0M392.9 58.3h0M455.5 77.9h0M422.0 69.1h0M421.8 84.1h0M426.5 82.9h0M413.1 81.6h0M437.3 76.0h0M435.5 80.4h0M435.5 72.9h0M397.8 55.9h0M442.4 73.9h0M412.8 68.7h0M462.4 79.5h0M413.5 61.7h0M412.3 85.5h0M414.4 59.3h0M421.1 61.3h0M424.6 80.9h0M416.9 54.8h0M423.3 75.3h0M431.3 70.7h0M458.7 74.5h0M437.9 74.7h0M399.3 69.9h0M434.0 79.8h0M414.1 58.4h0M402.6 51.2h0M397.9 55.6h0M407.7 62.1h0M439.6 64.3h0M436.9 70.0h0M427.6 61.4h0M454.8 78.6h0M433.7 79.9h0M428.9 76.0h0M434.4 71.8h0M412.5 58.3h0M467.3 77.1h0M412.9 78.6h0M406.2 68.8h0M453.4 70.2h0M424.0 64.4h0M438.4 77.5h0M436.8 72.2h0M444.5 80.5h0M416.0 68.7h0M441.9 76.1h0M443.7 68.1h0M458.2 78.4h0M426.3 72.3h0M437.1 84.1h0M458.6 80.2h0M444.7 76.4h0M423.2 64.4h0M430.4 72.8h0M420.4 82.2h0M411.7 66.1h0M439.1 69.5h0M420.5 69.0h0M456.1 74.1h0M419.4 61.3h0M394.2 48.5h0M421.2 77.8h0M427.3 64.2h0M435.7 78.0h0M452.9 69.6h0M420.9 63.6h0M453.0 85.5h0M402.2 64.0h0M430.9 83.2h0M423.8 63.1h0M435.8 76.9h0M423.3 64.3h0M413.0 66.9h0M446.1 68.5h0M427.0 72.0h0M423.3 74.9h0M427.4 75.4h0M422.6 65.2h0M412.3 64.0h0M411.0 54.3h0M419.6 66.4h0M467.7 79.2h0M411.1 65.5h0M453.2 80.4h0M421.6 78.2h0M460.3 79.2h0M420.0 72.2h0M437.1 78.1h0M416.5 71.5h0M410.1 60.3h0M431.5 75.3h0M430.0 67.4h0M447.9 70.5h0M408.1 69.8h0M417.6 69.7h0M426.6 66.3h0M429.3 72.8h0M423.0 59.1h0M433.5 57.6h0M430.3 69.6h0M412.4 66.3h0M447.5 78.6h0M402.7 57.2h0M427.0 73.3h0M450.8 78.8h0M442.4 77.7h0M422.6 77.6h0M436.4 76.9h0M400.3 49.9h0M402.5 51.5h0M474.0 67.5h0M423.2 60.8h0M466.3 78.6h0M460.5 74.1h0M453.4 79.9h0M409.5 75.9h0M419.4 53.0h0M443.4 54.4h0M441.9 68.4h0M421.1 77.4h0M444.5 79.6h0M426.6 78.1h0M423.3 80.7h0M419.2 66.1h0M421.4 65.7h0M423.4 72.7h0M450.2 76.6h0M431.5 78.4h0M439.3 81.6h0M420.6 65.2h0M466.5 77.9h0M431.2 73.8h0M441.4 85.3h0M416.6 67.8h0M441.6 72.5h0M414.6 59.2h0M448.8 73.7h0M426.8 67.8h0M411.4 62.8h0M412.9 58.9h0M433.4 74.7h0M434.2 71.8h0M444.5 78.0h0M471.7 69.3h0M417.1 76.7h0M431.9 76.8h0M410.2 82.7h0M425.9 83.8h0M435.3 80.1h0M426.8 67.1h0M455.7 83.4h0M418.7 67.0h0" stroke="#de6db2" stroke-width="1.1" stroke-linecap="square"/>
<path d="M436.2 82.4h0M435.6 79.2h0M424.4 67.6h0M439.8 82.6h0M443.9 85.0h0M454.9 88.4h0M441.2 74.8h0M439.0 80.5h0M443.6 79.9h0M446.6 89.2h0M445.6 85.8h0M441.3 83.8h0M436.2 75.0h0M443.9 75.4h0M438.5 81.4h0M427.5 77.6h0M431.5 77.0h0M438.9 71.8h0M439.0 77.9h0M439.9 80.2h0M467.7 77.0h0M454.6 84.7h0M427.5 77.7h0M439.2 87.2h0M473.2 75.7h0M423.1 76.5h0M431.0 73.0h0M436.1 77.4h0M456.7 72.9h0M444.7 85.1h0M431.6 83.0h0M441.5 79.6h0M452.3 81.0h0M433.3 83.3h0M443.1 77.6h0M448.8 88.2h0M443.1 83.7h0M453.7 86.9h0M430.4 81.8h0M444.9 80.7h0M446.7 83.6h0M443.8 85.6h0M435.8 71.5h0M451.0 73.7h0M451.8 83.0h0M428.8 88.7h0M437.3 79.4h0M435.8 74.3h0M434.3 81.5h0M429.3 74.3h0M436.8 77.3h0M449.9 76.5h0M429.2 76.2h0M464.4 86.9h0M448.7 82.0h0M444.1 82.7h0M432.8 82.3h0M452.8 81.1h0M458.6 78.5h0M447.5 81.7h0M432.7 78.7h0M433.3 80.5h0M435.9 83.2h0M433.9 83.2h0M428.1 79.3h0M440.9 81.5h0M421.6 82.4h0M443.7 73.2h0M435.1 79.5h0M446.6 75.6h0M422.7 76.4h0M427.4 77.4h0M421.4 79.2h0M435.5 73.8h0M465.0 72.1h0M461.1 79.8h0M447.8 80.7h0M455.9 85.1h0M430.8 79.6h0M437.3 77.8h0M448.9 76.1h0M454.1 79.4h0M445.0 83.3h0M462.2 82.5h0M432.6 82.4h0M431.5 78.1h0M435.1 80.0h0M437.3 74.3h0M438.8 86.1h0M429.4 73.4h0M444.0 83.9h0M445.7 74.7h0M443.5 84.0h0M422.7 76.9h0M431.8 80.5h0M449.2 84.9h0M436.2 85.0h0M455.9 79.8h0M433.1 75.3h0M444.5 87.7h0M440.0 75.9h0M453.3 83.3h0M438.8 80.9h0M433.1 80.6h0M448.5 85.4h0M420.9 82.9h0M452.4 75.1h0M430.6 77.8h0M442.0 82.5h0M438.8 80.0h0M443.9 70.7h0M438.4 77.9h0M429.7 74.2h0M453.0 86.5h0M436.8 84.7h0M432.0 78.7h0M449.8 88.8h0M437.9 76.7h0M435.2 77.6h0M449.1 80.8h0M433.6 87.0h0M438.8 84.0h0M442.0 83.5h0M437.5 75.4h0M440.9 78.4h0M429.2 72.4h0M454.7 75.7h0M444.9 80.7h0M416.8 73.9h0M436.6 82.1h0M471.0 74.4h0M455.6 77.0h0M421.6 72.4h0M469.1 82.8h0M457.5 87.5h0M444.8 80.2h0M444.0 84.4h0M432.0 73.2h0M418.1 73.8h0M436.1 80.0h0M438.6 78.9h0M448.7 85.4h0M441.5 77.0h0M459.5 82.1h0M439.0 82.5h0M441.6 81.9h0M449.5 85.0h0M423.1 79.6h0M443.0 87.9h0M441.1 89.7h0M447.9 86.3h0M441.9 80.4h0M442.7 82.1h0M430.8 79.4h0M435.6 81.0h0M446.6 73.1h0M446.7 82.6h0M428.1 74.1h0M442.1 84.6h0M440.1 77.3h0M423.2 73.7h0M431.8 88.8h0M448.8 81.5h0M452.7 89.8h0M427.8 71.0h0" stroke="#d5b1dc" stroke-width="2.2" stroke-linecap="round"/>
<path d="M440.5 84.5h0M450.3 83.0h0M441.6 77.2h0M446.3 73.7h0M454.7 84.0h0M435.1 72.8h0M438.4 72.8h0M422.3 63.8h0M442.1 86.5h0M448.7 84.8h0M444.7 79.3h0M436.8 76.4h0M453.7 88.4h0M441.4 81.8h0M438.8 78.3h0M449.7 81.0h0M433.4 77.5h0M445.8 70.6h0M435.9 77.3h0M456.2 87.5h0M443.7 79.8h0M427.3 81.1h0M450.4 84.2h0M452.5 76.2h0M431.1 81.9h0M452.8 80.2h0M439.8 76.3h0M454.3 79.5h0M430.7 80.0h0M449.3 76.9h0M398.4 62.7h0M432.2 73.4h0M451.6 82.4h0M450.5 84.0h0M425.7 71.7h0M454.9 80.2h0M454.3 79.0h0M430.1 72.0h0M432.5 80.1h0M437.9 79.0h0M446.7 85.1h0M432.2 84.7h0M439.4 83.0h0M460.8 82.6h0M441.8 85.0h0M417.2 63.8h0M420.7 70.0h0M432.3 77.4h0M422.0 76.0h0M454.9 79.2h0M430.8 76.5h0M441.4 75.6h0M435.0 70.3h0M435.3 86.5h0M437.8 82.3h0" stroke="#d5b1dc" stroke-width="1.1" stroke-linecap="square"/>
<path d="M406.6 49.4h0M402.2 65.5h0M400.8 62.8h0M405.4 59.6h0M404.8 63.1h0M402.0 81.2h0M404.4 78.0h0M409.1 47.2h0M415.3 74.2h0M394.8 50.0h0M393.0 49.8h0M419.9 86.5h0M405.9 52.0h0M402.2 49.2h0M392.0 42.5h0M403.9 60.6h0M404.9 67.4h0M396.5 59.1h0M402.5 66.6h0M397.5 50.3h0M400.8 64.9h0M400.4 72.7h0M394.5 47.1h0M396.4 64.5h0M399.6 68.2h0M399.1 59.5h0M391.2 65.4h0M406.9 57.7h0M413.8 56.9h0M395.3 64.9h0M398.0 56.2h0M403.8 50.7h0M398.1 59.4h0M408.8 58.5h0M397.5 67.7h0M396.4 62.5h0M398.3 60.2h0M403.9 58.1h0M403.1 67.7h0M404.7 73.4h0M401.1 63.4h0M396.2 55.3h0M393.8 63.8h0M413.6 83.8h0M406.7 79.4h0M398.9 61.3h0M399.6 51.6h0M403.9 70.1h0M399.7 57.4h0M402.9 80.0h0M401.9 67.2h0M399.0 61.7h0M398.9 52.3h0M406.5 64.2h0M395.6 42.7h0M396.3 54.0h0M397.2 59.3h0M398.0 48.9h0M412.8 47.0h0M396.4 55.5h0M391.6 58.3h0M401.4 53.2h0M400.6 62.6h0M407.1 56.9h0M396.7 50.0h0M395.0 65.0h0M401.3 65.6h0M397.5 73.1h0M407.3 69.1h0M408.5 60.9h0M404.9 58.1h0M405.1 78.8h0M394.5 49.9h0M409.4 68.2h0M394.0 54.2h0M403.2 55.2h0M396.9 48.4h0M406.4 66.7h0M395.4 54.0h0M397.2 49.8h0M405.8 66.1h0M405.5 71.9h0M399.4 65.1h0M391.8 62.4h0M396.2 57.2h0M397.9 75.1h0M391.5 52.7h0M409.2 55.5h0M405.6 55.7h0M402.5 65.6h0M400.5 52.2h0M391.7 58.9h0M401.0 59.0h0M400.2 63.4h0M391.9 58.2h0M397.6 79.0h0M402.4 63.3h0M406.1 63.7h0M406.7 72.7h0M406.2 66.4h0M394.9 44.1h0M393.8 56.3h0M404.6 62.9h0M404.0 47.5h0M402.5 58.3h0M408.9 63.3h0M394.6 52.9h0M394.5 68.3h0M400.3 51.8h0M403.6 53.1h0M406.2 63.3h0M391.3 46.1h0M409.6 64.4h0M418.9 69.1h0M407.0 65.1h0M406.9 59.8h0M400.5 55.0h0M395.4 55.0h0M395.5 52.5h0M399.4 65.1h0M398.1 56.6h0M401.8 47.3h0M396.0 59.0h0M406.9 67.0h0M397.7 60.4h0M398.7 47.5h0M409.1 72.6h0M400.3 45.2h0M416.9 61.4h0M412.1 77.5h0M399.8 63.9h0M414.2 82.6h0M401.5 60.3h0M396.0 43.4h0M396.6 60.8h0M403.0 80.4h0M391.4 51.2h0M390.3 62.4h0M404.6 61.7h0M391.5 54.2h0M396.4 44.7h0M399.9 58.7h0M395.3 49.9h0M397.5 63.7h0M408.0 61.9h0M403.2 64.3h0M401.3 56.2h0M391.3 72.8h0M399.7 49.6h0M391.6 48.9h0M400.7 53.2h0M400.2 48.1h0M396.0 54.4h0M394.2 67.5h0M400.7 47.5h0M410.4 75.5h0M396.7 59.7h0M402.6 76.2h0M401.3 48.0h0M396.2 65.4h0M416.7 64.4h0M395.4 54.0h0M404.5 63.1h0M403.6 68.0h0M403.2 57.2h0M395.1 44.4h0M393.4 59.0h0M411.4 63.5h0M399.0 54.1h0M398.3 49.9h0M401.4 56.6h0M403.4 66.7h0M398.4 46.8h0M396.5 59.1h0M394.0 49.3h0M398.6 50.0h0M410.2 60.1h0M405.0 52.5h0M403.3 52.9h0M402.7 62.1h0M395.6 67.8h0M397.3 55.5h0M407.8 60.4h0M396.5 53.8h0M406.9 73.1h0M406.2 68.0h0M410.3 61.1h0M404.9 68.4h0M411.4 68.7h0M391.4 58.4h0M403.2 61.8h0M403.1 47.1h0M401.1 55.1h0M397.7 47.4h0M406.2 50.7h0" stroke="#de2079" stroke-width="2.2" stroke-linecap="round"/>
<path d="M411.9 86.0h0M405.4 54.5h0M393.9 63.1h0M413.9 75.1h0M399.1 61.7h0M401.3 78.3h0M405.8 61.5h0M390.5 85.7h0M401.8 69.7h0M407.9 77.7h0M399.3 59.6h0M403.8 67.7h0M402.5 70.3h0M399.9 56.0h0M407.4 65.8h0M393.8 55.5h0M395.0 69.8h0M400.6 54.6h0M395.1 69.0h0M401.7 52.7h0M409.5 62.6h0M402.3 49.9h0M413.1 71.1h0M400.5 66.9h0M397.7 56.5h0M395.8 47.2h0M396.1 45.6h0M407.6 63.0h0M402.1 47.1h0M390.3 67.1h0M392.7 43.2h0M407.7 66.4h0M408.0 70.4h0M412.2 65.6h0M392.0 47.7h0M405.6 76.7h0M410.1 76.8h0M413.7 71.1h0M401.4 47.6h0M390.1 63.2h0M394.5 63.4h0M405.7 63.8h0M416.5 58.5h0M404.7 58.3h0M410.9 59.3h0M407.3 68.9h0M396.1 51.1h0M405.5 70.3h0M403.0 46.5h0M404.5 64.1h0M401.3 49.2h0M405.1 57.6h0M393.3 54.8h0M400.0 60.4h0M397.4 69.1h0M393.6 71.6h0M400.4 49.4h0M403.8 72.4h0M410.6 65.2h0M397.4 61.2h0M405.6 62.9h0M405.3 43.9h0M402.6 50.5h0M405.4 68.4h0M414.8 78.4h0" stroke="#de2079" stroke-width="1.1" stroke-linecap="square"/>
<path d="M403.3 50.2h0M394.8 52.5h0M396.9 45.5h0M394.5 55.3h0M390.8 47.9h0M400.4 55.6h0M396.9 48.1h0M402.8 50.2h0M397.0 52.0h0M391.9 47.6h0M401.7 65.3h0M392.9 47.9h0M400.8 59.1h0M394.3 55.2h0M396.2 61.6h0M397.2 56.2h0M399.5 47.7h0M393.9 56.1h0M398.6 55.5h0M403.2 57.6h0M390.7 55.8h0M407.4 65.4h0M391.0 54.4h0M393.3 50.8h0M390.5 47.5h0M399.5 57.9h0M392.8 50.4h0M397.0 50.8h0M400.6 54.1h0M397.1 56.7h0M392.2 44.9h0M400.3 54.2h0M392.0 50.1h0M399.1 53.2h0M397.4 53.5h0M403.0 67.9h0M394.5 46.1h0M395.6 47.9h0M396.9 48.1h0M403.3 48.3h0M393.0 54.4h0M399.5 49.5h0M394.7 56.8h0M392.9 56.4h0M399.0 55.2h0M401.4 62.6h0M397.4 53.7h0M396.8 63.9h0M393.6 50.5h0M397.1 56.3h0M409.2 65.5h0M392.6 47.1h0M391.5 56.8h0M397.6 50.5h0M395.2 49.8h0M397.7 44.3h0M396.1 43.9h0M392.7 47.1h0M402.0 46.9h0M400.0 44.2h0M394.8 54.7h0M399.0 53.7h0M395.2 61.1h0M394.5 47.0h0M390.4 42.6h0M394.9 48.1h0M397.3 55.6h0M391.6 63.0h0M397.2 56.6h0M402.8 54.4h0M393.5 58.1h0M391.2 54.2h0M392.0 54.0h0M395.4 54.1h0M391.8 51.0h0M402.1 55.8h0M391.4 54.0h0M400.1 56.6h0M390.8 46.8h0M398.4 51.7h0M396.5 52.7h0M400.7 45.5h0M398.5 72.7h0M396.8 54.7h0M402.1 47.3h0M397.6 56.2h0M395.6 51.9h0M400.9 73.8h0M395.4 62.1h0M395.8 54.9h0M401.3 60.6h0M398.8 53.9h0M400.4 59.0h0M405.7 58.1h0M391.1 55.8h0M394.8 50.3h0M392.1 49.8h0M393.7 43.4h0M401.3 50.6h0M393.1 58.6h0M397.2 43.2h0M398.9 48.7h0M393.5 51.9h0M403.1 52.3h0M395.8 47.1h0M397.7 47.0h0M399.3 60.7h0M395.5 59.1h0M395.4 65.1h0M395.4 58.6h0M393.7 47.5h0M393.2 54.6h0M394.3 59.0h0M403.8 55.7h0M391.8 71.2h0M397.3 53.7h0M402.4 49.4h0M407.0 66.0h0M398.4 54.9h0M397.8 43.2h0M397.2 52.9h0M400.2 54.0h0M400.1 48.4h0M393.1 57.8h0M401.9 51.2h0M402.8 67.7h0M390.9 52.6h0M396.8 61.2h0M393.5 43.4h0M393.7 46.3h0M400.7 58.9h0M403.7 45.4h0M401.9 53.4h0M403.8 61.8h0M398.4 52.0h0M391.1 45.1h0M395.5 45.2h0M400.9 55.0h0M393.3 51.1h0M405.2 66.3h0M392.7 54.1h0M399.5 61.4h0M396.7 51.3h0M394.2 49.3h0M403.9 51.4h0M398.1 52.2h0M398.2 55.2h0M397.0 58.4h0M399.8 42.7h0M392.3 56.0h0M398.1 56.4h0M397.7 59.0h0M392.9 55.6h0M395.3 50.1h0M395.5 61.9h0M392.8 44.5h0M400.5 67.9h0M400.1 62.5h0M398.3 57.4h0M397.6 52.4h0M396.5 50.5h0M400.8 57.5h0M397.7 48.6h0M397.4 59.1h0M399.4 43.7h0M403.3 61.6h0M401.8 52.7h0M396.6 48.3h0M392.5 58.4h0M395.2 54.2h0M400.3 55.0h0M403.7 57.0h0M396.0 43.8h0M400.1 55.9h0M392.1 50.9h0M398.6 50.9h0M395.8 60.2h0M399.5 53.6h0M406.6 58.2h0M392.2 50.6h0M400.2 53.7h0M395.4 47.1h0M393.2 50.6h0M399.3 52.1h0M395.0 55.3h0M392.9 69.0h0M399.4 56.9h0M393.2 51.9h0M394.6 64.8h0M397.5 46.1h0M397.7 56.9h0M395.5 54.4h0M397.8 71.2h0M400.9 57.0h0M396.1 59.6h0M402.7 44.3h0M394.7 53.1h0M396.0 57.8h0M395.5 55.6h0M397.8 57.3h0M399.8 59.7h0M392.4 43.4h0M393.2 65.7h0M400.7 45.2h0M396.6 53.1h0M397.5 56.4h0M400.9 61.0h0M397.2 47.0h0M391.3 51.9h0M398.6 51.1h0M400.6 49.8h0M401.4 48.1h0M403.2 59.1h0M397.1 53.6h0M398.1 58.1h0M397.6 55.4h0M397.2 44.7h0M398.3 53.3h0M394.3 57.0h0M398.5 72.4h0M398.8 63.2h0M403.8 54.4h0M397.8 44.6h0M394.1 64.8h0M395.6 47.7h0" stroke="#9b0c4f" stroke-width="2.2" stroke-linecap="round"/>
<path d="M397.8 60.3h0M394.8 43.4h0M399.3 44.8h0M394.6 54.6h0M395.9 54.0h0M394.8 54.8h0M410.4 58.9h0M402.5 56.6h0M394.4 42.4h0M405.1 63.0h0M395.9 64.0h0M396.4 60.4h0M392.8 54.3h0M397.8 62.0h0M399.8 43.6h0M395.6 46.7h0M394.7 49.9h0M402.9 45.6h0M395.3 67.3h0M397.4 49.0h0M399.2 59.3h0M399.1 43.2h0M405.3 60.2h0M394.4 53.0h0M396.9 54.3h0M392.7 52.3h0M397.4 60.1h0M403.6 63.9h0M399.7 56.8h0M405.4 47.5h0M393.8 53.5h0M391.6 49.3h0M397.2 43.3h0M397.2 46.0h0M396.7 43.8h0M403.3 61.8h0M390.9 46.8h0M397.0 63.7h0M403.3 73.9h0M399.4 65.0h0M397.3 59.2h0M395.2 52.2h0M390.4 48.2h0M397.5 53.2h0M397.1 43.0h0M391.4 47.8h0M396.6 46.6h0M397.4 63.3h0M392.4 44.6h0M401.0 58.0h0M399.4 64.9h0M391.7 54.1h0M391.4 49.1h0M393.1 55.2h0M393.9 58.6h0M396.7 49.1h0M406.2 61.8h0M396.9 43.9h0M396.9 61.1h0M396.0 59.0h0M395.8 56.0h0M399.4 54.1h0M396.7 66.1h0M401.2 54.8h0M390.5 49.5h0M391.0 51.2h0M395.0 51.1h0M398.5 48.2h0M397.7 59.2h0M406.7 55.8h0M396.5 61.4h0M399.0 66.5h0M394.3 67.4h0M400.3 62.7h0M401.6 50.0h0" stroke="#9b0c4f" stroke-width="1.1" stroke-linecap="square"/>
<path d="M431.4 76.5h0M441.7 76.5h0M452.8 85.2h0M450.4 84.3h0M450.8 77.0h0M445.4 82.0h0M450.9 79.5h0M464.2 79.5h0M457.9 80.3h0M442.2 79.3h0M452.3 80.3h0M443.9 79.8h0M462.3 79.7h0M458.7 84.6h0M426.6 81.4h0M439.7 77.9h0M447.5 77.1h0M447.2 80.8h0M460.6 84.9h0M447.6 81.9h0M430.9 75.2h0M448.3 77.8h0M446.0 85.0h0M444.1 78.3h0M447.7 82.1h0M435.9 76.1h0M457.3 84.3h0M459.5 82.3h0M464.0 87.5h0M452.7 82.7h0M470.2 73.0h0M446.5 80.1h0M434.9 79.0h0M438.5 79.0h0M462.3 83.0h0M459.4 78.4h0M448.0 82.6h0M452.9 84.2h0M462.2 81.6h0M447.4 80.7h0M445.7 77.0h0M449.3 83.8h0M439.9 82.6h0M441.5 87.0h0M464.8 83.5h0M443.3 84.5h0M448.6 83.6h0M457.5 85.3h0M464.2 82.9h0M465.0 74.3h0M431.0 83.3h0M445.3 86.8h0M452.3 83.0h0M437.9 80.4h0M446.1 85.4h0M438.0 79.8h0M447.4 80.5h0M450.8 85.0h0M444.3 82.0h0M437.5 82.5h0M439.8 76.1h0M480.9 73.9h0M455.7 80.2h0M460.0 87.8h0M459.2 83.7h0M440.4 82.6h0M448.3 78.6h0M428.1 77.0h0M449.4 83.9h0M445.5 85.6h0M447.3 79.5h0M460.4 77.6h0M435.3 79.2h0M452.7 87.4h0M459.7 82.9h0M450.7 77.8h0M436.8 84.3h0M450.5 84.8h0M444.5 85.4h0M465.1 81.6h0M464.2 81.0h0M448.2 78.8h0M455.1 80.7h0M444.9 80.5h0M447.4 87.6h0M456.6 86.9h0M447.6 87.6h0M460.9 77.5h0M445.4 77.1h0M454.3 83.5h0M462.8 78.4h0M440.7 81.6h0M455.9 81.6h0M434.0 81.0h0M463.4 79.3h0M458.2 81.5h0M443.6 75.2h0M446.3 86.3h0M446.9 83.0h0M466.7 83.5h0M462.2 86.2h0M448.1 81.7h0M446.6 84.9h0M451.4 78.7h0M439.2 79.7h0M437.0 76.7h0M453.6 79.7h0M446.1 85.9h0M457.2 84.0h0M453.4 81.8h0M443.1 79.2h0M435.7 75.3h0M455.9 80.9h0M454.9 82.3h0M443.4 80.1h0M444.8 81.4h0M454.1 82.0h0M437.5 84.6h0M456.3 84.4h0M441.5 81.2h0M442.6 87.6h0M436.8 79.7h0M453.0 78.3h0M439.5 81.8h0M446.9 86.9h0M452.2 85.7h0M438.3 80.7h0M436.8 81.6h0M449.4 82.2h0M447.8 80.0h0M448.3 79.3h0M452.7 83.8h0M449.2 80.3h0M458.1 86.5h0M440.1 74.4h0M460.3 82.2h0M449.2 79.9h0M451.6 79.5h0M460.9 80.3h0M448.8 79.1h0M440.9 83.9h0M448.0 76.6h0M449.3 81.0h0M447.7 87.7h0M428.6 85.9h0M451.4 82.2h0M452.1 81.2h0M442.0 80.6h0M464.9 82.5h0M432.4 76.0h0M442.1 77.6h0M443.1 84.4h0M449.1 78.2h0M448.7 80.8h0M444.4 82.4h0M454.5 80.1h0M438.0 80.1h0M447.6 80.6h0M457.8 84.4h0M445.6 84.5h0M457.5 82.0h0M452.3 86.5h0M454.3 86.2h0M453.4 83.7h0M443.4 82.7h0M445.0 82.6h0M458.1 80.3h0M461.7 76.8h0M444.4 85.8h0M451.7 79.0h0M458.8 80.5h0M444.7 82.0h0M448.4 78.8h0M441.0 82.7h0M461.5 78.0h0M451.1 83.6h0M438.0 80.2h0M449.4 85.0h0M454.6 79.2h0M467.8 83.3h0M433.8 79.0h0M458.6 83.2h0M446.0 79.0h0M424.9 71.2h0M445.1 84.1h0M458.3 77.6h0M431.7 77.2h0M443.6 80.8h0M438.2 76.9h0M439.8 80.2h0M431.3 82.7h0M428.3 82.5h0M453.7 83.9h0M450.0 82.6h0M447.1 80.4h0M432.0 81.6h0M437.5 80.5h0M464.5 82.4h0M436.6 85.1h0M449.8 83.6h0M452.9 76.7h0M442.8 77.8h0M480.0 76.5h0M459.6 82.4h0M447.9 80.0h0M457.4 81.0h0M460.8 75.5h0M439.6 84.7h0M444.2 84.8h0M437.0 77.5h0M441.1 78.9h0M452.8 75.4h0M436.4 74.7h0M446.2 79.2h0M449.4 79.1h0M439.1 81.1h0M448.2 81.4h0M445.6 79.6h0M444.0 80.9h0M445.9 80.5h0M436.5 81.0h0M454.4 87.2h0M458.3 83.6h0M453.3 81.4h0M442.4 83.7h0" stroke="#fbc3c3" stroke-width="2.2" stroke-linecap="round"/>
<path d="M458.1 80.5h0M452.7 80.3h0M458.9 77.1h0M460.6 82.2h0M441.1 76.4h0M456.7 86.8h0M461.8 86.6h0M465.5 78.4h0M461.2 76.1h0M454.6 79.0h0M440.1 79.3h0M458.3 82.3h0M458.2 79.6h0M453.9 85.6h0M428.2 77.3h0M457.8 89.5h0M472.8 81.9h0M460.2 82.4h0M436.4 77.8h0M460.8 80.8h0M436.3 75.0h0M445.0 76.7h0M461.8 81.9h0M430.8 80.3h0M471.8 81.8h0M444.5 77.3h0M460.4 86.0h0M424.0 79.9h0M477.7 72.5h0M424.1 81.1h0M443.7 85.5h0M460.6 83.6h0M454.6 80.2h0M441.3 84.1h0M458.3 83.0h0M447.9 81.5h0M445.8 84.3h0M437.8 78.7h0M450.6 82.9h0M427.2 73.7h0M462.0 84.1h0M434.2 82.0h0M455.1 79.4h0M446.5 82.0h0M430.9 76.8h0M457.5 83.5h0M452.9 85.7h0M442.3 77.5h0M444.9 85.3h0M440.8 89.5h0M456.8 82.3h0M433.4 75.7h0M457.7 81.8h0M439.0 83.0h0M454.1 82.3h0M460.1 82.0h0M442.3 77.5h0M428.2 81.3h0M440.4 78.9h0M443.7 85.0h0M464.4 82.6h0M445.1 80.4h0M444.9 80.9h0M429.6 82.1h0M449.3 82.9h0M434.9 81.6h0M461.5 84.8h0M447.5 83.6h0M435.7 82.4h0M435.4 83.0h0M451.2 79.6h0M441.4 79.0h0M454.4 82.4h0M423.3 81.5h0M447.6 85.6h0" stroke="#fbc3c3" stroke-width="1.1" stroke-linecap="square"/>
<path d="M391.0 52.9C392.5 53.8 396.8 56.1 400.0 58.0C403.2 59.9 406.7 62.5 410.0 64.5C413.3 66.5 416.7 68.4 420.0 70.0C423.3 71.6 426.3 72.9 430.0 74.0C433.7 75.1 437.8 76.0 442.0 76.5C446.2 77.0 450.7 77.3 455.0 77.2C459.3 77.1 463.8 77.0 468.0 76.0C472.2 75.0 478.0 71.8 480.0 71.0" fill="none" stroke="#111" stroke-width="1.10"/>
<path d="M420.1 147.2h0M427.2 144.7h0M409.3 146.9h0M393.9 124.2h0M429.4 154.9h0M446.6 157.0h0M419.2 141.6h0M430.5 146.2h0M432.0 161.3h0M407.0 138.4h0M421.5 150.8h0M402.9 124.3h0M429.9 150.1h0M426.0 146.1h0M403.4 140.7h0M448.7 161.1h0M425.2 140.9h0M442.5 157.8h0M406.5 142.0h0M463.0 159.8h0M433.3 157.1h0M421.9 138.4h0M433.3 147.7h0M417.0 138.8h0M408.2 130.3h0M438.3 153.1h0M423.3 146.6h0M424.7 153.9h0M440.2 153.2h0M456.7 165.5h0M418.5 154.2h0M449.0 167.4h0M416.1 146.6h0M453.3 156.3h0M427.2 148.7h0M397.1 130.1h0M411.0 125.5h0M424.7 155.4h0M427.4 158.2h0M441.2 165.9h0M403.4 130.6h0M452.8 154.5h0M417.0 148.8h0M430.2 157.6h0M428.0 146.2h0M429.4 155.2h0M412.3 142.2h0M420.7 150.7h0M411.9 138.7h0M411.4 138.6h0M411.1 141.5h0M418.2 151.3h0M437.3 156.8h0M423.8 149.1h0M442.4 160.8h0M431.3 153.1h0M448.0 152.0h0M405.6 126.5h0M419.0 149.9h0M432.3 150.5h0M445.3 152.9h0M436.0 158.3h0M437.7 155.0h0M417.2 151.3h0M408.5 148.4h0M419.4 144.7h0M416.1 152.4h0M402.1 138.2h0M448.6 159.5h0M401.4 141.1h0M401.9 131.5h0M434.7 160.0h0M406.1 138.5h0M436.2 153.9h0M407.0 132.4h0M429.8 156.7h0M421.6 140.5h0M425.5 153.0h0M429.7 151.5h0M416.4 146.4h0M425.8 152.9h0M415.2 149.6h0M425.2 144.5h0M405.1 142.2h0M420.1 146.2h0M430.2 138.9h0M401.8 140.7h0M435.1 157.5h0M435.8 146.2h0M413.8 140.0h0M431.6 153.1h0M419.9 149.0h0M421.0 135.9h0M424.5 159.8h0M434.8 158.4h0M434.9 153.1h0M404.9 143.2h0M412.5 137.3h0M443.1 162.3h0M442.2 153.6h0M409.7 149.5h0M420.8 147.4h0M416.1 139.0h0M398.8 134.0h0M411.4 148.1h0M414.2 139.8h0M421.4 138.9h0M422.5 156.2h0M427.0 154.1h0M434.0 146.3h0M450.2 159.5h0M418.3 141.6h0M437.4 158.0h0M419.9 145.6h0M405.0 128.4h0M399.6 149.2h0M433.4 142.8h0M424.3 152.8h0M401.7 142.6h0M413.9 147.2h0M439.1 153.2h0M425.5 145.8h0M447.6 154.1h0M452.8 161.6h0M414.8 151.1h0M409.0 125.0h0M431.0 145.2h0M427.1 153.9h0M414.3 138.2h0M399.2 129.8h0M430.4 150.5h0M427.1 149.0h0M427.0 163.7h0M422.8 150.4h0M463.7 163.1h0M417.1 153.4h0M424.0 159.1h0M421.0 151.8h0M427.7 153.7h0M419.1 144.6h0M453.9 161.0h0M429.0 158.3h0M398.5 145.9h0M444.4 162.3h0M405.8 144.2h0M396.6 125.7h0M447.2 158.8h0M446.5 164.7h0M417.0 150.6h0M430.3 153.5h0M456.8 153.5h0M410.4 134.0h0M404.8 138.4h0M410.7 143.0h0M462.3 157.5h0M411.7 142.4h0M446.6 163.9h0M420.1 150.8h0M407.2 147.1h0M426.8 154.7h0M398.3 135.9h0M419.0 145.2h0M445.3 150.5h0M418.5 142.0h0M427.9 151.5h0M425.5 154.1h0M426.6 148.9h0M440.1 152.4h0M414.0 147.4h0M439.6 161.1h0M444.2 151.5h0M418.9 144.4h0M432.2 149.4h0M405.9 140.6h0M428.5 163.9h0M407.2 145.2h0M418.9 146.4h0M444.8 162.8h0M447.5 159.5h0M436.0 161.2h0M443.4 160.8h0M448.8 164.9h0M426.9 157.9h0M405.2 133.9h0M415.4 140.5h0M438.6 158.8h0M454.7 157.9h0M440.5 163.4h0M415.6 138.4h0M446.4 159.9h0M452.0 153.7h0M400.4 137.4h0M410.2 142.4h0M410.8 144.1h0M396.3 142.9h0M417.8 147.7h0M428.3 157.5h0M416.1 154.8h0M436.5 158.4h0M436.8 146.6h0M398.0 138.5h0M442.5 155.0h0M417.4 143.8h0M438.7 161.3h0M420.5 134.1h0M397.8 131.5h0M429.9 158.6h0M410.0 140.1h0M439.4 159.2h0M413.1 138.8h0M437.0 152.9h0M444.3 164.5h0M411.8 151.3h0M419.1 146.0h0M406.1 135.7h0M448.0 153.5h0M414.5 142.2h0M414.4 138.8h0M427.9 147.0h0M436.1 152.7h0M421.0 152.5h0M445.9 162.4h0M425.8 159.6h0M412.5 138.6h0M410.5 141.7h0M440.6 153.2h0M404.1 144.7h0M422.1 152.5h0M435.4 161.5h0M421.7 148.9h0M458.5 160.5h0M431.6 141.9h0M410.7 138.0h0M428.1 140.2h0M429.0 148.0h0M416.9 156.0h0M424.9 141.4h0M415.4 146.0h0M417.9 147.9h0M437.0 160.7h0M450.4 163.8h0M415.3 150.1h0M405.0 134.9h0M424.2 147.6h0M431.4 148.1h0M415.1 141.4h0M434.6 162.6h0M420.3 141.9h0M430.8 155.0h0M427.8 146.2h0M401.6 138.8h0M420.3 147.6h0M407.3 139.4h0M421.3 137.5h0M416.4 138.2h0M450.4 153.2h0M424.9 158.7h0M441.3 158.0h0M428.6 149.0h0M405.9 141.2h0M392.1 134.8h0M408.3 131.2h0M444.8 152.4h0M391.1 120.9h0M423.0 139.4h0M430.3 142.0h0M415.8 135.3h0M440.2 157.3h0M433.1 155.6h0M400.6 138.5h0M411.7 139.5h0M430.2 144.6h0M458.5 160.3h0M426.2 143.6h0M419.5 145.0h0M449.0 156.4h0M432.5 159.4h0M423.1 158.9h0M443.3 151.6h0M427.2 155.3h0M407.5 131.5h0M418.7 152.1h0M445.3 153.1h0M405.7 141.9h0M422.9 155.0h0M448.3 157.2h0M421.6 149.1h0M423.4 140.8h0M413.4 147.0h0M434.5 159.2h0M423.8 145.8h0M394.8 126.3h0M425.1 148.2h0M392.0 138.6h0M426.7 147.5h0M434.9 150.0h0M468.8 155.8h0M425.3 148.6h0M429.0 144.7h0M459.8 156.9h0M448.2 155.3h0M431.4 157.7h0M415.9 145.4h0M452.5 158.8h0M444.5 157.5h0M448.0 163.7h0M417.2 143.1h0M424.1 149.2h0M410.9 140.5h0M436.1 157.1h0M403.6 150.4h0M444.5 153.1h0M429.6 139.9h0M413.9 140.8h0M435.1 158.8h0M421.3 152.3h0M426.9 147.2h0M433.9 157.6h0M427.8 145.2h0M437.9 152.8h0M445.1 160.4h0M424.5 154.3h0M421.0 140.7h0M405.6 134.6h0M406.2 136.5h0M401.5 138.6h0M414.0 143.4h0M451.7 160.0h0M437.1 152.6h0M416.5 147.5h0M432.1 161.6h0M438.2 152.1h0M438.1 154.4h0M413.1 146.9h0M418.0 150.3h0M412.8 140.9h0M411.7 134.8h0M436.9 161.1h0M415.9 142.3h0M394.2 134.0h0M447.0 157.9h0M454.1 161.8h0M408.8 155.6h0M401.4 132.2h0M408.1 134.9h0M418.8 141.3h0M400.6 132.4h0M428.0 146.3h0M424.4 140.8h0M401.7 130.3h0M398.5 134.0h0M408.0 135.5h0M419.2 148.2h0M429.2 159.2h0M414.8 149.5h0M435.1 165.6h0M407.2 145.2h0M421.9 141.2h0M419.9 149.8h0M442.0 146.8h0M441.6 159.6h0M405.2 124.2h0M422.7 151.0h0M417.0 143.1h0M442.4 142.3h0M431.8 153.3h0M424.9 165.5h0M392.6 149.6h0M446.5 165.4h0M435.1 147.4h0M425.7 154.9h0M423.9 145.4h0M437.7 149.4h0M439.8 161.6h0M431.5 161.6h0M434.6 152.8h0M434.5 155.6h0M421.7 146.2h0M429.1 157.0h0M442.5 159.1h0M437.2 150.1h0M465.8 166.4h0M402.2 128.3h0M420.6 147.7h0M403.4 143.3h0M415.8 145.6h0M423.4 147.5h0M413.0 137.5h0M434.6 149.8h0M428.7 148.8h0M453.1 161.8h0M438.4 159.3h0M429.6 150.6h0M444.3 160.2h0M433.3 156.0h0M417.6 150.5h0M414.4 145.9h0M424.6 154.2h0M432.8 153.4h0M423.0 160.3h0M448.5 157.4h0M416.1 139.2h0M422.7 152.0h0M410.3 153.9h0M422.1 162.4h0M415.6 149.0h0M397.7 137.8h0M446.7 156.7h0M433.7 146.7h0M424.1 143.2h0M404.0 138.3h0M427.6 162.1h0M423.0 160.7h0M405.3 135.1h0M397.1 135.5h0M439.3 153.2h0M438.8 157.1h0M440.9 160.3h0M438.3 161.0h0M410.5 145.8h0M419.3 148.0h0M417.5 143.6h0M416.4 150.1h0M445.2 153.6h0M415.9 144.0h0M398.5 132.6h0M426.7 137.4h0M441.6 153.1h0M406.4 146.7h0M422.9 149.6h0M396.3 120.8h0M451.0 157.3h0M430.7 153.7h0M403.0 139.1h0M424.8 149.0h0M421.1 149.2h0M407.9 141.4h0M393.9 132.3h0M422.4 153.2h0M447.4 158.6h0M412.7 142.5h0M434.4 148.0h0M418.0 153.5h0M423.6 156.2h0M445.4 159.1h0M405.2 136.9h0M433.4 152.6h0M423.8 141.7h0M408.3 137.8h0M432.2 156.0h0M426.1 152.4h0M406.1 145.2h0M438.8 155.7h0M409.2 132.4h0M391.0 139.1h0M451.3 157.3h0M438.5 162.1h0M412.9 143.3h0M423.5 145.4h0M406.8 133.2h0M445.3 164.6h0M419.0 144.2h0M456.7 153.5h0M425.1 159.1h0M400.9 128.7h0M422.3 143.3h0M423.0 159.0h0M413.2 145.6h0M441.6 153.9h0M471.9 159.4h0M436.7 153.2h0M431.5 149.5h0M420.4 149.5h0M441.7 150.6h0M418.7 147.1h0M431.5 150.7h0M417.1 152.9h0M413.5 130.3h0M406.3 144.7h0M443.2 155.5h0M426.3 149.7h0M445.6 156.5h0M429.8 145.2h0M408.4 140.4h0M432.7 153.3h0M436.2 153.6h0M428.0 153.2h0M426.8 146.7h0M425.7 148.5h0M433.3 153.8h0M400.0 142.4h0M422.4 151.3h0M422.6 144.9h0M421.0 143.6h0M433.8 147.0h0M427.8 148.0h0M426.3 159.2h0M405.0 139.8h0M430.1 160.2h0M428.1 153.3h0M438.8 147.0h0M442.4 158.9h0M408.3 132.7h0M433.1 156.1h0M422.9 147.1h0M402.4 127.1h0M442.1 156.5h0M437.8 153.1h0M454.3 155.9h0M418.7 147.4h0M398.2 135.7h0M413.6 136.0h0M465.5 156.2h0M434.5 158.6h0M399.9 134.4h0M443.7 162.8h0M432.4 159.2h0M429.8 149.6h0M425.8 146.6h0M444.1 158.2h0M423.7 150.3h0M443.9 159.1h0M444.8 158.9h0M413.6 137.1h0M457.7 160.6h0M432.6 152.1h0M429.2 152.1h0M426.7 158.2h0M431.3 153.1h0M408.4 132.9h0M437.5 151.4h0M431.0 155.9h0M400.4 139.1h0M454.1 157.9h0M430.6 150.1h0M442.5 152.0h0M417.4 140.6h0M411.5 139.9h0M414.2 148.8h0M424.6 151.8h0M403.3 127.9h0M413.4 143.3h0M464.2 160.5h0M428.9 142.0h0M395.5 135.2h0M424.7 143.3h0M444.3 159.5h0M432.1 153.3h0M440.4 158.2h0M417.7 147.6h0M430.0 152.9h0M395.5 139.8h0M431.5 156.0h0M410.9 134.9h0M448.9 158.2h0M453.7 160.1h0M399.3 139.2h0M440.8 146.4h0M401.3 142.9h0M416.1 144.6h0M437.4 159.7h0M428.6 151.3h0M426.2 158.2h0M411.1 146.3h0M402.6 152.2h0M429.8 140.9h0M428.0 151.1h0M426.7 156.9h0M449.9 158.7h0M402.3 127.0h0M432.2 160.3h0M441.5 159.5h0M425.3 145.3h0M423.8 144.4h0M402.5 132.8h0M406.8 137.7h0M409.6 140.7h0M422.9 146.9h0M439.5 159.0h0M431.3 155.0h0M399.4 125.7h0M434.0 152.6h0M439.0 164.6h0M405.9 142.1h0M422.8 154.1h0M416.1 147.2h0M426.7 143.9h0M430.8 152.5h0M415.5 144.8h0M406.8 137.6h0M420.5 149.5h0M427.1 157.8h0M423.9 145.0h0M421.9 148.5h0M414.3 137.4h0M404.3 132.8h0M423.5 141.3h0M424.6 152.5h0M408.5 153.8h0M419.0 146.7h0M440.6 153.3h0M418.7 155.2h0M442.1 159.8h0M464.3 159.6h0M441.1 150.9h0M410.0 144.4h0M426.0 147.6h0M447.9 159.8h0M439.4 144.9h0M438.5 157.0h0M428.9 154.2h0M432.7 143.4h0M426.8 160.6h0M392.9 134.4h0M406.4 138.3h0M426.5 147.8h0M437.3 155.7h0M455.3 156.2h0M444.4 160.0h0M419.8 145.9h0M430.9 157.7h0M430.3 162.6h0M415.4 130.9h0M415.8 143.2h0M418.2 149.3h0M412.6 142.3h0M431.8 160.2h0M400.6 136.9h0M449.1 153.9h0M396.0 133.6h0M462.0 158.9h0M439.1 157.1h0M431.8 159.5h0M413.5 133.1h0M406.1 129.4h0M433.6 164.7h0M428.9 153.8h0M410.1 127.6h0M414.6 158.7h0M443.6 159.4h0M402.9 138.9h0M427.9 154.6h0M402.4 138.2h0M394.0 134.1h0M417.5 149.6h0M413.8 131.9h0M415.1 145.9h0M423.4 158.5h0M443.6 159.2h0M409.0 140.3h0M432.4 148.0h0M419.1 146.5h0M433.6 151.4h0M445.5 165.4h0M430.9 143.5h0M424.0 161.8h0M433.0 143.9h0M432.9 140.4h0M417.5 140.6h0M425.2 158.3h0M410.4 145.9h0M434.4 152.9h0M419.5 155.0h0M410.9 142.3h0M414.4 152.4h0M431.5 147.5h0M412.3 135.5h0M434.1 156.0h0M420.4 156.0h0M427.3 147.6h0M412.7 143.3h0M416.7 142.4h0M441.7 161.6h0M433.4 154.6h0M421.7 146.3h0M423.7 159.8h0M417.7 144.9h0M423.2 154.4h0M437.4 147.7h0M415.8 136.2h0M438.9 157.2h0M462.4 155.6h0M426.1 149.1h0M434.6 159.2h0M431.7 154.3h0M439.9 153.0h0M430.3 165.6h0M444.1 159.0h0M404.1 126.0h0M392.7 136.0h0M428.7 161.9h0M446.6 156.3h0M419.5 141.5h0M409.7 133.6h0M431.2 157.1h0M403.5 138.2h0M435.4 153.1h0M417.8 133.9h0M429.1 148.7h0M461.2 158.6h0M427.5 151.5h0M425.4 140.6h0M428.8 150.2h0M428.7 153.0h0M424.6 165.0h0M429.1 147.2h0M416.7 138.9h0M471.0 162.1h0M400.8 136.8h0M433.9 159.9h0M405.5 139.1h0M413.3 148.7h0M407.7 143.5h0M397.6 135.0h0M401.7 141.3h0M448.1 157.0h0M461.5 158.5h0M434.1 149.5h0M425.4 158.1h0M430.3 144.7h0M415.1 145.6h0M427.1 158.1h0M465.7 165.3h0M436.2 152.9h0M441.1 150.1h0M401.8 133.6h0M410.7 147.1h0M427.4 150.4h0M405.6 142.8h0M425.6 152.6h0M427.0 153.6h0M412.9 132.9h0M462.6 156.0h0M422.5 150.2h0M447.9 151.8h0M428.2 150.8h0M443.8 152.9h0M404.1 128.6h0M397.4 137.6h0M443.2 154.9h0M436.6 151.1h0M404.2 136.2h0M420.0 152.9h0M441.4 157.5h0M404.2 140.1h0M411.9 138.1h0M432.3 156.2h0M419.3 153.4h0M413.0 137.9h0M422.2 146.7h0M421.8 150.1h0M465.8 159.9h0M424.2 145.7h0M430.9 154.9h0M420.2 144.6h0M431.1 149.0h0M414.3 148.0h0M423.2 149.7h0M444.2 159.9h0M431.2 157.2h0M436.6 159.7h0M433.7 164.0h0M412.6 153.8h0M422.1 155.3h0M434.5 151.1h0M403.8 138.1h0M422.4 143.7h0M438.2 158.8h0M432.3 153.8h0M405.9 146.1h0M405.2 135.4h0M427.0 152.4h0M409.5 155.9h0M432.3 153.0h0M408.0 137.2h0M416.9 132.5h0M426.6 136.2h0M402.5 130.3h0M421.7 152.9h0M400.7 132.6h0M423.7 150.7h0M390.1 140.6h0M434.2 144.9h0M458.0 156.7h0M429.5 157.9h0M402.4 136.6h0M441.6 148.6h0M441.0 145.7h0M448.3 149.6h0M439.9 156.0h0M422.1 144.2h0M419.4 153.2h0M410.0 137.9h0M429.1 166.6h0M463.1 159.2h0M442.6 157.7h0M422.9 148.6h0M434.3 152.2h0M423.4 155.4h0M451.7 155.1h0M425.1 154.6h0M415.0 147.6h0M422.5 147.1h0M447.3 144.7h0M415.2 146.9h0M411.6 151.7h0M409.2 146.8h0M417.8 144.2h0M422.3 147.6h0M420.7 150.4h0M447.1 159.8h0M418.2 148.0h0M441.0 146.1h0M436.1 158.3h0M426.2 153.8h0M423.6 152.9h0M395.3 135.8h0M426.1 147.9h0M410.2 143.7h0M432.6 151.7h0M422.5 148.3h0M427.6 145.0h0M436.7 154.9h0M422.8 148.6h0M455.5 157.7h0M428.7 150.5h0M427.3 148.0h0M411.7 141.6h0M404.9 133.9h0M445.6 158.3h0M424.3 154.0h0M446.3 159.6h0M429.8 147.0h0M442.4 154.5h0M431.3 155.4h0M430.9 151.0h0M401.5 147.1h0M424.9 157.0h0M411.3 135.7h0M397.3 124.4h0M432.5 151.6h0M424.2 152.2h0M415.2 141.8h0M430.5 141.9h0M399.5 139.6h0M399.7 150.0h0M419.0 142.5h0M415.3 147.5h0M430.1 161.6h0M423.6 148.2h0M411.3 139.2h0M421.8 148.6h0M426.1 151.4h0M432.1 150.2h0M411.7 140.8h0M441.0 150.3h0M424.1 150.2h0M417.8 153.2h0M441.9 160.5h0M412.7 149.5h0M420.6 140.2h0M416.1 154.3h0M420.0 155.1h0M430.5 139.8h0M418.9 156.9h0M455.5 160.8h0M425.7 149.6h0M399.5 145.8h0M426.5 147.5h0M426.7 154.9h0M426.8 151.7h0M455.0 152.3h0M418.6 160.9h0M430.5 148.4h0M416.2 141.4h0M423.1 150.9h0M418.9 135.0h0M427.5 139.5h0M427.0 152.5h0M405.9 143.1h0M405.7 144.5h0M413.4 135.3h0M407.3 130.0h0M403.7 129.5h0M416.4 137.7h0M418.5 150.4h0M457.2 159.0h0M410.6 156.6h0M423.0 158.9h0M425.4 144.5h0M426.9 151.3h0M429.8 146.3h0M395.3 134.0h0M441.1 151.1h0M412.0 138.4h0M428.7 146.3h0M407.5 132.9h0M422.3 145.1h0M410.7 138.0h0M441.5 155.6h0M437.8 159.9h0M424.6 154.9h0M424.3 161.5h0M432.6 149.9h0M427.8 147.5h0M423.1 146.3h0M417.6 141.7h0M416.6 134.0h0M437.9 157.8h0M417.9 146.8h0M403.4 134.9h0M446.8 161.2h0M422.3 148.2h0M430.8 146.6h0M410.3 136.2h0M415.5 140.8h0M421.4 150.9h0M437.3 157.6h0M414.7 134.6h0M409.7 133.7h0M432.4 158.5h0M404.7 143.7h0M426.6 154.8h0M427.1 152.0h0M437.7 153.3h0M406.1 140.1h0M422.1 145.8h0M417.3 151.2h0M440.1 159.6h0M422.9 158.8h0M414.8 137.3h0M420.6 154.4h0M419.9 153.6h0M415.5 143.2h0M452.2 162.6h0M422.0 147.9h0M432.9 152.9h0M423.0 147.0h0M453.9 154.6h0M438.9 165.0h0M422.0 149.2h0M442.1 156.5h0M447.2 156.2h0M445.8 159.5h0M425.1 148.6h0M430.7 160.1h0M425.3 153.2h0M408.9 146.9h0M455.8 155.8h0M456.0 163.9h0M417.5 142.1h0M442.8 162.1h0M392.1 124.7h0M437.4 150.4h0M433.7 151.9h0M431.3 155.8h0M447.3 159.8h0M443.1 161.6h0M416.8 144.7h0M448.3 151.0h0M412.6 140.8h0M436.4 155.0h0M440.3 150.4h0M425.2 153.0h0M407.3 131.9h0M426.5 157.5h0M448.5 149.8h0M413.3 135.4h0M434.2 159.4h0M403.9 142.0h0M427.6 161.8h0M403.5 141.7h0M431.9 154.8h0M403.4 135.5h0M430.2 146.0h0" stroke="#de6db2" stroke-width="2.2" stroke-linecap="round"/>
<path d="M442.6 165.5h0M406.8 134.8h0M414.3 121.2h0M406.1 138.3h0M400.4 121.5h0M430.6 134.6h0M439.3 165.9h0M444.3 147.3h0M451.6 162.9h0M436.9 146.4h0M469.5 154.4h0M424.4 151.4h0M406.3 131.5h0M427.4 150.1h0M438.2 167.3h0M451.0 165.3h0M420.7 136.7h0M429.1 144.6h0M437.6 160.4h0M441.3 157.1h0M411.8 142.4h0M398.0 139.0h0M448.6 166.2h0M431.1 152.7h0M469.6 159.5h0M402.7 126.3h0M432.1 159.7h0M429.6 158.8h0M422.0 153.2h0M406.6 136.0h0M443.0 159.0h0M446.7 152.1h0M419.8 142.1h0M413.8 145.0h0M455.9 160.8h0M452.5 144.8h0M433.1 157.3h0M427.3 140.2h0M433.7 146.6h0M406.8 141.5h0M413.5 135.6h0M442.5 158.5h0M435.6 153.3h0M418.3 149.5h0M444.1 151.7h0M446.6 159.3h0M397.0 133.9h0M474.0 160.5h0M426.6 143.0h0M431.9 142.7h0M432.0 148.7h0M435.2 152.7h0M418.5 153.7h0M457.7 152.9h0M408.7 148.1h0M424.3 136.4h0M444.7 166.2h0M415.4 139.2h0M449.0 157.7h0M412.1 142.5h0M425.4 145.1h0M417.8 146.1h0M430.9 148.9h0M416.9 152.7h0M430.6 150.6h0M436.7 150.7h0M441.0 145.9h0M397.8 141.3h0M429.1 150.4h0M406.5 141.3h0M436.2 159.1h0M419.2 145.1h0M419.7 138.8h0M425.7 147.6h0M432.2 154.4h0M451.4 157.6h0M405.8 137.4h0M411.0 132.0h0M406.2 136.9h0M415.7 157.7h0M443.9 166.1h0M442.0 157.9h0M437.7 150.8h0M431.7 155.8h0M390.4 125.5h0M440.8 153.5h0M414.3 141.2h0M455.9 151.1h0M415.6 151.7h0M439.5 140.6h0M411.1 140.9h0M413.5 134.9h0M451.5 158.7h0M433.0 149.0h0M420.1 150.2h0M457.9 161.7h0M409.6 149.3h0M433.3 154.5h0M406.9 123.6h0M430.6 159.0h0M431.1 149.5h0M432.3 154.8h0M392.1 133.3h0M414.7 148.0h0M397.0 151.2h0M441.0 155.5h0M417.1 146.5h0M460.9 164.7h0M418.7 152.5h0M430.5 154.0h0M420.8 139.5h0M420.3 151.6h0M432.6 154.7h0M429.8 156.1h0M411.1 156.5h0M399.0 131.8h0M415.4 138.8h0M428.1 143.9h0M439.3 154.2h0M403.3 136.2h0M402.5 128.1h0M443.8 154.8h0M433.0 151.3h0M438.3 154.9h0M415.1 133.4h0M445.9 155.7h0M458.8 165.7h0M410.5 132.2h0M405.2 149.9h0M454.0 164.6h0M454.2 158.7h0M399.7 123.4h0M411.5 148.8h0M397.3 137.4h0M449.3 151.7h0M446.8 155.2h0M423.0 139.1h0M437.5 154.9h0M403.6 138.9h0M417.1 153.2h0M470.0 166.2h0M414.9 141.0h0M401.9 127.8h0M409.9 135.5h0M420.9 162.8h0M425.5 149.9h0M438.7 147.5h0M416.1 139.8h0M428.8 166.3h0M410.6 150.8h0M422.4 156.7h0M449.2 152.4h0M455.1 157.7h0M433.1 151.3h0M442.0 157.0h0M413.6 149.7h0M432.2 160.1h0M429.2 152.0h0M455.0 166.2h0M423.6 149.8h0M443.3 154.8h0M438.8 160.4h0M451.4 151.6h0M416.5 154.2h0M458.3 158.4h0M432.5 148.3h0M409.3 145.8h0M429.2 165.6h0M407.3 140.6h0M416.2 148.0h0M434.9 141.7h0M413.4 127.1h0M443.2 148.2h0M421.9 137.3h0M436.6 153.9h0M457.4 165.2h0M425.3 154.9h0M404.0 130.1h0M424.1 148.0h0M427.1 148.3h0M430.4 143.0h0M435.2 148.6h0M455.1 147.8h0M431.6 143.5h0M431.1 157.0h0M437.9 159.6h0M398.1 139.6h0M427.6 144.1h0M441.9 144.7h0M453.0 150.8h0M421.5 145.8h0M422.5 146.4h0M422.1 151.8h0M457.0 154.2h0M452.4 163.2h0M408.4 141.6h0M422.7 145.7h0M420.8 138.3h0M446.4 158.4h0M448.4 159.0h0M419.8 150.6h0M405.3 150.9h0M408.8 142.1h0M432.5 159.8h0M417.7 153.8h0M416.3 142.0h0M442.2 161.0h0M440.5 158.7h0M406.3 134.0h0M442.0 159.4h0M428.8 152.4h0M411.7 138.4h0M447.2 157.2h0M433.1 146.8h0M424.9 158.0h0M419.1 158.7h0M395.1 147.2h0M404.4 135.7h0M410.9 145.4h0M397.4 130.4h0M419.3 144.7h0M428.7 159.4h0M427.5 156.5h0M407.7 134.0h0M422.6 151.7h0M419.9 157.8h0M438.6 150.5h0M468.5 159.1h0M448.3 161.0h0M452.5 166.9h0M433.6 164.9h0M404.0 125.3h0M417.7 157.0h0M415.7 134.1h0M420.9 141.0h0M410.1 134.0h0M448.1 151.1h0M421.2 147.2h0M429.3 150.6h0M424.5 147.1h0M413.9 143.2h0M432.0 148.3h0M395.7 138.9h0M435.2 142.6h0M406.0 131.5h0M407.0 144.0h0M397.5 124.9h0M459.0 157.3h0M428.2 149.8h0M405.9 124.1h0M443.1 160.7h0M450.2 145.0h0M454.8 155.3h0M433.4 146.0h0M426.2 147.2h0M433.5 147.6h0M435.9 147.8h0M424.2 157.5h0M393.2 128.9h0M421.7 166.0h0M436.7 152.0h0M423.7 161.2h0M396.7 129.4h0M417.7 140.0h0M431.8 146.1h0M429.3 147.4h0M431.4 144.1h0M429.3 149.7h0M408.9 148.8h0M418.3 146.4h0M411.5 130.3h0M459.9 162.6h0M448.3 160.1h0M442.0 144.2h0M478.0 162.4h0M413.0 135.2h0M409.1 140.8h0M402.5 145.1h0M434.4 155.8h0M413.2 137.0h0M457.0 157.6h0M428.9 154.9h0M450.3 158.2h0M421.3 147.0h0M434.3 145.6h0M407.7 135.1h0M415.3 159.1h0M412.0 139.5h0M444.7 163.3h0M426.9 144.3h0M429.4 163.4h0M444.8 164.1h0M409.9 133.4h0M416.9 151.3h0M450.1 156.9h0M412.7 136.0h0M431.9 157.6h0M425.5 155.6h0M418.0 145.6h0M413.6 144.4h0M410.6 142.8h0M426.4 154.8h0M400.7 147.3h0M416.8 139.9h0M423.7 142.4h0M451.7 158.1h0M431.5 152.8h0M408.1 136.6h0M452.6 159.2h0M401.5 131.3h0M435.2 149.6h0M413.2 139.3h0M396.3 127.4h0M423.7 146.3h0M436.7 145.6h0M432.3 142.9h0M419.9 137.4h0M458.3 153.3h0M454.3 159.9h0M438.9 155.2h0M402.6 143.5h0M440.7 160.6h0M444.1 158.7h0M439.7 155.6h0M422.1 135.8h0" stroke="#de6db2" stroke-width="1.1" stroke-linecap="square"/>
<path d="M455.2 164.8h0M443.5 167.0h0M432.7 154.7h0M426.6 153.3h0M439.8 156.9h0M429.5 156.9h0M437.4 154.7h0M434.4 163.1h0M438.5 159.8h0M448.2 161.4h0M397.9 139.0h0M432.5 159.7h0M426.8 158.3h0M436.2 162.1h0M445.0 164.0h0M417.7 152.3h0M451.7 164.7h0M446.9 163.0h0M463.8 163.4h0M429.3 155.0h0M433.2 161.7h0M446.7 164.4h0M440.6 159.3h0M448.0 159.6h0M434.5 159.1h0M438.0 154.5h0M434.7 160.1h0M448.1 164.1h0M431.9 152.2h0M462.3 161.0h0M435.9 160.0h0M448.4 164.3h0M416.0 148.0h0M433.9 162.3h0M450.3 162.6h0M422.6 145.3h0M426.1 153.9h0M433.0 161.4h0M447.4 157.3h0M425.1 152.9h0M435.8 160.8h0M418.4 149.3h0M450.4 158.1h0M433.4 156.7h0M437.5 165.9h0M436.5 164.2h0M425.8 157.3h0M433.1 162.4h0M430.2 161.1h0M431.4 158.3h0M428.5 151.9h0M431.3 157.1h0M445.2 162.9h0M456.6 166.6h0M439.6 155.1h0M435.6 160.5h0M451.1 165.4h0M449.7 163.3h0M422.0 148.9h0M426.5 155.5h0M455.0 165.1h0M443.7 163.9h0M433.2 157.7h0M441.3 161.8h0M440.7 153.3h0M440.2 161.1h0M424.5 154.9h0M430.6 161.9h0M461.2 165.2h0M426.0 158.0h0M439.9 153.8h0M408.4 139.8h0M430.7 155.5h0M442.1 153.4h0M432.3 155.7h0M453.4 165.4h0M441.9 160.9h0M447.5 159.7h0M437.4 159.9h0M428.8 159.0h0M459.7 163.7h0M443.2 158.8h0M442.1 162.2h0M440.9 158.4h0M419.8 154.8h0M434.1 164.4h0M430.4 150.7h0M445.0 165.8h0M419.9 152.6h0M432.6 155.8h0M437.7 156.8h0M414.2 145.8h0M461.7 161.2h0M448.4 158.1h0M460.8 165.6h0M427.8 155.8h0M446.8 160.2h0M439.4 162.7h0M435.3 165.0h0M442.4 158.3h0M446.5 163.8h0M425.5 153.4h0M449.0 164.8h0M413.8 147.8h0M407.8 142.2h0M444.5 150.9h0M421.6 152.5h0M433.8 156.7h0M430.6 158.3h0M478.7 162.1h0M427.9 153.6h0M451.9 164.2h0M449.3 163.4h0M426.5 150.7h0M435.4 160.5h0M449.7 159.7h0M437.1 164.2h0M434.4 157.3h0M438.7 167.0h0M440.5 162.4h0M438.2 157.7h0M427.0 155.3h0M441.7 156.3h0M445.4 164.0h0M427.4 156.4h0M435.4 155.7h0M436.1 157.0h0M455.3 163.9h0M435.1 165.9h0M435.1 161.9h0M442.3 163.5h0M435.5 158.1h0M453.0 162.5h0M439.5 154.6h0M405.5 143.7h0M438.5 157.1h0M445.4 159.9h0M442.0 159.4h0M435.0 157.8h0M421.0 152.3h0M434.2 154.5h0M427.0 162.0h0M421.6 147.9h0M444.6 162.0h0M424.6 157.3h0M437.8 155.9h0M441.5 159.5h0M433.2 156.8h0M421.5 154.6h0M424.6 152.8h0M455.3 165.0h0M433.5 159.7h0M431.6 165.7h0M423.5 153.9h0M431.0 158.5h0M426.4 157.8h0M434.2 155.2h0M450.5 164.2h0M437.2 159.4h0M445.1 162.6h0M419.9 157.8h0M452.2 162.8h0M435.1 156.5h0M458.6 164.3h0M450.5 158.3h0" stroke="#d5b1dc" stroke-width="2.2" stroke-linecap="round"/>
<path d="M427.5 163.8h0M463.1 162.5h0M416.9 145.0h0M428.9 146.7h0M439.2 164.1h0M465.9 163.4h0M418.2 154.1h0M415.8 150.4h0M433.2 155.0h0M447.9 166.0h0M434.8 164.7h0M424.2 154.4h0M453.0 164.2h0M463.5 167.3h0M421.0 151.1h0M422.9 152.8h0M422.1 153.8h0M446.4 163.2h0M442.0 154.7h0M424.7 151.3h0M432.1 164.0h0M450.5 159.9h0M433.2 156.7h0M444.3 164.4h0M421.8 152.0h0M468.7 166.7h0M426.8 165.7h0M408.2 139.9h0M414.0 150.7h0M432.6 159.9h0M443.1 159.2h0M419.3 150.4h0M438.3 153.5h0M443.2 161.5h0M426.2 160.0h0M440.6 158.4h0M453.8 166.3h0M455.3 161.5h0M438.5 155.7h0M439.6 163.0h0M449.7 160.6h0M425.6 157.3h0M429.7 164.1h0M441.6 157.9h0M419.5 145.0h0M427.8 149.1h0M446.8 158.9h0M456.2 166.3h0M456.6 163.9h0M460.4 163.4h0M416.6 148.0h0M433.8 158.6h0M433.2 154.3h0M425.4 158.6h0M455.5 162.8h0" stroke="#d5b1dc" stroke-width="1.1" stroke-linecap="square"/>
<path d="M399.8 122.4h0M394.4 139.5h0M394.4 135.2h0M390.7 126.9h0M404.4 137.5h0M397.6 140.0h0M407.8 131.9h0M398.0 137.7h0M390.3 129.5h0M403.3 132.7h0M401.5 139.9h0M398.1 138.4h0M394.0 122.2h0M397.5 142.4h0M395.8 136.9h0M397.6 135.5h0M403.2 144.3h0M394.8 133.1h0M391.3 139.9h0M392.0 133.0h0M399.0 131.3h0M395.5 137.6h0M392.4 129.1h0M407.7 133.6h0M396.8 140.4h0M395.3 151.1h0M399.0 150.7h0M399.2 135.4h0M394.7 144.9h0M393.1 134.5h0M395.9 146.2h0M406.8 128.7h0M398.3 128.1h0M393.3 124.0h0M393.8 141.6h0M406.9 151.4h0M402.1 126.5h0M390.8 140.4h0M397.9 124.0h0M398.9 136.9h0M402.0 133.9h0M406.2 122.8h0M396.1 135.9h0M402.9 120.0h0M396.3 132.6h0M400.6 139.4h0M393.9 137.1h0M403.9 123.7h0M391.8 152.8h0M392.4 136.6h0M404.9 123.1h0M393.4 145.0h0M400.2 130.5h0M399.9 136.6h0M405.1 139.1h0M395.8 126.4h0M397.8 122.8h0M392.2 132.9h0M404.0 136.7h0M400.2 132.7h0M408.6 133.2h0M397.6 121.6h0M390.3 134.0h0M405.2 130.5h0M400.0 139.2h0M399.6 138.0h0M391.6 143.7h0M391.1 142.0h0M398.5 139.8h0M396.0 146.4h0M399.9 136.1h0M394.2 132.4h0M395.5 120.5h0M400.3 130.2h0M393.1 124.7h0M398.5 141.6h0M397.4 143.4h0M401.5 132.7h0M393.9 146.6h0M403.7 126.9h0M400.7 146.4h0M393.6 135.2h0M402.6 138.4h0M410.7 142.9h0M398.4 144.7h0M393.7 137.4h0M407.4 130.6h0M398.5 135.1h0M392.6 137.2h0M392.5 149.0h0M397.9 126.7h0M397.2 132.0h0M392.9 131.6h0M394.7 134.8h0M399.0 129.1h0M396.8 127.2h0M396.7 139.7h0M393.0 134.5h0M397.2 138.9h0M396.9 144.8h0M407.3 144.6h0M405.8 143.0h0M398.9 126.1h0M398.7 129.1h0M397.5 144.3h0M398.0 137.0h0M391.2 137.0h0M397.7 140.9h0M400.0 124.9h0M394.5 127.5h0M398.3 138.8h0M397.1 146.0h0M407.1 154.9h0M399.4 131.0h0M395.4 131.6h0M393.1 149.0h0M394.4 139.9h0M402.6 158.1h0M390.8 132.6h0M405.4 141.0h0M403.5 131.0h0M396.0 131.2h0M394.5 124.8h0M390.4 135.5h0M402.6 133.8h0M400.4 129.9h0M393.3 131.7h0M397.1 131.0h0M395.9 143.3h0M397.4 135.6h0M401.5 131.8h0M391.5 126.9h0M392.3 131.4h0M399.0 146.6h0M402.4 142.9h0M400.7 124.5h0M398.2 138.6h0M393.7 128.7h0M400.7 123.0h0M396.7 138.2h0M404.1 137.4h0M408.0 131.2h0M397.9 140.9h0M393.8 127.6h0M395.0 144.2h0M397.9 130.1h0M398.0 142.5h0M396.9 145.3h0M392.1 138.3h0M396.0 151.9h0M399.0 135.3h0M400.9 136.9h0M403.6 140.3h0M406.0 138.1h0M403.6 128.4h0M402.0 134.7h0M394.6 147.3h0M401.1 137.9h0M405.5 143.3h0M399.5 129.6h0M401.4 147.9h0M398.3 140.9h0M402.0 137.6h0M394.6 124.8h0M396.1 150.8h0M406.2 130.0h0M391.0 139.8h0M395.5 140.9h0M397.8 142.9h0M394.0 146.7h0M391.9 136.7h0M404.3 135.0h0M396.1 131.7h0M403.9 134.5h0M398.8 128.1h0M395.3 133.6h0M406.8 130.0h0M393.7 135.0h0M396.5 129.8h0M390.5 134.7h0M397.7 135.4h0M403.3 125.4h0M411.2 132.3h0M394.8 137.7h0M399.1 137.6h0M391.5 126.2h0M403.5 129.3h0M391.3 155.5h0M390.9 141.0h0M390.4 135.3h0M393.5 138.3h0M398.2 136.8h0M401.3 135.1h0M398.2 128.8h0M404.6 139.3h0M392.4 138.0h0M401.2 136.0h0M401.2 130.6h0M391.4 124.7h0M396.8 136.8h0M411.4 145.8h0M400.0 129.5h0M399.0 133.0h0M400.6 127.0h0M400.7 136.0h0M401.9 124.5h0M396.8 143.8h0M396.5 130.2h0M400.0 134.3h0M404.9 137.5h0M391.0 133.3h0M404.0 144.5h0M398.0 140.6h0M398.2 133.1h0M394.8 125.5h0M395.0 121.8h0M397.4 136.9h0M394.8 134.9h0M400.3 123.7h0M391.6 131.4h0M392.4 127.7h0M393.9 130.1h0M399.7 126.1h0M395.9 126.4h0M396.4 138.6h0M397.9 146.0h0M394.8 131.3h0M409.8 138.4h0M398.6 125.5h0M392.4 127.6h0M402.3 158.4h0M400.7 130.7h0M390.8 123.0h0M398.7 135.7h0M391.0 140.7h0M408.7 151.0h0M399.5 130.7h0M400.0 127.7h0M394.4 123.5h0M401.8 140.1h0" stroke="#9b0c4f" stroke-width="2.2" stroke-linecap="round"/>
<path d="M404.5 139.6h0M402.7 134.1h0M396.9 120.9h0M399.8 145.8h0M397.8 141.5h0M398.1 139.1h0M397.1 136.4h0M393.4 146.1h0M396.0 125.5h0M401.6 131.6h0M403.6 143.4h0M407.7 127.7h0M401.8 130.4h0M396.8 124.7h0M398.8 152.4h0M404.9 120.2h0M396.9 147.2h0M405.0 120.2h0M399.9 131.4h0M396.2 140.4h0M401.8 150.6h0M395.6 122.0h0M399.7 132.2h0M399.7 121.6h0M390.6 130.8h0M408.4 130.3h0M391.5 122.8h0M394.0 136.1h0M397.3 145.0h0M393.6 153.2h0M396.8 139.5h0M399.4 125.9h0M398.5 134.9h0M390.8 126.7h0M401.1 139.7h0M401.7 123.1h0M401.7 131.5h0M395.2 121.4h0M398.1 129.6h0M403.8 150.6h0M399.9 136.4h0M402.8 137.4h0M390.6 162.9h0M393.2 132.2h0M396.8 139.6h0M402.1 120.7h0M397.0 128.6h0M396.5 132.7h0M392.5 138.3h0M401.4 128.7h0M405.2 129.7h0M398.6 128.2h0M394.7 135.7h0M393.7 122.9h0M395.1 126.5h0M394.1 130.5h0M394.3 137.1h0M396.2 125.9h0M396.5 142.4h0M402.2 147.4h0M391.0 132.4h0M393.4 134.7h0M397.6 121.2h0M408.4 136.0h0M391.3 126.7h0M405.7 126.9h0M391.5 141.7h0M391.2 134.6h0M391.0 138.1h0M396.2 141.9h0M404.6 152.4h0M396.5 142.2h0M392.8 139.6h0M395.6 143.6h0M397.5 135.4h0M400.6 143.1h0M390.9 136.0h0M402.2 131.9h0M401.3 125.1h0M404.4 142.8h0" stroke="#9b0c4f" stroke-width="1.1" stroke-linecap="square"/>
<path d="M404.4 129.1h0M405.5 143.5h0M394.2 130.5h0M398.1 122.3h0M407.6 120.2h0M396.9 131.8h0M403.6 120.9h0M397.6 141.7h0M392.8 129.2h0M400.1 122.4h0M414.6 139.3h0M407.5 130.8h0M394.1 128.2h0M401.3 136.5h0M398.9 136.9h0M399.4 137.9h0M407.8 131.6h0M398.4 125.4h0M404.9 139.9h0M393.4 122.3h0M398.2 127.2h0M396.7 126.4h0M390.3 140.9h0M395.7 131.3h0M400.1 138.6h0M404.0 143.5h0M401.7 129.8h0M399.1 133.7h0M405.5 125.5h0M404.1 135.6h0M391.8 133.3h0M398.0 129.3h0M391.4 123.2h0M394.8 125.2h0M402.9 125.8h0M393.2 133.6h0M394.0 140.2h0M398.9 128.9h0M401.2 134.3h0M395.0 129.9h0M395.9 123.0h0M400.1 130.5h0M405.6 143.3h0M405.8 125.8h0M406.8 130.1h0M399.3 131.3h0M402.5 140.8h0M395.7 119.8h0M405.2 146.3h0M390.5 124.2h0M405.2 129.0h0M397.5 125.2h0M395.6 127.3h0M406.1 138.4h0M400.5 133.3h0M403.0 136.1h0M410.7 132.2h0M400.3 124.5h0M412.7 126.2h0M395.6 137.4h0M395.0 120.6h0M405.2 129.7h0M410.2 134.1h0M402.0 126.1h0M402.5 132.1h0M399.7 127.4h0M400.9 132.6h0M408.3 137.3h0M400.9 145.0h0M408.0 134.1h0M398.7 120.5h0M414.0 137.6h0M392.2 137.0h0M405.4 137.2h0M399.6 128.8h0M411.4 135.3h0M399.3 138.1h0M396.6 132.6h0M409.4 133.8h0M399.4 131.0h0M405.0 129.6h0M401.7 131.4h0M391.2 126.4h0M401.1 144.7h0M399.1 133.5h0M397.4 129.0h0M407.8 129.9h0M402.2 128.5h0M397.1 133.1h0M396.2 122.1h0M413.8 138.7h0M403.3 125.3h0M395.5 126.0h0M405.7 127.9h0M402.1 138.0h0M392.1 129.2h0M403.6 121.5h0M404.9 124.4h0M390.8 125.8h0M396.3 129.7h0M409.0 121.9h0M402.0 123.8h0M406.4 129.9h0M397.9 128.8h0M409.0 136.6h0M395.6 120.3h0M406.2 137.1h0M400.6 127.2h0M402.8 133.9h0M409.4 135.0h0M405.9 131.3h0M398.9 126.4h0M398.5 132.3h0M407.9 131.3h0M409.8 121.4h0M398.2 122.1h0M396.8 121.7h0M393.4 120.7h0M403.2 138.1h0M397.6 128.9h0M399.5 133.9h0M402.6 129.8h0M391.6 133.2h0M401.7 130.8h0M397.1 134.3h0M399.5 127.8h0M394.1 135.0h0M391.5 138.0h0M400.6 128.4h0M405.2 130.6h0M401.1 122.9h0M398.0 130.3h0M404.1 134.5h0M406.5 142.8h0M393.5 128.2h0M401.4 126.7h0M395.2 129.9h0M407.9 135.8h0M397.0 132.6h0M400.7 133.5h0M392.2 131.5h0M404.1 139.2h0M399.8 123.6h0M396.1 132.1h0M405.7 129.5h0M401.2 137.9h0M395.4 135.2h0M398.7 138.4h0M399.4 122.9h0M404.0 130.2h0M390.9 131.5h0M397.9 128.5h0M390.1 131.4h0M395.9 128.4h0M401.3 137.2h0M397.2 123.0h0M393.7 122.5h0M400.4 129.0h0M405.4 132.3h0M406.0 124.1h0M397.8 132.1h0M406.1 132.4h0M407.9 123.6h0M390.4 127.7h0M408.0 124.8h0M406.7 126.5h0M410.5 129.5h0M399.9 133.5h0M399.2 132.9h0M395.5 121.4h0M414.6 135.5h0M399.8 124.0h0M403.2 143.8h0M395.7 126.2h0M401.9 129.5h0M410.0 121.7h0M404.7 136.3h0M397.8 130.9h0M394.9 128.7h0M401.1 141.2h0" stroke="#de2079" stroke-width="2.2" stroke-linecap="round"/>
<path d="M403.0 132.7h0M401.9 128.9h0M393.5 134.4h0M396.0 131.1h0M404.3 137.8h0M413.6 153.1h0M394.1 138.4h0M404.4 128.6h0M413.2 137.3h0M401.7 129.8h0M399.6 138.0h0M407.3 136.4h0M408.9 132.5h0M403.4 130.4h0M401.0 129.4h0M390.5 146.7h0M406.0 136.2h0M399.3 125.3h0M398.7 121.7h0M405.1 131.5h0M391.2 133.0h0M398.4 129.6h0M395.1 125.3h0M399.2 136.1h0M394.3 121.3h0M414.9 152.5h0M408.4 133.0h0M401.9 134.7h0M402.0 147.2h0M407.3 127.8h0M391.4 146.4h0M406.4 133.5h0M401.0 130.8h0M392.1 132.4h0M404.8 132.9h0M408.6 121.3h0M397.1 139.1h0M398.6 136.2h0M399.0 126.8h0M402.3 131.5h0M396.4 136.5h0M398.1 130.1h0M416.5 123.4h0M400.9 148.2h0M391.3 126.4h0M401.3 120.3h0M391.6 140.9h0M392.6 127.1h0M405.7 136.5h0M404.9 140.5h0M397.9 124.1h0M394.0 130.0h0M401.1 127.4h0M404.0 134.0h0M407.7 129.3h0M395.5 123.8h0M399.4 131.3h0M406.3 127.7h0M402.9 123.3h0M409.1 131.7h0" stroke="#de2079" stroke-width="1.1" stroke-linecap="square"/>
<path d="M446.2 166.6h0M451.3 162.2h0M451.6 162.2h0M462.2 162.8h0M453.4 162.1h0M439.4 155.7h0M446.7 159.9h0M471.7 154.6h0M436.0 159.3h0M442.7 160.2h0M450.5 160.0h0M435.4 159.9h0M435.3 158.4h0M427.3 157.4h0M448.9 156.5h0M448.6 163.7h0M430.5 158.2h0M442.4 160.3h0M448.9 157.6h0M444.0 161.9h0M459.9 164.2h0M433.5 161.3h0M465.7 165.1h0M448.2 166.6h0M437.6 159.8h0M446.8 163.0h0M460.6 162.4h0M466.6 157.2h0M461.2 163.2h0M434.8 160.5h0M445.2 164.4h0M439.3 159.5h0M425.5 157.5h0M444.7 162.8h0M454.5 162.2h0M450.5 162.1h0M446.3 163.7h0M442.7 162.1h0M453.5 163.2h0M414.4 147.7h0M446.7 162.0h0M451.0 162.9h0M450.2 161.3h0M450.8 165.7h0M444.0 160.6h0M449.2 164.2h0M463.4 163.6h0M453.6 166.3h0M452.8 162.6h0M452.8 163.4h0M460.9 164.3h0M438.3 160.0h0M459.0 165.1h0M451.0 163.5h0M443.0 159.6h0M433.3 157.4h0M450.4 164.6h0M442.3 161.0h0M430.6 154.3h0M439.5 161.0h0M442.6 158.2h0M445.0 162.1h0M448.3 161.7h0M441.5 157.3h0M461.4 163.9h0M445.8 164.2h0M445.6 160.6h0M441.6 162.1h0M445.8 163.3h0M465.5 160.4h0M441.3 160.9h0M457.7 163.1h0M448.2 162.0h0M445.8 157.9h0M444.7 159.1h0M456.2 161.5h0M434.8 158.8h0M444.0 159.3h0M451.1 164.2h0M459.4 164.5h0M420.1 147.9h0M444.7 160.0h0M449.3 163.5h0M462.4 165.2h0M444.8 162.0h0M443.8 159.7h0M442.9 158.9h0M448.9 165.1h0M452.7 161.8h0M442.4 161.7h0M459.5 156.8h0M442.9 162.4h0M442.2 159.5h0M444.5 158.6h0M444.3 162.2h0M436.3 163.0h0M427.3 155.6h0M443.9 158.0h0M439.7 160.8h0M445.2 162.2h0M449.4 161.0h0M442.2 161.5h0M455.0 161.2h0M441.3 159.8h0M458.7 167.5h0M451.6 165.0h0M455.6 164.2h0M434.7 157.7h0M441.4 158.0h0M454.9 160.9h0M450.4 161.1h0M454.6 165.4h0M430.6 153.4h0M446.4 163.5h0M469.8 162.4h0M443.2 157.6h0M439.0 160.7h0M465.6 157.3h0M447.0 161.5h0M450.3 163.3h0M458.2 160.6h0M455.1 165.0h0M454.5 161.9h0M449.3 165.6h0M449.8 160.9h0M448.8 166.5h0M437.4 159.3h0M450.1 162.9h0M446.8 165.0h0M441.2 163.6h0M457.6 163.8h0M442.7 160.8h0M450.2 164.4h0M427.9 152.3h0M437.5 161.7h0M451.0 162.2h0M471.5 163.5h0M456.5 163.6h0M459.7 160.9h0M430.4 154.8h0M454.1 163.9h0M462.0 161.8h0M437.7 155.1h0M450.6 165.2h0M455.6 161.7h0M456.5 163.2h0M454.7 165.6h0M443.5 162.7h0M443.3 161.3h0M445.7 160.0h0M442.1 159.5h0M446.2 162.3h0M419.0 150.5h0M434.5 159.6h0M432.1 156.6h0M447.6 162.4h0M455.6 161.8h0M441.7 160.9h0M451.7 161.8h0M444.8 166.0h0M455.5 164.7h0M474.9 156.6h0M440.6 161.0h0M451.4 160.1h0M454.6 164.4h0M442.4 164.9h0M445.5 162.6h0M442.3 159.8h0M447.3 165.1h0M453.6 164.6h0M448.1 158.5h0M450.2 162.2h0M452.8 167.4h0M428.6 160.2h0M448.5 162.1h0M448.1 161.1h0M456.9 163.7h0M459.1 161.8h0M442.9 156.5h0M456.9 160.6h0M467.3 166.1h0M452.3 163.7h0M460.0 163.5h0M448.3 165.3h0M446.6 160.5h0M439.5 160.8h0M444.1 161.3h0M442.7 160.8h0M457.8 164.9h0M470.0 165.6h0M432.9 155.2h0M437.9 162.5h0M449.6 157.0h0M433.9 159.6h0M436.4 159.6h0M465.5 166.2h0M460.2 165.4h0M453.2 162.3h0M437.9 161.7h0M457.6 159.4h0M451.1 164.0h0M461.2 165.2h0M451.3 166.1h0M436.4 159.0h0M455.7 165.3h0M454.1 163.0h0M449.6 164.7h0M430.7 159.1h0M460.4 163.5h0M452.4 163.5h0M442.1 161.3h0M441.9 162.4h0M470.8 161.7h0M458.6 164.3h0M452.7 166.8h0M449.1 160.0h0M451.4 161.6h0M446.3 162.8h0M465.0 162.8h0M446.4 161.1h0M441.0 158.3h0M438.6 159.7h0M453.3 163.4h0M463.8 163.6h0M467.5 166.4h0" stroke="#fbc3c3" stroke-width="2.2" stroke-linecap="round"/>
<path d="M449.5 163.0h0M456.6 163.6h0M462.3 160.8h0M435.0 159.8h0M423.9 155.8h0M434.9 160.7h0M444.7 164.5h0M467.7 158.8h0M453.5 160.1h0M422.0 156.6h0M440.2 158.4h0M458.7 163.3h0M446.1 160.7h0M448.2 160.7h0M465.2 165.5h0M424.6 157.1h0M469.4 165.1h0M453.0 165.0h0M448.9 157.9h0M457.5 163.5h0M438.7 158.9h0M455.9 166.0h0M445.6 165.6h0M427.1 155.4h0M471.8 165.9h0M444.0 161.1h0M444.7 162.6h0M428.2 159.2h0M443.8 162.6h0M438.9 163.6h0M425.0 157.4h0M443.4 158.1h0M444.5 159.2h0M438.3 157.3h0M457.4 160.9h0M448.4 158.8h0M461.3 165.2h0M446.5 161.2h0M449.8 166.4h0M433.6 156.1h0M463.7 162.3h0M453.0 161.1h0M454.9 164.9h0M476.9 159.7h0M459.2 162.1h0M435.7 166.2h0M439.5 156.1h0M417.0 146.2h0M467.3 164.8h0M465.3 159.6h0M450.7 162.3h0M430.9 156.0h0M436.9 160.5h0M448.0 165.4h0M445.3 151.6h0M444.9 162.4h0M455.6 162.2h0M458.3 158.0h0M459.4 159.8h0M458.6 162.4h0M468.5 159.9h0M450.0 165.7h0M446.5 166.7h0M442.5 160.0h0M467.0 166.4h0M422.9 153.4h0M438.9 153.5h0M464.7 163.7h0M444.9 166.3h0M434.8 157.9h0M443.6 164.5h0M448.1 164.0h0M449.2 161.4h0M440.4 158.6h0M450.6 160.6h0" stroke="#fbc3c3" stroke-width="1.1" stroke-linecap="square"/>
<path d="M391.0 135.7C391.5 135.3 391.7 133.0 394.0 133.4C396.3 133.8 401.5 136.1 405.0 138.0C408.5 139.9 411.7 142.6 415.0 145.0C418.3 147.4 421.7 150.7 425.0 152.5C428.3 154.3 431.7 155.0 435.0 156.0C438.3 157.0 441.7 157.8 445.0 158.5C448.3 159.2 451.7 159.9 455.0 160.3C458.3 160.7 462.2 160.9 465.0 160.8C467.8 160.7 469.5 160.4 472.0 159.5C474.5 158.6 478.7 156.2 480.0 155.6" fill="none" stroke="#111" stroke-width="1.10"/>
<path d="M419.1 240.5h0M406.0 242.0h0M415.8 237.7h0M400.3 244.0h0M416.4 237.4h0M420.3 238.1h0M429.9 238.3h0M415.0 238.0h0M424.2 239.9h0M421.4 241.2h0M417.9 240.2h0M416.3 239.3h0M419.4 243.6h0M407.3 238.5h0M420.6 236.3h0M422.0 241.8h0M428.0 234.2h0M405.8 235.4h0M412.6 241.6h0M400.0 237.6h0M409.0 239.3h0M406.2 237.1h0M400.6 241.0h0M402.7 243.8h0M434.4 230.3h0M427.9 235.2h0M407.9 239.4h0M418.0 239.8h0M409.0 238.4h0M403.6 240.5h0M427.3 240.0h0M396.7 242.9h0M412.4 239.7h0M401.8 240.0h0M413.2 242.7h0M401.7 242.6h0M423.7 240.4h0M413.0 238.8h0M417.5 243.2h0M420.4 239.7h0M430.7 237.6h0M422.8 235.7h0M411.7 239.4h0M407.4 239.9h0M410.2 236.7h0M413.3 239.8h0M395.5 244.6h0M413.4 236.2h0M422.7 238.5h0M398.6 241.5h0M414.7 235.8h0M404.8 244.2h0M410.5 241.8h0M424.3 237.7h0M400.1 240.8h0M418.4 243.8h0M401.7 241.8h0M422.3 236.7h0M427.8 241.2h0M427.3 241.9h0M419.6 237.1h0M422.1 241.7h0M405.5 241.1h0M416.0 238.2h0M429.9 239.9h0M405.0 235.0h0M419.1 239.8h0M417.6 242.6h0M403.2 240.0h0M415.0 239.0h0M408.0 239.9h0M407.5 238.8h0M409.0 242.9h0M421.5 240.5h0M415.9 237.9h0M407.1 239.4h0M414.3 243.3h0M407.3 241.5h0M415.5 234.9h0M405.0 240.9h0M399.8 242.6h0M409.0 242.1h0M427.0 237.9h0M411.1 241.4h0M408.8 238.3h0M404.6 240.2h0M402.6 234.5h0M408.2 238.6h0M424.2 236.6h0M417.8 236.7h0M412.1 241.0h0M421.9 240.7h0M401.4 243.0h0M428.4 240.0h0M411.1 240.2h0M404.7 240.1h0M416.4 237.7h0M422.0 240.5h0M419.5 237.9h0M399.2 240.3h0M412.8 236.8h0M406.5 243.4h0M419.6 238.2h0M423.9 242.0h0M419.4 239.3h0M400.8 242.9h0M412.9 233.8h0M411.2 238.9h0M414.0 239.5h0M399.1 240.8h0M414.6 238.7h0M417.2 242.9h0M417.9 239.8h0M409.5 242.5h0M406.2 244.4h0M415.9 237.2h0M410.9 240.9h0M409.6 238.5h0M417.5 240.2h0M403.0 241.6h0M424.2 240.6h0M414.4 240.5h0M398.0 243.4h0M410.7 239.9h0M429.5 237.0h0M423.1 240.4h0M414.2 233.9h0" stroke="#de2079" stroke-width="2.2" stroke-linecap="round"/>
<path d="M411.8 239.1h0M423.5 237.7h0M397.7 238.1h0M427.5 235.2h0M406.3 235.0h0M413.5 239.2h0M400.1 242.7h0M406.6 241.5h0M421.3 238.5h0M419.2 237.0h0M422.4 232.2h0M410.8 240.0h0M397.3 240.8h0M410.6 237.0h0M415.9 237.5h0M426.6 234.2h0M424.8 242.3h0M405.5 244.2h0M422.7 235.2h0M412.5 241.7h0M415.0 241.6h0M401.1 244.2h0M435.8 234.9h0M397.5 242.0h0M431.4 241.2h0M416.4 238.5h0M412.3 242.8h0M406.7 240.9h0M431.1 240.8h0M435.1 242.4h0M408.9 242.0h0M429.5 233.5h0M407.4 238.8h0M404.8 236.3h0M414.6 237.8h0M429.4 237.3h0M395.1 238.0h0M412.2 232.3h0M406.3 232.8h0M416.3 233.2h0M401.5 243.2h0M411.3 239.8h0M418.2 236.5h0" stroke="#de2079" stroke-width="1.1" stroke-linecap="square"/>
<path d="M418.2 239.2h0M428.3 215.3h0M437.3 216.5h0M430.4 233.8h0M453.0 223.4h0M435.4 204.5h0M448.1 211.4h0M440.5 218.8h0M434.0 228.2h0M439.3 218.4h0M425.5 227.9h0M443.8 198.1h0M431.3 222.1h0M448.7 226.9h0M425.2 220.2h0M429.9 224.8h0M431.4 214.6h0M442.1 200.2h0M453.0 210.5h0M437.4 224.2h0M450.8 227.7h0M447.8 223.7h0M445.9 235.4h0M450.3 224.0h0M469.3 228.9h0M437.3 222.5h0M419.4 223.0h0M443.5 212.6h0M444.5 222.2h0M439.4 225.0h0M449.4 221.1h0M440.7 226.5h0M441.3 210.6h0M452.6 226.9h0M453.7 220.8h0M419.8 231.7h0M417.8 231.4h0M444.8 217.3h0M430.5 221.4h0M436.0 206.1h0M436.3 221.4h0M435.4 206.4h0M457.7 217.9h0M441.4 228.1h0M440.1 214.2h0M428.3 212.8h0M447.8 204.7h0M443.0 211.6h0M433.0 218.8h0M442.7 212.9h0M444.2 215.5h0M442.7 205.8h0M462.9 231.6h0M459.0 218.3h0M457.4 217.1h0M420.9 232.4h0M442.4 211.3h0M432.5 227.4h0M427.2 230.0h0M449.5 217.9h0M433.8 212.1h0M444.6 220.9h0M434.2 219.7h0M441.7 223.5h0M447.7 221.6h0M444.4 207.0h0M449.0 221.6h0M439.6 228.4h0M440.6 208.6h0M447.0 214.2h0M456.6 226.4h0M447.7 228.6h0M454.3 230.6h0M439.2 217.8h0M445.2 206.2h0M451.4 224.6h0M462.2 223.6h0M453.2 218.0h0M446.1 218.2h0M445.5 216.1h0M450.7 205.7h0M451.7 218.6h0M436.6 205.5h0M452.2 212.3h0M459.4 228.3h0M429.7 217.5h0M442.3 221.7h0M451.7 208.5h0M429.9 225.8h0M429.1 222.1h0M442.9 215.9h0M443.7 224.0h0M433.3 231.3h0M435.8 214.8h0M438.9 224.1h0M440.4 241.9h0M427.8 228.4h0M428.4 211.8h0M440.4 221.1h0M440.0 211.9h0M433.8 223.1h0M435.3 233.3h0M434.6 226.8h0M438.4 211.0h0M447.5 212.3h0M443.3 211.1h0M447.2 224.6h0M437.8 222.2h0M434.8 218.0h0M437.1 217.6h0M457.7 228.0h0M434.2 222.1h0M451.1 212.0h0M440.9 226.3h0M457.7 217.8h0M457.1 212.1h0M445.3 207.7h0M446.8 215.0h0M444.9 224.9h0M451.5 223.1h0M459.9 214.8h0M448.6 220.0h0M452.3 204.9h0M428.6 230.6h0M451.3 219.1h0M453.7 215.2h0M447.3 218.2h0M466.5 226.6h0M451.8 216.4h0M458.5 226.2h0M438.8 211.8h0M448.6 207.5h0M435.9 233.6h0M442.0 225.1h0M454.1 222.4h0M419.6 232.2h0M438.0 221.9h0M437.9 200.9h0M443.8 216.2h0M428.0 224.5h0M439.7 230.2h0M447.6 233.2h0M447.3 215.1h0M446.6 218.3h0M446.4 222.0h0M452.5 223.9h0M451.1 213.8h0M441.4 218.3h0M430.4 222.1h0M445.1 228.2h0M452.1 219.9h0M440.2 213.1h0M454.5 218.5h0M451.1 223.0h0M424.9 225.3h0M448.5 212.8h0M447.9 234.3h0M433.0 220.7h0M432.0 214.2h0M432.1 219.8h0M459.5 215.8h0M452.3 208.6h0M441.0 210.5h0M437.0 228.3h0M436.8 230.4h0M437.9 220.1h0M426.7 230.3h0M440.3 224.5h0M431.5 222.7h0M448.1 221.7h0M434.7 214.3h0M446.4 213.4h0M451.2 210.8h0M440.7 213.6h0M453.6 223.8h0M425.0 222.7h0M444.8 231.9h0M432.7 218.9h0M439.5 200.9h0M425.1 225.7h0M447.2 235.2h0M445.6 206.0h0M442.7 210.7h0M441.9 223.2h0M427.4 227.6h0M441.4 225.9h0M431.8 203.0h0M460.7 222.4h0M455.7 212.3h0M437.7 221.2h0M454.8 219.3h0M443.9 221.2h0M433.9 214.0h0M448.3 220.8h0M444.0 241.6h0M458.5 232.9h0M435.3 212.1h0M441.6 218.6h0M459.9 207.4h0M432.6 216.9h0M451.2 214.0h0M428.4 230.0h0M463.7 221.2h0M434.6 219.0h0M438.3 222.8h0M445.1 211.6h0M454.8 224.5h0M463.4 219.6h0M427.6 233.8h0M423.9 229.2h0M454.5 229.7h0M451.4 218.8h0M444.7 215.2h0M447.7 213.1h0M428.6 223.8h0M443.9 224.2h0M441.5 211.2h0M465.7 227.6h0M443.2 222.8h0M428.3 226.5h0M448.2 220.7h0M441.4 211.1h0M443.8 213.9h0M440.5 221.8h0M443.7 216.5h0M429.3 219.3h0M448.7 219.6h0M447.0 221.4h0M438.2 220.4h0M439.2 224.0h0M434.5 215.1h0M431.6 222.9h0M450.2 210.6h0M448.0 217.1h0M437.2 221.0h0M444.9 214.4h0M456.8 229.4h0M446.6 218.6h0M444.4 212.5h0M446.8 232.6h0M452.5 206.8h0M447.5 222.3h0M456.9 221.5h0M438.3 217.7h0M433.7 223.9h0M458.2 215.8h0M429.6 220.3h0M457.5 225.2h0M434.2 217.2h0M436.5 218.5h0M460.2 230.0h0M438.0 209.9h0M440.5 226.8h0M441.4 206.2h0M440.0 211.2h0M450.7 221.6h0M450.0 222.0h0M445.3 218.0h0M448.4 233.8h0M435.4 219.5h0M445.2 233.9h0M430.3 230.7h0M455.8 225.4h0M455.6 206.6h0M447.2 206.5h0M453.1 217.0h0M447.2 240.3h0M436.6 216.5h0M430.5 228.0h0M436.4 223.2h0M431.8 229.1h0M443.6 212.6h0M442.3 226.8h0M447.7 225.8h0M421.3 231.2h0M442.3 232.3h0M454.4 232.0h0M442.5 212.9h0M446.0 219.7h0M449.3 205.4h0M446.9 215.9h0M448.1 218.3h0M425.5 234.0h0M447.6 222.6h0M439.0 230.2h0M429.7 228.7h0M448.8 225.2h0M446.8 221.4h0M448.2 217.7h0M456.8 205.6h0M433.4 218.6h0M434.2 216.5h0M451.0 209.2h0M432.7 239.0h0M441.1 228.0h0M453.8 220.5h0M435.4 218.6h0M441.6 212.1h0M433.4 235.4h0M459.0 225.4h0M447.3 214.9h0M466.1 228.3h0M460.9 230.3h0M438.7 209.8h0M428.0 222.0h0M450.2 217.3h0M452.2 210.6h0M449.2 214.6h0M451.9 220.1h0M431.8 223.0h0M441.4 219.2h0M470.0 231.2h0M442.3 207.6h0M433.5 223.9h0M436.7 224.7h0M439.0 233.6h0M414.4 236.2h0M452.4 222.3h0M434.6 218.2h0M439.5 210.4h0M428.0 222.4h0M413.4 232.4h0M434.5 215.7h0M429.1 233.1h0M447.2 219.3h0M458.7 227.5h0M451.1 217.0h0M432.6 208.3h0M452.5 208.0h0M456.1 224.6h0M443.5 224.6h0M460.0 216.1h0M421.9 234.0h0M447.0 215.2h0M455.1 224.6h0M447.7 219.8h0M451.4 220.2h0M445.9 223.7h0M426.5 219.1h0M442.8 220.9h0M453.9 223.3h0M441.6 223.4h0M438.5 226.0h0M425.8 224.7h0M449.1 232.1h0M449.3 223.5h0M459.5 226.2h0M451.4 217.1h0M429.8 222.9h0M448.2 213.7h0M435.1 222.0h0M423.7 229.6h0M434.7 215.8h0M441.1 218.9h0M446.3 214.3h0M431.3 219.8h0M450.6 208.6h0M454.6 227.6h0M427.3 227.6h0M434.4 241.3h0M430.0 223.6h0M432.0 224.5h0M436.8 211.0h0M444.0 209.9h0M449.2 211.2h0M449.7 217.2h0M439.2 214.5h0M443.5 220.6h0M452.7 227.1h0M437.0 221.1h0M439.9 212.7h0M439.4 220.7h0M441.4 218.7h0M441.0 216.7h0M453.5 225.5h0M429.0 223.5h0M433.6 207.7h0M448.7 215.7h0M428.4 228.1h0M461.2 226.3h0M449.4 216.4h0M433.5 212.3h0M449.5 224.9h0M457.3 216.1h0M438.9 232.0h0M436.2 204.5h0M448.3 217.2h0M447.1 211.4h0M440.9 202.9h0M421.7 217.1h0M440.1 232.3h0M453.0 219.2h0M456.4 215.0h0M459.0 228.0h0M442.6 213.9h0M446.2 216.8h0M432.5 220.4h0M439.8 206.7h0M450.4 229.9h0M444.5 212.9h0M434.3 228.8h0M446.5 217.7h0M452.6 213.3h0M439.0 204.5h0M431.3 214.1h0M464.0 223.9h0M437.9 235.7h0M435.3 224.8h0M452.4 220.7h0M478.3 235.2h0M433.4 228.9h0M431.4 217.8h0M443.6 226.0h0M451.9 213.4h0M446.6 214.0h0M416.9 235.9h0M430.3 221.8h0M443.3 218.7h0M471.7 235.9h0M461.7 227.7h0M453.1 209.3h0M424.6 230.6h0M449.0 215.7h0M468.9 224.1h0M430.5 216.9h0M439.7 212.0h0M424.1 222.1h0M454.2 217.6h0M434.4 226.3h0M431.7 218.4h0M445.3 213.5h0M450.0 213.9h0M444.2 215.3h0M443.8 223.2h0M432.1 235.5h0M440.2 229.4h0M425.5 219.9h0M449.5 204.1h0M438.5 217.6h0M428.2 215.0h0M457.4 206.2h0M445.5 205.5h0M448.7 204.4h0M441.7 223.4h0M453.3 207.0h0M454.8 220.0h0M433.0 217.4h0M451.4 215.0h0M444.4 219.6h0M444.0 221.9h0M453.2 215.4h0M452.8 229.4h0M449.9 211.2h0M432.7 222.2h0M451.8 219.0h0M424.7 221.7h0M442.2 218.3h0M446.7 215.5h0M442.8 225.0h0M445.4 228.9h0M442.3 215.9h0M447.9 219.5h0M430.1 223.4h0M449.9 213.4h0M462.3 225.2h0M441.9 215.5h0M442.2 211.7h0M475.4 223.0h0M457.5 223.2h0M428.5 229.7h0M451.1 211.8h0M435.5 208.3h0M416.8 232.3h0M431.2 216.2h0M441.2 225.4h0M453.3 222.2h0M462.1 226.1h0M431.0 215.8h0M432.7 235.0h0M440.0 215.2h0M449.3 210.7h0M438.4 215.5h0M435.8 219.2h0M454.3 211.6h0M451.7 212.9h0M479.8 233.8h0M435.0 223.2h0M456.1 220.8h0M450.2 201.8h0M414.2 236.9h0M440.0 211.6h0M447.8 225.3h0M437.6 233.8h0M432.9 230.7h0M440.7 218.5h0M460.2 223.5h0M439.7 220.5h0M424.5 232.9h0M425.3 220.2h0M467.8 238.6h0M442.6 225.6h0M443.8 225.5h0M432.5 233.4h0M442.9 219.5h0M430.9 227.9h0M454.0 216.5h0M452.1 214.2h0M453.7 224.2h0M452.3 207.0h0M423.5 231.0h0M453.0 212.9h0M467.6 230.6h0M453.1 214.0h0M469.3 225.4h0M440.6 225.7h0M450.8 215.5h0M446.5 225.3h0M438.8 213.5h0M447.6 203.4h0M456.5 217.3h0M446.3 208.3h0M465.1 225.2h0M452.5 213.6h0M445.3 234.5h0M423.4 228.8h0M438.2 224.3h0M458.7 219.3h0M450.9 214.4h0M455.8 211.8h0M436.4 214.8h0M449.0 220.3h0M446.9 226.1h0M438.0 213.1h0M466.1 220.5h0M443.9 206.8h0M425.9 226.7h0M441.8 224.5h0M428.1 224.5h0M441.1 208.6h0M436.0 216.4h0M441.7 212.7h0M438.5 212.1h0M437.3 225.1h0M436.9 225.9h0M426.5 226.7h0M466.3 227.8h0M444.0 221.4h0M438.0 217.2h0M444.2 222.4h0M433.0 228.5h0M429.5 213.4h0M446.5 218.9h0M466.3 228.9h0M452.4 205.2h0M426.8 232.6h0M464.3 223.6h0M434.8 218.4h0M450.9 220.4h0M443.0 235.8h0M470.2 230.5h0M447.2 218.3h0M442.2 203.1h0M434.5 233.3h0M446.7 225.5h0M434.2 217.3h0M445.4 205.4h0M458.6 219.0h0M452.5 221.9h0M467.1 227.3h0M445.4 235.2h0M418.2 227.9h0M441.6 205.7h0M434.3 214.3h0M454.2 238.3h0M465.9 226.7h0M446.0 223.9h0M426.7 233.4h0M438.7 225.8h0M447.4 206.7h0M455.1 230.8h0M438.6 214.1h0M427.7 225.0h0M438.1 235.9h0M424.4 220.5h0M457.9 215.2h0M455.5 219.8h0M442.6 211.1h0M436.8 212.0h0M437.6 217.0h0M436.8 215.8h0M444.2 215.3h0M430.0 210.0h0M462.6 218.1h0M458.1 224.4h0M445.6 215.3h0M435.6 234.0h0M436.2 223.6h0M445.7 208.2h0M440.4 227.7h0M429.5 223.5h0M435.0 221.0h0M433.5 216.4h0M448.1 235.9h0M456.2 211.2h0M436.5 202.2h0M433.6 215.9h0M464.8 226.3h0M441.5 213.1h0M440.8 229.9h0M430.9 217.3h0M452.7 215.0h0M460.7 223.5h0M437.6 217.2h0M424.4 229.8h0M437.9 214.0h0M449.5 215.8h0M443.1 198.3h0M445.6 219.5h0M437.0 220.9h0M447.0 211.1h0M456.3 216.9h0M430.8 213.4h0M430.2 204.2h0M432.5 218.7h0M439.9 214.4h0M450.5 211.5h0M439.3 219.0h0M460.2 222.8h0M423.4 229.2h0M463.8 222.5h0M447.3 219.7h0M446.3 224.4h0M435.9 203.2h0M437.4 211.9h0M440.0 227.5h0M430.3 223.3h0M459.2 221.5h0M447.4 214.0h0M449.2 221.7h0M462.1 219.3h0M447.2 214.1h0M445.9 210.3h0M444.8 208.8h0M444.9 224.9h0M454.1 209.7h0M463.9 229.2h0M412.1 233.4h0M441.4 225.6h0M445.7 217.0h0M459.7 212.3h0M430.9 216.2h0M459.8 228.9h0M429.6 223.1h0M438.5 217.2h0M438.2 216.9h0M452.7 225.5h0M444.0 201.1h0M438.7 210.4h0M419.1 231.4h0M434.9 205.9h0M455.3 218.9h0M449.3 206.1h0M444.2 211.3h0M452.9 225.7h0M440.5 206.4h0M426.3 235.2h0M454.5 213.3h0M453.7 217.2h0M427.1 220.1h0M437.2 215.2h0M445.5 231.6h0M444.6 207.3h0M459.3 236.6h0M462.1 220.7h0M456.5 212.3h0M443.2 209.2h0M458.9 209.2h0M442.9 216.6h0M457.9 222.6h0M429.8 215.4h0M448.3 216.5h0M459.3 217.7h0M435.7 216.8h0M432.1 216.2h0M455.6 217.8h0M429.5 214.2h0M442.0 209.7h0M439.5 200.2h0M450.2 218.7h0M436.4 218.6h0M442.7 216.7h0M423.5 226.0h0M449.6 215.0h0M443.7 212.5h0M427.1 228.2h0M459.0 211.3h0M425.5 231.6h0M464.0 227.6h0M423.9 223.9h0M456.4 213.6h0M458.9 219.0h0M428.2 220.2h0M426.6 231.9h0M448.5 208.8h0M447.0 223.1h0M438.9 211.3h0M448.3 213.7h0M434.1 235.2h0M435.1 222.3h0M438.7 201.4h0M457.0 219.8h0M434.4 215.5h0" stroke="#de6db2" stroke-width="2.2" stroke-linecap="round"/>
<path d="M431.5 226.9h0M435.2 219.6h0M445.3 218.1h0M460.6 234.3h0M455.2 211.0h0M448.0 221.3h0M440.6 207.1h0M449.1 210.6h0M451.7 207.1h0M436.8 206.6h0M443.6 206.6h0M432.6 202.5h0M445.4 221.1h0M436.2 228.1h0M441.8 214.4h0M447.7 230.2h0M426.4 237.0h0M445.8 197.8h0M449.7 213.7h0M458.9 228.3h0M440.0 226.3h0M441.1 233.0h0M423.6 232.0h0M425.4 233.7h0M453.0 205.7h0M436.1 231.2h0M426.7 218.5h0M448.8 213.9h0M427.4 224.2h0M446.7 210.1h0M448.6 207.0h0M460.7 218.4h0M409.3 238.7h0M434.1 216.3h0M425.8 219.4h0M448.4 222.9h0M427.7 224.7h0M449.5 226.4h0M447.9 229.7h0M436.6 244.4h0M465.4 215.6h0M439.5 214.5h0M433.5 205.9h0M440.4 222.0h0M441.9 217.0h0M434.7 209.8h0M406.8 234.0h0M445.5 218.6h0M440.2 225.0h0M420.2 219.9h0M426.5 217.5h0M426.5 241.1h0M433.2 223.0h0M442.2 233.7h0M442.5 217.0h0M433.2 224.9h0M447.1 223.2h0M423.2 223.4h0M430.5 212.3h0M473.3 234.9h0M475.9 224.2h0M446.1 233.7h0M435.0 224.0h0M465.5 216.8h0M452.9 228.3h0M431.4 230.6h0M440.0 219.9h0M441.6 223.0h0M433.9 226.4h0M433.0 222.8h0M448.6 218.0h0M456.5 221.1h0M443.8 218.2h0M454.4 215.2h0M429.2 236.8h0M449.5 213.0h0M464.9 222.3h0M425.9 230.2h0M460.0 204.9h0M421.4 230.2h0M435.5 226.1h0M439.4 217.5h0M431.3 229.3h0M440.5 236.8h0M458.0 220.9h0M451.6 202.7h0M437.1 216.1h0M426.4 218.0h0M455.3 233.7h0M430.5 230.8h0M433.6 215.1h0M442.6 212.5h0M451.1 219.4h0M445.6 213.4h0M430.7 212.5h0M425.0 227.3h0M441.3 235.9h0M470.9 231.5h0M433.0 220.1h0M470.1 226.1h0M427.6 224.4h0M433.7 216.6h0M433.3 234.4h0M444.2 229.3h0M463.0 217.9h0M429.2 213.2h0M440.9 211.6h0M433.4 211.9h0M436.3 238.8h0M437.2 223.6h0M455.5 200.2h0M454.8 228.3h0M439.6 212.1h0M440.9 210.9h0M440.0 221.9h0M429.9 230.0h0M429.6 223.5h0M423.4 232.3h0M434.9 202.1h0M434.7 206.7h0M444.4 213.7h0M428.7 227.5h0M453.2 206.8h0M455.0 208.7h0M452.6 218.8h0M434.6 242.4h0M431.9 218.0h0M441.6 223.6h0M459.6 230.9h0M419.8 227.4h0M446.3 216.7h0M448.8 221.5h0M445.7 214.6h0M449.2 206.4h0M419.3 220.8h0M456.6 234.6h0M443.6 225.0h0M441.0 215.4h0M437.4 212.2h0M457.3 221.7h0M433.4 205.5h0M438.7 211.0h0M458.4 215.3h0M428.7 224.0h0M441.0 208.8h0M474.4 229.7h0M451.7 207.2h0M446.1 209.7h0M431.2 222.1h0M462.6 227.2h0M443.2 200.1h0M450.2 226.8h0M414.6 239.0h0M422.4 222.8h0M430.2 218.7h0M453.5 225.9h0M447.2 232.1h0M443.1 224.4h0M446.4 217.7h0M452.0 226.3h0M440.6 204.1h0M445.0 215.6h0M459.9 221.9h0M448.1 223.5h0M468.8 226.8h0M440.9 206.3h0M437.5 222.0h0M439.8 206.1h0M449.0 198.4h0M456.9 216.8h0M465.5 228.1h0M427.5 226.4h0M462.8 234.0h0M443.7 215.5h0M462.4 221.4h0M438.0 198.4h0M432.6 222.7h0M434.9 206.2h0M433.9 220.8h0M438.6 209.9h0M436.3 221.8h0M456.1 208.3h0M460.6 230.5h0M458.7 227.7h0M462.6 238.8h0M415.1 233.6h0M417.1 235.0h0M454.8 216.3h0M454.3 211.1h0M458.1 215.5h0M429.4 218.5h0M437.9 217.9h0M426.0 225.5h0M447.2 206.4h0M473.1 230.4h0M452.1 230.7h0M432.4 221.6h0M436.4 203.0h0M432.1 225.0h0M448.7 216.1h0M444.1 210.4h0M445.8 216.0h0M437.1 221.6h0M435.7 217.5h0M440.8 221.9h0M441.1 202.9h0M454.9 227.9h0M444.5 210.2h0M415.0 235.4h0M462.0 230.7h0M448.3 203.2h0M421.7 232.3h0M422.1 228.4h0M432.1 228.9h0M439.5 225.6h0M446.5 224.9h0M430.1 216.6h0M441.1 208.1h0M455.9 230.7h0M437.6 211.4h0M425.8 222.7h0M440.8 221.1h0M446.6 222.1h0M418.4 228.9h0M440.8 220.5h0M434.5 221.7h0M443.7 220.1h0M449.2 220.8h0M458.8 241.3h0M438.6 207.5h0M451.9 218.8h0M440.6 229.5h0M435.6 216.3h0M446.1 218.9h0M455.0 220.7h0M426.5 220.5h0M455.7 204.6h0M426.3 217.5h0" stroke="#de6db2" stroke-width="1.1" stroke-linecap="square"/>
<path d="M444.4 219.9h0M458.8 226.8h0M462.0 224.5h0M438.6 218.2h0M441.1 215.3h0M440.7 224.0h0M439.4 219.4h0M468.2 230.4h0M448.3 223.7h0M455.7 213.6h0M440.4 232.4h0M453.2 214.9h0M439.8 215.9h0M449.7 212.6h0M436.4 232.9h0M456.8 217.2h0M433.1 221.8h0M429.9 228.3h0M453.4 217.3h0M452.9 216.9h0M444.5 208.7h0M447.0 221.5h0M449.4 227.0h0M442.6 216.3h0M442.6 218.1h0M458.4 221.6h0M441.4 227.6h0M469.7 232.5h0M447.6 218.6h0M439.9 214.4h0M467.0 229.3h0M437.2 226.2h0M448.6 216.4h0M435.2 230.7h0M444.4 231.2h0M450.4 223.3h0M464.8 224.0h0M442.6 218.5h0M445.4 218.8h0M443.7 228.1h0M457.3 220.9h0M441.0 229.7h0M452.5 219.5h0M435.0 226.0h0M450.9 218.2h0M450.7 213.3h0M448.1 219.4h0M436.9 222.7h0M428.4 224.7h0M450.4 213.5h0M444.0 229.2h0M448.9 219.9h0M441.5 226.1h0M450.9 221.9h0M457.1 219.7h0M441.4 221.6h0M433.0 229.8h0M424.8 231.8h0M437.0 219.2h0M463.8 229.0h0M432.9 229.7h0M452.3 231.6h0M439.0 216.1h0M437.7 226.3h0M437.6 226.9h0M441.0 223.1h0M454.2 219.6h0M443.3 220.1h0M450.3 219.1h0M452.0 217.9h0M453.0 221.4h0M445.4 219.1h0M445.0 210.5h0M459.3 217.0h0M437.9 222.0h0M451.5 220.9h0M434.4 229.3h0M454.4 215.9h0M439.0 224.2h0M448.1 214.5h0M455.9 227.4h0M430.7 222.1h0M433.2 228.5h0M449.2 228.5h0M457.7 222.3h0M451.6 208.9h0M436.9 232.6h0M460.4 227.2h0M443.4 213.0h0M463.7 226.4h0M427.2 233.0h0M453.7 225.1h0M446.4 226.8h0M445.8 228.1h0M444.7 211.0h0M441.7 218.4h0M430.1 230.8h0M447.1 212.9h0M441.0 220.2h0M443.2 222.5h0M442.3 227.1h0M447.5 221.8h0M440.0 217.9h0M459.1 219.9h0M444.0 211.4h0M449.7 223.4h0M455.1 220.7h0M444.5 220.6h0M445.9 213.3h0M459.8 230.7h0M448.6 228.7h0M428.2 233.1h0" stroke="#d5b1dc" stroke-width="2.2" stroke-linecap="round"/>
<path d="M448.7 209.8h0M443.5 211.0h0M429.7 223.6h0M437.2 219.5h0M441.9 227.5h0M440.1 214.8h0M454.9 223.5h0M439.1 230.2h0M441.3 225.0h0M433.5 230.5h0M455.8 216.9h0M439.1 220.1h0M446.4 230.9h0M443.6 215.6h0M435.9 226.0h0M435.1 226.8h0M434.6 227.3h0M432.3 218.4h0M426.1 233.4h0M446.1 220.9h0M430.4 224.0h0M453.4 225.7h0M449.8 212.8h0M447.5 223.5h0M414.1 233.5h0M466.7 228.7h0M429.3 231.3h0M450.0 236.9h0M444.8 228.1h0M437.6 221.4h0M446.2 227.8h0M437.9 218.6h0M433.6 224.2h0M435.8 233.3h0M468.5 228.3h0M447.9 226.1h0M440.9 211.2h0M433.1 222.8h0" stroke="#d5b1dc" stroke-width="1.1" stroke-linecap="square"/>
<path d="M416.4 227.3h0M398.8 233.2h0M400.6 230.4h0M411.3 227.8h0M400.9 228.3h0M408.6 227.2h0M403.4 233.4h0M402.3 228.3h0M401.4 225.0h0M417.1 225.9h0M409.5 225.5h0M410.8 230.0h0M398.2 231.6h0M403.0 225.7h0M398.3 233.2h0M409.0 229.2h0M399.1 233.0h0M390.3 234.0h0M409.0 225.9h0M398.1 227.0h0M399.6 228.4h0M400.0 228.5h0M408.4 230.5h0M408.7 232.7h0M402.1 226.0h0M405.1 229.3h0M404.8 223.5h0M390.9 234.4h0M403.5 229.5h0M404.5 227.6h0M395.8 233.8h0M402.8 232.7h0M397.8 231.6h0M403.8 227.5h0M400.3 224.4h0M402.5 233.6h0M407.3 220.2h0M394.9 237.5h0M416.6 222.1h0M412.6 228.1h0M405.8 224.7h0M399.7 228.0h0M401.4 225.6h0M404.3 232.1h0M406.3 227.7h0M417.7 230.3h0M402.1 224.4h0M409.3 232.1h0M404.5 231.2h0M408.6 229.5h0M393.5 231.3h0M408.0 224.7h0M405.3 230.3h0M408.3 229.4h0M405.5 236.7h0M395.2 231.6h0M391.6 233.6h0M421.6 227.0h0M397.7 230.9h0M397.1 228.6h0M407.2 228.7h0M421.7 227.4h0M401.6 230.3h0M399.2 233.2h0M405.5 229.3h0M411.8 231.8h0M401.9 226.8h0M404.5 233.7h0M398.0 232.9h0M398.6 226.4h0M409.3 222.4h0M410.1 228.9h0M404.4 229.6h0M392.6 231.0h0M405.5 227.4h0M411.5 231.5h0M407.9 230.5h0M414.1 230.8h0M400.8 225.4h0M411.4 228.3h0M397.3 235.4h0M407.2 230.1h0M392.2 227.3h0M399.6 232.2h0M395.8 231.8h0M391.7 230.0h0M406.3 232.0h0M402.8 225.8h0M402.5 222.0h0M415.9 226.1h0M409.3 227.7h0M403.8 229.5h0M399.6 229.3h0M403.7 226.7h0M407.9 225.3h0M411.1 228.3h0M395.0 232.7h0M409.4 228.4h0M408.1 227.5h0M409.2 231.7h0M411.0 231.0h0M395.4 232.8h0M416.9 226.6h0M410.4 226.2h0M390.3 235.8h0M393.3 230.0h0M412.5 228.2h0M401.4 234.4h0M416.0 232.5h0M407.3 227.8h0M393.7 235.2h0M418.2 226.2h0M417.9 232.0h0M394.7 230.1h0M403.7 231.5h0M410.2 227.3h0M408.2 234.8h0M403.8 231.9h0M402.0 232.5h0M410.4 226.9h0M410.6 226.5h0M414.8 226.0h0M413.4 231.1h0M409.1 229.1h0M399.1 232.9h0M405.8 230.8h0M400.4 231.8h0M404.0 228.2h0M410.6 224.9h0M410.1 224.0h0M403.3 227.0h0M402.5 229.8h0M401.8 227.5h0M397.3 232.2h0M399.9 232.3h0M405.3 231.4h0M397.3 229.7h0M406.0 227.8h0M406.4 224.8h0M408.7 229.0h0M411.0 226.9h0M400.2 228.3h0M407.2 228.7h0M417.9 226.8h0M399.8 231.6h0M391.6 236.7h0M406.6 228.7h0M404.0 229.7h0M403.0 227.6h0M415.2 223.7h0M404.4 233.8h0M396.3 233.9h0M399.9 236.0h0M411.0 225.4h0M398.9 230.0h0M404.8 231.2h0M419.7 229.1h0M408.5 230.2h0M403.4 231.2h0M410.5 226.6h0M395.4 228.5h0M396.8 230.9h0M399.5 234.7h0M407.7 226.8h0M394.4 229.0h0" stroke="#9b0c4f" stroke-width="2.2" stroke-linecap="round"/>
<path d="M416.0 232.2h0M399.5 230.5h0M419.8 224.3h0M412.6 229.7h0M409.0 225.3h0M395.9 235.7h0M403.0 234.6h0M403.7 227.3h0M406.7 233.1h0M398.4 233.1h0M406.9 233.7h0M392.5 236.8h0M391.6 235.2h0M414.7 223.7h0M406.3 229.9h0M397.6 233.1h0M406.1 226.7h0M412.1 227.5h0M406.7 224.7h0M418.3 231.5h0M397.4 230.6h0M403.8 231.2h0M398.9 232.8h0M399.2 230.9h0M418.2 223.0h0M394.0 236.8h0M406.2 228.1h0M407.1 228.4h0M405.7 222.6h0M414.2 224.9h0M400.1 229.4h0M404.5 223.1h0M409.2 223.8h0M394.2 230.1h0M405.8 231.9h0M403.5 233.1h0M398.2 232.9h0M409.5 230.7h0M403.8 226.5h0M407.8 227.2h0M431.5 220.7h0M406.5 229.7h0M407.9 227.4h0M406.2 228.2h0M421.1 229.7h0M399.9 233.3h0M390.1 236.8h0M426.1 227.8h0M395.7 225.3h0M405.7 229.6h0M408.9 227.7h0M403.9 230.1h0M402.4 235.4h0M402.7 223.8h0M414.4 222.2h0" stroke="#9b0c4f" stroke-width="1.1" stroke-linecap="square"/>
<path d="M461.5 242.2h0M466.8 231.1h0M452.2 235.5h0M454.5 228.4h0M465.1 239.0h0M462.8 236.6h0M452.8 220.7h0M467.5 231.5h0M451.6 230.6h0M455.3 235.5h0M461.2 235.2h0M462.0 234.1h0M456.6 237.8h0M440.8 230.1h0M465.6 235.1h0M443.1 238.3h0M443.8 239.4h0M465.3 226.7h0M459.3 237.7h0M454.3 234.5h0M460.2 235.0h0M465.8 235.7h0M455.2 238.4h0M470.2 232.1h0M456.6 237.6h0M460.2 234.0h0M448.3 237.1h0M459.2 233.1h0M442.3 237.4h0M446.4 233.2h0M461.5 229.6h0M462.1 237.7h0M453.4 233.8h0M451.8 235.6h0M454.8 233.4h0M472.4 235.1h0M467.1 237.6h0M455.5 232.9h0M435.8 234.2h0M451.0 231.6h0M451.2 235.4h0M447.5 231.8h0M452.5 235.5h0M448.7 233.9h0M456.4 237.1h0M469.3 226.9h0M452.1 226.8h0M457.7 236.2h0M467.4 236.9h0M461.2 229.6h0M450.2 236.9h0M466.2 225.6h0M461.8 222.5h0M458.3 226.5h0M458.6 228.4h0M450.2 232.9h0M454.0 238.1h0M451.8 226.4h0M454.5 236.1h0M458.2 236.7h0M458.6 239.7h0M460.7 236.7h0M449.6 229.2h0M460.2 233.2h0M469.1 229.5h0M453.0 235.1h0M455.9 235.1h0M461.8 241.1h0M460.2 238.9h0M456.0 236.1h0M458.3 229.1h0M450.6 230.1h0M451.7 236.3h0M451.8 230.7h0M447.2 233.7h0M447.9 228.2h0M455.9 234.0h0M457.2 227.2h0M458.9 229.4h0M445.4 238.1h0M457.7 230.1h0M462.6 231.1h0M443.7 231.0h0M457.3 238.7h0M459.7 235.3h0M460.1 236.7h0M449.2 227.8h0M458.7 235.6h0M466.3 233.1h0M455.2 238.8h0M453.1 232.2h0M470.3 236.6h0M457.8 231.4h0M455.9 236.9h0M465.4 235.1h0M450.1 237.9h0M452.7 230.0h0M456.7 231.7h0M458.9 237.5h0M453.9 234.3h0M453.9 230.8h0M453.7 227.4h0M443.7 236.1h0M452.6 234.6h0M442.3 229.1h0M446.9 234.6h0M459.7 232.4h0M440.7 232.6h0M455.6 225.0h0M443.9 240.1h0M446.8 236.3h0M471.6 240.6h0M440.1 231.7h0M461.6 228.4h0M455.8 238.0h0M465.5 234.6h0M443.3 234.7h0M455.2 232.8h0M454.7 241.0h0M452.8 235.4h0M453.3 219.8h0M448.8 231.4h0M455.5 230.4h0M462.2 234.7h0M443.7 235.2h0M468.0 228.0h0M452.2 236.3h0M459.9 234.6h0M447.4 237.1h0M456.6 239.9h0M454.6 238.5h0M451.6 234.6h0M455.1 225.3h0M454.2 236.0h0M449.0 235.1h0M446.9 223.1h0M455.4 228.0h0M463.1 232.5h0M449.6 234.5h0M446.5 230.5h0M458.8 237.1h0M462.1 233.3h0M455.6 233.8h0M445.0 241.7h0M453.9 237.4h0M455.4 228.2h0M459.3 240.5h0M446.4 238.6h0M445.4 235.2h0M481.9 243.3h0M462.4 236.5h0M452.7 236.1h0M454.0 231.5h0M448.4 231.9h0M453.4 227.9h0M449.4 229.4h0M468.4 231.3h0M451.4 240.3h0M463.9 240.4h0M460.6 238.8h0M453.0 241.1h0M464.2 228.5h0M452.0 237.3h0M439.3 234.4h0M459.9 233.1h0M457.9 219.9h0M447.8 227.5h0M458.0 236.6h0M445.4 221.9h0M456.3 236.2h0M451.9 241.3h0M464.6 233.4h0M451.5 232.6h0M443.9 226.9h0M457.5 239.9h0M453.6 231.3h0M454.0 234.4h0M462.3 235.3h0M451.9 241.9h0M448.7 229.7h0M458.3 226.4h0M453.7 230.7h0M448.1 231.4h0M462.0 237.1h0M460.9 236.8h0M454.4 233.9h0M461.0 243.0h0M455.7 237.8h0M451.3 238.3h0M435.0 234.8h0M460.8 244.4h0M433.1 227.8h0M457.5 234.0h0M453.6 229.2h0M465.1 229.2h0M449.5 234.9h0M447.6 243.0h0M462.1 242.1h0M449.5 236.9h0M461.2 234.4h0M455.5 236.1h0M464.3 231.7h0M454.8 234.7h0M439.1 229.7h0M454.1 238.3h0M442.0 234.4h0M453.3 228.6h0M458.4 232.9h0M456.6 235.5h0M448.4 235.0h0M456.0 240.5h0M460.8 237.2h0M475.9 225.2h0M450.3 237.4h0M462.7 239.7h0M453.7 228.9h0M456.4 233.0h0M451.3 231.1h0M451.5 241.9h0M453.4 235.8h0M461.5 232.3h0M467.2 238.4h0M451.8 239.6h0M454.7 227.3h0M451.4 226.6h0M452.0 233.1h0M453.3 231.6h0M452.1 231.2h0M449.3 234.4h0M456.7 238.0h0M457.4 238.4h0M451.0 228.1h0M462.1 228.8h0M461.3 235.0h0M452.1 235.3h0M447.2 232.4h0M451.4 238.0h0M452.3 234.9h0M455.5 231.8h0M445.8 224.2h0M454.5 230.5h0M457.6 233.0h0M464.4 233.1h0M453.2 237.0h0M452.5 230.7h0M455.1 231.6h0M441.9 233.2h0M448.0 229.6h0M446.3 237.4h0M444.9 224.6h0M465.8 231.5h0M449.3 227.2h0M462.9 228.3h0M466.7 226.5h0M454.8 227.9h0M459.6 231.8h0M463.8 236.8h0M455.2 228.4h0M450.2 228.1h0M472.9 235.0h0M462.6 231.4h0M453.5 236.9h0M458.0 234.6h0M458.2 228.4h0M441.0 230.4h0M453.6 232.5h0M456.4 230.5h0M458.4 230.4h0M462.9 233.3h0M462.6 231.5h0M453.7 232.7h0M463.5 234.8h0M440.4 237.8h0M439.5 230.4h0M451.4 238.5h0M461.1 238.4h0M445.4 231.8h0M449.4 228.6h0M447.8 227.0h0M455.4 232.7h0M452.3 236.2h0M464.6 232.2h0M448.9 225.8h0M459.7 243.1h0M449.7 240.3h0M451.9 233.6h0M464.0 234.3h0M449.4 239.9h0M456.3 226.9h0M453.1 239.3h0M458.7 238.6h0M458.7 226.5h0M451.4 231.9h0M461.8 238.8h0M461.1 234.4h0M456.5 236.9h0M452.2 239.2h0M459.4 232.7h0M466.4 240.0h0M455.1 231.9h0" stroke="#fbc3c3" stroke-width="2.2" stroke-linecap="round"/>
<path d="M453.7 235.2h0M460.1 232.2h0M450.2 233.3h0M456.3 232.4h0M444.1 221.8h0M471.1 232.7h0M465.1 238.7h0M453.7 224.9h0M457.0 242.2h0M461.4 225.9h0M436.1 234.0h0M454.5 218.5h0M442.7 229.6h0M442.4 230.6h0M471.7 232.0h0M448.3 241.0h0M456.8 228.5h0M449.3 243.0h0M453.1 241.4h0M446.1 242.1h0M445.9 221.0h0M455.9 234.7h0M441.8 242.2h0M469.9 228.6h0M455.8 235.4h0M454.0 232.0h0M471.3 241.9h0M452.8 229.8h0M462.3 233.1h0M469.4 234.3h0M448.1 235.1h0M462.5 231.0h0M464.3 239.2h0M445.3 231.1h0M459.0 223.5h0M449.0 230.5h0M451.8 236.8h0M456.3 225.1h0M444.5 232.2h0M442.3 239.9h0M447.1 226.5h0M464.7 230.8h0M445.0 229.8h0M442.0 235.4h0M451.6 234.4h0M454.3 234.5h0M474.6 235.2h0M452.7 228.5h0M446.5 231.5h0M463.4 240.8h0M453.1 226.1h0M459.8 223.7h0M449.5 227.7h0M441.4 239.5h0M445.9 232.8h0M457.4 244.5h0M438.1 235.9h0M450.2 223.8h0M453.2 226.0h0M438.6 226.4h0M448.3 237.9h0M454.6 234.4h0M464.5 240.1h0M453.0 226.0h0M460.6 228.1h0M469.5 224.6h0M473.6 231.3h0M462.0 226.4h0M466.6 225.5h0M441.6 231.1h0M451.8 237.9h0M456.5 227.8h0M458.7 233.1h0M448.6 235.2h0M466.2 226.7h0M456.0 225.5h0M468.2 236.1h0M466.6 236.9h0M459.9 230.2h0M453.9 241.6h0M440.8 240.2h0M455.2 230.6h0M449.8 229.1h0M446.1 239.2h0M469.6 243.6h0M467.3 236.0h0M456.5 241.1h0M447.0 231.8h0M454.9 219.9h0M451.5 225.1h0M463.7 239.3h0M446.7 227.0h0M444.6 222.3h0M444.9 231.1h0M451.3 225.5h0M451.2 240.4h0M448.6 223.0h0M463.3 238.9h0M436.2 242.0h0M447.2 233.8h0" stroke="#fbc3c3" stroke-width="1.1" stroke-linecap="square"/>
<path d="M391.0 243.4C392.5 242.8 396.8 240.9 400.0 240.0C403.2 239.1 406.7 238.6 410.0 238.0C413.3 237.4 416.7 237.0 420.0 236.5C423.3 236.0 426.7 235.5 430.0 234.8C433.3 234.1 436.7 232.8 440.0 232.3C443.3 231.8 446.7 231.7 450.0 231.7C453.3 231.7 456.7 232.3 460.0 232.2C463.3 232.1 467.3 231.2 470.0 231.3C472.7 231.4 474.3 231.7 476.0 232.5C477.7 233.3 479.3 235.4 480.0 236.0" fill="none" stroke="#111" stroke-width="1.10"/>
<path d="M419.4 297.8h0M435.9 289.5h0M410.6 319.1h0M421.7 318.1h0M438.4 294.7h0M435.8 286.7h0M416.7 287.6h0M423.1 295.4h0M421.3 300.5h0M422.5 297.7h0M437.1 286.8h0M434.0 297.7h0M414.6 314.6h0M418.3 306.0h0M425.1 296.1h0M420.1 303.6h0M401.3 308.5h0M423.4 301.3h0M445.9 284.6h0M427.5 281.0h0M412.2 300.9h0M453.9 289.9h0M417.0 313.2h0M402.0 315.9h0M409.8 321.0h0M439.0 306.7h0M427.2 300.8h0M436.7 310.1h0M434.9 301.8h0M433.0 294.8h0M419.4 317.0h0M408.8 311.1h0M400.1 305.2h0M421.0 305.9h0M409.1 310.2h0M409.9 314.4h0M424.3 303.0h0M431.8 298.6h0M421.6 301.2h0M422.5 305.2h0M417.3 316.4h0M421.4 314.4h0M421.4 307.2h0M412.9 317.0h0M409.4 307.5h0M435.4 288.6h0M427.0 314.2h0M440.5 298.2h0M429.1 287.0h0M428.3 300.9h0M426.1 298.4h0M430.2 301.0h0M428.3 307.6h0M439.3 295.6h0M433.4 287.5h0M416.7 318.0h0M404.5 316.7h0M434.2 294.8h0M423.1 309.4h0M424.4 293.2h0M420.2 299.9h0M417.6 307.4h0M420.9 291.1h0M428.3 301.0h0M411.4 303.6h0M406.8 311.6h0M420.0 301.8h0M415.8 307.2h0M414.4 318.6h0M424.6 318.4h0M417.7 308.9h0M431.3 293.0h0M428.6 302.8h0M430.8 300.7h0M431.0 305.7h0M430.0 304.9h0M404.8 315.3h0M436.9 299.0h0M415.5 319.2h0M437.3 297.1h0M432.3 299.7h0M425.9 315.2h0M428.8 302.3h0M431.6 290.0h0M419.7 310.7h0M417.8 299.9h0M433.8 289.9h0M420.7 309.3h0M429.6 295.0h0M420.0 309.9h0M431.0 307.2h0M424.6 286.7h0M428.5 313.7h0M433.6 295.3h0M428.7 302.7h0M413.6 308.6h0M430.2 308.0h0M420.8 313.8h0M432.2 294.2h0M418.7 312.1h0M433.9 311.5h0M433.7 290.9h0M425.7 306.3h0M407.8 314.0h0M404.3 317.5h0M425.6 305.2h0M423.1 299.0h0M444.2 302.7h0M410.5 306.3h0M427.4 294.6h0M427.5 307.4h0M430.2 310.8h0M394.3 307.6h0M428.8 302.2h0M414.1 306.9h0M437.0 307.7h0M427.7 296.8h0M440.1 297.3h0M413.3 304.1h0M423.3 312.2h0M421.5 303.8h0M409.6 313.9h0M417.8 310.4h0M412.4 303.5h0M420.0 310.5h0M412.0 314.5h0M443.2 304.9h0M428.6 294.1h0M401.3 312.9h0M433.1 292.3h0M409.9 318.8h0M423.4 306.9h0M426.0 298.0h0M432.2 307.1h0M420.3 289.8h0M420.8 317.8h0M440.0 298.5h0M424.9 298.2h0M428.5 294.8h0M421.0 292.2h0M432.2 293.0h0M413.4 306.3h0M412.9 307.7h0M438.3 298.7h0M409.9 310.9h0M415.1 301.5h0M423.5 309.7h0M411.9 313.7h0M437.2 298.4h0M434.7 301.0h0M437.3 310.5h0M423.7 316.5h0M422.3 303.5h0M434.8 301.4h0M429.1 310.4h0M435.9 306.4h0M422.9 301.7h0M419.7 312.1h0M431.7 298.2h0M439.7 296.1h0M429.8 295.1h0M430.3 298.6h0M422.0 297.7h0M427.0 283.5h0M415.3 304.1h0M424.1 290.8h0M427.4 289.1h0M415.2 313.2h0M440.7 304.2h0M430.1 296.9h0M449.4 299.0h0M423.9 302.2h0M424.9 302.0h0M409.3 316.4h0M444.0 280.1h0M425.2 288.2h0M415.0 307.2h0M415.4 297.6h0M413.7 298.7h0M421.6 309.5h0M423.8 303.4h0M418.6 314.3h0M415.1 300.7h0M422.5 292.3h0M400.2 319.2h0M438.2 295.2h0M431.8 297.8h0M429.1 308.2h0M437.2 302.6h0M423.2 298.3h0M427.6 287.3h0M427.6 300.9h0M428.6 313.8h0M419.1 320.7h0M435.6 311.2h0M448.2 294.5h0M428.8 307.1h0M439.5 315.8h0M424.4 298.0h0M436.7 294.5h0M420.3 309.2h0M391.8 317.9h0M419.0 293.6h0M408.6 299.2h0M419.5 305.7h0M429.8 292.7h0M431.8 298.9h0M423.6 307.6h0M405.8 311.5h0M409.7 307.5h0M420.3 305.9h0M418.0 307.1h0M439.1 301.6h0M432.2 306.7h0M430.0 305.1h0M415.1 320.4h0M427.1 313.0h0M430.9 301.6h0M417.8 317.6h0M432.3 305.9h0M436.8 304.2h0M429.9 294.2h0M411.3 304.0h0M432.0 296.9h0M404.6 321.5h0M430.6 294.3h0M434.0 296.6h0M425.4 300.8h0M422.3 297.6h0M423.4 315.2h0M413.8 300.8h0M419.5 302.4h0M414.3 306.6h0M412.7 295.6h0M420.9 297.3h0M433.2 291.0h0M424.3 309.2h0M443.9 285.5h0M427.3 303.5h0M412.7 318.4h0M415.0 312.3h0M428.5 286.3h0M429.4 305.0h0M421.1 308.7h0M426.1 298.6h0M413.9 309.4h0M407.5 315.2h0M443.7 294.1h0M438.4 297.0h0M431.9 305.0h0M417.2 310.4h0M410.4 315.9h0M415.1 311.6h0M427.0 297.5h0M424.5 292.7h0M432.1 305.9h0M430.9 298.1h0M447.6 289.0h0M428.6 307.7h0M429.3 312.3h0M425.1 315.1h0M436.7 299.6h0M431.0 299.5h0M426.4 291.3h0M403.5 320.1h0M431.8 291.1h0M424.1 310.5h0M433.4 295.0h0M437.0 290.6h0M426.3 309.1h0M412.4 316.4h0M421.5 308.1h0M446.4 287.0h0M428.3 303.4h0M416.8 311.2h0M443.6 303.6h0M417.5 317.8h0M435.8 302.3h0M429.8 302.9h0M427.5 298.2h0M413.0 312.6h0M432.7 293.1h0M439.4 291.2h0M422.8 301.5h0M436.6 290.0h0M421.6 300.8h0M448.5 299.4h0M445.4 301.0h0M424.7 289.9h0M428.7 299.1h0M435.5 296.3h0M400.3 298.0h0M425.4 292.6h0M412.2 307.0h0M421.9 312.6h0M427.0 291.2h0M433.6 310.4h0M413.2 313.7h0M419.8 316.5h0M401.4 296.0h0M418.1 307.7h0M418.7 298.8h0M420.2 305.0h0M430.2 292.2h0M418.5 310.8h0M410.2 311.6h0M434.5 295.1h0M407.9 307.9h0M417.2 309.1h0M423.1 301.0h0M431.3 297.6h0M410.4 309.2h0M411.2 321.6h0M422.6 316.7h0M428.0 292.2h0M451.2 290.1h0M421.3 304.0h0M444.8 293.2h0M430.1 283.7h0M438.5 308.3h0M438.9 306.4h0M404.8 300.8h0M432.6 295.0h0M414.6 302.8h0M440.9 294.2h0M429.0 303.6h0M422.4 304.8h0M418.2 307.4h0M438.3 299.7h0M409.6 304.5h0M410.0 314.6h0M432.4 295.0h0M405.9 314.2h0M445.7 301.7h0M406.8 310.7h0M420.8 307.3h0M413.9 320.3h0M439.0 294.3h0M427.8 303.2h0M430.9 292.4h0M427.0 300.2h0M426.3 291.4h0M449.7 296.0h0M420.8 303.4h0M414.0 306.9h0M417.3 304.8h0M431.0 319.3h0M431.6 293.7h0M411.2 310.3h0M416.1 312.1h0M419.1 301.6h0M414.5 317.6h0M413.3 306.8h0M424.8 302.5h0M405.9 314.3h0M439.6 300.5h0M409.2 308.7h0M420.0 295.8h0M419.5 302.8h0M420.2 307.2h0M424.5 304.3h0M429.4 319.6h0M422.9 300.1h0M402.4 319.6h0M421.6 302.2h0M414.4 305.0h0M420.5 318.2h0M434.6 305.4h0M404.5 311.3h0M405.3 315.9h0M425.4 299.1h0M432.2 301.5h0M419.4 311.7h0M408.5 309.6h0M429.3 300.1h0M402.0 301.6h0M423.3 319.1h0M439.6 292.6h0M410.7 317.8h0M417.0 302.6h0M419.0 300.2h0M427.4 313.4h0M439.9 289.3h0M408.3 305.0h0M412.2 313.5h0M436.5 296.1h0M421.8 290.0h0M436.0 306.1h0M416.8 315.7h0M410.4 318.2h0M430.1 297.9h0M421.6 313.0h0M418.9 301.4h0M424.4 301.1h0M414.6 313.1h0M442.1 303.5h0M412.3 309.0h0M431.7 290.4h0M439.9 308.2h0M435.6 301.8h0M429.9 296.4h0M433.4 290.2h0M423.6 297.3h0M423.6 295.3h0M426.3 295.2h0M411.3 312.4h0M430.3 302.5h0M439.0 299.5h0M412.7 302.5h0M405.7 312.9h0M418.5 309.4h0M422.7 308.1h0M410.3 298.5h0M441.0 301.6h0M425.0 305.6h0M420.3 297.0h0M408.5 303.4h0M421.4 308.5h0M427.9 306.3h0M409.6 310.7h0M439.5 299.8h0M422.7 302.0h0M419.8 294.2h0M437.0 300.2h0M416.1 314.7h0M407.8 315.3h0M393.9 303.7h0M404.2 319.2h0M434.2 288.0h0M437.8 292.8h0M416.5 317.3h0M431.6 297.8h0M439.8 293.1h0M404.0 309.2h0M410.4 297.2h0M437.3 301.2h0M422.8 296.7h0M437.8 295.0h0M425.1 311.4h0M432.4 307.6h0M435.1 294.6h0M424.7 300.8h0M431.8 292.5h0M431.8 298.7h0M429.9 304.4h0M423.8 304.5h0M435.4 299.5h0M425.4 310.4h0M441.6 292.6h0M424.9 306.1h0M427.5 307.1h0M421.6 308.5h0M415.4 320.3h0M429.2 297.9h0M426.3 311.8h0M412.2 313.1h0M416.8 315.0h0M421.7 301.3h0M430.0 305.3h0M399.3 313.7h0M428.3 302.2h0M412.6 310.2h0M405.0 310.7h0M400.8 317.6h0M414.5 310.9h0M424.1 309.3h0M437.5 292.0h0M421.1 310.9h0M442.3 302.3h0M424.8 306.9h0M407.7 306.5h0M419.8 304.7h0M441.8 297.7h0M406.6 308.7h0M422.9 297.4h0M426.7 292.5h0M428.8 292.7h0M405.6 311.9h0M415.7 309.8h0M450.4 292.3h0M434.2 298.6h0M419.6 310.9h0M419.9 304.4h0M409.0 300.9h0M439.0 299.3h0M417.9 310.5h0M434.6 289.2h0M437.1 291.9h0M417.9 308.4h0M435.6 306.4h0M435.6 295.4h0M441.6 307.5h0M433.8 287.3h0M442.1 287.5h0M417.8 299.1h0M425.7 299.6h0M413.6 308.3h0M432.2 282.3h0M407.7 294.3h0M449.1 288.8h0M428.7 308.8h0M404.3 303.0h0M421.2 312.3h0M424.3 307.9h0M400.9 313.0h0M439.5 300.6h0M415.7 310.3h0M416.1 307.4h0M427.6 293.9h0M447.1 308.6h0M417.1 309.7h0M408.6 309.1h0M416.8 309.8h0M406.5 314.8h0M433.0 296.0h0M407.9 319.1h0M450.8 306.3h0M406.9 319.4h0M429.6 296.8h0M425.2 294.7h0M417.0 305.9h0M425.1 309.7h0M435.8 316.5h0M423.0 304.4h0M422.0 306.8h0M413.7 316.4h0M420.8 319.6h0M421.3 308.2h0M434.9 297.0h0M392.9 317.5h0M431.9 300.9h0M428.3 302.3h0M444.3 289.8h0M436.4 292.7h0M419.0 304.1h0M429.6 302.6h0M413.8 313.4h0M426.6 301.5h0M413.9 316.9h0M417.0 302.0h0M419.8 316.7h0M403.9 314.4h0M425.3 306.8h0M436.2 306.6h0M420.5 309.0h0M437.8 298.7h0M423.4 316.6h0M434.2 289.3h0M455.7 310.9h0M402.5 300.3h0M415.2 304.0h0M430.0 307.4h0M429.2 286.8h0M435.3 299.3h0M423.2 313.8h0M433.4 299.6h0M433.7 302.9h0M412.4 308.4h0M428.9 300.0h0M423.2 301.6h0M424.0 306.7h0M416.4 316.1h0M419.9 311.1h0M437.3 298.8h0M431.3 302.1h0M430.3 295.1h0M436.1 313.1h0M422.6 310.6h0M425.8 303.6h0M431.6 296.7h0M412.4 304.4h0M428.7 299.6h0M410.9 308.3h0M427.7 290.5h0M419.2 309.7h0M416.9 310.4h0M406.7 320.3h0M405.6 307.2h0M424.7 297.8h0M440.2 308.9h0M424.7 316.3h0M425.8 291.1h0M430.8 296.7h0M411.7 303.5h0M409.2 317.2h0M404.1 305.8h0M433.2 303.9h0M415.1 307.3h0M420.4 296.2h0M422.4 298.3h0M415.7 305.0h0M428.2 294.8h0M422.1 312.4h0M419.7 306.8h0M425.9 313.2h0M402.7 309.3h0M429.2 296.7h0M425.2 304.8h0M420.7 289.1h0M435.7 289.2h0M430.6 308.9h0M423.4 303.5h0M423.4 312.7h0M401.3 306.0h0M423.1 305.0h0M434.0 291.6h0M441.0 303.6h0M401.9 307.8h0M403.9 301.2h0M439.9 290.5h0M428.2 310.3h0M425.7 315.1h0M428.9 301.4h0M419.0 318.7h0M441.1 292.7h0M435.9 290.6h0M422.5 296.8h0M407.3 307.2h0M409.1 310.0h0M420.8 310.1h0M414.4 301.8h0M440.7 289.6h0M424.3 310.0h0M418.1 315.9h0M423.7 294.9h0M437.7 291.3h0M425.0 306.6h0M419.5 307.1h0M424.9 301.9h0M421.1 297.3h0M402.8 310.9h0M428.2 292.9h0M411.7 299.7h0M414.8 308.6h0M423.0 302.3h0M396.1 299.7h0M420.7 308.1h0" stroke="#de6db2" stroke-width="2.2" stroke-linecap="round"/>
<path d="M423.8 315.2h0M412.6 304.8h0M432.5 293.6h0M418.3 299.8h0M412.0 315.4h0M443.7 289.1h0M422.6 306.8h0M399.2 300.8h0M417.0 300.5h0M408.6 316.0h0M401.6 320.4h0M404.8 309.3h0M421.5 312.6h0M422.1 309.1h0M427.2 304.7h0M419.1 310.7h0M421.4 305.1h0M451.5 293.1h0M411.5 307.0h0M430.4 302.3h0M415.4 300.7h0M420.2 305.6h0M431.8 280.0h0M434.9 313.8h0M422.8 303.4h0M449.9 315.5h0M444.9 297.8h0M423.9 308.1h0M413.5 287.8h0M410.7 305.5h0M415.1 314.0h0M423.0 285.6h0M427.6 309.1h0M424.5 292.4h0M397.8 315.5h0M438.6 280.4h0M412.8 321.3h0M410.5 312.6h0M455.7 305.4h0M405.7 306.0h0M415.0 306.2h0M410.7 313.2h0M417.4 308.7h0M412.9 299.8h0M437.4 279.0h0M429.0 312.2h0M419.9 315.5h0M423.4 298.0h0M401.7 308.3h0M432.1 301.3h0M409.4 313.1h0M418.1 313.4h0M422.6 304.1h0M421.0 313.7h0M434.0 302.7h0M416.3 289.0h0M413.5 316.1h0M436.4 290.5h0M413.7 305.6h0M418.3 315.3h0M397.1 312.9h0M435.3 310.2h0M422.0 316.7h0M425.7 302.4h0M426.8 300.8h0M425.2 305.3h0M436.3 309.1h0M418.0 303.6h0M407.6 312.2h0M394.3 301.4h0M427.2 308.1h0M448.3 297.9h0M437.4 291.3h0M426.1 306.4h0M426.4 309.8h0M422.5 304.7h0M405.9 316.0h0M407.9 313.4h0M417.1 300.9h0M418.6 317.1h0M428.6 291.4h0M424.8 305.1h0M431.0 309.3h0M455.2 303.3h0M415.2 305.2h0M421.9 317.7h0M425.1 296.6h0M407.9 310.9h0M432.9 310.3h0M421.2 294.0h0M449.8 299.4h0M436.2 301.6h0M431.6 286.3h0M410.3 309.7h0M421.0 301.8h0M423.8 295.3h0M450.8 297.8h0M426.4 278.1h0M434.3 290.0h0M424.9 295.8h0M435.4 285.3h0M440.4 293.1h0M411.0 309.1h0M425.7 298.3h0M407.2 303.5h0M416.7 298.8h0M425.9 290.9h0M421.0 307.5h0M406.2 284.5h0M400.5 300.7h0M420.8 302.5h0M430.6 296.8h0M421.9 306.4h0M390.9 313.5h0M432.3 303.2h0M438.0 296.8h0M420.0 303.7h0M418.5 314.0h0M407.5 311.2h0M441.8 288.1h0M413.2 319.6h0M398.3 304.9h0M443.4 311.7h0M436.4 305.1h0M419.5 298.8h0M438.1 285.9h0M425.4 305.1h0M433.7 287.3h0M421.7 312.4h0M403.8 312.1h0M421.4 284.6h0M432.7 292.4h0M403.8 295.5h0M422.6 290.8h0M463.6 290.3h0M413.0 313.9h0M429.1 301.6h0M434.9 304.8h0M423.1 316.5h0M455.2 311.1h0M442.3 300.4h0M430.9 293.3h0M409.1 313.2h0M426.8 290.1h0M437.1 311.3h0M435.4 299.4h0M471.6 303.7h0M401.0 314.1h0M392.2 295.6h0M418.6 311.5h0M418.8 299.1h0M439.4 283.2h0M413.5 306.3h0M410.5 307.4h0M442.0 306.0h0M428.4 307.9h0M405.3 308.4h0M436.0 305.0h0M421.6 300.4h0M415.7 313.2h0M405.6 304.5h0M431.2 288.4h0M422.8 297.7h0M416.2 307.2h0M422.5 305.1h0M425.0 316.3h0M429.7 293.3h0M433.0 295.7h0M424.4 296.4h0M415.3 298.7h0M436.8 288.6h0M415.7 311.1h0M433.2 292.1h0M410.3 298.6h0M429.5 301.9h0M440.5 284.6h0M438.8 303.8h0M400.3 309.3h0M414.8 278.3h0M428.9 301.6h0M436.5 285.7h0M427.8 299.4h0M423.6 302.6h0M416.7 310.2h0M422.0 318.1h0M400.4 318.1h0M451.0 280.0h0M413.6 289.8h0M391.0 303.2h0M415.4 314.7h0M439.3 285.5h0M423.7 313.9h0M416.8 305.2h0M423.4 298.6h0M422.4 319.4h0M406.2 308.4h0M410.2 306.6h0M427.8 300.4h0M426.9 291.1h0M416.4 297.2h0M426.2 281.7h0M422.9 299.0h0M433.5 294.3h0M441.1 289.1h0M408.3 321.4h0M412.8 303.9h0M406.0 314.9h0M398.8 306.2h0M439.4 279.0h0M418.2 291.5h0M441.6 290.4h0M450.1 280.6h0M417.6 313.1h0" stroke="#de6db2" stroke-width="1.1" stroke-linecap="square"/>
<path d="M463.1 288.3h0M445.4 275.8h0M429.9 289.5h0M427.8 294.3h0M431.1 299.9h0M438.5 284.3h0M438.1 293.1h0M439.1 287.4h0M428.6 290.5h0M443.1 289.1h0M437.4 285.0h0M437.0 294.4h0M439.1 281.2h0M437.6 281.9h0M439.6 286.1h0M439.1 294.3h0M443.1 277.8h0M438.6 292.1h0M434.9 301.0h0M437.7 284.6h0M439.0 288.2h0M424.1 297.7h0M444.5 280.6h0M432.3 298.8h0M429.4 296.7h0M436.6 294.3h0M439.3 285.4h0M440.5 288.0h0M428.7 299.3h0M431.3 295.4h0M449.0 294.1h0M445.6 294.1h0M430.7 295.8h0M446.6 286.4h0M448.6 283.1h0M432.0 287.2h0M441.9 290.5h0M443.1 285.9h0M436.1 286.2h0M449.5 276.0h0M441.4 297.3h0M442.0 290.6h0M447.5 301.8h0M448.2 298.2h0M450.9 282.3h0M436.0 289.8h0M430.3 295.0h0M443.2 281.1h0M437.3 291.5h0M442.3 301.8h0M449.9 298.3h0M423.5 290.5h0M444.9 302.1h0M440.4 282.6h0M427.5 294.1h0M442.4 291.3h0M449.1 287.1h0M447.2 284.5h0M437.3 292.2h0M436.2 288.3h0M441.8 282.8h0M451.8 287.4h0M435.0 288.2h0M443.2 294.2h0M451.7 300.5h0M438.5 290.5h0M434.2 300.5h0M428.1 295.8h0M432.2 287.6h0M433.7 307.5h0M444.0 282.3h0M438.1 276.2h0M436.9 286.8h0M434.8 288.8h0M437.3 280.5h0M431.3 284.9h0M433.6 292.2h0M423.3 302.0h0M425.5 293.1h0M433.9 294.3h0M441.4 295.3h0M437.8 291.7h0M440.3 290.8h0M441.0 292.3h0M443.2 283.4h0M437.0 286.4h0M429.1 298.9h0M441.9 281.2h0M423.0 301.0h0M441.9 286.0h0M440.0 288.4h0M446.4 297.5h0M428.3 295.1h0M446.5 296.2h0M439.1 288.0h0M432.8 300.2h0M430.5 298.0h0M444.1 291.1h0M435.4 305.8h0M439.1 285.6h0M443.4 285.9h0M441.6 293.0h0M426.5 295.0h0M446.7 283.3h0M450.2 289.5h0M428.6 287.3h0M440.0 290.2h0M428.6 292.6h0M439.7 285.1h0M430.1 292.4h0M427.4 296.5h0M436.8 283.8h0M446.7 285.6h0M439.6 282.5h0M439.1 296.1h0M441.1 296.0h0M442.3 287.5h0M442.7 289.1h0M431.5 280.7h0M433.4 287.3h0M434.2 288.1h0M434.7 279.9h0M453.5 283.7h0M446.6 296.9h0M442.7 294.5h0M433.8 304.1h0M433.4 299.3h0M452.0 290.1h0M449.6 295.6h0M437.5 286.4h0M429.8 289.1h0M437.9 290.1h0M438.5 283.9h0M445.3 287.5h0M441.7 296.9h0M437.2 284.6h0M445.6 295.6h0M450.6 290.4h0M434.5 298.2h0M435.9 287.1h0M456.1 297.9h0M432.0 296.3h0M431.9 288.3h0M433.6 300.0h0M444.7 293.7h0M431.1 296.2h0M440.0 288.1h0M426.4 291.1h0M438.1 296.5h0M439.5 299.3h0M437.5 282.9h0M438.8 286.7h0M446.1 286.9h0M437.4 282.1h0M437.2 290.0h0M451.9 280.4h0M448.4 298.2h0M443.0 284.0h0M448.1 292.6h0M436.7 293.1h0M435.4 286.5h0M446.9 295.7h0M434.5 297.6h0M429.3 287.2h0M453.1 291.4h0M450.1 293.1h0M430.2 294.0h0M436.5 296.1h0M440.5 285.7h0M437.4 290.4h0M435.7 292.6h0M435.3 290.6h0M444.2 299.7h0M438.6 299.6h0M460.9 294.4h0M446.2 305.5h0M437.3 297.1h0M448.1 291.9h0M435.5 284.0h0M443.9 298.4h0M439.6 293.1h0M432.7 295.1h0M415.2 303.9h0M438.1 283.0h0M441.4 299.8h0M440.7 279.8h0M434.4 286.0h0M426.9 292.5h0M455.7 297.2h0M431.8 284.6h0M428.2 290.1h0M436.9 292.8h0M438.2 283.8h0M424.3 296.9h0M442.3 298.5h0" stroke="#d5b1dc" stroke-width="2.2" stroke-linecap="round"/>
<path d="M445.2 291.4h0M436.8 296.6h0M448.0 290.8h0M461.8 298.3h0M444.8 293.4h0M453.3 303.2h0M437.8 291.0h0M443.1 296.3h0M459.0 294.4h0M434.5 290.0h0M431.9 291.2h0M451.6 297.1h0M450.5 285.9h0M451.5 297.6h0M439.8 291.5h0M443.2 306.0h0M442.7 286.8h0M436.3 275.8h0M440.6 292.0h0M443.0 293.1h0M440.8 289.1h0M437.9 297.3h0M435.1 280.0h0M431.0 308.2h0M429.5 294.9h0M441.7 289.9h0M437.6 280.2h0M437.1 277.7h0M441.0 298.6h0M440.6 287.6h0M438.7 285.0h0M447.5 301.2h0M445.8 284.7h0M438.1 275.3h0M426.1 284.2h0M440.9 279.3h0M450.0 290.2h0M443.0 295.4h0M447.7 295.0h0M428.3 291.3h0M439.8 292.8h0M447.3 309.0h0M441.9 278.8h0M422.2 300.2h0M438.0 278.6h0M449.1 275.7h0M446.3 295.3h0M442.3 305.8h0M434.2 303.0h0M445.5 295.7h0M435.1 294.5h0M444.1 281.8h0M446.2 295.0h0M436.8 289.3h0M442.6 292.4h0M436.8 297.3h0M454.2 292.0h0M439.8 278.9h0M453.2 293.8h0M446.1 300.3h0M442.4 297.4h0M435.2 285.9h0M443.9 282.7h0M449.6 283.5h0M440.2 286.9h0" stroke="#d5b1dc" stroke-width="1.1" stroke-linecap="square"/>
<path d="M439.3 290.2h0M459.2 278.8h0M462.2 289.3h0M458.2 293.5h0M452.1 300.7h0M460.8 305.3h0M456.6 297.3h0M457.4 287.7h0M465.7 297.5h0M450.7 312.5h0M461.0 300.7h0M449.1 288.4h0M455.0 296.8h0M470.5 301.2h0M459.2 295.7h0M471.7 300.0h0M464.4 293.8h0M460.1 310.2h0M467.3 290.9h0M443.6 297.9h0M442.4 301.4h0M448.6 301.0h0M451.8 300.8h0M462.4 287.2h0M449.8 305.4h0M454.9 301.6h0M466.2 288.2h0M461.1 300.3h0M473.1 294.8h0M464.0 303.4h0M463.9 302.1h0M458.6 296.3h0M450.4 295.0h0M473.2 293.0h0M458.3 289.0h0M452.3 288.2h0M462.4 307.1h0M446.1 280.9h0M456.5 302.5h0M451.1 284.4h0M447.4 302.1h0M457.5 298.2h0M440.0 297.8h0M465.9 301.0h0M450.3 295.0h0M471.2 292.3h0M458.6 305.3h0M449.0 291.9h0M450.8 305.8h0M441.6 287.1h0M446.1 285.8h0M469.5 299.0h0M467.6 294.7h0M450.3 295.6h0M450.2 296.4h0M446.4 302.3h0M468.1 304.5h0M440.3 297.9h0M452.6 303.7h0M472.3 290.8h0M457.3 300.6h0M470.0 294.8h0M450.1 297.0h0M465.6 284.1h0M454.6 313.5h0M468.2 296.8h0M452.9 310.4h0M455.9 277.9h0M470.2 304.2h0M451.3 294.1h0M459.8 308.2h0M455.1 293.3h0M440.7 283.2h0M460.2 284.0h0M454.4 299.3h0M454.8 293.4h0M444.1 294.6h0M449.0 283.9h0M464.7 309.6h0M465.8 294.8h0M453.6 297.9h0M477.3 301.9h0M460.5 286.6h0M464.2 285.5h0M452.8 291.6h0M462.5 294.5h0M438.3 297.9h0M452.4 302.8h0M466.7 292.2h0M447.0 294.3h0M442.4 287.3h0M448.0 296.6h0M446.9 300.3h0M452.3 302.8h0M462.7 300.1h0M458.5 298.4h0M452.8 303.0h0M462.1 289.6h0M448.7 305.4h0M456.9 297.8h0M456.9 300.5h0M460.2 290.1h0M452.9 292.7h0M457.1 288.1h0M457.4 298.5h0M433.2 306.0h0M456.0 301.4h0M461.7 313.4h0M444.7 293.4h0M444.8 295.7h0M441.0 296.3h0M449.1 298.2h0M455.7 286.0h0M461.9 297.2h0M465.2 305.2h0M455.7 309.4h0M463.5 298.7h0M461.9 280.6h0M455.2 300.5h0M463.5 303.1h0M480.4 305.6h0M456.5 298.1h0M476.1 303.8h0M465.4 298.4h0M463.2 293.0h0M460.5 298.3h0M439.3 284.8h0M458.2 299.2h0M436.6 289.2h0M448.0 280.8h0M459.6 307.8h0M467.9 300.9h0M471.8 296.3h0M448.9 302.6h0M451.6 299.5h0M446.8 295.8h0M443.9 297.5h0M450.5 296.2h0M438.4 293.3h0M477.5 292.9h0M465.3 311.3h0M464.3 294.1h0M439.7 299.3h0M448.7 314.1h0M446.9 293.4h0M448.8 305.3h0M463.9 300.0h0M449.0 303.8h0M458.5 300.3h0M450.3 289.1h0M454.2 294.6h0M437.1 295.7h0M455.3 304.2h0M451.1 289.6h0M463.3 293.4h0M454.5 288.0h0M468.6 298.8h0M470.7 282.7h0M453.3 297.8h0M475.5 292.3h0M464.7 293.6h0M455.2 294.5h0M451.2 294.1h0M462.2 298.8h0M455.8 290.8h0M465.8 296.3h0M453.0 291.9h0M474.4 288.6h0M461.4 302.2h0M460.5 307.5h0M456.9 298.8h0M453.2 292.0h0M462.8 296.0h0M445.4 302.3h0M451.6 285.5h0M447.5 292.6h0M464.4 293.1h0M474.8 305.5h0M468.6 304.9h0M459.1 285.4h0M455.1 292.7h0M457.0 291.7h0M470.6 300.3h0M444.6 295.1h0M458.0 294.2h0M462.5 294.7h0M462.6 300.1h0M456.1 298.9h0M454.9 297.0h0M441.7 300.8h0M458.7 302.6h0M444.0 293.8h0M464.0 295.5h0M465.9 294.2h0M474.0 300.3h0M457.6 297.6h0M475.7 299.1h0M459.3 302.0h0M471.9 303.0h0M454.7 287.3h0M448.1 290.1h0M456.6 312.8h0M461.8 303.3h0M447.2 283.7h0M455.6 293.2h0M460.0 294.7h0M452.6 287.8h0M469.6 296.8h0M452.3 308.8h0M455.9 307.7h0M460.9 305.9h0M456.6 301.3h0M451.4 297.7h0M457.1 300.0h0M452.2 310.5h0M450.4 288.3h0M451.5 302.9h0M461.4 290.8h0M454.9 292.3h0M467.5 296.8h0M454.2 308.6h0M441.2 290.8h0M455.5 297.6h0M450.1 299.7h0M455.4 287.9h0M453.0 296.8h0M452.4 289.5h0M461.1 282.1h0M461.0 291.8h0M446.5 299.6h0M472.8 309.3h0M446.3 295.0h0M449.2 297.6h0M464.6 306.6h0M467.4 286.1h0M453.5 286.3h0M456.7 292.1h0M458.9 301.3h0M450.4 293.1h0M460.1 295.7h0M458.1 296.2h0M460.5 298.9h0M463.4 300.8h0M461.9 291.1h0M464.1 298.3h0M461.9 293.2h0M452.7 296.5h0M462.8 319.7h0M448.3 288.6h0M459.9 289.9h0M462.6 296.4h0M458.3 297.5h0M444.2 314.4h0M464.1 290.1h0M450.1 302.9h0M457.7 303.3h0M440.3 295.2h0M456.3 302.4h0M465.2 303.6h0M459.5 318.0h0M450.2 300.6h0M457.9 296.2h0M456.9 289.4h0M456.6 290.2h0M456.7 298.8h0M445.9 293.9h0M467.7 295.9h0M444.6 301.9h0M451.5 297.8h0M463.2 290.9h0M461.6 299.6h0M460.2 292.8h0M468.4 288.0h0M466.2 300.7h0M466.2 291.2h0M454.6 305.8h0M453.1 293.8h0M434.0 291.6h0M456.9 290.6h0M457.4 303.8h0M461.6 294.5h0M450.0 290.0h0M465.7 303.1h0M454.7 297.5h0M469.2 289.5h0M461.8 292.7h0M448.2 293.5h0M459.5 292.6h0M449.9 296.3h0M447.1 295.3h0M448.9 299.4h0M446.6 302.7h0M447.4 308.6h0M452.3 303.5h0M466.7 297.7h0M458.3 299.4h0M455.1 292.4h0M448.9 293.7h0M455.5 300.9h0M458.3 285.6h0M459.9 295.6h0M458.6 298.6h0M463.9 298.6h0M447.8 293.8h0M453.4 297.4h0M462.7 291.6h0M449.2 303.2h0M458.0 300.8h0M464.7 291.2h0M444.3 289.6h0M449.6 299.1h0M465.7 291.5h0M439.8 296.3h0M468.4 289.2h0M463.7 302.5h0M446.4 318.2h0M453.4 303.8h0M453.5 283.0h0M449.6 307.9h0M458.3 295.9h0M452.9 302.2h0M470.0 294.3h0M449.2 300.5h0M457.6 307.0h0M451.1 287.8h0M461.1 297.3h0M451.8 304.4h0M464.9 278.0h0M450.9 298.7h0M449.1 295.8h0M445.4 291.7h0M462.0 289.7h0M455.3 304.9h0M446.0 292.8h0M447.7 292.4h0M454.1 293.4h0M459.3 297.4h0M447.5 292.5h0M456.6 300.6h0M463.2 296.8h0M470.9 292.2h0M448.1 303.4h0M431.7 296.2h0M441.7 302.4h0M462.2 299.0h0M469.1 299.4h0M467.0 306.6h0M431.3 298.4h0M467.5 288.0h0M452.4 289.8h0M461.0 294.2h0M445.8 301.7h0M459.7 298.0h0M435.5 298.9h0M470.3 299.7h0M453.8 297.2h0M461.8 296.5h0M462.6 298.1h0M467.9 321.0h0M453.4 306.1h0M454.9 289.4h0M447.5 288.7h0M454.4 305.9h0M466.8 302.6h0M455.3 294.3h0M471.2 301.9h0M452.7 296.8h0M458.7 299.9h0M465.8 297.0h0M449.4 298.2h0M464.8 288.5h0M446.1 285.9h0M443.5 283.4h0M451.6 313.4h0M470.7 301.6h0M463.8 286.8h0M466.1 305.4h0M455.7 298.9h0M459.0 296.2h0M446.3 300.2h0M433.3 299.1h0M471.3 293.2h0M454.1 316.3h0M464.8 295.9h0M452.5 294.5h0M450.0 299.2h0M454.7 292.4h0M466.4 297.5h0M453.1 306.9h0M467.7 300.0h0M457.5 291.2h0M460.0 287.8h0M451.8 295.2h0M452.2 299.2h0M467.4 291.3h0M453.4 294.1h0M469.4 307.6h0M453.8 292.0h0M442.3 291.6h0M449.1 296.6h0M455.6 295.3h0M458.3 303.7h0M459.4 288.2h0M464.9 302.3h0M464.4 286.2h0M451.4 301.8h0M440.6 280.4h0M469.0 296.9h0M468.8 295.7h0M468.3 296.4h0M456.8 303.4h0M469.1 293.0h0M449.5 298.6h0M440.3 291.5h0M468.2 304.9h0M441.0 303.1h0M440.1 292.5h0M442.7 295.0h0M463.3 305.3h0M454.3 296.8h0M455.3 305.0h0M463.8 292.2h0M460.4 296.7h0M454.6 283.7h0M456.1 287.1h0M451.5 298.0h0M460.1 291.9h0M454.8 310.0h0M448.1 291.5h0M458.1 307.5h0M467.5 293.2h0M454.5 284.4h0M461.6 299.5h0M466.2 308.4h0M449.4 280.6h0M460.8 299.9h0M463.5 300.4h0M446.6 300.7h0M461.4 305.2h0M452.4 309.9h0M476.1 291.6h0M450.4 305.4h0M466.4 309.8h0M445.8 296.6h0M470.8 294.4h0M454.3 294.2h0M454.6 292.0h0M454.0 302.8h0M460.6 305.6h0M431.6 296.5h0M460.5 292.7h0M454.1 303.8h0M459.8 302.7h0M451.9 306.1h0M449.0 300.4h0M464.5 289.0h0M466.1 290.1h0M462.9 304.1h0M444.3 293.8h0M457.9 296.3h0M459.5 298.5h0M466.3 288.8h0M448.5 302.0h0M443.9 296.0h0M465.7 303.2h0M447.0 308.7h0M445.0 295.2h0M470.4 300.5h0M465.7 294.6h0M459.8 297.7h0M454.1 301.3h0M468.7 289.3h0M458.7 315.8h0M463.6 306.3h0M451.5 307.2h0M447.6 294.2h0M452.9 298.2h0M455.9 286.6h0M459.0 290.1h0M457.6 296.6h0M460.7 294.2h0M468.9 299.8h0M438.3 302.0h0M442.6 284.1h0M458.1 299.9h0M467.4 290.0h0M445.3 297.0h0M456.3 278.4h0M441.7 283.4h0M461.0 295.9h0M450.4 289.2h0M447.7 287.0h0M466.3 296.4h0M447.3 292.7h0M436.4 293.1h0M458.6 302.5h0M450.1 302.3h0M458.3 291.9h0M462.9 295.6h0M458.2 297.8h0M445.1 280.4h0M448.9 304.9h0M456.5 294.0h0M445.5 303.5h0M465.6 293.9h0M455.3 302.8h0M453.8 302.0h0M465.0 302.6h0M449.6 299.6h0M474.5 287.8h0M453.3 305.7h0M445.7 302.0h0M458.7 290.6h0M460.5 304.2h0M456.8 304.1h0M450.3 305.2h0M448.2 280.8h0M451.5 297.4h0M453.4 296.3h0M457.1 293.6h0M455.7 303.3h0M452.6 288.8h0M458.0 300.0h0M440.7 299.1h0M468.0 293.0h0M454.8 291.9h0M459.9 295.6h0M445.7 305.9h0M448.3 291.2h0M446.2 301.3h0M460.6 289.2h0M454.3 304.2h0M455.2 299.9h0M466.4 295.7h0M444.4 287.8h0M473.9 295.0h0M463.5 300.6h0M475.5 290.2h0M448.1 305.4h0M461.3 292.0h0M476.0 293.0h0M459.1 293.7h0M459.3 292.4h0M461.9 291.9h0M463.3 300.8h0M440.8 279.0h0M457.0 295.5h0M440.9 289.9h0M453.1 291.8h0M459.8 291.1h0M467.1 288.9h0M448.9 297.1h0M469.5 292.1h0M452.7 302.0h0M449.0 295.7h0M459.4 286.9h0M456.9 309.3h0M463.5 286.2h0M456.1 284.0h0M462.6 300.9h0M447.0 301.1h0M473.3 298.3h0" stroke="#fbc3c3" stroke-width="2.2" stroke-linecap="round"/>
<path d="M468.4 286.1h0M451.0 286.6h0M457.2 292.7h0M449.7 307.3h0M450.6 296.3h0M450.2 289.8h0M444.8 283.6h0M447.4 286.5h0M453.6 300.6h0M465.1 299.1h0M453.5 301.4h0M455.1 302.6h0M465.6 304.8h0M466.7 313.1h0M456.3 288.9h0M469.4 311.1h0M457.6 284.7h0M455.4 302.1h0M467.8 294.3h0M460.3 290.4h0M441.3 287.6h0M465.8 278.8h0M437.4 291.0h0M458.1 282.4h0M444.8 308.0h0M461.6 302.1h0M453.3 305.5h0M475.4 307.7h0M463.3 302.2h0M429.0 301.5h0M441.4 312.9h0M455.7 306.8h0M468.6 286.8h0M460.5 307.5h0M457.0 285.6h0M440.0 291.2h0M442.7 302.8h0M453.0 285.1h0M452.3 303.4h0M439.0 286.7h0M453.2 289.1h0M462.0 296.8h0M457.3 305.1h0M478.1 309.1h0M453.3 302.3h0M445.6 296.9h0M450.8 312.1h0M451.4 314.9h0M454.6 307.8h0M474.5 277.3h0M459.8 290.7h0M461.0 295.1h0M463.5 285.5h0M463.1 299.0h0M452.1 309.6h0M462.1 284.5h0M465.0 282.7h0M451.7 289.1h0M462.0 305.7h0M444.7 285.9h0M443.7 279.2h0M454.5 294.6h0M456.7 298.5h0M451.6 290.2h0M451.5 309.6h0M447.5 290.8h0M454.4 282.7h0M452.8 304.2h0M468.3 294.1h0M461.3 304.0h0M455.2 280.9h0M448.5 293.2h0M459.6 300.8h0M472.7 300.9h0M459.1 307.3h0M442.2 300.0h0M469.3 299.9h0M457.8 300.1h0M461.2 305.7h0M448.4 311.2h0M455.7 283.7h0M458.7 296.0h0M462.6 287.6h0M456.5 299.3h0M440.7 291.4h0M464.4 294.4h0M463.8 283.8h0M461.8 290.1h0M463.7 297.2h0M452.0 295.5h0M457.9 296.4h0M457.6 294.1h0M440.9 305.4h0M459.8 306.3h0M458.5 301.7h0M443.1 284.0h0M457.6 303.7h0M453.8 287.2h0M434.0 295.0h0M463.1 295.6h0M456.4 307.4h0M453.2 303.7h0M457.7 289.2h0M450.6 310.9h0M435.7 291.8h0M463.3 295.1h0M454.0 287.0h0M463.6 310.2h0M447.6 300.8h0M436.9 293.6h0M456.9 301.9h0M438.9 304.3h0M455.6 292.9h0M457.6 298.3h0M450.2 299.7h0M437.3 295.4h0M440.6 296.6h0M456.2 304.5h0M456.2 296.6h0M475.1 297.8h0M442.5 295.5h0M449.4 296.6h0M462.0 301.4h0M440.0 283.8h0M439.4 299.2h0M456.3 284.4h0M464.9 288.6h0M448.8 302.1h0M450.3 303.1h0M466.9 293.0h0M465.0 294.9h0M446.1 297.3h0M469.7 304.3h0M440.0 301.7h0M465.2 294.4h0M460.4 291.7h0M454.0 286.2h0M461.7 286.5h0M455.6 299.1h0M467.5 296.4h0M461.1 281.6h0M450.2 292.6h0M464.1 314.1h0M461.5 294.9h0M467.1 282.8h0M465.1 291.2h0M437.5 304.3h0M451.8 298.3h0M465.6 289.7h0M475.8 298.1h0M475.0 292.1h0M445.1 288.3h0M457.1 320.0h0M471.1 298.7h0M461.2 292.5h0M461.4 288.1h0M461.4 288.2h0M448.4 303.5h0M464.1 290.4h0M442.6 304.1h0M472.9 291.6h0M461.7 294.2h0M448.9 307.0h0M442.2 285.7h0M456.4 300.5h0M463.9 303.6h0M461.6 308.8h0M457.7 298.8h0M457.0 308.2h0M462.8 301.0h0M471.1 303.3h0M443.2 300.3h0M467.0 314.8h0M461.9 309.5h0M460.8 305.9h0M460.2 304.0h0M461.3 291.1h0M457.1 287.3h0M467.6 301.1h0M465.7 294.9h0M461.1 304.4h0M453.1 287.1h0M476.5 286.0h0M459.5 314.8h0M461.4 299.7h0M456.0 289.9h0M459.8 289.8h0M432.0 293.0h0" stroke="#fbc3c3" stroke-width="1.1" stroke-linecap="square"/>
<path d="M394.6 317.5h0M400.5 318.5h0M394.4 316.6h0M398.5 312.2h0M395.4 321.4h0M394.7 317.1h0M402.8 311.4h0M399.1 318.1h0M395.9 319.4h0M392.9 318.9h0M402.1 313.5h0M402.6 314.7h0M398.7 319.3h0M401.7 312.6h0M401.6 308.9h0M394.0 315.4h0M393.3 321.6h0M392.4 315.8h0M392.3 320.3h0M404.7 313.9h0M392.8 320.4h0M397.0 315.9h0M401.2 316.7h0M399.8 314.5h0M393.2 315.2h0M409.4 310.0h0M391.9 318.0h0M398.2 318.5h0M395.1 317.2h0M397.7 316.0h0M393.9 314.5h0M397.4 318.8h0M391.8 310.6h0M393.5 312.9h0M397.4 318.0h0M403.4 314.9h0M403.1 319.4h0M397.2 317.6h0M395.6 314.3h0M396.3 314.7h0M403.1 317.1h0M404.1 314.6h0M395.5 314.3h0M397.0 316.0h0M395.1 320.7h0M399.8 311.6h0M403.6 317.7h0M396.3 313.4h0M400.3 315.4h0M394.3 315.4h0M399.5 310.7h0M400.9 321.8h0M397.5 317.6h0M392.2 317.9h0M394.7 319.6h0M398.8 319.3h0M403.0 317.2h0M400.8 309.3h0M396.2 319.6h0M400.0 314.9h0M393.3 317.1h0M403.6 314.0h0M398.5 317.0h0M397.2 317.2h0M399.0 316.3h0M402.8 315.4h0M397.0 314.6h0M395.1 316.3h0M396.1 313.9h0M394.6 315.4h0M401.9 317.1h0M395.9 318.5h0M397.3 321.3h0M403.6 312.9h0M394.7 317.7h0M395.2 317.7h0M391.1 319.2h0M404.9 313.6h0M394.7 318.8h0M390.6 316.2h0M400.4 314.6h0M403.1 316.2h0M402.5 315.0h0M395.0 315.2h0M396.9 315.5h0M396.2 317.3h0M406.0 311.5h0M392.5 317.6h0M395.8 312.9h0M397.3 315.0h0M390.5 318.3h0M403.7 318.2h0M398.3 314.2h0M395.5 320.0h0M402.5 311.2h0M403.4 311.7h0M390.5 312.0h0M396.7 316.6h0M397.0 311.7h0M397.0 318.8h0M399.7 316.7h0M393.7 316.1h0M402.7 316.0h0M400.8 319.4h0M394.9 311.2h0M395.6 312.5h0M399.1 311.9h0M404.3 314.1h0M400.0 317.1h0M401.9 311.8h0M407.3 314.7h0M395.9 311.9h0M404.8 311.1h0M398.1 319.7h0M393.7 315.2h0M403.2 319.0h0M397.5 314.7h0M391.7 319.4h0M391.6 316.5h0M397.4 317.8h0M391.2 314.6h0M399.5 320.4h0M404.0 316.3h0M392.0 319.4h0M394.6 311.9h0M397.7 317.5h0M395.0 315.7h0M400.6 317.7h0M398.0 320.7h0M396.3 308.3h0M402.4 312.1h0M403.8 315.4h0M399.9 310.3h0M398.6 317.8h0M394.7 317.6h0M399.8 317.3h0M397.1 320.3h0M400.2 316.4h0M397.2 317.4h0M402.8 312.9h0M396.9 313.0h0M400.5 317.1h0M396.8 312.8h0M398.3 312.2h0M395.6 314.5h0M402.9 320.1h0M401.7 315.3h0M392.4 320.9h0M404.3 320.3h0M395.9 319.5h0M407.0 316.0h0M396.4 317.6h0M403.1 316.8h0M396.0 320.7h0M404.4 318.1h0M393.6 311.4h0M405.7 313.2h0M405.7 314.6h0M394.7 311.5h0M410.7 311.8h0M401.0 321.3h0M404.5 317.3h0M398.0 320.2h0M406.4 314.1h0M398.1 320.0h0M394.3 314.5h0M397.4 321.0h0M399.4 316.3h0M407.7 320.1h0M399.9 314.7h0M402.7 311.7h0M394.5 313.2h0M394.7 315.7h0M408.0 318.5h0M395.7 315.9h0M399.0 315.4h0M399.2 320.5h0M407.0 314.6h0M395.4 319.2h0M401.3 313.2h0M406.2 319.1h0M398.0 320.2h0M402.8 316.0h0M396.7 321.0h0M398.2 320.1h0M402.0 314.7h0M400.3 320.6h0M403.7 319.1h0M397.0 319.1h0M397.7 316.3h0M398.6 315.2h0M397.2 317.7h0M405.5 319.8h0M401.8 315.1h0M392.9 318.6h0" stroke="#9b0c4f" stroke-width="2.2" stroke-linecap="round"/>
<path d="M394.9 314.7h0M400.5 310.7h0M395.2 311.8h0M393.4 318.0h0M391.5 319.6h0M397.2 317.6h0M405.1 311.7h0M394.9 313.4h0M400.3 321.7h0M394.4 320.4h0M395.1 313.0h0M396.2 313.6h0M391.5 315.4h0M397.7 309.5h0M395.3 315.8h0M401.4 312.4h0M399.3 321.6h0M396.2 317.9h0M396.5 307.4h0M392.1 320.4h0M400.7 310.4h0M401.4 315.4h0M397.7 310.3h0M397.1 314.7h0M397.0 318.4h0M403.7 319.3h0M394.5 314.3h0M400.0 313.1h0M391.9 319.0h0M403.4 315.6h0M403.7 317.2h0M395.5 315.5h0M397.2 321.4h0M399.0 314.2h0M390.3 315.3h0M397.6 318.5h0M391.3 321.2h0M394.9 320.6h0M394.1 313.8h0M400.0 313.0h0M401.6 309.0h0M396.4 311.3h0M396.4 320.8h0M398.9 309.3h0M396.1 317.8h0M404.8 310.5h0M402.9 320.7h0M403.8 311.8h0M398.2 313.4h0M393.5 318.7h0M392.7 316.9h0M394.2 321.4h0M396.0 317.3h0M399.9 317.5h0M400.0 317.2h0M403.2 317.4h0M412.9 319.7h0M409.0 318.3h0M396.9 319.0h0M393.9 308.3h0M399.5 316.7h0M400.8 315.0h0M397.8 313.5h0M400.4 320.2h0M411.6 311.1h0" stroke="#9b0c4f" stroke-width="1.1" stroke-linecap="square"/>
<path d="M400.1 319.2h0M393.6 309.2h0M405.2 313.1h0M398.8 316.0h0M395.5 315.7h0M402.2 312.5h0M395.6 308.5h0M400.5 319.3h0M400.2 316.3h0M395.7 315.4h0M400.6 311.4h0M402.7 317.8h0M396.3 317.3h0M409.7 309.6h0M395.5 309.7h0M404.7 311.2h0M400.7 316.1h0M398.9 312.1h0M403.1 314.5h0M400.1 313.5h0M408.2 308.5h0M395.5 311.6h0M405.6 314.0h0M405.2 315.6h0M400.6 311.4h0M405.2 309.7h0M394.5 310.7h0M395.7 316.5h0M401.7 314.7h0M395.1 316.4h0M393.3 308.4h0M398.6 311.8h0M407.5 308.8h0M392.8 308.0h0M394.4 314.0h0M409.6 309.9h0M402.7 305.2h0M394.8 314.1h0M400.8 314.7h0M405.8 311.1h0M395.7 316.7h0M403.2 314.3h0M396.4 312.0h0M402.8 308.4h0M411.7 311.8h0M403.4 310.9h0M404.1 306.6h0M399.1 315.8h0M395.5 314.7h0M402.2 318.6h0M398.7 312.9h0M401.6 311.7h0M400.7 312.5h0M402.6 315.8h0M402.3 311.5h0M394.9 320.7h0M405.8 315.2h0M401.2 308.4h0M396.5 318.9h0M403.3 309.5h0M400.7 317.5h0M391.1 318.2h0M403.7 313.3h0M396.8 311.7h0M401.7 308.7h0M400.8 308.7h0M407.2 309.1h0M401.6 315.3h0M395.1 311.1h0M402.5 314.4h0M396.0 309.2h0M403.9 317.4h0M398.3 314.0h0M400.7 317.8h0M400.7 311.4h0M396.7 320.4h0M398.7 310.6h0M404.4 305.3h0M406.3 313.8h0M402.3 310.6h0M397.2 318.3h0M393.5 319.0h0M409.7 309.1h0M403.6 308.8h0M395.0 309.5h0M397.0 316.5h0M396.3 313.6h0M393.3 316.7h0M407.3 312.1h0M396.7 309.7h0M411.5 312.1h0M396.0 317.1h0M406.0 310.0h0M405.4 311.6h0M405.6 314.7h0M391.2 314.2h0M394.2 311.7h0M401.6 311.5h0M398.2 314.0h0M401.2 309.2h0M404.7 310.1h0M407.9 313.7h0M400.5 312.7h0M404.2 317.6h0M397.7 308.7h0M400.8 314.2h0M392.8 311.8h0M408.0 308.6h0M402.1 310.7h0M396.0 311.5h0M401.3 315.7h0M404.0 315.9h0M396.7 315.1h0M403.8 309.9h0M407.7 314.0h0M400.2 309.5h0M404.4 315.3h0M402.8 310.9h0M399.8 321.8h0M406.8 317.8h0M403.6 309.5h0M399.6 319.7h0M402.1 313.6h0M397.3 317.8h0M402.9 312.8h0M404.7 306.5h0M393.5 309.3h0M392.3 314.5h0M397.8 315.4h0M402.7 312.0h0M399.3 321.6h0M396.6 312.0h0M394.3 310.6h0M395.3 318.5h0M408.8 315.5h0M391.5 317.3h0M398.4 317.8h0M400.7 316.1h0M405.5 315.1h0M401.2 306.4h0M397.8 314.0h0M395.4 308.8h0M396.9 309.5h0M403.6 314.1h0M401.8 315.2h0M397.6 316.4h0M400.8 309.5h0M416.3 306.6h0M412.0 304.6h0M393.7 315.8h0" stroke="#de2079" stroke-width="2.2" stroke-linecap="round"/>
<path d="M401.0 315.9h0M397.8 306.0h0M401.9 312.1h0M406.8 310.2h0M395.3 313.1h0M396.8 317.5h0M404.0 311.3h0M402.6 313.3h0M396.1 316.3h0M408.6 310.2h0M406.0 314.2h0M402.5 313.3h0M398.6 308.7h0M396.4 314.8h0M403.7 314.5h0M395.8 314.0h0M402.6 301.3h0M403.9 320.6h0M399.8 313.5h0M398.0 308.1h0M404.6 306.6h0M407.5 315.7h0M393.5 321.0h0M396.2 317.4h0M405.6 312.2h0M404.3 317.1h0M404.9 308.4h0M406.6 316.1h0M406.8 313.8h0M400.9 319.9h0M398.4 316.6h0M406.0 318.0h0M408.3 312.9h0M390.6 318.1h0M392.7 317.3h0M405.4 316.6h0M396.1 316.1h0M393.8 314.9h0M390.1 315.9h0M407.3 304.2h0M394.0 312.8h0M396.9 308.6h0M407.7 314.1h0M403.7 319.3h0M401.3 306.4h0M391.0 317.4h0M394.1 317.8h0M395.0 313.2h0M394.5 314.6h0M394.5 320.0h0" stroke="#de2079" stroke-width="1.1" stroke-linecap="square"/>
<path d="M391.0 315.7C392.5 315.6 396.8 315.5 400.0 315.0C403.2 314.5 406.7 313.8 410.0 312.5C413.3 311.2 417.0 308.8 420.0 307.0C423.0 305.2 425.8 302.8 428.0 301.5C430.2 300.2 431.3 300.2 433.0 299.5C434.7 298.8 435.2 297.6 438.0 297.3C440.8 297.0 446.3 297.3 450.0 297.6C453.7 297.9 456.7 299.0 460.0 299.3C463.3 299.6 466.7 299.5 470.0 299.3C473.3 299.1 478.3 298.5 480.0 298.3" fill="none" stroke="#111" stroke-width="1.10"/>
<path d="M425.7 373.7h0M434.7 377.1h0M431.8 368.9h0M424.2 383.2h0M417.2 395.1h0M427.6 383.9h0M452.3 368.3h0M407.7 380.0h0M421.1 356.0h0M418.8 376.4h0M416.6 390.4h0M406.6 388.4h0M407.0 385.4h0M419.5 387.8h0M415.9 381.0h0M433.2 382.1h0M436.1 375.0h0M416.5 385.0h0M428.3 374.7h0M413.2 379.6h0M421.7 383.0h0M432.8 374.9h0M434.1 387.5h0M441.1 390.4h0M434.3 383.6h0M432.1 367.2h0M401.4 393.5h0M439.0 370.5h0M438.1 366.9h0M426.2 365.6h0M433.9 365.3h0M433.8 381.3h0M420.5 395.6h0M425.1 378.4h0M446.7 378.2h0M419.0 397.5h0M410.0 388.7h0M417.9 385.7h0M419.7 387.3h0M423.5 379.5h0M422.3 378.5h0M441.6 376.5h0M434.8 370.3h0M430.8 382.1h0M431.4 382.4h0M411.3 398.3h0M426.7 381.8h0M425.2 374.0h0M424.9 376.2h0M445.1 379.4h0M446.9 370.6h0M428.5 383.0h0M435.2 385.8h0M419.7 379.7h0M419.8 373.5h0M434.8 372.3h0M425.9 384.5h0M410.1 395.9h0M427.2 387.8h0M422.2 378.3h0M437.7 375.8h0M424.7 378.2h0M453.3 378.3h0M424.9 388.0h0M442.1 372.9h0M407.3 385.9h0M401.9 387.7h0M439.5 366.7h0M446.0 377.7h0M423.0 383.9h0M396.2 374.7h0M443.3 382.1h0M430.6 377.3h0M442.7 384.7h0M460.6 364.2h0M426.2 373.4h0M459.2 381.7h0M423.6 383.4h0M434.4 376.7h0M427.0 378.6h0M478.1 380.8h0M431.2 382.3h0M422.3 370.9h0M448.2 379.0h0M439.0 375.3h0M428.8 367.2h0M439.2 375.3h0M417.5 381.3h0M431.9 370.1h0M410.0 361.3h0M418.1 371.4h0M440.8 361.9h0M420.3 381.1h0M442.3 393.4h0M402.3 367.6h0M445.2 371.2h0M447.3 379.5h0M463.1 366.0h0M414.1 384.8h0M425.6 375.4h0M412.4 394.6h0M438.3 381.8h0M429.9 376.3h0M410.1 383.2h0M432.7 378.0h0M436.9 366.9h0M421.4 380.8h0M427.9 388.9h0M437.5 361.2h0M450.7 369.1h0M454.5 369.8h0M424.5 387.1h0M407.6 390.1h0M431.5 382.6h0M427.3 378.2h0M437.2 385.2h0M400.8 392.1h0M446.9 386.7h0M425.5 366.1h0M431.1 385.4h0M418.8 388.1h0M410.6 391.9h0M442.8 383.9h0M432.9 368.1h0M411.1 397.7h0M448.2 383.0h0M455.1 363.1h0M431.1 375.6h0M432.7 375.1h0M448.1 369.9h0M414.6 395.9h0M418.7 388.5h0M426.5 380.5h0M409.4 397.3h0M431.6 372.8h0M446.8 368.2h0M444.7 386.4h0M431.1 382.4h0M429.4 366.6h0M426.5 379.3h0M438.6 377.4h0M436.5 391.4h0M418.1 393.4h0M445.9 369.3h0M457.3 374.5h0M436.5 386.4h0M432.2 371.2h0M438.8 380.4h0M444.1 380.6h0M431.8 363.5h0M418.2 381.3h0M442.2 373.4h0M437.8 379.6h0M452.5 379.0h0M430.7 378.8h0M434.3 380.2h0M431.2 382.9h0M426.3 387.3h0M410.4 396.6h0M454.3 367.5h0M425.8 391.1h0M409.2 385.8h0M447.4 371.5h0M433.4 377.8h0M409.4 376.8h0M437.2 374.4h0M418.6 382.6h0M424.7 368.5h0M423.4 378.8h0M418.4 380.2h0M440.1 370.5h0M422.6 384.5h0M417.2 388.2h0M415.1 385.1h0M398.3 389.3h0M445.7 368.5h0M431.6 381.9h0M405.5 395.1h0M414.4 373.3h0M435.2 377.1h0M419.3 383.2h0M427.1 379.2h0M426.1 385.0h0M430.7 369.9h0M443.9 372.6h0M430.3 366.6h0M398.6 387.8h0M440.1 372.9h0M426.5 378.4h0M446.8 378.9h0M465.3 368.9h0M423.7 376.6h0M428.4 371.2h0M454.1 378.1h0M432.5 372.8h0M428.4 370.4h0M441.4 373.2h0M406.8 391.8h0M441.4 369.3h0M429.2 389.7h0M434.7 380.5h0M426.5 379.4h0M446.6 358.6h0M433.1 385.0h0M453.9 376.3h0M433.9 370.3h0M443.8 390.9h0M421.2 379.9h0M422.4 377.0h0M432.6 374.1h0M446.3 375.5h0M430.1 369.4h0M422.7 391.1h0M454.4 376.5h0M441.0 367.1h0M422.1 373.4h0M421.8 378.3h0M431.0 373.7h0M452.8 367.2h0M446.5 356.8h0M433.1 372.6h0M391.3 390.6h0M420.0 373.9h0M441.8 384.4h0M418.1 373.5h0M428.3 374.3h0M435.7 393.8h0M413.3 381.4h0M420.0 375.7h0M414.8 392.8h0M423.6 385.3h0M453.6 362.1h0M419.0 376.0h0M434.2 378.1h0M430.3 359.2h0M404.5 381.2h0M440.8 375.4h0M427.3 382.2h0M417.6 388.8h0M426.2 382.0h0M414.4 392.0h0M431.1 371.1h0M453.0 366.9h0M454.9 374.0h0M423.6 361.8h0M410.9 390.9h0M425.1 383.9h0M456.3 373.9h0M439.0 360.1h0M414.2 381.1h0M423.7 394.4h0M426.2 373.0h0M426.9 377.7h0M424.2 365.0h0M417.6 391.4h0M409.1 395.4h0M418.6 384.8h0M441.6 370.0h0M408.7 381.7h0M400.0 391.9h0M439.9 387.5h0M436.4 387.2h0M426.2 374.5h0M433.0 378.0h0M429.4 376.2h0M436.3 382.4h0M446.1 362.9h0M427.0 397.5h0M453.2 367.1h0M434.1 361.0h0M419.9 381.6h0M455.8 368.9h0M431.3 381.0h0M415.3 386.9h0M401.8 392.8h0M427.9 380.9h0M417.3 391.3h0M432.0 369.6h0M424.1 371.5h0M434.7 384.8h0M433.2 386.9h0M407.7 380.1h0M435.3 377.5h0M428.2 357.6h0M445.9 381.8h0M423.3 375.3h0M464.5 375.4h0M442.8 372.0h0M428.0 375.3h0M419.6 369.5h0M439.7 362.8h0M437.5 370.0h0M426.4 380.6h0M416.8 385.7h0M430.5 383.1h0M452.1 355.9h0M427.4 372.7h0M430.5 383.1h0M447.0 365.6h0M446.2 377.5h0M441.3 368.9h0M443.0 377.4h0M416.3 384.5h0M415.7 390.0h0M408.2 386.8h0M443.4 364.4h0M443.0 363.6h0M441.8 364.1h0M423.1 372.4h0M426.9 378.7h0M426.2 375.3h0M414.2 383.6h0M426.8 377.9h0M456.0 377.8h0M458.3 367.3h0M446.8 368.7h0M422.7 387.3h0M414.6 372.1h0M443.6 380.2h0M424.8 375.4h0M426.3 393.2h0M431.2 378.2h0M428.5 356.8h0M444.5 373.4h0M408.6 381.4h0M439.9 370.8h0M413.3 376.3h0M420.6 391.3h0M419.1 381.2h0M432.8 384.5h0M439.5 375.5h0M425.8 368.6h0M439.1 378.3h0M440.8 384.0h0M414.8 374.7h0M428.9 370.2h0M461.7 373.5h0M440.9 382.0h0M428.8 377.0h0M407.9 393.4h0M423.8 388.6h0M431.8 361.5h0M428.1 367.2h0M458.9 356.9h0M432.6 384.6h0M433.3 370.4h0M421.7 386.8h0M407.2 392.8h0M427.1 382.6h0M422.6 378.6h0M436.3 389.6h0M434.1 382.9h0M436.4 375.2h0M419.8 376.2h0M444.7 371.0h0M406.1 395.1h0M413.6 383.5h0M424.9 395.7h0M440.3 361.9h0M427.0 383.0h0M445.4 384.8h0M416.7 375.3h0M402.7 388.3h0M431.2 383.2h0M415.2 377.9h0M433.1 387.4h0M416.9 392.1h0M448.0 373.9h0M452.7 370.2h0M411.6 388.2h0M414.6 379.9h0M416.0 389.7h0M413.1 397.4h0M415.9 381.5h0M440.3 392.6h0M411.9 397.5h0M463.9 373.0h0M394.3 384.9h0M440.9 365.1h0M440.0 374.9h0M443.9 383.5h0M425.6 383.9h0M411.9 393.5h0M416.9 385.6h0M435.7 362.6h0M427.1 370.5h0M447.1 371.5h0M418.5 394.5h0M448.9 363.9h0M406.9 383.8h0M444.5 385.3h0M438.0 376.2h0M440.9 373.7h0M439.0 376.2h0M443.4 378.8h0M430.3 367.5h0M446.2 382.5h0M454.8 366.6h0M447.7 368.1h0M435.0 382.9h0M426.9 371.8h0M409.1 386.8h0M433.1 382.6h0M415.7 376.9h0M437.4 371.1h0M410.7 383.5h0M433.5 377.1h0M422.5 376.7h0M448.5 380.1h0M414.6 381.6h0M438.8 374.4h0M440.9 381.7h0M432.3 381.4h0M439.4 366.3h0M428.6 375.8h0M412.1 387.9h0M407.4 389.6h0M430.4 376.9h0M440.0 359.9h0M447.3 383.0h0M426.9 371.4h0M418.5 361.9h0M441.4 378.6h0M443.6 380.9h0M436.8 380.4h0M432.9 384.1h0M420.0 378.8h0M442.4 394.0h0M421.0 371.2h0M415.3 394.3h0M429.5 380.4h0M426.0 381.0h0M424.6 367.1h0M437.9 388.1h0M440.8 382.9h0M439.0 378.3h0M457.0 374.0h0M425.3 386.4h0M419.4 375.4h0M435.9 378.4h0M442.5 390.3h0M442.8 374.6h0M428.4 382.8h0M447.0 357.8h0M422.7 381.3h0M411.7 378.2h0M456.9 364.3h0M462.0 377.0h0M425.2 377.4h0M436.1 369.1h0M431.9 364.6h0M417.3 388.8h0M436.5 377.1h0M437.1 360.3h0M460.3 379.4h0M423.4 379.6h0M451.0 382.9h0M431.6 383.7h0M432.4 382.5h0M420.4 374.3h0M457.8 359.8h0M444.4 380.5h0M435.6 373.9h0M445.0 371.5h0M416.2 386.9h0M438.2 382.2h0M423.0 371.1h0M428.6 381.1h0M426.1 393.6h0M435.5 369.8h0M411.9 379.2h0M424.2 362.3h0M433.1 365.7h0M446.6 356.7h0M443.5 384.1h0M403.2 387.2h0M406.5 388.2h0M446.9 369.7h0M402.8 395.2h0M426.2 369.9h0M437.1 378.4h0M441.1 365.7h0M436.8 377.0h0M425.3 390.6h0M451.6 377.9h0M433.1 375.8h0M434.7 361.2h0M420.3 381.6h0M421.4 384.4h0M437.2 369.3h0M424.3 371.1h0M438.4 376.5h0M417.1 393.1h0M417.0 372.1h0M417.3 373.3h0M425.1 384.0h0M411.6 380.2h0M442.3 373.9h0M436.0 378.1h0M412.7 377.4h0M422.8 389.8h0M450.9 361.6h0M415.9 382.9h0M434.6 377.6h0M425.9 371.2h0M441.6 371.1h0M435.1 378.7h0M425.2 390.3h0M432.4 384.3h0M431.3 364.0h0M428.9 382.5h0M459.6 365.8h0M415.7 399.0h0M424.7 384.0h0M404.2 375.1h0M442.9 376.8h0M436.9 374.3h0M439.7 375.1h0M443.9 365.2h0M424.8 371.6h0M395.2 368.7h0M444.4 386.2h0M422.9 361.0h0M419.8 392.4h0M409.3 388.4h0M428.5 369.7h0M411.5 380.6h0M412.1 371.3h0M452.5 351.8h0M434.4 367.0h0M400.8 379.8h0M417.5 371.1h0M435.9 367.4h0M444.9 363.5h0M444.7 363.1h0M417.8 372.3h0M435.3 355.7h0M428.4 370.2h0M416.3 382.1h0M411.7 374.8h0M411.0 375.7h0M429.0 367.1h0M420.9 382.3h0M470.7 372.4h0M428.3 367.3h0M426.9 380.4h0M423.3 380.7h0M434.8 375.2h0M433.9 384.3h0M443.9 362.5h0M425.8 380.9h0M447.1 368.4h0M423.5 381.7h0M425.3 391.7h0M429.5 370.2h0M431.4 378.9h0M434.8 377.3h0M430.2 382.0h0M437.7 388.9h0M435.8 375.0h0M430.6 363.2h0M428.7 385.7h0M442.1 373.3h0M423.3 389.5h0M431.6 389.0h0M422.0 375.9h0M409.9 383.9h0M423.0 377.1h0M410.7 379.2h0M430.6 390.6h0M428.5 380.1h0M425.9 374.5h0M429.4 369.2h0M433.3 363.6h0M424.8 380.1h0M449.5 370.3h0M431.4 383.5h0M448.5 375.4h0M424.9 380.1h0M441.4 372.5h0M431.3 366.7h0M435.5 378.2h0M426.1 379.3h0M439.6 369.1h0M419.2 386.9h0M403.7 385.6h0M451.1 368.4h0M422.8 396.4h0M426.5 381.1h0M418.0 381.4h0M434.3 368.6h0M439.7 373.3h0M439.0 389.7h0M433.6 381.8h0M416.6 377.5h0M433.4 390.0h0M433.3 374.0h0M417.4 384.0h0M443.9 383.7h0M454.0 357.7h0M402.9 396.5h0M418.5 384.7h0M417.5 386.9h0M426.0 392.1h0M441.4 378.5h0M428.1 371.4h0M431.8 374.1h0M433.6 368.1h0M467.9 378.5h0M424.2 377.2h0M433.8 378.9h0M419.2 397.8h0M414.8 390.1h0M440.4 389.5h0M446.7 372.6h0M411.9 384.2h0M459.3 370.3h0M411.0 395.2h0M427.1 376.0h0M419.8 368.0h0M439.2 374.2h0M435.4 384.2h0M428.8 373.8h0M414.9 385.0h0M440.9 382.2h0M441.4 363.9h0M412.7 386.5h0M441.2 377.7h0M439.5 376.3h0M448.3 381.1h0M436.7 373.5h0M411.0 393.6h0M412.4 376.1h0M442.0 374.5h0M458.2 359.8h0M418.0 387.7h0M422.3 396.6h0M423.7 371.9h0M451.5 363.4h0M418.0 383.2h0M429.5 387.1h0M415.0 387.9h0M417.9 370.0h0M434.4 373.7h0M440.8 376.6h0M415.5 383.2h0M420.2 386.5h0M442.5 366.3h0M424.8 384.3h0M435.4 375.5h0M435.5 372.4h0M426.3 387.4h0M425.8 377.4h0M409.8 380.1h0M439.9 373.9h0M423.3 384.6h0M455.7 369.3h0M415.6 382.5h0M451.8 366.4h0M430.6 376.5h0M423.3 381.2h0M443.8 364.9h0M438.3 368.8h0M426.9 353.6h0M442.5 378.3h0M428.9 375.8h0M426.1 383.2h0M430.2 375.7h0M423.0 389.3h0M405.7 377.4h0M422.1 380.4h0M428.2 392.8h0M399.6 391.8h0M428.8 382.2h0M441.5 371.1h0M425.3 375.8h0M445.4 367.2h0M425.9 384.6h0M425.7 366.8h0M423.1 374.2h0M421.7 388.4h0M439.7 378.0h0M441.4 369.0h0M430.5 372.0h0M409.8 382.1h0M424.6 373.7h0M446.9 372.4h0M435.4 370.7h0M417.1 388.9h0M446.7 372.8h0M413.0 374.1h0M453.0 360.5h0M435.6 367.6h0M418.0 381.4h0M430.1 370.2h0M428.6 375.2h0M449.3 364.3h0M425.0 372.0h0M426.0 373.5h0M417.6 376.0h0M463.5 363.0h0M404.1 374.0h0M435.5 391.3h0M417.0 387.0h0M450.7 366.0h0M445.1 358.0h0M430.3 371.7h0M433.2 375.3h0M442.5 374.9h0M448.1 373.6h0M417.0 373.0h0M423.4 394.3h0" stroke="#de6db2" stroke-width="2.2" stroke-linecap="round"/>
<path d="M409.1 389.0h0M432.3 369.5h0M446.2 386.3h0M453.1 357.5h0M471.8 374.6h0M456.2 364.1h0M413.4 393.3h0M433.7 365.6h0M407.4 394.1h0M447.0 377.4h0M433.7 375.6h0M435.6 376.4h0M436.2 363.1h0M449.7 384.0h0M438.4 375.2h0M434.4 368.1h0M415.7 370.0h0M418.5 382.7h0M422.5 376.5h0M452.0 351.8h0M441.0 380.2h0M448.8 379.4h0M414.5 396.9h0M453.4 377.2h0M429.0 366.3h0M444.3 356.1h0M420.4 378.5h0M395.9 387.4h0M425.1 365.7h0M442.8 379.9h0M423.9 377.5h0M430.7 372.4h0M427.5 380.4h0M441.3 370.7h0M429.5 384.5h0M452.7 379.2h0M419.8 375.9h0M432.1 377.1h0M456.3 372.3h0M437.8 373.1h0M444.6 364.1h0M417.9 389.2h0M426.8 360.4h0M440.1 374.7h0M424.9 384.1h0M444.2 385.6h0M428.1 381.7h0M449.7 376.0h0M426.2 386.3h0M441.1 384.5h0M430.9 389.7h0M440.1 377.7h0M428.7 380.5h0M401.7 388.0h0M448.1 380.4h0M426.0 356.2h0M403.0 380.6h0M434.4 378.0h0M421.5 384.0h0M413.8 383.6h0M422.2 383.9h0M431.1 393.6h0M441.9 386.8h0M422.9 389.9h0M428.4 376.0h0M432.3 360.1h0M449.0 355.8h0M439.9 376.1h0M409.6 377.2h0M432.7 371.6h0M430.4 369.6h0M426.1 372.7h0M434.1 368.8h0M432.6 364.7h0M401.5 393.8h0M425.6 375.4h0M429.8 359.0h0M397.3 392.5h0M426.3 376.4h0M424.2 397.3h0M435.4 378.5h0M442.4 376.6h0M427.8 393.3h0M425.5 370.6h0M443.6 380.6h0M446.0 369.8h0M439.8 359.2h0M412.1 390.4h0M421.2 378.4h0M423.3 369.0h0M426.8 370.7h0M394.8 385.5h0M461.8 369.3h0M424.8 368.2h0M424.8 394.6h0M460.9 386.0h0M414.8 388.4h0M437.2 369.7h0M439.2 376.3h0M426.7 378.9h0M409.2 394.8h0M456.2 362.3h0M430.0 393.6h0M407.6 380.0h0M414.2 382.9h0M432.8 367.7h0M420.2 396.7h0M415.6 396.6h0M442.5 370.9h0M420.8 380.1h0M460.2 370.3h0M420.7 391.0h0M438.0 377.1h0M413.0 373.1h0M419.4 397.8h0M395.6 389.7h0M435.6 364.7h0M429.8 360.0h0M417.7 386.3h0M415.4 388.8h0M434.1 371.2h0M418.9 386.7h0M446.8 389.0h0M428.4 366.4h0M447.6 375.0h0M424.8 374.8h0M426.8 361.5h0M430.7 378.0h0M399.8 374.0h0M398.7 386.6h0M446.6 368.4h0M439.0 396.7h0M439.5 379.9h0M424.2 379.8h0M414.2 393.3h0M426.5 378.7h0M426.3 384.8h0M450.0 370.4h0M424.0 377.3h0M427.9 392.3h0M419.4 369.3h0M401.4 389.8h0M428.3 376.5h0M438.1 355.1h0M434.5 383.5h0M402.6 388.1h0M436.2 383.9h0M430.4 364.5h0M460.9 365.4h0M426.2 376.5h0M429.7 368.8h0M430.1 384.2h0M433.0 374.2h0M415.6 397.4h0M408.1 392.3h0M437.9 380.6h0M434.4 364.7h0M416.4 366.8h0M430.4 374.2h0M396.8 382.6h0M431.7 387.8h0M428.1 382.2h0M424.9 379.9h0M442.0 370.7h0M442.7 383.4h0M455.6 361.2h0M438.2 376.9h0M409.8 381.9h0M434.7 384.3h0M406.7 376.1h0M420.4 382.6h0M416.1 393.9h0M417.9 369.2h0M425.7 379.0h0M422.0 370.1h0M406.7 375.2h0M446.6 387.5h0M417.7 385.8h0M449.3 381.4h0M445.5 363.4h0M451.3 382.6h0M420.1 361.8h0M419.2 390.5h0M428.0 378.3h0M412.2 392.4h0M428.1 390.4h0M432.0 384.5h0M448.8 367.3h0M402.2 394.6h0M419.7 361.7h0M436.1 368.9h0M429.3 362.0h0M407.1 396.9h0M439.7 372.6h0M429.0 380.1h0M428.6 381.7h0M436.0 375.6h0M401.6 375.8h0M415.1 382.8h0M457.7 366.2h0M402.1 395.1h0M431.3 381.3h0M458.6 371.2h0M455.8 361.9h0M421.1 386.3h0M405.1 394.4h0M423.1 384.8h0M431.3 389.5h0M443.9 385.2h0M439.4 370.1h0M424.0 397.1h0M430.7 381.9h0M446.5 361.7h0M422.5 376.1h0M422.7 392.8h0M437.7 384.7h0M444.3 373.7h0M426.6 382.7h0M444.7 385.1h0M421.5 383.9h0M429.5 381.1h0M428.8 372.4h0M455.8 357.7h0M427.8 376.3h0M406.2 388.4h0M404.4 387.0h0M430.9 386.1h0M448.3 391.7h0M446.8 379.9h0M435.4 386.4h0M421.3 381.9h0M425.2 396.1h0M404.4 393.0h0M448.9 391.4h0M442.4 366.1h0M433.5 374.1h0M434.9 377.0h0M430.6 367.4h0" stroke="#de6db2" stroke-width="1.1" stroke-linecap="square"/>
<path d="M433.8 376.4h0M428.8 377.9h0M447.3 374.4h0M445.6 390.4h0M428.1 388.4h0M442.9 373.9h0M443.8 371.5h0M442.9 370.7h0M459.9 362.5h0M447.2 368.6h0M452.8 362.4h0M449.3 373.8h0M446.1 379.7h0M435.3 378.5h0M451.2 380.3h0M446.0 376.9h0M441.3 352.7h0M449.0 362.8h0M443.4 373.2h0M451.4 369.2h0M457.3 373.9h0M451.8 371.8h0M448.1 376.9h0M434.8 375.3h0M438.2 368.4h0M439.0 377.3h0M434.0 373.8h0M431.7 378.0h0M438.4 378.4h0M429.8 385.6h0M444.1 368.7h0M455.8 355.2h0M427.9 382.7h0M442.1 388.5h0M450.6 373.4h0M432.7 375.4h0M456.4 376.9h0M440.3 386.3h0M449.3 367.2h0M438.3 373.1h0M436.4 390.7h0M448.4 377.0h0M434.7 369.5h0M446.1 375.4h0M441.8 376.5h0M437.3 367.8h0M445.0 370.4h0M439.3 365.0h0M447.9 369.1h0M446.0 369.6h0M453.2 379.5h0M450.7 371.1h0M453.4 367.0h0M433.8 366.5h0M426.2 378.2h0M447.1 359.2h0M438.8 360.0h0M453.9 371.9h0M443.1 374.7h0M433.8 370.5h0M454.3 368.5h0M438.2 380.2h0M439.7 378.9h0M445.5 376.5h0M447.5 373.8h0M456.5 366.6h0M430.0 376.1h0M441.4 373.5h0M438.1 371.5h0M448.3 380.7h0M439.4 379.4h0M433.9 370.5h0M427.1 371.6h0M440.7 376.4h0M434.1 386.3h0M442.6 375.3h0M446.3 381.0h0M442.7 380.3h0M454.8 375.4h0M443.1 378.9h0M445.4 365.3h0M438.0 386.1h0M441.8 372.0h0M435.2 375.8h0M438.5 381.0h0M443.3 374.7h0M441.7 378.7h0M439.9 383.0h0M454.5 374.9h0M452.1 386.2h0M448.3 378.7h0M446.5 373.0h0M428.4 373.0h0M447.8 379.5h0M440.7 380.8h0M451.0 356.7h0M446.9 369.4h0M444.6 375.5h0M449.3 366.1h0M453.0 374.8h0M430.6 381.9h0M446.0 379.7h0M434.2 381.6h0M443.4 382.0h0M459.0 367.9h0M437.7 372.3h0M442.5 373.5h0M424.5 382.5h0M444.3 375.9h0M458.4 356.7h0M441.8 381.8h0M442.4 381.5h0M430.2 364.5h0M447.2 368.3h0M434.6 369.7h0M450.6 377.1h0M446.2 387.0h0M430.5 374.9h0M450.4 365.5h0M441.2 369.4h0M440.3 384.9h0M444.4 384.9h0M440.0 372.1h0M441.4 378.1h0M444.4 369.3h0M464.9 368.3h0M431.8 374.8h0M451.3 379.3h0M443.2 376.3h0M433.3 381.4h0M445.5 381.9h0M439.5 376.8h0M446.4 383.9h0M439.5 367.9h0M431.6 393.4h0M439.0 386.0h0M449.1 369.9h0M438.7 369.6h0M444.2 367.5h0M446.5 386.4h0M454.2 369.0h0M428.3 372.4h0M444.0 376.5h0M451.8 366.9h0M460.3 366.2h0M429.5 368.7h0M440.4 360.0h0M443.7 373.1h0M442.6 377.5h0M429.1 372.1h0M443.7 366.7h0M442.8 364.2h0M449.0 361.0h0M428.1 381.7h0M447.6 376.4h0M439.4 365.6h0M448.1 380.9h0M451.6 381.5h0M450.2 363.0h0M436.9 377.8h0M439.2 382.1h0M455.8 371.7h0M458.5 367.6h0M440.8 371.7h0M433.2 378.6h0M439.0 373.1h0M438.2 371.4h0M431.4 379.0h0M442.8 376.4h0M441.9 379.1h0M443.4 365.6h0M445.9 379.4h0M438.8 381.4h0M435.2 378.4h0M442.5 379.9h0M457.2 379.2h0M434.0 380.3h0M445.5 373.5h0M438.7 374.9h0M448.7 375.0h0M437.9 374.7h0M446.5 379.0h0M456.1 367.6h0M433.4 369.7h0M448.4 379.7h0M440.5 385.0h0M430.7 373.1h0M444.8 371.1h0M429.2 386.1h0M447.3 377.2h0M445.2 370.6h0M442.4 381.0h0M454.9 371.3h0M444.9 361.7h0M436.6 381.1h0M439.0 372.5h0M434.2 363.5h0M438.9 378.7h0M443.9 363.8h0M440.0 379.8h0M466.0 366.7h0M441.3 393.8h0M433.7 384.9h0M440.1 376.3h0M453.9 367.1h0M451.1 382.8h0M452.7 366.3h0M460.8 360.8h0M437.1 371.9h0M451.9 372.3h0M452.0 370.1h0M449.0 369.8h0M433.5 389.1h0M445.0 363.6h0M446.5 366.1h0M451.0 378.0h0M438.9 379.3h0M456.4 367.5h0M436.5 379.1h0M443.5 370.4h0M443.3 380.8h0M435.8 381.3h0M461.8 368.3h0M444.2 365.8h0M445.8 362.6h0" stroke="#d5b1dc" stroke-width="2.2" stroke-linecap="round"/>
<path d="M455.3 388.8h0M440.0 375.1h0M442.4 368.9h0M441.3 361.7h0M432.6 385.7h0M448.4 376.2h0M443.4 375.6h0M453.9 369.2h0M445.1 385.4h0M446.5 364.4h0M440.5 366.0h0M453.2 360.6h0M442.1 376.1h0M430.9 389.0h0M445.4 385.8h0M456.4 363.4h0M457.5 366.9h0M447.1 364.2h0M446.6 364.5h0M429.6 357.0h0M443.5 380.7h0M437.3 371.9h0M431.2 371.3h0M439.3 362.7h0M441.5 391.2h0M452.6 378.5h0M456.1 355.9h0M444.0 356.8h0M429.1 387.3h0M462.6 381.9h0M429.9 389.2h0M429.2 376.5h0M442.4 388.7h0M448.1 365.5h0M445.2 372.5h0M448.0 376.6h0M435.9 382.7h0M438.4 374.4h0M433.0 377.6h0M439.2 376.4h0M443.4 379.6h0M440.7 372.0h0M441.4 377.7h0M446.9 369.0h0M435.3 365.1h0M431.9 381.2h0M458.8 354.6h0M444.2 381.5h0M459.6 368.7h0M442.1 375.5h0M445.7 374.6h0M427.3 367.6h0M447.5 363.6h0M438.0 375.4h0M426.0 372.6h0M452.9 360.0h0M457.7 370.3h0M434.6 374.1h0M451.7 385.1h0M451.1 371.0h0M442.6 389.2h0M442.8 390.1h0M444.5 376.4h0M441.8 366.3h0M472.5 366.3h0M454.8 374.1h0M427.8 380.4h0M441.4 380.7h0M438.4 376.1h0M443.0 385.0h0M428.9 367.7h0M444.8 388.2h0M455.3 368.8h0M443.5 361.6h0M433.1 381.6h0" stroke="#d5b1dc" stroke-width="1.1" stroke-linecap="square"/>
<path d="M463.6 361.0h0M461.3 361.8h0M458.5 357.1h0M463.8 353.4h0M441.5 362.6h0M446.8 367.2h0M458.5 359.6h0M454.2 359.7h0M446.8 367.4h0M445.9 372.6h0M463.2 356.1h0M449.1 357.0h0M459.9 356.9h0M460.8 356.5h0M447.5 370.8h0M449.8 365.7h0M452.2 362.8h0M442.3 374.7h0M459.2 363.7h0M453.1 352.4h0M447.3 369.9h0M467.6 372.9h0M450.5 364.1h0M450.6 366.9h0M446.3 360.8h0M460.3 369.9h0M458.4 352.6h0M461.1 357.6h0M460.5 363.7h0M469.1 362.7h0M449.6 362.0h0M452.5 364.5h0M461.9 357.5h0M451.1 356.7h0M461.3 357.6h0M470.0 359.5h0M461.2 359.8h0M447.1 361.4h0M455.2 364.5h0M447.0 358.4h0M433.0 363.8h0M442.7 363.1h0M472.0 373.2h0M475.1 367.3h0M453.2 360.4h0M466.9 355.8h0M454.7 366.5h0M449.2 374.5h0M455.2 357.3h0M469.8 365.7h0M457.6 364.3h0M460.1 353.0h0M453.9 365.8h0M458.6 365.5h0M453.1 360.9h0M456.2 361.4h0M454.4 361.6h0M445.3 373.6h0M454.9 369.8h0M450.4 367.2h0M470.8 357.7h0M454.5 357.2h0M463.3 352.4h0M448.9 353.5h0M450.2 367.1h0M454.9 356.2h0M455.1 354.7h0M450.0 366.1h0M444.6 366.7h0M458.4 356.5h0M451.8 360.2h0M461.8 353.5h0M452.0 360.9h0M452.9 354.6h0M469.4 360.5h0M452.0 369.3h0M448.2 363.5h0M464.9 364.7h0M459.8 359.5h0M454.7 362.7h0M457.3 359.3h0M447.9 367.2h0M446.2 371.7h0M457.5 364.8h0M458.0 358.7h0M445.1 367.7h0M463.4 356.2h0M455.5 358.2h0M463.4 354.0h0M452.2 360.0h0M470.4 363.7h0M469.5 352.6h0M467.5 358.5h0M458.5 353.3h0M449.2 355.9h0M451.8 358.9h0M446.6 367.4h0M453.8 358.3h0M454.7 357.9h0M459.6 355.3h0M460.2 354.5h0M447.1 357.1h0M455.0 362.0h0M454.5 358.7h0M457.5 360.9h0M460.6 360.3h0M442.1 369.8h0M462.0 360.4h0M451.5 356.9h0M455.4 355.8h0M461.7 360.4h0M468.3 358.9h0M469.2 367.6h0M450.8 365.1h0M451.0 368.9h0M459.1 360.2h0M449.1 359.7h0M458.3 363.3h0M459.8 362.5h0M451.9 356.3h0M455.3 352.1h0M452.0 368.2h0M445.7 358.2h0M463.3 352.9h0M450.3 371.6h0M444.0 369.4h0M456.9 356.7h0M448.3 364.6h0M443.2 364.7h0M451.0 360.9h0M459.2 357.2h0M456.2 356.1h0M443.8 362.7h0M455.4 361.6h0M455.1 354.8h0M475.5 360.9h0M450.9 360.8h0M462.5 355.6h0M458.4 359.0h0M459.7 354.5h0M454.9 362.3h0M455.0 366.1h0M451.6 358.9h0M451.8 362.5h0M461.2 369.7h0M459.0 357.7h0M459.3 363.4h0M453.2 365.0h0M451.7 359.6h0M453.5 358.9h0M461.7 357.2h0M452.8 366.7h0M454.7 358.9h0M440.4 373.8h0M453.8 358.0h0M462.7 353.0h0M455.5 364.0h0M449.0 359.9h0M453.8 359.6h0M452.6 363.9h0M453.8 364.6h0M456.4 356.8h0M438.1 368.0h0M444.6 373.0h0M461.6 354.4h0M460.3 359.0h0M446.3 360.5h0M446.7 358.6h0M450.1 356.8h0M450.5 366.5h0M457.7 354.6h0M453.2 363.3h0M459.1 354.6h0M444.3 364.1h0M451.3 367.1h0M466.6 352.9h0M457.1 360.6h0M445.6 366.6h0M448.5 367.6h0M453.4 354.6h0M455.2 359.9h0M449.1 369.2h0M452.2 357.2h0M441.5 361.9h0M456.5 359.9h0M456.0 359.3h0M450.0 357.1h0M449.9 360.3h0M456.1 364.1h0M439.4 363.8h0M462.1 360.1h0M457.0 357.9h0M457.0 353.1h0M456.4 360.7h0M455.5 359.0h0M446.4 363.8h0M459.0 353.6h0M447.0 358.9h0M456.7 365.6h0M452.9 356.6h0M445.7 376.7h0M457.5 357.6h0M439.1 368.5h0M456.5 361.0h0M467.7 368.9h0M445.1 368.6h0M452.8 362.7h0M451.9 362.1h0M451.5 363.4h0M460.0 359.1h0M445.1 369.9h0M466.6 361.0h0M455.7 366.3h0M470.0 355.5h0M448.2 364.2h0M458.8 359.1h0M462.3 357.5h0M455.0 364.8h0M460.4 351.9h0M464.3 362.1h0M452.0 357.9h0M463.3 365.2h0M447.8 370.9h0M453.3 363.8h0M464.4 363.3h0M455.8 359.9h0M447.9 357.9h0M450.5 359.8h0M453.7 361.6h0M452.0 365.3h0M465.5 356.8h0M452.8 360.1h0M463.8 353.9h0M451.8 367.7h0M475.2 361.0h0M465.9 357.1h0M457.0 358.7h0M456.8 357.3h0M450.9 378.2h0M454.8 358.0h0M451.8 362.9h0M453.6 365.7h0M458.6 362.4h0M444.9 363.3h0M453.7 365.4h0M455.4 366.9h0M452.4 358.5h0M447.5 364.7h0M442.4 370.3h0M452.4 360.5h0M451.1 356.7h0M438.9 370.4h0M464.0 364.8h0M463.0 361.5h0M455.6 360.0h0M446.4 361.5h0M452.7 361.5h0M445.3 363.6h0M477.0 355.4h0M442.9 377.0h0M460.8 360.0h0M454.1 358.6h0M452.0 365.2h0M447.5 361.4h0M470.2 375.1h0M460.7 363.6h0M459.4 356.0h0M456.5 354.7h0M456.1 364.0h0M453.6 357.5h0M460.6 361.6h0M448.8 357.8h0M462.9 368.8h0M455.2 364.8h0M461.2 358.2h0M449.9 368.9h0M456.0 352.1h0M448.6 364.9h0M452.1 365.7h0M451.8 357.7h0M460.5 357.5h0M467.0 362.4h0M453.9 355.0h0M434.5 374.8h0M439.6 364.2h0M447.0 366.0h0M449.0 362.8h0M459.2 358.1h0M470.7 357.7h0M453.1 365.0h0M466.1 360.1h0M453.4 364.5h0M455.9 353.8h0M461.4 354.8h0M461.8 356.7h0M461.0 357.5h0M471.1 352.2h0M450.8 355.1h0M455.9 359.7h0M445.4 362.6h0M453.6 355.1h0M456.8 354.2h0M451.1 363.8h0M445.9 367.9h0M445.4 366.1h0M449.6 359.5h0M446.3 366.4h0M448.4 376.6h0M463.2 361.2h0M456.8 354.6h0M449.1 357.6h0M463.4 351.7h0M449.6 363.4h0M446.1 362.4h0M467.6 359.5h0M442.4 359.3h0M463.1 359.9h0M456.1 359.0h0M457.7 355.9h0M459.9 355.9h0M459.5 356.0h0M450.1 354.7h0M454.6 365.0h0M455.6 362.5h0M458.2 355.2h0M437.9 363.0h0M461.0 353.0h0M455.8 359.3h0M469.9 354.3h0M456.9 371.3h0M437.5 359.1h0M444.3 361.4h0M456.9 355.8h0M457.6 364.2h0M458.9 360.3h0M459.3 359.3h0M450.6 368.1h0M450.8 360.0h0M452.2 356.1h0M467.6 366.1h0M467.0 355.6h0M452.9 365.6h0M455.0 362.9h0M456.3 361.4h0M455.7 375.9h0M454.7 364.4h0M465.3 355.6h0M444.0 365.6h0M453.0 366.3h0M455.8 359.5h0M450.7 361.4h0M430.4 360.3h0M438.1 368.6h0M455.6 356.7h0M448.3 359.9h0M457.2 353.6h0M455.9 363.0h0M457.4 362.7h0M455.2 365.2h0M449.8 360.2h0M455.0 363.5h0M433.1 360.3h0M455.4 365.3h0M453.9 360.3h0M458.9 363.6h0M454.3 374.9h0M461.7 353.6h0M450.3 358.7h0M455.4 362.8h0M442.0 365.7h0M467.8 357.8h0M443.7 360.5h0M466.4 352.8h0M464.5 361.1h0M442.1 359.8h0M447.8 360.0h0M461.7 355.0h0M457.4 353.9h0M445.8 369.7h0M455.4 364.7h0M449.5 372.2h0M448.7 362.5h0M456.2 359.9h0M460.5 359.4h0M453.7 357.9h0M452.4 368.4h0M457.7 355.8h0M442.4 362.6h0M456.2 355.0h0M462.3 354.4h0" stroke="#fbc3c3" stroke-width="2.2" stroke-linecap="round"/>
<path d="M453.9 352.2h0M453.8 362.9h0M467.1 366.7h0M437.1 375.9h0M451.5 358.1h0M451.1 363.6h0M464.2 353.9h0M441.1 357.9h0M451.5 369.4h0M447.0 368.9h0M448.7 378.2h0M446.3 359.5h0M466.6 357.5h0M458.2 359.2h0M440.3 372.0h0M468.0 362.3h0M443.2 357.3h0M464.4 358.4h0M455.3 364.5h0M450.5 362.2h0M440.2 364.7h0M440.0 367.4h0M451.0 362.4h0M449.0 364.1h0M450.9 369.8h0M463.3 364.5h0M447.1 353.4h0M454.4 355.8h0M446.9 363.3h0M445.3 361.1h0M452.6 363.3h0M439.7 379.6h0M449.5 384.6h0M453.0 364.1h0M473.4 372.4h0M448.6 369.9h0M453.9 370.7h0M444.7 364.5h0M449.3 362.4h0M451.1 358.0h0M470.3 357.4h0M461.4 357.2h0M465.5 368.3h0M459.0 372.9h0M450.2 363.8h0M446.2 374.6h0M449.1 354.3h0M441.5 366.6h0M450.1 359.2h0M444.2 357.9h0M440.7 369.1h0M450.0 363.1h0M465.0 354.6h0M459.6 356.7h0M452.3 365.9h0M461.3 360.2h0M452.6 366.2h0M475.2 357.1h0M448.0 373.6h0M454.1 367.9h0M457.4 356.0h0M460.6 357.6h0M439.7 376.8h0M447.6 373.8h0M471.5 361.3h0M465.7 354.1h0M464.6 353.9h0M449.1 359.6h0M471.5 363.0h0M457.0 365.1h0M446.7 361.9h0M458.2 355.8h0M454.6 365.8h0M459.4 352.3h0M471.9 352.4h0M460.6 361.9h0M463.5 356.4h0M461.2 359.8h0M460.3 364.9h0M442.4 368.3h0M462.6 362.4h0M446.0 375.5h0M454.5 352.8h0M448.5 368.1h0M438.6 366.1h0M460.8 357.2h0M454.1 362.0h0M450.6 358.6h0M445.5 359.6h0M452.0 364.4h0M449.6 355.1h0M452.4 356.2h0M445.5 369.0h0M465.0 355.1h0M465.8 353.8h0M444.2 360.4h0M459.0 368.4h0M446.4 366.1h0M449.3 365.2h0M444.8 377.1h0M447.7 360.0h0M457.6 362.4h0M450.6 369.3h0M447.4 364.1h0M457.4 354.7h0M467.0 355.0h0M453.4 354.0h0M453.6 362.8h0M461.4 360.6h0M463.0 364.9h0M456.9 359.1h0M460.5 364.7h0M454.7 357.0h0M448.2 354.1h0M453.6 366.1h0M445.0 366.4h0M460.8 353.0h0M447.6 369.2h0M462.6 355.4h0M445.7 372.5h0M453.6 363.4h0M471.0 353.7h0M457.0 366.0h0M450.3 370.3h0M464.5 353.9h0M464.6 354.3h0M470.4 367.7h0M464.5 362.5h0M444.0 369.3h0M443.7 372.1h0" stroke="#fbc3c3" stroke-width="1.1" stroke-linecap="square"/>
<path d="M399.2 392.8h0M391.1 390.8h0M393.1 387.8h0M399.4 393.6h0M398.5 382.7h0M400.5 392.6h0M395.3 392.6h0M398.4 392.8h0M401.4 387.5h0M397.4 384.7h0M398.0 387.6h0M400.5 389.9h0M403.3 389.8h0M395.2 386.9h0M398.3 383.8h0M397.7 393.5h0M393.0 384.7h0M392.9 385.5h0M400.6 377.5h0M400.6 394.6h0M398.4 394.8h0M390.1 387.7h0M394.2 388.9h0M393.1 389.7h0M407.3 388.1h0M395.9 391.0h0M398.2 383.9h0M401.6 385.4h0M402.1 382.4h0M391.1 389.2h0M393.7 381.8h0M396.0 391.6h0M390.8 390.6h0M401.5 386.3h0M396.6 387.6h0M401.5 396.3h0M397.9 393.3h0M398.7 389.0h0M391.0 391.2h0M395.9 392.0h0M401.5 393.0h0M391.4 389.0h0M408.4 384.2h0M397.2 381.6h0M404.4 390.2h0M398.6 394.7h0M397.7 393.8h0M395.0 391.2h0M400.1 390.0h0M403.9 391.9h0M399.3 389.2h0M397.7 398.8h0M395.0 389.8h0M401.2 391.3h0M394.7 384.1h0M405.0 391.6h0M398.3 392.6h0M400.3 390.1h0M400.3 389.0h0M403.1 386.9h0M396.0 388.1h0M403.1 388.2h0M391.2 389.4h0M394.6 384.1h0M399.5 398.8h0M398.8 381.4h0M398.5 389.0h0M402.1 388.9h0M392.9 386.9h0M399.4 387.1h0M393.6 387.8h0M390.7 384.1h0M400.6 397.5h0M397.3 383.5h0M395.8 387.3h0M399.3 391.0h0M402.2 385.0h0M402.1 381.0h0M401.9 392.4h0M396.4 385.9h0M398.5 390.5h0M402.4 396.2h0M391.8 389.1h0M396.6 389.6h0M395.9 377.6h0M391.8 377.8h0M401.0 387.8h0M394.4 385.2h0M394.8 388.3h0M397.7 388.9h0M398.5 384.3h0M397.7 386.6h0M390.5 385.6h0M400.0 379.4h0M405.8 383.6h0M404.9 385.7h0M400.3 392.3h0M393.5 393.6h0M396.4 385.1h0M399.6 390.9h0M394.4 388.5h0M395.6 384.2h0M395.5 389.2h0M394.5 389.0h0M398.4 387.6h0M403.8 388.3h0M398.2 380.4h0M406.0 389.8h0M393.0 388.8h0M400.3 389.5h0M402.2 395.2h0M395.6 381.7h0M399.2 384.3h0M397.6 390.6h0M392.2 390.1h0M393.2 384.4h0M400.1 388.7h0M393.6 385.9h0M397.6 390.1h0M407.9 379.9h0M400.4 382.0h0M396.3 387.1h0M404.7 387.4h0M395.4 386.0h0M393.3 385.1h0M393.4 388.1h0M396.7 383.1h0M406.9 387.7h0M402.2 382.0h0M402.3 388.2h0M403.7 386.3h0M396.5 389.4h0M398.6 389.1h0M412.3 383.3h0M398.2 393.4h0M397.6 381.1h0M390.2 385.8h0M395.2 381.0h0M395.4 397.0h0M405.0 393.0h0M409.3 385.8h0M394.2 387.7h0M399.8 387.9h0M399.7 390.8h0M392.6 392.3h0M395.8 389.7h0M397.1 387.1h0M396.1 390.0h0M405.4 383.0h0M406.2 388.0h0M394.9 389.4h0M399.2 383.4h0M392.6 386.2h0M398.2 387.5h0M396.0 394.1h0M399.2 392.2h0M394.8 387.4h0M400.7 388.5h0M401.9 390.3h0M398.1 396.2h0M399.3 394.2h0M396.6 387.8h0M402.1 391.8h0M399.7 381.4h0M394.5 381.7h0M402.4 390.9h0M394.5 392.9h0M396.0 383.7h0M398.7 393.8h0M397.9 383.7h0M408.3 380.8h0M393.5 397.1h0M398.4 390.0h0M402.0 387.5h0M393.0 385.9h0M404.4 391.5h0M390.9 389.5h0M400.3 380.8h0M393.2 389.2h0M404.6 390.4h0M397.3 389.1h0M398.3 393.5h0M398.9 389.7h0M392.7 391.0h0M400.0 390.4h0M402.1 392.6h0M394.3 388.4h0M393.6 390.8h0M396.9 390.7h0M394.9 387.6h0M394.5 388.1h0M394.7 394.0h0M405.4 385.5h0M393.9 384.0h0M401.7 391.4h0M396.7 385.9h0M402.3 384.9h0M392.3 393.5h0M400.9 389.6h0M399.5 393.5h0M396.5 390.2h0M393.0 391.2h0M393.2 385.7h0M403.4 393.3h0M394.7 386.7h0M399.7 389.4h0M406.3 379.4h0M396.5 384.0h0M394.3 381.6h0M404.2 388.8h0" stroke="#9b0c4f" stroke-width="2.2" stroke-linecap="round"/>
<path d="M397.9 392.2h0M395.8 382.3h0M399.5 390.0h0M411.7 389.8h0M398.1 386.8h0M403.2 384.3h0M395.3 393.5h0M395.0 387.4h0M396.3 392.0h0M392.3 389.4h0M397.3 392.1h0M399.3 386.0h0M400.1 387.9h0M404.1 390.2h0M401.7 388.4h0M404.3 386.9h0M402.0 383.8h0M398.8 389.7h0M397.9 380.4h0M409.3 382.7h0M398.7 387.3h0M399.9 397.7h0M410.4 391.4h0M399.0 396.2h0M400.9 392.7h0M400.3 384.4h0M390.4 386.2h0M391.2 391.8h0M410.1 382.6h0M402.7 382.3h0M404.1 391.3h0M398.1 385.4h0M392.0 384.6h0M395.4 397.3h0M392.1 386.9h0M403.9 389.6h0M400.2 375.1h0M395.4 394.4h0M403.7 385.8h0M401.1 394.9h0M392.5 380.7h0M409.0 387.8h0M398.5 394.6h0M395.8 381.5h0M404.9 386.8h0M396.3 385.4h0M404.3 394.5h0M396.1 388.5h0M396.7 387.7h0M398.4 389.1h0M398.0 391.5h0M390.4 388.5h0M400.5 392.9h0M396.0 382.3h0M400.5 384.0h0M409.4 387.4h0M405.5 384.0h0M394.2 383.7h0M390.3 385.6h0M391.6 383.3h0M407.7 383.1h0M392.9 391.3h0M402.7 379.2h0M402.7 396.7h0M391.9 385.3h0M399.9 390.7h0M398.1 378.8h0M398.2 395.8h0M399.6 385.5h0M394.7 388.5h0" stroke="#9b0c4f" stroke-width="1.1" stroke-linecap="square"/>
<path d="M396.4 385.6h0M398.9 389.2h0M393.6 387.6h0M400.0 385.2h0M400.5 387.1h0M401.2 381.8h0M395.4 391.8h0M391.4 389.8h0M393.4 387.4h0M405.5 389.3h0M404.3 388.6h0M390.7 389.0h0M406.4 385.3h0M407.2 382.8h0M402.8 383.7h0M402.6 384.2h0M393.6 393.3h0M407.9 387.6h0M400.6 385.2h0M399.7 387.9h0M406.9 387.6h0M398.6 384.0h0M398.5 389.7h0M401.7 383.2h0M399.9 389.1h0M393.9 383.3h0M400.0 386.1h0M401.9 385.0h0M397.1 380.2h0M407.4 392.4h0M390.1 385.6h0M405.0 392.6h0M407.4 381.4h0M398.7 376.1h0M405.4 377.0h0M391.2 387.6h0M391.9 383.9h0M393.3 386.2h0M392.3 381.7h0M405.2 387.1h0M409.8 386.8h0M402.8 382.8h0M406.4 393.1h0M404.2 382.3h0M414.6 378.7h0M404.1 384.1h0M393.5 384.2h0M402.9 384.5h0M400.9 379.4h0M392.0 382.8h0M399.7 385.5h0M396.5 379.3h0M391.7 395.2h0M397.5 388.1h0M403.5 387.5h0M407.5 376.1h0M403.8 390.2h0M391.3 387.4h0M393.6 381.2h0M406.1 376.5h0M401.2 388.9h0M403.6 386.1h0M407.4 385.4h0M399.0 379.7h0M404.3 392.9h0M395.6 388.3h0M398.8 384.3h0M406.4 380.6h0M402.5 384.2h0M396.1 391.4h0M401.6 391.3h0M410.8 386.1h0M390.4 389.3h0M406.2 383.1h0M398.1 390.0h0M396.6 376.6h0M402.7 386.8h0M411.2 379.8h0M411.6 375.8h0M406.0 388.7h0M402.5 389.2h0M397.1 386.3h0M407.3 387.2h0M398.3 388.4h0M411.8 383.0h0M397.7 392.9h0M405.8 387.4h0M405.5 389.0h0M402.7 383.2h0M398.9 382.0h0M408.0 386.9h0M390.5 383.0h0M399.8 387.7h0M400.7 379.0h0M392.8 390.9h0M396.0 385.6h0M398.2 384.7h0M395.5 372.8h0M399.9 386.1h0M393.4 388.7h0M397.0 384.0h0M414.9 384.0h0M402.1 389.4h0M391.9 386.4h0M411.8 383.2h0M392.8 388.8h0M404.8 388.7h0M395.5 385.7h0M395.3 387.4h0M402.4 392.9h0M401.9 391.6h0M398.4 380.8h0M395.1 389.8h0M409.7 381.2h0M396.9 389.1h0M404.4 371.8h0M394.0 391.4h0M408.6 381.8h0M398.2 381.1h0M403.6 393.3h0M405.5 384.9h0M395.6 390.9h0M402.0 388.3h0M410.0 383.6h0M396.7 377.7h0M398.4 391.2h0M395.5 384.4h0M401.2 389.0h0M411.5 389.7h0M417.8 382.1h0M400.6 379.9h0M394.6 390.0h0M404.1 383.8h0M399.3 394.3h0M404.7 383.2h0M406.5 384.0h0M404.5 393.0h0M392.3 383.5h0M399.6 383.2h0M396.4 386.2h0M407.7 381.3h0M392.4 377.0h0M396.0 386.3h0M398.9 383.7h0M404.0 383.0h0M402.0 389.8h0M401.2 386.2h0M392.6 384.5h0M397.0 383.4h0M401.4 392.1h0M413.1 383.1h0M409.5 387.6h0M398.4 381.3h0M397.0 382.6h0M410.9 378.9h0M409.2 379.9h0M402.6 391.7h0M400.2 388.6h0M408.4 384.2h0M396.2 383.6h0M391.2 383.7h0M400.6 389.6h0M400.9 393.8h0M409.2 382.8h0M398.2 386.6h0" stroke="#de2079" stroke-width="2.2" stroke-linecap="round"/>
<path d="M403.0 389.9h0M406.5 378.8h0M393.0 386.5h0M393.5 389.3h0M399.8 386.5h0M405.7 389.9h0M393.4 382.1h0M396.0 387.4h0M392.8 384.3h0M398.4 384.0h0M394.9 394.4h0M408.4 381.8h0M411.5 384.1h0M401.7 387.5h0M404.7 388.1h0M391.5 385.9h0M396.0 377.6h0M397.1 384.5h0M401.8 395.5h0M407.5 382.5h0M407.6 384.1h0M402.3 388.9h0M402.5 393.3h0M401.9 379.1h0M405.9 375.2h0M414.6 381.2h0M410.1 389.7h0M400.7 374.9h0M391.0 385.9h0M400.8 387.6h0M395.0 383.8h0M397.9 385.0h0M411.6 385.9h0M408.7 391.1h0M410.0 391.4h0M390.9 381.7h0M392.9 383.5h0M412.3 384.7h0M399.5 385.0h0M399.2 386.9h0M399.9 382.9h0M398.8 383.6h0M403.7 395.5h0M393.6 375.4h0M399.6 380.8h0M401.9 396.9h0M407.1 394.2h0M403.3 388.6h0M397.5 385.7h0M395.5 371.7h0M411.0 379.0h0M396.9 385.9h0M403.2 386.5h0M404.3 394.0h0M405.0 385.5h0" stroke="#de2079" stroke-width="1.1" stroke-linecap="square"/>
<path d="M391.1 385.3C392.6 385.4 397.0 386.4 400.3 386.1C403.6 385.9 407.7 385.1 411.0 383.8C414.3 382.5 417.5 380.1 420.3 378.4C423.1 376.7 425.7 374.8 428.0 373.8C430.3 372.8 431.4 372.8 434.0 372.3C436.6 371.8 440.2 371.7 443.3 370.8C446.4 369.9 449.7 368.5 452.5 367.0C455.3 365.5 457.9 362.7 460.2 361.9C462.4 361.1 464.2 361.9 466.0 362.3C467.8 362.7 469.3 363.0 471.0 364.2C472.7 365.4 474.5 367.6 476.0 369.5C477.5 371.4 479.4 374.4 480.1 375.4" fill="none" stroke="#111" stroke-width="1.10"/>
<rect x="486.0" y="43.1" width="186.5" height="18.4" fill="#ecdef8" stroke="none" stroke-width="0.60"/>
<text x="493.5" y="55.3" font-size="9.3" fill="#141414" stroke="#141414" stroke-width="0.14" textLength="146.5" lengthAdjust="spacingAndGlyphs">Collagen Biosynthesis And Formation</text>
<text x="641.2" y="52.7" font-size="7.4" font-weight="bold" fill="#141414" letter-spacing="-0.2">*</text>
<rect x="486.0" y="63.0" width="186.5" height="18.2" fill="#ecdef8" stroke="none" stroke-width="0.60"/>
<text x="493.5" y="75.1" font-size="9.3" fill="#141414" stroke="#141414" stroke-width="0.14" textLength="130.2" lengthAdjust="spacingAndGlyphs">Cohesin Loading Onto Chromatin</text>
<text x="624.9" y="72.5" font-size="7.4" font-weight="bold" fill="#141414" letter-spacing="-0.2">*</text>
<rect x="486.0" y="83.3" width="186.5" height="41.8" fill="#ecdef8" stroke="none" stroke-width="0.60"/>
<text x="493.5" y="96.3" font-size="9.3" fill="#141414" stroke="#141414" stroke-width="0.14" textLength="136.2" lengthAdjust="spacingAndGlyphs">GLI Proteins Bind Promoters Of Hh</text>
<text x="493.5" y="107.2" font-size="9.3" fill="#141414" stroke="#141414" stroke-width="0.14" textLength="119.7" lengthAdjust="spacingAndGlyphs">Responsive Genes To Promote</text>
<text x="493.5" y="118.1" font-size="9.3" fill="#141414" stroke="#141414" stroke-width="0.14" textLength="50.9" lengthAdjust="spacingAndGlyphs">Transcription</text>
<text x="545.6" y="115.5" font-size="7.4" font-weight="bold" fill="#141414" letter-spacing="-0.2">*</text>
<rect x="486.0" y="127.4" width="186.5" height="16.6" fill="#ecdef8" stroke="none" stroke-width="0.60"/>
<text x="493.5" y="138.7" font-size="9.3" fill="#141414" stroke="#141414" stroke-width="0.14" textLength="135.6" lengthAdjust="spacingAndGlyphs">Epithelial Mesenchymal Transition</text>
<text x="630.3" y="136.1" font-size="7.4" font-weight="bold" fill="#141414" letter-spacing="-0.2">**</text>
<rect x="486.0" y="146.1" width="186.5" height="17.9" fill="#ecdef8" stroke="none" stroke-width="0.60"/>
<text x="493.5" y="158.1" font-size="9.3" fill="#141414" stroke="#141414" stroke-width="0.14" textLength="119.1" lengthAdjust="spacingAndGlyphs">Mitotic Telophase/Cytokinesis</text>
<text x="613.8" y="155.5" font-size="7.4" font-weight="bold" fill="#141414" letter-spacing="-0.2">*</text>
<rect x="486.0" y="285.8" width="186.5" height="19.2" fill="#7adcdc" stroke="none" stroke-width="0.60"/>
<text x="493.5" y="298.4" font-size="9.3" fill="#141414" stroke="#141414" stroke-width="0.14" textLength="95.8" lengthAdjust="spacingAndGlyphs">Signaling By Interleukins</text>
<text x="590.5" y="295.8" font-size="7.4" font-weight="bold" fill="#141414" letter-spacing="-0.2">*</text>
<rect x="486.0" y="306.8" width="186.5" height="17.7" fill="#7adcdc" stroke="none" stroke-width="0.60"/>
<text x="493.5" y="318.6" font-size="9.3" fill="#141414" stroke="#141414" stroke-width="0.14" textLength="116.1" lengthAdjust="spacingAndGlyphs">Longevity regulating pathway</text>
<text x="613.1" y="316.0" font-size="7.4" font-weight="bold" fill="#141414" letter-spacing="-0.2">**</text>
<rect x="486.0" y="343.7" width="186.5" height="20.8" fill="#9c6ddf" stroke="none" stroke-width="0.60"/>
<text x="493.5" y="357.1" font-size="9.3" fill="#141414" stroke="#141414" stroke-width="0.14" textLength="90.7" lengthAdjust="spacingAndGlyphs">Innate Immune System</text>
<text x="585.4" y="354.5" font-size="7.4" font-weight="bold" fill="#141414" letter-spacing="-0.2">****</text>
<rect x="486.0" y="366.7" width="186.5" height="21.1" fill="#9c6ddf" stroke="none" stroke-width="0.60"/>
<text x="493.5" y="380.2" font-size="9.3" fill="#141414" stroke="#141414" stroke-width="0.14" textLength="135.6" lengthAdjust="spacingAndGlyphs">Epithelial Mesenchymal Transition</text>
<text x="630.3" y="377.6" font-size="7.4" font-weight="bold" fill="#141414" letter-spacing="-0.2">****</text>
<rect x="486.0" y="390.0" width="186.5" height="20.8" fill="#9c6ddf" stroke="none" stroke-width="0.60"/>
<text x="493.5" y="403.4" font-size="9.3" fill="#141414" stroke="#141414" stroke-width="0.14" textLength="141.6" lengthAdjust="spacingAndGlyphs">Regulation Of Complement Cascade</text>
<text x="636.3" y="400.8" font-size="7.4" font-weight="bold" fill="#141414" letter-spacing="-0.2">***</text>
<text x="245.0" y="448.9" font-size="6.62" fill="#000" font-weight="bold" stroke="#000" stroke-width="0.16" textLength="198.0" lengthAdjust="spacingAndGlyphs">Z&#8722;score of Normalized Expression of MI score &gt;0.1 Genes (131)</text>
<line x1="230.2" y1="451.4" x2="230.2" y2="453.0" stroke="#fff" stroke-width="0.70"/>
<line x1="230.2" y1="456.1" x2="230.2" y2="457.7" stroke="#fff" stroke-width="0.70"/>
<line x1="332.0" y1="451.4" x2="332.0" y2="453.0" stroke="#fff" stroke-width="0.70"/>
<line x1="332.0" y1="456.1" x2="332.0" y2="457.7" stroke="#fff" stroke-width="0.70"/>
<line x1="363.5" y1="451.4" x2="363.5" y2="453.0" stroke="#fff" stroke-width="0.70"/>
<line x1="363.5" y1="456.1" x2="363.5" y2="457.7" stroke="#fff" stroke-width="0.70"/>
<line x1="394.8" y1="451.4" x2="394.8" y2="453.0" stroke="#fff" stroke-width="0.70"/>
<line x1="394.8" y1="456.1" x2="394.8" y2="457.7" stroke="#fff" stroke-width="0.70"/>
<line x1="430.5" y1="451.4" x2="430.5" y2="453.0" stroke="#fff" stroke-width="0.70"/>
<line x1="430.5" y1="456.1" x2="430.5" y2="457.7" stroke="#fff" stroke-width="0.70"/>
<line x1="457.5" y1="451.4" x2="457.5" y2="453.0" stroke="#fff" stroke-width="0.70"/>
<line x1="457.5" y1="456.1" x2="457.5" y2="457.7" stroke="#fff" stroke-width="0.70"/>
<text x="207.8" y="463.5" font-size="5.30" fill="#222" text-anchor="middle" stroke="#222" stroke-width="0.16">&#8804;&#8722;1.24</text>
<text x="207.8" y="469.4" font-size="5.30" fill="#222" text-anchor="middle" stroke="#222" stroke-width="0.16">Quantile</text>
<text x="230.4" y="463.5" font-size="5.30" fill="#222" text-anchor="middle" stroke="#222" stroke-width="0.16">&#8722;1.24</text>
<text x="230.4" y="469.4" font-size="5.30" fill="#222" text-anchor="middle" stroke="#222" stroke-width="0.16">5%</text>
<text x="332.2" y="463.5" font-size="5.30" fill="#222" text-anchor="middle" stroke="#222" stroke-width="0.16">0.11</text>
<text x="332.2" y="469.4" font-size="5.30" fill="#222" text-anchor="middle" stroke="#222" stroke-width="0.16">60%</text>
<text x="363.6" y="463.5" font-size="5.30" fill="#222" text-anchor="middle" stroke="#222" stroke-width="0.16">0.53</text>
<text x="363.6" y="469.4" font-size="5.30" fill="#222" text-anchor="middle" stroke="#222" stroke-width="0.16">70%</text>
<text x="394.9" y="463.5" font-size="5.30" fill="#222" text-anchor="middle" stroke="#222" stroke-width="0.16">0.95</text>
<text x="394.9" y="469.4" font-size="5.30" fill="#222" text-anchor="middle" stroke="#222" stroke-width="0.16">80%</text>
<text x="430.6" y="463.5" font-size="5.30" fill="#222" text-anchor="middle" stroke="#222" stroke-width="0.16">1.42</text>
<text x="430.6" y="469.4" font-size="5.30" fill="#222" text-anchor="middle" stroke="#222" stroke-width="0.16">90%</text>
<text x="457.6" y="463.5" font-size="5.30" fill="#222" text-anchor="middle" stroke="#222" stroke-width="0.16">1.78</text>
<text x="457.6" y="469.4" font-size="5.30" fill="#222" text-anchor="middle" stroke="#222" stroke-width="0.16">95%</text>
<text x="480.6" y="463.5" font-size="5.30" fill="#222" text-anchor="middle" stroke="#222" stroke-width="0.16">&gt;1.78</text>
<text x="316.8" y="479.9" font-size="5.40" fill="#000" font-weight="bold" stroke="#000" stroke-width="0.16" textLength="54.2" lengthAdjust="spacingAndGlyphs">Group based on date</text>
<rect x="292.4" y="483.3" width="5.5" height="5.2" fill="#9b0c4f" stroke="none" stroke-width="0.60"/>
<text x="299.7" y="487.9" font-size="5.50" fill="#222" stroke="#222" stroke-width="0.16">LH3</text>
<rect x="313.3" y="483.3" width="5.5" height="5.2" fill="#de2079" stroke="none" stroke-width="0.60"/>
<text x="320.6" y="487.9" font-size="5.50" fill="#222" stroke="#222" stroke-width="0.16">LH5</text>
<rect x="334.3" y="483.3" width="5.5" height="5.2" fill="#de6db2" stroke="none" stroke-width="0.60"/>
<text x="341.6" y="487.9" font-size="5.50" fill="#222" stroke="#222" stroke-width="0.16">LH7</text>
<rect x="355.3" y="483.3" width="5.5" height="5.2" fill="#d5b1dc" stroke="none" stroke-width="0.60"/>
<text x="362.6" y="487.9" font-size="5.50" fill="#222" stroke="#222" stroke-width="0.16">LH9</text>
<rect x="376.0" y="483.3" width="5.5" height="5.2" fill="#fbc3c3" stroke="none" stroke-width="0.60"/>
<text x="383.3" y="487.9" font-size="5.50" fill="#222" stroke="#222" stroke-width="0.16">LH11</text>
<text x="316.2" y="497.0" font-size="5.35" fill="#000" font-weight="bold" stroke="#000" stroke-width="0.16" textLength="55.9" lengthAdjust="spacingAndGlyphs">MI score top 50 genes</text>
<text x="244.0" y="505.5" font-size="6.50" fill="#f05a5a" stroke="#f05a5a" stroke-width="0.16">Gene</text>
<text x="268.9" y="505.0" font-size="5.36" fill="#222" stroke="#222" stroke-width="0.16" textLength="45.7" lengthAdjust="spacingAndGlyphs">Transcription factor</text>
<text x="325.6" y="505.5" font-size="6.50" fill="#e9cc6c" stroke="#e9cc6c" stroke-width="0.16">Gene</text>
<text x="350.9" y="505.0" font-size="5.50" fill="#222" stroke="#222" stroke-width="0.16" textLength="52.5" lengthAdjust="spacingAndGlyphs">Ligand&#8722;receptor gene</text>
<text x="414.2" y="505.5" font-size="6.40" fill="#000" font-weight="bold" stroke="#000" stroke-width="0.16">Gene</text>
<text x="438.7" y="505.0" font-size="5.40" fill="#222" stroke="#222" stroke-width="0.16">other</text>
<text x="1.5" y="545.4" font-size="14.70" fill="#000">b</text>
<text x="121.5" y="571.2" font-size="10.60" fill="#000" font-weight="bold" text-anchor="middle" textLength="96.2" lengthAdjust="spacingAndGlyphs">SenescenceScore</text>
<line x1="44.4" y1="577.0" x2="44.4" y2="637.5" stroke="#333" stroke-width="0.90"/>
<line x1="44.0" y1="637.1" x2="198.5" y2="637.1" stroke="#333" stroke-width="0.90"/>
<line x1="41.2" y1="584.0" x2="44.4" y2="584.0" stroke="#333" stroke-width="0.80"/>
<text x="40.5" y="587.0" font-size="8.60" fill="#333" text-anchor="end" stroke="#333" stroke-width="0.16">0.4</text>
<line x1="41.2" y1="602.5" x2="44.4" y2="602.5" stroke="#333" stroke-width="0.80"/>
<text x="40.5" y="605.5" font-size="8.60" fill="#333" text-anchor="end" stroke="#333" stroke-width="0.16">0.2</text>
<line x1="41.2" y1="621.1" x2="44.4" y2="621.1" stroke="#333" stroke-width="0.80"/>
<text x="40.5" y="624.1" font-size="8.60" fill="#333" text-anchor="end" stroke="#333" stroke-width="0.16">0.0</text>
<line x1="44.4" y1="621.1" x2="198.5" y2="621.1" stroke="#8c8c8c" stroke-width="1.10" stroke-dasharray="3.6,2.4"/>
<line x1="66.6" y1="637.1" x2="66.6" y2="640.4" stroke="#333" stroke-width="0.80"/>
<text x="70.0" y="646.0" font-size="8.0" fill="#333" stroke="#333" stroke-width="0.12" text-anchor="end" transform="rotate(-45 70.0 646.0)">Stromal</text>
<line x1="103.3" y1="637.1" x2="103.3" y2="640.4" stroke="#333" stroke-width="0.80"/>
<text x="106.7" y="646.0" font-size="8.0" fill="#333" stroke="#333" stroke-width="0.12" text-anchor="end" transform="rotate(-45 106.7 646.0)">Unciliated</text>
<line x1="140.0" y1="637.1" x2="140.0" y2="640.4" stroke="#333" stroke-width="0.80"/>
<text x="143.4" y="646.0" font-size="8.0" fill="#333" stroke="#333" stroke-width="0.12" text-anchor="end" transform="rotate(-45 143.4 646.0)">Ciliated</text>
<line x1="176.6" y1="637.1" x2="176.6" y2="640.4" stroke="#333" stroke-width="0.80"/>
<text x="180.0" y="646.0" font-size="8.0" fill="#333" stroke="#333" stroke-width="0.12" text-anchor="end" transform="rotate(-45 180.0 646.0)">Endothelial</text>
<line x1="53.4" y1="601.2" x2="53.4" y2="631.6" stroke="#333" stroke-width="0.70"/>
<path d="M53.4 609.5Q54.2 613.8 56.8 617.3Q54.2 620.5 53.4 624.5Q52.5 620.5 50.0 617.3Q52.5 613.8 53.4 609.5Z" fill="#9b0c4f" stroke="#333" stroke-width="0.55"/>
<line x1="60.0" y1="604.0" x2="60.0" y2="630.4" stroke="#333" stroke-width="0.70"/>
<path d="M60.0 609.5Q60.8 614.1 63.3 617.8Q60.8 621.5 60.0 626.0Q59.2 621.5 56.7 617.8Q59.2 614.1 60.0 609.5Z" fill="#de2079" stroke="#333" stroke-width="0.55"/>
<line x1="66.6" y1="585.2" x2="66.6" y2="632.2" stroke="#333" stroke-width="0.70"/>
<path d="M66.6 601.0Q67.4 607.0 70.0 612.0Q67.4 616.7 66.6 622.5Q65.8 616.7 63.2 612.0Q65.8 607.0 66.6 601.0Z" fill="#de6db2" stroke="#333" stroke-width="0.55"/>
<line x1="73.2" y1="594.0" x2="73.2" y2="627.3" stroke="#333" stroke-width="0.70"/>
<path d="M73.2 598.5Q74.0 604.0 76.6 608.5Q74.0 613.9 73.2 620.5Q72.4 613.9 69.8 608.5Q72.4 604.0 73.2 598.5Z" fill="#d5b1dc" stroke="#333" stroke-width="0.55"/>
<line x1="79.8" y1="579.3" x2="79.8" y2="626.0" stroke="#333" stroke-width="0.70"/>
<path d="M79.8 596.0Q80.6 602.2 83.2 607.3Q80.6 612.3 79.8 618.5Q79.0 612.3 76.4 607.3Q79.0 602.2 79.8 596.0Z" fill="#fbc3c3" stroke="#333" stroke-width="0.55"/>
<line x1="90.1" y1="612.9" x2="90.1" y2="633.0" stroke="#333" stroke-width="0.70"/>
<path d="M90.1 620.5Q90.9 624.3 93.4 627.4Q90.9 629.9 90.1 633.0Q89.3 629.9 86.8 627.4Q89.3 624.3 90.1 620.5Z" fill="#9b0c4f" stroke="#333" stroke-width="0.55"/>
<line x1="96.8" y1="613.0" x2="96.8" y2="633.0" stroke="#333" stroke-width="0.70"/>
<path d="M96.8 623.0Q97.5 625.7 99.6 627.9Q97.5 630.0 96.8 632.5Q96.1 630.0 94.0 627.9Q96.1 625.7 96.8 623.0Z" fill="#de2079" stroke="#333" stroke-width="0.55"/>
<line x1="103.3" y1="601.5" x2="103.3" y2="634.4" stroke="#333" stroke-width="0.70"/>
<path d="M103.3 619.0Q104.0 622.9 106.3 626.0Q104.0 629.1 103.3 633.0Q102.5 629.1 100.3 626.0Q102.5 622.9 103.3 619.0Z" fill="#de6db2" stroke="#333" stroke-width="0.55"/>
<line x1="110.0" y1="601.5" x2="110.0" y2="632.0" stroke="#333" stroke-width="0.70"/>
<path d="M110.0 613.5Q110.8 618.9 113.3 623.4Q110.8 626.4 110.0 630.0Q109.2 626.4 106.7 623.4Q109.2 618.9 110.0 613.5Z" fill="#d5b1dc" stroke="#333" stroke-width="0.55"/>
<line x1="116.4" y1="587.0" x2="116.4" y2="630.4" stroke="#333" stroke-width="0.70"/>
<path d="M116.4 606.0Q117.3 613.5 119.9 619.6Q117.3 624.3 116.4 630.0Q115.5 624.3 112.9 619.6Q115.5 613.5 116.4 606.0Z" fill="#fbc3c3" stroke="#333" stroke-width="0.55"/>
<line x1="126.7" y1="614.0" x2="126.7" y2="633.0" stroke="#333" stroke-width="0.70"/>
<path d="M126.7 620.5Q127.5 624.2 129.9 627.3Q127.5 629.9 126.7 633.0Q125.9 629.9 123.5 627.3Q125.9 624.2 126.7 620.5Z" fill="#9b0c4f" stroke="#333" stroke-width="0.55"/>
<line x1="133.1" y1="612.0" x2="133.1" y2="633.0" stroke="#333" stroke-width="0.70"/>
<path d="M133.1 621.0Q133.8 624.6 136.1 627.5Q133.8 630.0 133.1 633.0Q132.3 630.0 130.1 627.5Q132.3 624.6 133.1 621.0Z" fill="#de2079" stroke="#333" stroke-width="0.55"/>
<line x1="139.8" y1="598.0" x2="139.8" y2="632.2" stroke="#333" stroke-width="0.70"/>
<path d="M139.8 618.0Q140.6 622.2 143.0 625.7Q140.6 628.5 139.8 632.0Q139.0 628.5 136.6 625.7Q139.0 622.2 139.8 618.0Z" fill="#de6db2" stroke="#333" stroke-width="0.55"/>
<line x1="146.3" y1="611.0" x2="146.3" y2="633.0" stroke="#333" stroke-width="0.70"/>
<path d="M146.3 618.0Q147.1 622.4 149.5 626.0Q147.1 629.1 146.3 633.0Q145.5 629.1 143.1 626.0Q145.5 622.4 146.3 618.0Z" fill="#d5b1dc" stroke="#333" stroke-width="0.55"/>
<line x1="152.9" y1="602.4" x2="152.9" y2="629.5" stroke="#333" stroke-width="0.70"/>
<path d="M152.9 613.0Q153.8 618.7 156.3 623.4Q153.8 626.4 152.9 630.0Q152.1 626.4 149.5 623.4Q152.1 618.7 152.9 613.0Z" fill="#fbc3c3" stroke="#333" stroke-width="0.55"/>
<line x1="162.9" y1="607.0" x2="162.9" y2="629.2" stroke="#333" stroke-width="0.70"/>
<path d="M162.9 612.0Q163.7 617.3 166.1 621.7Q163.7 625.0 162.9 629.0Q162.1 625.0 159.7 621.7Q162.1 617.3 162.9 612.0Z" fill="#9b0c4f" stroke="#333" stroke-width="0.55"/>
<line x1="169.9" y1="608.9" x2="169.9" y2="627.8" stroke="#333" stroke-width="0.70"/>
<path d="M168.2 608.9L171.6 608.9L173.0 615.5L171.8 627.8L168.0 627.8L166.8 615.5Z" fill="#de2079" stroke="#333" stroke-width="0.55"/>
<line x1="176.4" y1="599.8" x2="176.4" y2="630.4" stroke="#333" stroke-width="0.70"/>
<path d="M176.4 607.0Q177.2 614.6 179.6 620.8Q177.2 624.9 176.4 630.0Q175.6 624.9 173.2 620.8Q175.6 614.6 176.4 607.0Z" fill="#de6db2" stroke="#333" stroke-width="0.55"/>
<line x1="183.0" y1="602.4" x2="183.0" y2="630.4" stroke="#333" stroke-width="0.70"/>
<path d="M183.0 606.0Q183.8 612.2 186.4 617.3Q183.8 622.1 183.0 628.0Q182.2 622.1 179.6 617.3Q182.2 612.2 183.0 606.0Z" fill="#d5b1dc" stroke="#333" stroke-width="0.55"/>
<line x1="189.5" y1="586.3" x2="189.5" y2="626.4" stroke="#333" stroke-width="0.70"/>
<path d="M189.5 598.0Q190.3 604.8 192.9 610.3Q190.3 616.0 189.5 623.0Q188.7 616.0 186.1 610.3Q188.7 604.8 189.5 598.0Z" fill="#fbc3c3" stroke="#333" stroke-width="0.55"/>
<rect x="207.3" y="586.2" width="8.7" height="9.0" fill="#9b0c4f" stroke="#666" stroke-width="0.60"/>
<text x="221.0" y="593.1" font-size="7.80" fill="#333" stroke="#333" stroke-width="0.16">LH3</text>
<rect x="207.3" y="595.5" width="8.7" height="9.0" fill="#de2079" stroke="#666" stroke-width="0.60"/>
<text x="221.0" y="602.4" font-size="7.80" fill="#333" stroke="#333" stroke-width="0.16">LH5</text>
<rect x="207.3" y="604.8" width="8.7" height="9.0" fill="#de6db2" stroke="#666" stroke-width="0.60"/>
<text x="221.0" y="611.7" font-size="7.80" fill="#333" stroke="#333" stroke-width="0.16">LH7</text>
<rect x="207.3" y="614.0" width="8.7" height="9.0" fill="#d5b1dc" stroke="#666" stroke-width="0.60"/>
<text x="221.0" y="620.9" font-size="7.80" fill="#333" stroke="#333" stroke-width="0.16">LH9</text>
<rect x="207.3" y="623.3" width="8.7" height="9.0" fill="#fbc3c3" stroke="#666" stroke-width="0.60"/>
<text x="221.0" y="630.2" font-size="7.80" fill="#333" stroke="#333" stroke-width="0.16">LH11</text>
<text x="260.4" y="549.3" font-size="15.30" fill="#000" stroke="#000" stroke-width="0.25">c</text>
<path d="M343.9 649.8C344.6 648.1 345.6 643.0 348.0 639.4C350.4 635.8 354.8 630.7 358.2 628.3C361.5 625.8 364.7 625.8 368.2 624.6C371.7 623.5 375.5 622.3 379.2 621.3C382.8 620.3 387.3 619.7 390.0 618.6C392.8 617.4 393.2 615.6 395.7 614.4C398.3 613.3 402.4 612.4 405.3 611.9C408.2 611.5 410.9 611.2 413.2 611.6C415.4 612.0 417.3 613.0 418.9 614.3C420.5 615.7 421.9 617.6 422.9 619.8C423.8 622.0 424.5 624.7 424.5 627.5C424.4 630.3 423.6 633.8 422.6 636.6C421.6 639.4 420.1 642.1 418.5 644.2C416.8 646.4 414.9 648.2 412.7 649.7C410.4 651.2 408.0 652.1 404.9 653.3C401.7 654.4 397.4 655.5 393.7 656.5C390.0 657.6 387.2 658.4 382.8 659.5C378.5 660.5 371.8 662.1 367.6 662.9C363.4 663.7 361.0 664.4 357.6 664.3C354.3 664.1 350.0 663.1 347.6 661.8C345.2 660.5 344.0 658.5 343.4 656.5C342.8 654.5 343.8 650.9 343.9 649.8Z" fill="#c06ba8"/>
<path d="M342.1 649.2a1.85 1.85 0 1 0 0.01 0M343.0 649.1a1.85 1.85 0 1 0 0.01 0M343.2 647.9a1.85 1.85 0 1 0 0.01 0M342.2 646.0a1.85 1.85 0 1 0 0.01 0M343.8 644.8a1.85 1.85 0 1 0 0.01 0M343.9 644.4a1.85 1.85 0 1 0 0.01 0M343.4 643.0a1.85 1.85 0 1 0 0.01 0M344.6 642.2a1.85 1.85 0 1 0 0.01 0M342.1 640.5a1.85 1.85 0 1 0 0.01 0M344.6 638.9a1.85 1.85 0 1 0 0.01 0M344.0 638.1a1.85 1.85 0 1 0 0.01 0M348.6 638.0a1.85 1.85 0 1 0 0.01 0M345.9 636.1a1.85 1.85 0 1 0 0.01 0M347.1 635.8a1.85 1.85 0 1 0 0.01 0M348.0 635.1a1.85 1.85 0 1 0 0.01 0M350.7 633.1a1.85 1.85 0 1 0 0.01 0M349.3 632.0a1.85 1.85 0 1 0 0.01 0M349.3 630.8a1.85 1.85 0 1 0 0.01 0M353.1 630.9a1.85 1.85 0 1 0 0.01 0M351.6 629.7a1.85 1.85 0 1 0 0.01 0M355.3 629.2a1.85 1.85 0 1 0 0.01 0M357.2 628.6a1.85 1.85 0 1 0 0.01 0M356.1 628.0a1.85 1.85 0 1 0 0.01 0M356.9 626.3a1.85 1.85 0 1 0 0.01 0M359.8 627.3a1.85 1.85 0 1 0 0.01 0M360.7 625.6a1.85 1.85 0 1 0 0.01 0M361.5 626.0a1.85 1.85 0 1 0 0.01 0M364.0 626.1a1.85 1.85 0 1 0 0.01 0M364.0 624.5a1.85 1.85 0 1 0 0.01 0M366.5 624.4a1.85 1.85 0 1 0 0.01 0M365.0 623.4a1.85 1.85 0 1 0 0.01 0M367.9 622.9a1.85 1.85 0 1 0 0.01 0M369.3 623.5a1.85 1.85 0 1 0 0.01 0M369.1 621.3a1.85 1.85 0 1 0 0.01 0M371.6 621.7a1.85 1.85 0 1 0 0.01 0M373.7 622.6a1.85 1.85 0 1 0 0.01 0M374.6 622.1a1.85 1.85 0 1 0 0.01 0M376.3 622.1a1.85 1.85 0 1 0 0.01 0M377.8 620.2a1.85 1.85 0 1 0 0.01 0M378.2 620.1a1.85 1.85 0 1 0 0.01 0M379.8 621.4a1.85 1.85 0 1 0 0.01 0M380.7 618.8a1.85 1.85 0 1 0 0.01 0M381.9 619.2a1.85 1.85 0 1 0 0.01 0M382.6 619.9a1.85 1.85 0 1 0 0.01 0M384.4 617.8a1.85 1.85 0 1 0 0.01 0M385.7 618.7a1.85 1.85 0 1 0 0.01 0M386.6 616.1a1.85 1.85 0 1 0 0.01 0M387.8 618.4a1.85 1.85 0 1 0 0.01 0M389.7 616.7a1.85 1.85 0 1 0 0.01 0M391.2 615.1a1.85 1.85 0 1 0 0.01 0M391.1 615.7a1.85 1.85 0 1 0 0.01 0M394.0 612.2a1.85 1.85 0 1 0 0.01 0M395.4 612.1a1.85 1.85 0 1 0 0.01 0M394.6 614.1a1.85 1.85 0 1 0 0.01 0M397.6 611.2a1.85 1.85 0 1 0 0.01 0M399.4 609.9a1.85 1.85 0 1 0 0.01 0M398.5 612.9a1.85 1.85 0 1 0 0.01 0M401.4 611.5a1.85 1.85 0 1 0 0.01 0M401.5 611.9a1.85 1.85 0 1 0 0.01 0M403.3 611.7a1.85 1.85 0 1 0 0.01 0M403.8 610.5a1.85 1.85 0 1 0 0.01 0M406.3 609.3a1.85 1.85 0 1 0 0.01 0M408.2 608.7a1.85 1.85 0 1 0 0.01 0M408.0 611.1a1.85 1.85 0 1 0 0.01 0M409.8 610.4a1.85 1.85 0 1 0 0.01 0M409.3 611.2a1.85 1.85 0 1 0 0.01 0M411.7 611.1a1.85 1.85 0 1 0 0.01 0M414.6 610.3a1.85 1.85 0 1 0 0.01 0M415.2 611.7a1.85 1.85 0 1 0 0.01 0M415.7 613.3a1.85 1.85 0 1 0 0.01 0M416.5 614.0a1.85 1.85 0 1 0 0.01 0M417.8 612.5a1.85 1.85 0 1 0 0.01 0M418.0 616.2a1.85 1.85 0 1 0 0.01 0M419.3 616.1a1.85 1.85 0 1 0 0.01 0M421.7 615.7a1.85 1.85 0 1 0 0.01 0M419.7 618.6a1.85 1.85 0 1 0 0.01 0M423.8 617.8a1.85 1.85 0 1 0 0.01 0M421.4 620.2a1.85 1.85 0 1 0 0.01 0M421.8 622.1a1.85 1.85 0 1 0 0.01 0M423.1 623.3a1.85 1.85 0 1 0 0.01 0M422.7 625.1a1.85 1.85 0 1 0 0.01 0M423.3 626.4a1.85 1.85 0 1 0 0.01 0M422.1 628.0a1.85 1.85 0 1 0 0.01 0M424.6 628.1a1.85 1.85 0 1 0 0.01 0M421.6 629.3a1.85 1.85 0 1 0 0.01 0M423.0 631.4a1.85 1.85 0 1 0 0.01 0M422.0 632.0a1.85 1.85 0 1 0 0.01 0M424.3 633.8a1.85 1.85 0 1 0 0.01 0M423.6 635.1a1.85 1.85 0 1 0 0.01 0M422.7 636.6a1.85 1.85 0 1 0 0.01 0M419.8 637.2a1.85 1.85 0 1 0 0.01 0M423.1 639.0a1.85 1.85 0 1 0 0.01 0M418.8 639.5a1.85 1.85 0 1 0 0.01 0M420.1 641.5a1.85 1.85 0 1 0 0.01 0M417.3 642.4a1.85 1.85 0 1 0 0.01 0M417.6 643.9a1.85 1.85 0 1 0 0.01 0M419.7 644.1a1.85 1.85 0 1 0 0.01 0M417.0 645.0a1.85 1.85 0 1 0 0.01 0M416.9 646.2a1.85 1.85 0 1 0 0.01 0M415.6 647.2a1.85 1.85 0 1 0 0.01 0M414.9 649.2a1.85 1.85 0 1 0 0.01 0M414.1 650.2a1.85 1.85 0 1 0 0.01 0M414.0 650.9a1.85 1.85 0 1 0 0.01 0M412.1 651.2a1.85 1.85 0 1 0 0.01 0M408.2 651.0a1.85 1.85 0 1 0 0.01 0M409.9 652.2a1.85 1.85 0 1 0 0.01 0M406.8 652.0a1.85 1.85 0 1 0 0.01 0M405.3 652.2a1.85 1.85 0 1 0 0.01 0M405.6 653.6a1.85 1.85 0 1 0 0.01 0M405.3 654.1a1.85 1.85 0 1 0 0.01 0M402.0 654.5a1.85 1.85 0 1 0 0.01 0M401.8 654.4a1.85 1.85 0 1 0 0.01 0M399.2 653.9a1.85 1.85 0 1 0 0.01 0M398.3 655.1a1.85 1.85 0 1 0 0.01 0M399.4 658.4a1.85 1.85 0 1 0 0.01 0M396.4 655.7a1.85 1.85 0 1 0 0.01 0M394.3 655.9a1.85 1.85 0 1 0 0.01 0M393.9 658.1a1.85 1.85 0 1 0 0.01 0M392.2 659.6a1.85 1.85 0 1 0 0.01 0M391.4 657.5a1.85 1.85 0 1 0 0.01 0M388.9 657.6a1.85 1.85 0 1 0 0.01 0M387.8 659.0a1.85 1.85 0 1 0 0.01 0M387.3 661.7a1.85 1.85 0 1 0 0.01 0M385.6 658.6a1.85 1.85 0 1 0 0.01 0M385.2 659.3a1.85 1.85 0 1 0 0.01 0M382.8 659.6a1.85 1.85 0 1 0 0.01 0M381.8 661.0a1.85 1.85 0 1 0 0.01 0M380.9 658.8a1.85 1.85 0 1 0 0.01 0M379.0 663.1a1.85 1.85 0 1 0 0.01 0M379.1 659.9a1.85 1.85 0 1 0 0.01 0M377.6 661.4a1.85 1.85 0 1 0 0.01 0M374.2 663.8a1.85 1.85 0 1 0 0.01 0M374.8 661.1a1.85 1.85 0 1 0 0.01 0M373.8 661.0a1.85 1.85 0 1 0 0.01 0M372.1 661.3a1.85 1.85 0 1 0 0.01 0M370.6 662.5a1.85 1.85 0 1 0 0.01 0M367.6 665.1a1.85 1.85 0 1 0 0.01 0M367.7 661.5a1.85 1.85 0 1 0 0.01 0M367.5 662.4a1.85 1.85 0 1 0 0.01 0M364.3 665.3a1.85 1.85 0 1 0 0.01 0M361.8 665.1a1.85 1.85 0 1 0 0.01 0M361.4 665.2a1.85 1.85 0 1 0 0.01 0M360.0 666.6a1.85 1.85 0 1 0 0.01 0M357.5 665.9a1.85 1.85 0 1 0 0.01 0M358.7 664.2a1.85 1.85 0 1 0 0.01 0M355.7 664.8a1.85 1.85 0 1 0 0.01 0M355.4 664.3a1.85 1.85 0 1 0 0.01 0M352.8 665.9a1.85 1.85 0 1 0 0.01 0M352.8 663.7a1.85 1.85 0 1 0 0.01 0M351.0 663.4a1.85 1.85 0 1 0 0.01 0M348.6 665.4a1.85 1.85 0 1 0 0.01 0M347.8 663.9a1.85 1.85 0 1 0 0.01 0M347.7 661.8a1.85 1.85 0 1 0 0.01 0M344.9 663.7a1.85 1.85 0 1 0 0.01 0M343.5 662.9a1.85 1.85 0 1 0 0.01 0M345.8 660.7a1.85 1.85 0 1 0 0.01 0M342.3 661.5a1.85 1.85 0 1 0 0.01 0M341.5 659.9a1.85 1.85 0 1 0 0.01 0M339.1 658.9a1.85 1.85 0 1 0 0.01 0M340.2 656.4a1.85 1.85 0 1 0 0.01 0M339.2 656.5a1.85 1.85 0 1 0 0.01 0M338.7 655.4a1.85 1.85 0 1 0 0.01 0M339.0 653.5a1.85 1.85 0 1 0 0.01 0M340.6 651.3a1.85 1.85 0 1 0 0.01 0M352.3 667.3a1.85 1.85 0 1 0 0.01 0M426.9 623.5a1.85 1.85 0 1 0 0.01 0M361.4 621.9a1.85 1.85 0 1 0 0.01 0M413.2 654.3a1.85 1.85 0 1 0 0.01 0M421.9 612.2a1.85 1.85 0 1 0 0.01 0M340.7 662.3a1.85 1.85 0 1 0 0.01 0M376.2 614.8a1.85 1.85 0 1 0 0.01 0M363.9 620.5a1.85 1.85 0 1 0 0.01 0M336.1 654.3a1.85 1.85 0 1 0 0.01 0M418.9 651.4a1.85 1.85 0 1 0 0.01 0M418.8 650.5a1.85 1.85 0 1 0 0.01 0M414.7 609.0a1.85 1.85 0 1 0 0.01 0M426.5 619.2a1.85 1.85 0 1 0 0.01 0M424.8 616.6a1.85 1.85 0 1 0 0.01 0M372.6 615.5a1.85 1.85 0 1 0 0.01 0M428.1 616.6a1.85 1.85 0 1 0 0.01 0M386.4 613.8a1.85 1.85 0 1 0 0.01 0M376.0 664.7a1.85 1.85 0 1 0 0.01 0M372.8 618.5a1.85 1.85 0 1 0 0.01 0M409.2 658.0a1.85 1.85 0 1 0 0.01 0M351.5 668.8a1.85 1.85 0 1 0 0.01 0M416.2 606.4a1.85 1.85 0 1 0 0.01 0M371.1 617.3a1.85 1.85 0 1 0 0.01 0M355.8 625.0a1.85 1.85 0 1 0 0.01 0M345.0 631.7a1.85 1.85 0 1 0 0.01 0M390.6 613.3a1.85 1.85 0 1 0 0.01 0M422.3 612.1a1.85 1.85 0 1 0 0.01 0M367.4 620.0a1.85 1.85 0 1 0 0.01 0M425.9 631.8a1.85 1.85 0 1 0 0.01 0M334.9 656.0a1.85 1.85 0 1 0 0.01 0M428.9 629.8a1.85 1.85 0 1 0 0.01 0M422.6 611.1a1.85 1.85 0 1 0 0.01 0M339.9 664.9a1.85 1.85 0 1 0 0.01 0M389.6 610.7a1.85 1.85 0 1 0 0.01 0M339.2 663.6a1.85 1.85 0 1 0 0.01 0M336.3 653.1a1.85 1.85 0 1 0 0.01 0M407.4 658.4a1.85 1.85 0 1 0 0.01 0M342.1 666.4a1.85 1.85 0 1 0 0.01 0M375.3 614.9a1.85 1.85 0 1 0 0.01 0M425.1 642.2a1.85 1.85 0 1 0 0.01 0M428.6 629.0a1.85 1.85 0 1 0 0.01 0M396.4 661.5a1.85 1.85 0 1 0 0.01 0M419.4 649.7a1.85 1.85 0 1 0 0.01 0M335.6 651.8a1.85 1.85 0 1 0 0.01 0M418.6 651.9a1.85 1.85 0 1 0 0.01 0M403.1 607.5a1.85 1.85 0 1 0 0.01 0M395.7 608.0a1.85 1.85 0 1 0 0.01 0M336.7 646.8a1.85 1.85 0 1 0 0.01 0M410.7 657.5a1.85 1.85 0 1 0 0.01 0M425.6 618.2a1.85 1.85 0 1 0 0.01 0M337.5 645.6a1.85 1.85 0 1 0 0.01 0M388.3 612.0a1.85 1.85 0 1 0 0.01 0M364.8 668.2a1.85 1.85 0 1 0 0.01 0M393.7 609.1a1.85 1.85 0 1 0 0.01 0M338.3 664.3a1.85 1.85 0 1 0 0.01 0M404.1 608.3a1.85 1.85 0 1 0 0.01 0M385.6 664.7a1.85 1.85 0 1 0 0.01 0M334.6 660.3a1.85 1.85 0 1 0 0.01 0M382.2 666.4a1.85 1.85 0 1 0 0.01 0M346.2 665.6a1.85 1.85 0 1 0 0.01 0M450.4 568.4a1.85 1.85 0 1 0 0.01 0M432.4 574.0a1.85 1.85 0 1 0 0.01 0M432.9 576.9a1.85 1.85 0 1 0 0.01 0M440.6 579.1a1.85 1.85 0 1 0 0.01 0M391.2 586.0a1.85 1.85 0 1 0 0.01 0M434.3 586.4a1.85 1.85 0 1 0 0.01 0M433.3 590.5a1.85 1.85 0 1 0 0.01 0M409.9 591.2a1.85 1.85 0 1 0 0.01 0M436.5 594.7a1.85 1.85 0 1 0 0.01 0M418.8 596.9a1.85 1.85 0 1 0 0.01 0M426.0 598.8a1.85 1.85 0 1 0 0.01 0M424.8 601.4a1.85 1.85 0 1 0 0.01 0M442.0 599.1a1.85 1.85 0 1 0 0.01 0M397.1 602.0a1.85 1.85 0 1 0 0.01 0M441.9 605.8a1.85 1.85 0 1 0 0.01 0M451.1 607.1a1.85 1.85 0 1 0 0.01 0M458.8 608.6a1.85 1.85 0 1 0 0.01 0M382.8 606.8a1.85 1.85 0 1 0 0.01 0M405.5 605.4a1.85 1.85 0 1 0 0.01 0M441.6 614.6a1.85 1.85 0 1 0 0.01 0M450.8 622.2a1.85 1.85 0 1 0 0.01 0M439.4 628.0a1.85 1.85 0 1 0 0.01 0M333.3 641.5a1.85 1.85 0 1 0 0.01 0M335.1 655.0a1.85 1.85 0 1 0 0.01 0M362.8 608.5a1.85 1.85 0 1 0 0.01 0M363.8 615.3a1.85 1.85 0 1 0 0.01 0M376.1 614.2a1.85 1.85 0 1 0 0.01 0M385.4 612.8a1.85 1.85 0 1 0 0.01 0M393.6 608.5a1.85 1.85 0 1 0 0.01 0M400.1 604.8a1.85 1.85 0 1 0 0.01 0M427.6 608.0a1.85 1.85 0 1 0 0.01 0M430.6 613.5a1.85 1.85 0 1 0 0.01 0M427.1 633.0a1.85 1.85 0 1 0 0.01 0M431.1 625.0a1.85 1.85 0 1 0 0.01 0M416.6 655.0a1.85 1.85 0 1 0 0.01 0" fill="none" stroke="#c06ba8" stroke-width="0.6"/>
<rect x="330.6" y="564.5" width="134.8" height="105.6" fill="none" stroke="#333" stroke-width="0.80"/>
<line x1="325.1" y1="564.9" x2="330.6" y2="564.9" stroke="#333" stroke-width="0.80"/>
<text x="318.2" y="564.9" font-size="6.8" fill="#222" stroke="#222" stroke-width="0.15" text-anchor="middle" transform="rotate(-90 318.2 564.9)">0.3</text>
<line x1="325.1" y1="590.9" x2="330.6" y2="590.9" stroke="#333" stroke-width="0.80"/>
<text x="318.2" y="590.9" font-size="6.8" fill="#222" stroke="#222" stroke-width="0.15" text-anchor="middle" transform="rotate(-90 318.2 590.9)">0.2</text>
<line x1="325.1" y1="617.0" x2="330.6" y2="617.0" stroke="#333" stroke-width="0.80"/>
<text x="318.2" y="617.0" font-size="6.8" fill="#222" stroke="#222" stroke-width="0.15" text-anchor="middle" transform="rotate(-90 318.2 617.0)">0.1</text>
<line x1="325.1" y1="643.0" x2="330.6" y2="643.0" stroke="#333" stroke-width="0.80"/>
<text x="318.2" y="643.0" font-size="6.8" fill="#222" stroke="#222" stroke-width="0.15" text-anchor="middle" transform="rotate(-90 318.2 643.0)">0.0</text>
<line x1="325.1" y1="669.1" x2="330.6" y2="669.1" stroke="#333" stroke-width="0.80"/>
<text x="318.2" y="669.1" font-size="6.8" fill="#222" stroke="#222" stroke-width="0.15" text-anchor="middle" transform="rotate(-90 318.2 669.1)">&#8722;0.1</text>
<line x1="339.5" y1="670.1" x2="339.5" y2="675.0" stroke="#333" stroke-width="0.80"/>
<text x="339.5" y="688.0" font-size="6.80" fill="#222" text-anchor="middle" stroke="#222" stroke-width="0.16">&#8722;0.1</text>
<line x1="363.0" y1="670.1" x2="363.0" y2="675.0" stroke="#333" stroke-width="0.80"/>
<text x="363.0" y="688.0" font-size="6.80" fill="#222" text-anchor="middle" stroke="#222" stroke-width="0.16">0.0</text>
<line x1="386.5" y1="670.1" x2="386.5" y2="675.0" stroke="#333" stroke-width="0.80"/>
<text x="386.5" y="688.0" font-size="6.80" fill="#222" text-anchor="middle" stroke="#222" stroke-width="0.16">0.1</text>
<line x1="410.0" y1="670.1" x2="410.0" y2="675.0" stroke="#333" stroke-width="0.80"/>
<text x="410.0" y="688.0" font-size="6.80" fill="#222" text-anchor="middle" stroke="#222" stroke-width="0.16">0.2</text>
<line x1="433.5" y1="670.1" x2="433.5" y2="675.0" stroke="#333" stroke-width="0.80"/>
<text x="433.5" y="688.0" font-size="6.80" fill="#222" text-anchor="middle" stroke="#222" stroke-width="0.16">0.3</text>
<line x1="457.0" y1="670.1" x2="457.0" y2="675.0" stroke="#333" stroke-width="0.80"/>
<text x="457.0" y="688.0" font-size="6.80" fill="#222" text-anchor="middle" stroke="#222" stroke-width="0.16">0.4</text>
<text x="349.9" y="580.1" font-size="6.80" fill="#222" stroke="#222" stroke-width="0.16">R = 0.54</text>
<text x="334.8" y="592.9" font-size="7.00" fill="#222" stroke="#222" stroke-width="0.16">p&#8722;value &lt; 2.2e&#8722;16</text>
<text x="299.9" y="616.8" font-size="8.2" fill="#222" stroke="#222" stroke-width="0.15" text-anchor="middle" transform="rotate(-90 299.9 616.8)">Inflammation score</text>
<text x="398.0" y="707.2" font-size="8.10" fill="#222" text-anchor="middle" stroke="#222" stroke-width="0.16">Senescence score</text>
</svg>
</body></html>
